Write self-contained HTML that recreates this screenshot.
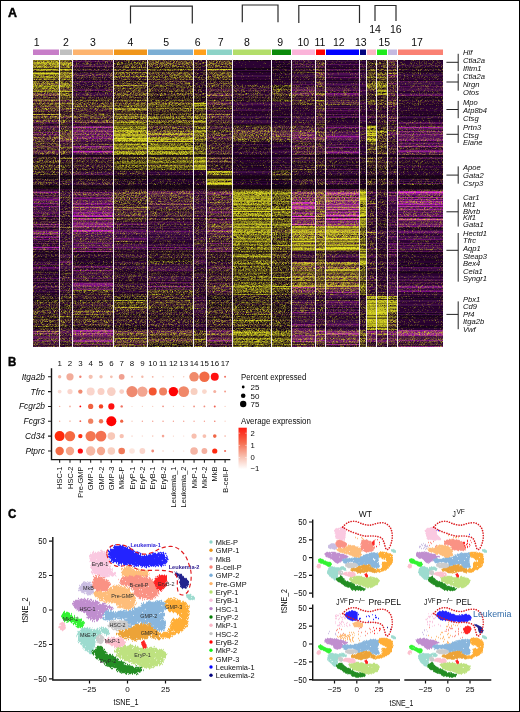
<!DOCTYPE html>
<html><head><meta charset="utf-8"><title>Figure</title>
<style>
html,body{margin:0;padding:0;background:#fff;}
body{width:520px;height:712px;overflow:hidden;position:relative;}
#frame{position:absolute;left:0;top:0;width:518px;height:710px;border:1px solid #000;background:#fff;}
svg{position:absolute;left:0;top:0;font-family:"Liberation Sans",sans-serif;}
</style></head><body>
<div id="frame"></div>
<svg width="520" height="712" viewBox="0 0 520 712" fill="#0a0a0a">
<g opacity="0.996">
<text x="8" y="16.9" font-size="12.8" font-weight="bold" fill="#000" stroke="#000" stroke-width=".45" textLength="9" lengthAdjust="spacingAndGlyphs">A</text>
<text x="8" y="366.1" font-size="12.8" font-weight="bold" fill="#000" stroke="#000" stroke-width=".45" textLength="8.3" lengthAdjust="spacingAndGlyphs">B</text>
<text x="8" y="518.3" font-size="12.8" font-weight="bold" fill="#000" stroke="#000" stroke-width=".45" textLength="8.3" lengthAdjust="spacingAndGlyphs">C</text>
<rect x="33" y="49.5" width="26" height="5.5" fill="#c77cc8"/>
<rect x="60" y="49.5" width="12" height="5.5" fill="#c0c0c0"/>
<rect x="73" y="49.5" width="40" height="5.5" fill="#fdb46e"/>
<rect x="114" y="49.5" width="33" height="5.5" fill="#f0961a"/>
<rect x="148" y="49.5" width="45" height="5.5" fill="#7bafd4"/>
<rect x="194" y="49.5" width="12" height="5.5" fill="#ffa01a"/>
<rect x="207" y="49.5" width="25" height="5.5" fill="#8dd3c7"/>
<rect x="233" y="49.5" width="38" height="5.5" fill="#b3de69"/>
<rect x="272" y="49.5" width="19" height="5.5" fill="#0a8a0a"/>
<rect x="292" y="49.5" width="23" height="5.5" fill="#fbb4d9"/>
<rect x="316" y="49.5" width="9" height="5.5" fill="#ff0000"/>
<rect x="326" y="49.5" width="33" height="5.5" fill="#0000ff"/>
<rect x="360" y="49.5" width="6" height="5.5" fill="#000080"/>
<rect x="367" y="49.5" width="9" height="5.5" fill="#fbb4c4"/>
<rect x="377" y="49.5" width="10" height="5.5" fill="#1eea1e"/>
<rect x="388" y="49.5" width="9" height="5.5" fill="#c5b9e0"/>
<rect x="398" y="49.5" width="45" height="5.5" fill="#fa8072"/>
<text x="36.75" y="45.5" font-size="10.5" text-anchor="middle">1</text>
<text x="66" y="45.5" font-size="10.5" text-anchor="middle">2</text>
<text x="93" y="45.5" font-size="10.5" text-anchor="middle">3</text>
<text x="130.3" y="45.5" font-size="10.5" text-anchor="middle">4</text>
<text x="166.25" y="45.5" font-size="10.5" text-anchor="middle">5</text>
<text x="197.75" y="45.5" font-size="10.5" text-anchor="middle">6</text>
<text x="220.75" y="45.5" font-size="10.5" text-anchor="middle">7</text>
<text x="247" y="45.5" font-size="10.5" text-anchor="middle">8</text>
<text x="280.25" y="45.5" font-size="10.5" text-anchor="middle">9</text>
<text x="303.25" y="45.5" font-size="10.5" text-anchor="middle">10</text>
<text x="320" y="45.5" font-size="10.5" text-anchor="middle">11</text>
<text x="338.75" y="45.5" font-size="10.5" text-anchor="middle">12</text>
<text x="360.75" y="45.5" font-size="10.5" text-anchor="middle">13</text>
<text x="375" y="33.2" font-size="10.5" text-anchor="middle">14</text>
<text x="384.25" y="45.5" font-size="10.5" text-anchor="middle">15</text>
<text x="395.75" y="33.2" font-size="10.5" text-anchor="middle">16</text>
<text x="417" y="45.5" font-size="10.5" text-anchor="middle">17</text>
<path d="M130.5 23.6V6.2H192.3V23.6" fill="none" stroke="#2a2a2a" stroke-width="1.2"/>
<path d="M242.3 22.3V5H278V22.3" fill="none" stroke="#2a2a2a" stroke-width="1.2"/>
<path d="M298.8 23V5.5H359.5V23" fill="none" stroke="#2a2a2a" stroke-width="1.2"/>
<path d="M375 21V5.5H396V21" fill="none" stroke="#2a2a2a" stroke-width="1.2"/>
<defs><pattern id="y1" width="43" height="31" patternUnits="userSpaceOnUse"><path stroke="#e6e620" stroke-opacity="0.1" d="M6 0.5h1M30 0.5h1M5 1.5h2M21 1.5h1M27 1.5h1M38 2.5h1M2 3.5h1M11 3.5h1M4 5.5h1M39 5.5h2M2 6.5h1M3 7.5h1M17 7.5h1M36 7.5h1M13 9.5h1M1 10.5h1M8 10.5h1M24 10.5h1M26 11.5h2M14 13.5h1M18 14.5h1M26 15.5h1M31 16.5h1M38 16.5h1M2 17.5h1M10 19.5h1M20 19.5h1M12 21.5h1M24 21.5h1M11 22.5h1M5 23.5h1M37 23.5h1M6 24.5h2M2 25.5h1M11 25.5h1M37 25.5h2M9 26.5h1M0 28.5h1M6 28.5h1M9 28.5h1M29 28.5h1M38 28.5h1M4 29.5h1M15 29.5h1M33 29.5h1"/><path stroke="#e6e620" stroke-opacity="0.2" d="M15 0.5h1M24 0.5h1M15 2.5h1M30 2.5h1M19 3.5h1M26 3.5h1M5 5.5h1M30 5.5h1M42 6.5h1M14 7.5h1M30 7.5h2M26 9.5h1M40 9.5h1M2 10.5h1M16 10.5h1M23 10.5h1M41 10.5h1M4 11.5h1M18 11.5h1M34 11.5h1M13 12.5h1M19 12.5h2M27 12.5h1M17 13.5h1M37 13.5h1M8 14.5h1M11 14.5h1M20 14.5h1M26 14.5h1M42 15.5h1M7 17.5h1M15 17.5h1M27 17.5h1M34 18.5h1M14 19.5h1M32 19.5h1M20 20.5h1M7 21.5h1M21 21.5h1M42 21.5h1M21 22.5h1M27 22.5h1M39 22.5h1M41 22.5h1M3 23.5h1M11 23.5h1M13 23.5h1M19 23.5h1M25 23.5h1M31 23.5h2M36 23.5h1M38 23.5h1M5 24.5h1M19 24.5h1M28 24.5h1M36 24.5h2M4 25.5h2M14 26.5h1M5 27.5h2M11 27.5h1M16 27.5h1M3 28.5h1M1 29.5h1M3 29.5h1M13 29.5h1M18 29.5h1M20 29.5h1M23 29.5h3M19 30.5h1M34 30.5h1M42 30.5h1"/><path stroke="#e6e620" stroke-opacity="0.3" d="M7 1.5h1M13 10.5h1M28 14.5h1M33 14.5h1M11 16.5h1"/><path stroke="#e6e620" stroke-opacity="0.4" d="M9 7.5h1M20 18.5h1M28 29.5h1"/><path stroke="#e6e620" stroke-opacity="0.5" d="M13 30.5h1"/></pattern><pattern id="y2" width="43" height="31" patternUnits="userSpaceOnUse"><path stroke="#e6e620" stroke-opacity="0.1" d="M11 0.5h1M21 0.5h1M32 0.5h1M41 0.5h1M16 1.5h1M40 1.5h1M2 2.5h1M10 2.5h1M25 2.5h1M37 2.5h1M9 3.5h1M18 3.5h1M39 3.5h1M39 4.5h1M11 5.5h1M18 5.5h1M20 5.5h2M11 6.5h1M17 6.5h1M39 6.5h1M24 7.5h1M28 7.5h1M34 7.5h2M6 8.5h2M30 8.5h1M39 8.5h1M1 9.5h1M4 9.5h1M18 9.5h1M33 9.5h1M40 9.5h1M1 10.5h1M3 10.5h1M26 10.5h1M29 10.5h1M39 10.5h2M7 11.5h1M13 11.5h1M26 11.5h1M36 11.5h1M10 12.5h1M17 12.5h1M29 12.5h2M8 14.5h1M16 14.5h2M31 14.5h1M7 15.5h1M10 15.5h1M24 15.5h1M28 15.5h1M35 15.5h1M4 16.5h1M6 16.5h1M11 16.5h1M21 16.5h1M4 17.5h1M11 17.5h1M14 17.5h1M17 17.5h1M34 17.5h1M5 18.5h2M42 18.5h1M10 19.5h1M35 19.5h2M13 20.5h1M15 20.5h1M27 20.5h1M31 20.5h1M36 20.5h1M11 21.5h1M3 22.5h1M7 22.5h1M11 22.5h1M18 22.5h1M41 22.5h1M2 23.5h2M17 23.5h1M40 23.5h1M12 24.5h2M35 24.5h1M8 25.5h1M19 25.5h1M26 25.5h1M30 25.5h1M34 25.5h1M37 25.5h1M1 27.5h1M13 27.5h1M26 27.5h1M2 28.5h1M39 28.5h1M8 29.5h2M19 29.5h1M27 29.5h1M35 30.5h1"/><path stroke="#e6e620" stroke-opacity="0.2" d="M1 0.5h1M12 0.5h1M18 0.5h1M25 0.5h1M35 0.5h1M40 0.5h1M6 1.5h1M26 1.5h1M30 1.5h2M33 1.5h1M5 2.5h1M20 2.5h1M22 2.5h1M29 2.5h1M21 3.5h1M38 3.5h1M10 4.5h1M20 4.5h1M24 4.5h1M27 4.5h1M41 4.5h1M2 5.5h1M5 5.5h1M9 5.5h1M14 5.5h2M22 5.5h1M32 5.5h1M34 5.5h1M7 6.5h1M12 6.5h1M19 6.5h1M0 7.5h1M5 7.5h2M10 7.5h2M15 7.5h3M19 7.5h2M26 7.5h2M38 7.5h1M2 8.5h1M4 8.5h1M19 8.5h1M21 8.5h1M28 8.5h1M31 8.5h1M38 8.5h1M41 8.5h1M5 9.5h1M7 9.5h1M22 9.5h1M24 9.5h1M14 10.5h1M25 10.5h1M36 10.5h2M8 11.5h1M15 11.5h1M27 11.5h1M31 11.5h2M37 11.5h1M8 12.5h1M12 12.5h2M21 12.5h1M28 12.5h1M31 12.5h1M37 12.5h1M17 13.5h1M19 13.5h1M22 13.5h1M21 14.5h1M24 14.5h1M28 14.5h1M30 14.5h1M0 15.5h1M2 15.5h1M6 15.5h1M13 15.5h1M25 15.5h1M27 15.5h1M30 15.5h1M33 15.5h2M36 15.5h1M5 16.5h1M12 16.5h1M33 16.5h1M39 16.5h1M16 17.5h1M18 17.5h1M21 17.5h2M31 17.5h1M39 17.5h2M4 18.5h1M14 18.5h2M26 18.5h1M12 19.5h1M15 19.5h1M19 19.5h1M22 19.5h1M1 20.5h1M11 20.5h1M24 20.5h1M40 20.5h1M7 21.5h1M12 21.5h1M26 21.5h2M29 21.5h1M32 21.5h1M35 21.5h1M12 22.5h1M16 22.5h1M22 22.5h1M5 23.5h1M9 23.5h1M15 23.5h1M19 23.5h1M41 23.5h1M1 24.5h2M28 24.5h1M37 24.5h1M0 25.5h1M11 25.5h1M27 25.5h1M29 25.5h1M35 25.5h1M40 25.5h1M42 25.5h1M35 26.5h1M9 27.5h1M21 27.5h1M25 27.5h1M28 27.5h1M30 27.5h1M41 27.5h2M9 28.5h1M14 28.5h2M23 28.5h1M28 28.5h1M33 28.5h1M42 28.5h1M3 29.5h1M12 29.5h1M18 29.5h1M26 29.5h1M36 29.5h1M21 30.5h1M31 30.5h1M38 30.5h1"/><path stroke="#e6e620" stroke-opacity="0.3" d="M19 4.5h1M18 7.5h1M15 8.5h1M27 8.5h1M36 8.5h1M25 9.5h1M2 10.5h1M22 10.5h1M42 10.5h1M17 11.5h1M21 15.5h1M23 15.5h1M10 18.5h1M24 19.5h1M32 22.5h1M8 24.5h1M11 24.5h1M41 25.5h1"/><path stroke="#e6e620" stroke-opacity="0.4" d="M25 6.5h1M11 11.5h1M23 11.5h1M6 12.5h1M27 12.5h1M11 14.5h1M19 17.5h1M9 21.5h1M36 27.5h1M27 28.5h1M17 29.5h1"/><path stroke="#e6e620" stroke-opacity="0.5" d="M5 10.5h1"/></pattern><pattern id="y3" width="43" height="31" patternUnits="userSpaceOnUse"><path stroke="#e6e620" stroke-opacity="0.1" d="M3 0.5h1M9 0.5h1M25 0.5h1M33 1.5h2M5 2.5h1M7 2.5h1M17 2.5h1M22 2.5h1M37 2.5h1M13 3.5h1M28 3.5h1M35 3.5h1M15 4.5h1M21 4.5h2M29 4.5h1M42 4.5h1M2 5.5h1M7 5.5h1M11 5.5h1M26 5.5h2M29 5.5h1M31 5.5h2M35 5.5h1M4 6.5h2M13 6.5h1M42 6.5h1M1 7.5h1M20 7.5h2M23 7.5h1M39 7.5h1M42 7.5h1M8 8.5h1M12 8.5h1M32 8.5h1M25 9.5h1M34 9.5h1M37 9.5h1M6 10.5h1M24 10.5h1M1 11.5h1M12 11.5h1M1 12.5h1M9 12.5h1M11 12.5h1M21 13.5h1M38 13.5h1M13 14.5h1M18 14.5h2M26 14.5h1M28 14.5h1M30 14.5h1M40 14.5h1M27 15.5h1M10 16.5h1M12 16.5h1M17 16.5h1M11 17.5h1M21 17.5h1M42 18.5h1M1 19.5h1M3 19.5h1M34 19.5h1M36 19.5h1M40 19.5h1M21 20.5h1M24 20.5h1M40 20.5h1M11 21.5h1M21 21.5h1M23 21.5h1M4 22.5h1M37 22.5h1M41 22.5h1M21 23.5h1M24 23.5h1M33 23.5h1M41 23.5h1M2 24.5h1M5 24.5h1M11 24.5h1M28 24.5h1M32 24.5h1M34 24.5h1M12 25.5h1M16 25.5h1M23 25.5h1M25 25.5h1M28 25.5h1M30 25.5h1M33 25.5h1M39 25.5h1M16 26.5h1M18 26.5h1M23 26.5h1M34 26.5h1M42 26.5h1M12 27.5h1M27 27.5h1M30 27.5h1M41 27.5h1M0 28.5h1M12 28.5h1M22 28.5h2M28 28.5h1M33 28.5h1M38 28.5h1M41 28.5h1M4 29.5h1M8 29.5h1M9 30.5h1M24 30.5h1M37 30.5h1"/><path stroke="#e6e620" stroke-opacity="0.2" d="M2 0.5h1M7 0.5h2M10 0.5h1M13 0.5h1M23 0.5h1M27 0.5h1M34 0.5h1M37 0.5h1M39 0.5h1M0 1.5h1M2 1.5h1M5 1.5h2M9 1.5h1M15 1.5h1M17 1.5h1M23 1.5h1M27 1.5h1M32 1.5h1M37 1.5h3M41 1.5h1M0 2.5h1M11 2.5h1M14 2.5h1M18 2.5h1M24 2.5h1M26 2.5h1M30 2.5h1M32 2.5h1M35 2.5h1M39 2.5h1M2 3.5h2M5 3.5h1M8 3.5h2M12 3.5h1M18 3.5h1M20 3.5h1M26 3.5h1M33 3.5h2M42 3.5h1M1 4.5h1M6 4.5h1M18 4.5h1M23 4.5h1M25 4.5h2M30 4.5h4M40 4.5h2M15 5.5h1M19 5.5h1M22 5.5h1M28 5.5h1M30 5.5h1M37 5.5h1M2 6.5h1M14 6.5h1M18 6.5h1M20 6.5h3M25 6.5h1M28 6.5h1M30 6.5h1M34 6.5h1M40 6.5h1M0 7.5h1M3 7.5h1M5 7.5h2M9 7.5h1M15 7.5h4M25 7.5h1M40 7.5h1M2 8.5h2M9 8.5h1M15 8.5h2M25 8.5h2M37 8.5h3M2 9.5h2M7 9.5h1M17 9.5h1M21 9.5h1M23 9.5h1M31 9.5h3M35 9.5h2M4 10.5h1M8 10.5h1M11 10.5h1M13 10.5h2M19 10.5h1M25 10.5h1M27 10.5h1M30 10.5h1M33 10.5h1M40 10.5h1M0 11.5h1M2 11.5h1M16 11.5h2M25 11.5h3M29 11.5h1M36 11.5h1M42 11.5h1M0 12.5h1M6 12.5h1M12 12.5h1M26 12.5h2M4 13.5h1M6 13.5h1M31 13.5h1M35 13.5h1M1 14.5h1M3 14.5h1M5 14.5h1M7 14.5h2M17 14.5h1M32 14.5h1M34 14.5h2M38 14.5h2M5 15.5h1M12 15.5h2M17 15.5h1M21 15.5h1M23 15.5h1M28 15.5h1M30 15.5h3M34 15.5h1M40 15.5h1M42 15.5h1M5 16.5h1M8 16.5h1M16 16.5h1M26 16.5h1M32 16.5h1M36 16.5h1M3 17.5h1M14 17.5h1M28 17.5h2M37 17.5h2M2 18.5h1M10 18.5h1M12 18.5h1M17 18.5h1M29 18.5h1M36 18.5h1M39 18.5h2M16 19.5h1M21 19.5h1M23 19.5h1M27 19.5h2M4 20.5h1M14 20.5h1M29 20.5h1M33 20.5h1M36 20.5h1M38 20.5h2M42 20.5h1M1 21.5h1M4 21.5h1M10 21.5h1M26 21.5h4M31 21.5h4M42 21.5h1M0 22.5h1M15 22.5h1M18 22.5h1M27 22.5h1M0 23.5h1M6 23.5h2M12 23.5h1M23 23.5h1M25 23.5h1M27 23.5h1M30 23.5h1M34 23.5h2M7 24.5h2M10 24.5h1M25 24.5h1M30 24.5h2M36 24.5h1M38 24.5h1M40 24.5h1M3 25.5h1M10 25.5h2M14 25.5h1M34 25.5h1M40 25.5h1M11 26.5h1M33 26.5h1M38 26.5h1M40 26.5h2M1 27.5h1M5 27.5h1M9 27.5h1M11 27.5h1M16 27.5h1M22 27.5h1M29 27.5h1M31 27.5h2M34 27.5h1M38 27.5h1M5 28.5h1M7 28.5h1M9 28.5h1M13 28.5h1M20 28.5h2M31 28.5h1M40 28.5h1M0 29.5h1M6 29.5h2M16 29.5h1M24 29.5h2M28 29.5h1M32 29.5h1M36 29.5h2M7 30.5h1M30 30.5h1M32 30.5h1M35 30.5h1M39 30.5h1"/><path stroke="#e6e620" stroke-opacity="0.3" d="M14 0.5h1M32 0.5h1M29 1.5h1M42 1.5h1M5 4.5h1M38 4.5h1M3 6.5h1M8 6.5h1M12 6.5h1M19 7.5h1M31 7.5h1M33 7.5h1M10 8.5h1M27 8.5h1M12 10.5h1M15 10.5h1M22 10.5h1M28 10.5h1M39 11.5h1M13 12.5h1M20 12.5h1M20 14.5h1M2 15.5h1M4 15.5h1M20 16.5h1M42 17.5h1M22 20.5h1M26 23.5h1M36 23.5h1M40 23.5h1M26 24.5h1M41 24.5h1"/><path stroke="#e6e620" stroke-opacity="0.4" d="M24 1.5h1M1 2.5h1M15 2.5h2M7 4.5h1M29 6.5h1M8 7.5h1M13 7.5h1M29 7.5h1M34 7.5h1M38 7.5h1M33 8.5h1M41 8.5h1M20 9.5h1M31 10.5h1M33 11.5h1M33 12.5h1M25 13.5h1M6 15.5h1M37 15.5h1M7 17.5h1M16 17.5h1M12 19.5h1M39 19.5h1M18 21.5h1M38 23.5h1M12 24.5h1M39 24.5h1M6 25.5h1M24 25.5h1M31 26.5h1M2 27.5h1M25 28.5h1M37 28.5h1M2 29.5h1M17 29.5h1M41 29.5h1M3 30.5h1"/><path stroke="#e6e620" stroke-opacity="0.5" d="M11 4.5h1M35 6.5h1M12 7.5h1M31 11.5h1M17 13.5h1M25 14.5h1M30 19.5h1"/><path stroke="#e6e620" stroke-opacity="0.6" d="M31 8.5h1M26 29.5h1"/></pattern><pattern id="y4" width="43" height="31" patternUnits="userSpaceOnUse"><path stroke="#e6e620" stroke-opacity="0.1" d="M16 0.5h1M40 0.5h1M9 1.5h1M22 1.5h1M28 1.5h2M34 1.5h1M7 2.5h1M22 2.5h2M28 2.5h1M31 2.5h1M36 2.5h2M9 3.5h1M23 3.5h1M36 3.5h1M38 3.5h1M5 4.5h1M7 4.5h1M10 4.5h1M14 4.5h1M20 4.5h1M23 5.5h1M11 6.5h1M18 6.5h1M26 6.5h1M30 6.5h1M37 6.5h1M39 6.5h1M11 7.5h1M13 7.5h1M19 7.5h1M30 7.5h1M41 7.5h1M0 8.5h1M9 8.5h1M11 8.5h1M17 8.5h1M19 8.5h1M0 9.5h1M5 9.5h1M30 9.5h1M36 9.5h1M42 9.5h1M6 10.5h2M12 10.5h2M40 10.5h1M0 11.5h1M2 11.5h1M6 11.5h1M13 11.5h2M17 11.5h1M20 11.5h2M24 11.5h1M27 11.5h1M2 12.5h1M33 12.5h1M41 12.5h1M10 13.5h1M21 13.5h1M23 13.5h1M9 14.5h1M14 14.5h1M17 14.5h1M20 14.5h1M22 14.5h1M25 14.5h1M38 14.5h2M30 15.5h1M33 15.5h1M4 16.5h1M12 16.5h1M26 16.5h1M29 16.5h1M35 16.5h1M6 17.5h1M10 17.5h1M36 17.5h2M13 18.5h1M20 18.5h2M28 18.5h1M40 18.5h1M27 19.5h1M42 19.5h1M18 20.5h1M32 20.5h1M39 20.5h1M22 21.5h1M29 21.5h1M36 21.5h1M5 22.5h1M13 22.5h1M20 22.5h1M26 22.5h2M10 23.5h1M13 23.5h1M17 23.5h1M24 23.5h1M28 23.5h1M30 23.5h1M32 23.5h1M9 24.5h1M15 24.5h1M6 25.5h1M8 25.5h1M20 25.5h2M27 25.5h1M42 25.5h1M4 26.5h1M12 26.5h2M25 26.5h1M16 27.5h1M27 27.5h1M33 27.5h1M3 28.5h1M38 28.5h1M20 29.5h1M29 29.5h1M40 29.5h2M0 30.5h1M11 30.5h1M35 30.5h2"/><path stroke="#e6e620" stroke-opacity="0.2" d="M0 0.5h1M4 0.5h2M11 0.5h1M13 0.5h1M24 0.5h1M26 0.5h3M36 0.5h1M42 0.5h1M4 1.5h1M10 1.5h1M13 1.5h2M16 1.5h2M19 1.5h1M21 1.5h1M24 1.5h1M27 1.5h1M30 1.5h1M39 1.5h1M41 1.5h1M3 2.5h1M11 2.5h1M14 2.5h2M18 2.5h1M26 2.5h1M41 2.5h2M3 3.5h1M8 3.5h1M18 3.5h1M25 3.5h1M28 3.5h2M32 3.5h3M39 3.5h1M0 4.5h5M6 4.5h1M8 4.5h1M11 4.5h2M15 4.5h1M17 4.5h3M22 4.5h3M34 4.5h1M36 4.5h1M41 4.5h2M6 5.5h1M11 5.5h1M13 5.5h1M20 5.5h1M22 5.5h1M29 5.5h1M31 5.5h1M33 5.5h1M36 5.5h1M40 5.5h1M3 6.5h2M14 6.5h1M20 6.5h1M24 6.5h2M28 6.5h1M34 6.5h2M38 6.5h1M40 6.5h3M0 7.5h3M5 7.5h1M9 7.5h1M16 7.5h2M20 7.5h1M25 7.5h1M29 7.5h1M31 7.5h1M35 7.5h1M37 7.5h1M39 7.5h1M5 8.5h1M7 8.5h1M12 8.5h1M15 8.5h1M20 8.5h1M27 8.5h1M33 8.5h1M40 8.5h1M2 9.5h1M4 9.5h1M6 9.5h3M12 9.5h1M14 9.5h1M20 9.5h1M24 9.5h1M37 9.5h2M40 9.5h1M0 10.5h2M4 10.5h2M9 10.5h1M14 10.5h1M16 10.5h2M19 10.5h1M21 10.5h3M25 10.5h1M30 10.5h1M32 10.5h2M37 10.5h1M39 10.5h1M42 10.5h1M1 11.5h1M5 11.5h1M15 11.5h2M30 11.5h1M34 11.5h1M37 11.5h1M0 12.5h1M10 12.5h2M13 12.5h2M18 12.5h1M20 12.5h1M22 12.5h1M24 12.5h1M27 12.5h1M30 12.5h2M3 13.5h1M20 13.5h1M24 13.5h1M26 13.5h1M36 13.5h3M1 14.5h1M3 14.5h1M6 14.5h2M16 14.5h1M19 14.5h1M26 14.5h1M30 14.5h1M32 14.5h2M36 14.5h1M40 14.5h2M1 15.5h1M5 15.5h5M14 15.5h1M18 15.5h1M22 15.5h1M27 15.5h2M34 15.5h1M36 15.5h1M41 15.5h2M5 16.5h1M8 16.5h3M14 16.5h1M16 16.5h1M30 16.5h1M36 16.5h2M40 16.5h1M3 17.5h1M8 17.5h2M11 17.5h1M13 17.5h2M18 17.5h1M25 17.5h1M30 17.5h1M32 17.5h1M40 17.5h1M1 18.5h1M4 18.5h1M15 18.5h1M18 18.5h2M23 18.5h1M32 18.5h1M38 18.5h2M3 19.5h1M6 19.5h1M13 19.5h3M18 19.5h1M22 19.5h2M26 19.5h1M32 19.5h1M34 19.5h1M36 19.5h1M39 19.5h1M9 20.5h1M11 20.5h2M14 20.5h1M19 20.5h1M22 20.5h2M33 20.5h1M36 20.5h1M42 20.5h1M0 21.5h1M8 21.5h3M12 21.5h2M16 21.5h1M25 21.5h1M28 21.5h1M33 21.5h1M35 21.5h1M42 21.5h1M10 22.5h1M14 22.5h1M19 22.5h1M22 22.5h1M24 22.5h1M32 22.5h1M36 22.5h1M7 23.5h1M14 23.5h1M16 23.5h1M18 23.5h1M36 23.5h2M2 24.5h3M8 24.5h1M24 24.5h2M28 24.5h1M30 24.5h3M38 24.5h3M1 25.5h1M9 25.5h3M13 25.5h1M19 25.5h1M22 25.5h1M24 25.5h1M28 25.5h3M32 25.5h1M34 25.5h1M36 25.5h1M41 25.5h1M0 26.5h1M5 26.5h1M10 26.5h2M18 26.5h3M22 26.5h2M27 26.5h1M29 26.5h1M31 26.5h1M33 26.5h1M37 26.5h1M39 26.5h1M41 26.5h1M1 27.5h1M3 27.5h1M9 27.5h1M11 27.5h1M19 27.5h1M22 27.5h1M24 27.5h3M28 27.5h1M30 27.5h2M35 27.5h1M41 27.5h1M1 28.5h2M5 28.5h1M9 28.5h2M12 28.5h1M14 28.5h2M21 28.5h2M29 28.5h1M36 28.5h2M42 28.5h1M0 29.5h1M2 29.5h1M4 29.5h1M16 29.5h1M18 29.5h1M21 29.5h2M26 29.5h1M30 29.5h1M32 29.5h1M34 29.5h1M38 29.5h1M1 30.5h3M21 30.5h1M25 30.5h1M30 30.5h1M37 30.5h1M42 30.5h1"/><path stroke="#e6e620" stroke-opacity="0.3" d="M33 0.5h1M11 1.5h1M40 1.5h1M0 2.5h2M4 2.5h2M4 3.5h1M20 3.5h1M13 4.5h1M8 6.5h1M31 6.5h1M34 7.5h1M42 7.5h1M10 8.5h1M21 8.5h1M35 8.5h2M42 8.5h1M3 9.5h1M29 9.5h1M33 9.5h1M10 10.5h2M32 11.5h1M12 12.5h1M17 12.5h1M26 12.5h1M29 12.5h1M0 14.5h1M29 14.5h1M10 15.5h1M19 15.5h1M35 15.5h1M38 15.5h1M0 16.5h1M24 16.5h2M7 17.5h1M20 17.5h1M10 18.5h1M14 18.5h1M2 20.5h1M41 20.5h1M21 21.5h1M40 22.5h1M1 23.5h1M19 23.5h1M29 23.5h1M42 23.5h1M10 24.5h1M14 24.5h1M26 24.5h1M25 25.5h1M0 27.5h1M6 28.5h1M12 29.5h1M17 29.5h1M9 30.5h1M12 30.5h1M20 30.5h1M29 30.5h1"/><path stroke="#e6e620" stroke-opacity="0.4" d="M1 0.5h1M21 0.5h1M0 1.5h1M2 1.5h1M33 1.5h1M35 1.5h1M8 2.5h1M33 2.5h1M30 3.5h1M26 4.5h1M32 4.5h1M27 5.5h1M1 6.5h1M15 6.5h1M33 6.5h1M3 7.5h2M8 7.5h1M18 7.5h1M22 7.5h1M26 7.5h1M32 7.5h1M11 9.5h1M18 9.5h1M26 10.5h1M41 10.5h1M4 11.5h1M23 11.5h1M25 13.5h1M8 14.5h1M24 14.5h1M3 15.5h1M12 15.5h2M23 15.5h1M26 15.5h1M39 15.5h1M26 17.5h1M8 19.5h1M29 20.5h2M26 21.5h1M31 21.5h1M23 22.5h1M12 23.5h1M22 23.5h1M34 23.5h1M13 24.5h1M16 24.5h1M20 24.5h1M29 24.5h1M23 25.5h1M26 25.5h1M38 25.5h1M2 26.5h1M4 27.5h1M23 27.5h1M0 28.5h1M4 28.5h1M23 29.5h1M33 29.5h1M42 29.5h1M19 30.5h1"/><path stroke="#e6e620" stroke-opacity="0.5" d="M19 0.5h1M1 1.5h1M19 5.5h1M36 6.5h1M12 7.5h1M40 7.5h1M26 9.5h1M16 15.5h1M7 16.5h1M18 16.5h1M34 16.5h1M37 19.5h1M34 21.5h1M6 23.5h1M5 24.5h1M31 28.5h1"/><path stroke="#e6e620" stroke-opacity="0.6" d="M25 11.5h1M38 16.5h1M6 21.5h1M20 28.5h1M25 29.5h1"/></pattern><pattern id="y5" width="43" height="31" patternUnits="userSpaceOnUse"><path stroke="#e6e620" stroke-opacity="0.1" d="M4 0.5h1M6 0.5h1M19 0.5h2M26 0.5h1M5 1.5h1M10 1.5h1M12 1.5h1M26 1.5h1M29 1.5h1M36 1.5h1M0 2.5h1M15 2.5h1M18 2.5h1M35 2.5h1M39 2.5h1M4 3.5h1M13 3.5h1M18 3.5h1M21 3.5h1M29 3.5h1M31 3.5h1M26 4.5h1M37 4.5h1M1 5.5h1M4 5.5h2M33 5.5h1M2 6.5h1M14 6.5h1M16 6.5h1M19 6.5h1M22 6.5h1M24 6.5h1M30 6.5h3M37 6.5h1M3 7.5h1M7 7.5h1M10 7.5h1M30 7.5h1M37 7.5h1M42 7.5h1M7 8.5h2M16 8.5h1M22 8.5h1M36 8.5h1M39 8.5h1M41 8.5h1M0 9.5h1M23 9.5h1M8 10.5h2M16 10.5h1M23 10.5h1M38 10.5h1M3 11.5h1M10 11.5h1M13 11.5h1M39 11.5h2M1 12.5h1M8 12.5h1M22 12.5h1M39 12.5h1M19 13.5h1M33 13.5h1M35 13.5h1M1 14.5h1M8 14.5h1M10 14.5h1M20 14.5h1M35 14.5h1M38 14.5h1M3 15.5h1M18 15.5h1M28 15.5h1M30 15.5h1M17 16.5h1M20 16.5h1M30 16.5h1M34 16.5h1M2 17.5h2M37 17.5h2M40 17.5h1M22 18.5h1M30 18.5h1M38 18.5h1M11 19.5h1M15 19.5h1M20 19.5h1M32 19.5h1M14 20.5h1M27 20.5h1M36 20.5h1M2 21.5h1M5 21.5h1M7 21.5h1M13 21.5h1M15 21.5h1M29 21.5h3M42 21.5h1M21 22.5h1M23 22.5h1M30 22.5h1M32 22.5h1M40 22.5h1M8 23.5h1M12 23.5h1M18 23.5h1M21 23.5h1M26 23.5h1M42 23.5h1M5 24.5h1M2 25.5h1M5 25.5h1M7 25.5h1M23 25.5h1M25 25.5h1M32 25.5h2M41 25.5h1M12 26.5h1M17 26.5h1M23 26.5h2M37 26.5h1M39 26.5h1M3 27.5h1M9 27.5h2M29 27.5h1M34 27.5h1M1 28.5h1M33 28.5h1M0 29.5h2M5 29.5h1M15 29.5h1M35 29.5h1M6 30.5h1M9 30.5h1M12 30.5h2M19 30.5h1M21 30.5h1M39 30.5h2"/><path stroke="#e6e620" stroke-opacity="0.2" d="M2 0.5h1M11 0.5h3M16 0.5h2M21 0.5h5M32 0.5h1M35 0.5h2M41 0.5h1M2 1.5h3M7 1.5h1M11 1.5h1M20 1.5h2M25 1.5h1M37 1.5h6M1 2.5h4M8 2.5h1M10 2.5h1M16 2.5h1M22 2.5h1M24 2.5h4M33 2.5h2M41 2.5h1M2 3.5h1M7 3.5h1M10 3.5h3M14 3.5h2M19 3.5h1M22 3.5h2M26 3.5h1M30 3.5h1M32 3.5h1M35 3.5h1M38 3.5h2M41 3.5h2M1 4.5h2M11 4.5h1M19 4.5h1M28 4.5h1M30 4.5h1M32 4.5h1M36 4.5h1M41 4.5h1M0 5.5h1M2 5.5h1M7 5.5h1M11 5.5h2M16 5.5h2M23 5.5h1M25 5.5h2M37 5.5h1M40 5.5h2M5 6.5h2M8 6.5h1M13 6.5h1M17 6.5h2M33 6.5h1M36 6.5h1M38 6.5h1M40 6.5h2M2 7.5h1M5 7.5h1M11 7.5h2M14 7.5h1M18 7.5h1M21 7.5h5M33 7.5h2M36 7.5h1M38 7.5h1M40 7.5h1M2 8.5h1M9 8.5h2M15 8.5h1M21 8.5h1M25 8.5h1M31 8.5h1M33 8.5h2M42 8.5h1M2 9.5h1M5 9.5h1M13 9.5h2M17 9.5h1M19 9.5h2M24 9.5h1M30 9.5h2M34 9.5h4M40 9.5h2M0 10.5h1M6 10.5h2M11 10.5h1M13 10.5h1M15 10.5h1M21 10.5h1M28 10.5h1M30 10.5h3M34 10.5h1M36 10.5h1M39 10.5h1M1 11.5h2M7 11.5h1M15 11.5h1M32 11.5h1M34 11.5h1M37 11.5h2M41 11.5h1M0 12.5h1M10 12.5h2M15 12.5h2M18 12.5h1M25 12.5h1M32 12.5h1M35 12.5h1M40 12.5h1M3 13.5h1M10 13.5h2M23 13.5h1M25 13.5h1M29 13.5h1M37 13.5h1M40 13.5h2M18 14.5h2M21 14.5h1M30 14.5h1M36 14.5h1M39 14.5h1M9 15.5h1M13 15.5h1M16 15.5h1M19 15.5h1M22 15.5h1M25 15.5h1M31 15.5h4M36 15.5h2M3 16.5h1M5 16.5h3M11 16.5h1M15 16.5h1M27 16.5h1M36 16.5h2M42 16.5h1M5 17.5h1M12 17.5h3M18 17.5h1M22 17.5h1M25 17.5h1M28 17.5h2M32 17.5h1M34 17.5h1M36 17.5h1M6 18.5h2M11 18.5h1M21 18.5h1M32 18.5h1M34 18.5h1M37 18.5h1M40 18.5h1M1 19.5h2M5 19.5h1M12 19.5h1M16 19.5h1M19 19.5h1M29 19.5h1M31 19.5h1M33 19.5h1M35 19.5h3M39 19.5h1M0 20.5h1M4 20.5h1M16 20.5h1M19 20.5h1M22 20.5h1M25 20.5h2M29 20.5h2M40 20.5h1M6 21.5h1M10 21.5h3M17 21.5h3M23 21.5h1M25 21.5h1M28 21.5h1M34 21.5h1M40 21.5h1M0 22.5h1M2 22.5h1M5 22.5h1M7 22.5h2M10 22.5h2M18 22.5h1M20 22.5h1M24 22.5h2M29 22.5h1M31 22.5h1M5 23.5h1M13 23.5h1M15 23.5h2M19 23.5h1M23 23.5h1M32 23.5h1M34 23.5h1M38 23.5h2M0 24.5h1M6 24.5h5M13 24.5h1M26 24.5h1M30 24.5h1M33 24.5h2M37 24.5h1M39 24.5h2M9 25.5h1M11 25.5h1M16 25.5h1M22 25.5h1M24 25.5h1M28 25.5h3M0 26.5h2M10 26.5h1M16 26.5h1M20 26.5h2M29 26.5h1M35 26.5h2M40 26.5h1M2 27.5h1M6 27.5h1M19 27.5h1M23 27.5h1M33 27.5h1M39 27.5h1M41 27.5h1M0 28.5h1M4 28.5h1M7 28.5h1M11 28.5h2M21 28.5h2M34 28.5h1M37 28.5h1M41 28.5h2M2 29.5h1M10 29.5h1M14 29.5h1M18 29.5h1M26 29.5h2M33 29.5h2M36 29.5h1M38 29.5h1M2 30.5h1M10 30.5h1M14 30.5h1M18 30.5h1M29 30.5h1M37 30.5h1M42 30.5h1"/><path stroke="#e6e620" stroke-opacity="0.3" d="M30 0.5h1M14 1.5h1M18 1.5h1M27 1.5h1M30 1.5h1M7 2.5h1M9 2.5h1M12 2.5h1M17 2.5h1M28 2.5h1M38 2.5h1M8 3.5h1M17 3.5h1M5 4.5h1M7 4.5h1M16 4.5h1M18 4.5h1M22 4.5h1M25 4.5h1M31 4.5h1M6 5.5h1M22 5.5h1M28 5.5h1M10 6.5h1M15 6.5h1M28 6.5h1M34 6.5h2M0 7.5h1M4 7.5h1M28 7.5h1M39 7.5h1M5 8.5h1M7 9.5h1M12 9.5h1M16 9.5h1M22 9.5h1M32 9.5h1M24 10.5h1M29 10.5h1M5 11.5h2M12 11.5h1M26 11.5h1M31 11.5h1M24 12.5h1M31 12.5h1M42 12.5h1M2 13.5h1M7 13.5h1M28 13.5h1M0 14.5h1M3 14.5h1M23 14.5h1M37 14.5h1M41 14.5h1M20 15.5h1M23 15.5h1M40 15.5h1M26 16.5h1M31 17.5h1M35 17.5h1M26 18.5h1M33 18.5h1M35 18.5h1M6 19.5h1M9 19.5h1M7 20.5h1M13 20.5h1M13 22.5h1M15 22.5h1M17 22.5h1M17 23.5h1M27 23.5h1M30 23.5h1M41 23.5h1M18 24.5h1M23 24.5h1M25 24.5h1M42 24.5h1M1 25.5h1M4 25.5h1M38 26.5h1M7 27.5h1M18 27.5h1M21 27.5h2M26 27.5h1M40 27.5h1M6 28.5h1M8 28.5h1M23 28.5h1M28 28.5h1M31 28.5h1M35 28.5h1M24 29.5h1M40 29.5h2M15 30.5h1"/><path stroke="#e6e620" stroke-opacity="0.4" d="M1 0.5h1M33 0.5h1M38 0.5h1M13 1.5h1M15 1.5h1M23 1.5h1M31 1.5h1M36 2.5h1M42 2.5h1M24 3.5h1M37 3.5h1M4 4.5h1M34 4.5h1M38 4.5h1M40 4.5h1M42 4.5h1M9 5.5h1M24 5.5h1M27 5.5h1M34 5.5h1M1 6.5h1M11 6.5h1M21 6.5h1M27 6.5h1M6 7.5h1M15 7.5h2M20 8.5h1M40 8.5h1M4 9.5h1M38 9.5h1M12 10.5h1M18 10.5h1M22 10.5h1M33 10.5h1M35 10.5h1M37 10.5h1M40 10.5h1M0 11.5h1M11 11.5h1M16 11.5h1M18 11.5h1M20 11.5h1M23 11.5h1M7 12.5h1M13 12.5h2M33 12.5h1M30 13.5h1M34 13.5h1M13 14.5h1M15 14.5h1M24 14.5h1M27 14.5h1M40 14.5h1M0 15.5h2M6 15.5h2M11 15.5h1M24 15.5h1M19 16.5h1M29 16.5h1M0 17.5h1M9 17.5h1M11 17.5h1M15 17.5h1M27 17.5h1M42 18.5h1M20 20.5h2M0 21.5h1M24 21.5h1M37 21.5h2M42 22.5h1M4 23.5h1M10 23.5h1M33 23.5h1M37 23.5h1M4 24.5h1M12 24.5h1M14 24.5h1M16 24.5h1M20 24.5h1M27 24.5h1M36 24.5h1M38 24.5h1M3 25.5h1M8 25.5h1M10 25.5h1M19 25.5h1M37 25.5h1M5 27.5h1M16 27.5h1M27 27.5h2M35 27.5h1M3 28.5h1M17 28.5h1M20 28.5h1M6 29.5h1M17 29.5h1M20 29.5h1M28 29.5h1M42 29.5h1M26 30.5h1"/><path stroke="#e6e620" stroke-opacity="0.5" d="M40 0.5h1M24 1.5h1M28 1.5h1M20 3.5h1M33 3.5h1M40 3.5h1M10 4.5h1M36 5.5h1M9 7.5h1M13 7.5h1M32 8.5h1M21 9.5h1M20 12.5h1M16 13.5h1M22 14.5h1M14 15.5h1M27 15.5h1M29 15.5h1M30 17.5h1M5 18.5h1M23 18.5h1M31 20.5h1M1 21.5h1M14 22.5h1M14 23.5h1M22 23.5h1M35 23.5h1M27 25.5h1M13 28.5h1M19 28.5h1M26 28.5h1M38 28.5h1M40 28.5h1M21 29.5h1"/><path stroke="#e6e620" stroke-opacity="0.6" d="M42 0.5h1M14 2.5h1M10 5.5h1M39 6.5h1M19 7.5h1M26 7.5h1M9 9.5h1M42 9.5h1M1 10.5h2M25 11.5h1M6 12.5h1M4 13.5h1M39 13.5h1M34 14.5h1M42 14.5h1M26 15.5h1M33 16.5h1M1 17.5h1M37 22.5h1M40 23.5h1M2 24.5h1M6 25.5h1M17 25.5h1M29 29.5h1M0 30.5h1"/><path stroke="#e6e620" stroke-opacity="0.72" d="M31 0.5h1"/></pattern><pattern id="y6" width="43" height="31" patternUnits="userSpaceOnUse"><path stroke="#e6e620" stroke-opacity="0.1" d="M11 0.5h1M19 0.5h1M34 0.5h1M38 0.5h1M40 0.5h1M8 1.5h1M24 1.5h1M29 1.5h1M40 1.5h1M9 2.5h1M16 2.5h1M22 2.5h2M25 2.5h1M38 2.5h1M41 2.5h1M7 3.5h1M20 3.5h1M25 3.5h2M31 3.5h1M3 4.5h1M9 4.5h1M15 4.5h1M22 4.5h2M25 4.5h1M32 4.5h1M40 4.5h1M0 5.5h1M16 5.5h1M34 5.5h1M1 6.5h2M16 6.5h1M28 6.5h1M1 7.5h1M21 7.5h1M7 8.5h1M12 8.5h1M14 8.5h3M19 8.5h1M34 8.5h1M39 8.5h1M10 9.5h1M17 9.5h1M19 9.5h1M37 9.5h1M39 9.5h1M8 10.5h1M35 10.5h1M41 10.5h1M19 11.5h1M21 11.5h1M32 11.5h1M37 11.5h1M0 12.5h1M3 12.5h1M9 12.5h2M13 12.5h1M0 13.5h1M2 13.5h2M7 13.5h1M21 13.5h1M25 13.5h1M29 13.5h2M8 14.5h1M18 14.5h1M21 14.5h1M23 14.5h2M26 14.5h1M31 14.5h1M38 14.5h1M41 14.5h1M1 15.5h1M16 15.5h1M25 15.5h2M37 15.5h1M39 15.5h1M42 15.5h1M2 16.5h1M10 16.5h1M27 16.5h2M32 16.5h1M36 16.5h1M2 17.5h2M11 17.5h1M20 17.5h1M22 17.5h1M29 17.5h1M39 17.5h1M6 18.5h1M20 18.5h1M38 18.5h1M17 19.5h1M33 19.5h1M36 19.5h2M42 19.5h1M3 20.5h1M10 20.5h1M21 20.5h1M29 20.5h1M4 21.5h1M22 21.5h1M36 21.5h1M40 21.5h1M42 21.5h1M3 22.5h1M10 22.5h1M21 22.5h1M0 23.5h2M17 23.5h1M19 23.5h1M21 23.5h1M38 23.5h1M7 24.5h1M17 24.5h2M7 25.5h1M10 25.5h1M15 25.5h1M18 25.5h2M26 25.5h1M37 25.5h1M42 25.5h1M12 26.5h1M15 26.5h1M28 26.5h1M32 26.5h1M34 26.5h2M4 27.5h2M15 27.5h1M22 27.5h1M28 27.5h1M32 27.5h1M2 28.5h1M32 28.5h1M36 28.5h1M17 29.5h1M28 29.5h1M39 29.5h1M1 30.5h1M33 30.5h2"/><path stroke="#e6e620" stroke-opacity="0.2" d="M1 0.5h1M3 0.5h1M7 0.5h1M16 0.5h1M18 0.5h1M20 0.5h2M24 0.5h1M31 0.5h1M36 0.5h2M39 0.5h1M1 1.5h1M4 1.5h1M6 1.5h1M10 1.5h1M13 1.5h3M20 1.5h1M25 1.5h1M32 1.5h1M34 1.5h1M4 2.5h1M13 2.5h1M17 2.5h1M19 2.5h1M32 2.5h2M42 2.5h1M0 3.5h5M8 3.5h3M13 3.5h2M17 3.5h3M27 3.5h1M29 3.5h1M33 3.5h1M39 3.5h1M0 4.5h1M5 4.5h1M8 4.5h1M12 4.5h1M14 4.5h1M18 4.5h2M26 4.5h1M29 4.5h1M33 4.5h1M36 4.5h1M38 4.5h2M41 4.5h2M2 5.5h1M4 5.5h1M6 5.5h2M15 5.5h1M18 5.5h1M20 5.5h2M23 5.5h1M30 5.5h1M32 5.5h1M36 5.5h1M39 5.5h2M0 6.5h1M8 6.5h1M10 6.5h1M25 6.5h3M30 6.5h1M33 6.5h1M36 6.5h2M3 7.5h1M10 7.5h1M18 7.5h1M22 7.5h2M25 7.5h1M28 7.5h4M33 7.5h1M35 7.5h1M1 8.5h2M8 8.5h1M10 8.5h2M22 8.5h3M27 8.5h3M31 8.5h1M33 8.5h1M35 8.5h1M37 8.5h1M40 8.5h1M0 9.5h1M2 9.5h1M5 9.5h2M18 9.5h1M21 9.5h1M24 9.5h1M27 9.5h1M29 9.5h3M34 9.5h3M38 9.5h1M40 9.5h1M1 10.5h2M5 10.5h1M12 10.5h2M16 10.5h1M19 10.5h2M23 10.5h2M26 10.5h1M30 10.5h1M33 10.5h2M37 10.5h1M12 11.5h1M15 11.5h1M17 11.5h1M22 11.5h1M24 11.5h1M26 11.5h2M33 11.5h1M36 11.5h1M6 12.5h1M8 12.5h1M11 12.5h2M15 12.5h2M18 12.5h1M23 12.5h1M28 12.5h2M33 12.5h3M38 12.5h1M40 12.5h1M1 13.5h1M6 13.5h1M12 13.5h3M17 13.5h4M34 13.5h1M36 13.5h1M38 13.5h1M40 13.5h1M1 14.5h1M3 14.5h1M10 14.5h2M13 14.5h3M17 14.5h1M22 14.5h1M36 14.5h1M39 14.5h1M0 15.5h1M4 15.5h2M7 15.5h1M9 15.5h1M12 15.5h1M21 15.5h1M33 15.5h1M35 15.5h2M0 16.5h2M8 16.5h1M11 16.5h1M13 16.5h3M17 16.5h1M19 16.5h1M21 16.5h1M23 16.5h1M31 16.5h1M40 16.5h2M1 17.5h1M4 17.5h1M6 17.5h1M8 17.5h1M12 17.5h1M16 17.5h1M18 17.5h1M24 17.5h2M33 17.5h2M36 17.5h2M40 17.5h1M0 18.5h1M3 18.5h3M12 18.5h1M14 18.5h1M16 18.5h1M21 18.5h2M25 18.5h1M27 18.5h2M30 18.5h1M32 18.5h3M39 18.5h4M3 19.5h3M7 19.5h1M9 19.5h2M12 19.5h2M15 19.5h1M19 19.5h1M23 19.5h4M28 19.5h1M30 19.5h2M40 19.5h1M9 20.5h1M12 20.5h1M14 20.5h2M17 20.5h1M20 20.5h1M24 20.5h1M26 20.5h3M30 20.5h1M32 20.5h1M38 20.5h3M0 21.5h2M3 21.5h1M10 21.5h2M16 21.5h1M18 21.5h1M23 21.5h1M26 21.5h2M30 21.5h3M35 21.5h1M39 21.5h1M41 21.5h1M4 22.5h2M13 22.5h1M20 22.5h1M22 22.5h1M24 22.5h2M30 22.5h1M33 22.5h1M35 22.5h1M39 22.5h2M5 23.5h1M7 23.5h1M9 23.5h2M12 23.5h1M23 23.5h2M26 23.5h1M35 23.5h3M0 24.5h1M2 24.5h2M11 24.5h1M16 24.5h1M23 24.5h2M28 24.5h2M33 24.5h1M39 24.5h1M41 24.5h2M3 25.5h2M8 25.5h2M11 25.5h1M14 25.5h1M21 25.5h1M32 25.5h5M38 25.5h3M2 26.5h1M8 26.5h1M10 26.5h2M13 26.5h2M16 26.5h2M21 26.5h2M24 26.5h1M27 26.5h1M31 26.5h1M33 26.5h1M37 26.5h1M40 26.5h1M1 27.5h1M6 27.5h2M10 27.5h2M13 27.5h2M16 27.5h4M21 27.5h1M27 27.5h1M29 27.5h1M33 27.5h1M38 27.5h1M40 27.5h3M1 28.5h1M3 28.5h4M12 28.5h1M14 28.5h1M16 28.5h1M18 28.5h6M26 28.5h1M28 28.5h1M30 28.5h2M33 28.5h1M38 28.5h1M40 28.5h1M42 28.5h1M0 29.5h2M3 29.5h1M5 29.5h1M11 29.5h1M13 29.5h4M19 29.5h1M21 29.5h2M24 29.5h1M26 29.5h1M30 29.5h1M32 29.5h1M35 29.5h1M40 29.5h1M3 30.5h5M10 30.5h2M13 30.5h1M16 30.5h1M19 30.5h1M21 30.5h1M24 30.5h1M26 30.5h1M31 30.5h1M35 30.5h2M38 30.5h1M42 30.5h1"/><path stroke="#e6e620" stroke-opacity="0.3" d="M5 0.5h2M26 0.5h2M33 0.5h1M7 1.5h1M16 1.5h1M2 2.5h1M6 2.5h1M24 2.5h1M34 2.5h1M40 2.5h1M21 3.5h1M24 3.5h1M1 4.5h1M13 4.5h1M17 4.5h1M28 4.5h1M34 4.5h1M5 5.5h1M26 5.5h1M28 5.5h1M4 6.5h1M11 6.5h1M34 6.5h1M40 6.5h1M2 7.5h1M24 7.5h1M26 7.5h1M36 7.5h2M39 7.5h1M41 7.5h1M4 8.5h1M17 8.5h1M26 8.5h1M42 8.5h1M14 9.5h1M25 9.5h1M28 9.5h1M3 10.5h1M10 10.5h1M15 10.5h1M17 10.5h1M27 10.5h1M31 10.5h1M39 10.5h2M7 11.5h1M23 11.5h1M31 11.5h1M34 11.5h2M14 12.5h1M25 12.5h1M31 12.5h1M15 13.5h1M22 13.5h1M37 13.5h1M6 14.5h1M16 14.5h1M29 14.5h2M37 14.5h1M6 15.5h1M10 15.5h1M17 15.5h1M20 15.5h1M24 15.5h1M32 15.5h1M34 15.5h1M5 16.5h1M35 16.5h1M7 17.5h1M32 17.5h1M7 18.5h1M15 18.5h1M1 20.5h1M19 20.5h1M8 21.5h1M17 21.5h1M20 21.5h1M24 21.5h2M0 22.5h1M17 22.5h2M31 22.5h1M2 23.5h1M13 23.5h1M27 23.5h2M30 23.5h1M34 23.5h1M39 23.5h1M1 24.5h1M19 24.5h1M21 24.5h1M31 24.5h1M0 25.5h1M13 25.5h1M23 25.5h1M0 27.5h1M8 27.5h1M36 27.5h1M39 27.5h1M8 28.5h1M10 29.5h1M27 29.5h1M29 29.5h1M15 30.5h1M37 30.5h1"/><path stroke="#e6e620" stroke-opacity="0.4" d="M0 0.5h1M2 0.5h1M10 0.5h1M14 0.5h1M22 0.5h1M42 0.5h1M0 1.5h1M21 1.5h1M23 1.5h1M33 1.5h1M37 1.5h1M39 1.5h1M41 1.5h2M0 2.5h2M5 2.5h1M20 2.5h1M26 2.5h1M28 2.5h1M30 2.5h1M35 2.5h2M16 3.5h1M22 3.5h1M32 3.5h1M36 3.5h2M10 4.5h2M24 4.5h1M31 4.5h1M8 5.5h1M11 5.5h1M14 5.5h1M17 5.5h1M24 5.5h1M38 5.5h1M7 6.5h1M14 6.5h1M23 6.5h1M6 7.5h2M13 7.5h3M17 7.5h1M19 7.5h2M38 7.5h1M40 7.5h1M3 8.5h1M6 8.5h1M18 8.5h1M20 8.5h1M25 8.5h1M41 8.5h1M4 9.5h1M22 9.5h1M41 9.5h2M9 10.5h1M11 10.5h1M14 10.5h1M29 10.5h1M32 10.5h1M36 10.5h1M42 10.5h1M1 11.5h1M3 11.5h1M6 11.5h1M10 11.5h1M38 11.5h1M40 11.5h1M19 12.5h1M26 12.5h1M30 12.5h1M42 12.5h1M5 13.5h1M16 13.5h1M31 13.5h1M0 14.5h1M20 14.5h1M27 14.5h1M35 14.5h1M2 15.5h2M19 15.5h1M23 15.5h1M26 16.5h1M38 16.5h2M0 17.5h1M19 17.5h1M23 17.5h1M31 17.5h1M2 18.5h1M18 18.5h1M29 18.5h1M1 19.5h1M8 19.5h1M41 19.5h1M16 20.5h1M18 20.5h1M2 21.5h1M12 21.5h3M21 21.5h1M38 21.5h1M9 22.5h1M11 22.5h1M19 22.5h1M32 22.5h1M8 23.5h1M11 23.5h1M15 23.5h1M32 23.5h1M6 24.5h1M8 24.5h1M12 24.5h1M27 24.5h1M30 24.5h1M5 25.5h2M16 25.5h1M22 25.5h1M24 25.5h1M27 25.5h1M25 26.5h1M38 26.5h1M23 27.5h1M30 27.5h1M10 28.5h1M13 28.5h1M25 28.5h1M27 28.5h1M41 28.5h1M2 29.5h1M6 29.5h1M9 29.5h1M18 29.5h1M23 29.5h1M38 29.5h1M9 30.5h1M17 30.5h1M27 30.5h1"/><path stroke="#e6e620" stroke-opacity="0.5" d="M4 0.5h1M30 0.5h1M38 1.5h1M11 2.5h1M6 3.5h1M5 6.5h1M12 6.5h1M17 6.5h1M35 6.5h1M42 6.5h1M0 7.5h1M11 7.5h1M27 7.5h1M32 7.5h1M3 9.5h1M0 10.5h1M6 10.5h1M18 10.5h1M22 10.5h1M25 10.5h1M8 11.5h2M42 11.5h1M36 12.5h1M9 14.5h1M12 14.5h1M19 14.5h1M13 15.5h1M15 15.5h1M22 16.5h1M21 17.5h1M42 17.5h1M0 19.5h1M18 19.5h1M4 20.5h1M6 20.5h1M5 21.5h1M12 22.5h1M37 22.5h1M3 23.5h1M6 23.5h1M16 23.5h1M29 23.5h1M41 23.5h2M35 24.5h1M3 27.5h1M39 28.5h1M12 29.5h1M37 29.5h1"/><path stroke="#e6e620" stroke-opacity="0.6" d="M22 1.5h1M26 1.5h1M35 1.5h1M7 2.5h1M21 2.5h1M37 2.5h1M34 3.5h1M35 4.5h1M10 5.5h1M9 6.5h1M32 6.5h1M8 7.5h1M12 7.5h1M16 7.5h1M34 7.5h1M1 9.5h1M15 9.5h1M7 10.5h1M2 11.5h1M20 11.5h1M7 12.5h1M20 12.5h1M41 12.5h1M41 13.5h1M7 14.5h1M42 14.5h1M18 15.5h1M22 15.5h1M29 15.5h3M27 17.5h1M9 18.5h1M19 21.5h1M20 23.5h1M40 23.5h1M14 24.5h1M6 26.5h1M26 26.5h1M24 27.5h1M8 29.5h1M25 29.5h1"/><path stroke="#e6e620" stroke-opacity="0.72" d="M12 0.5h1M11 1.5h1M18 1.5h1M33 9.5h1M4 11.5h1M18 11.5h1M21 12.5h1M4 14.5h1M37 21.5h1M37 24.5h1M40 24.5h1M26 27.5h1"/><path stroke="#e6e620" stroke-opacity="0.86" d="M42 7.5h1M32 24.5h1"/></pattern><pattern id="y7" width="43" height="31" patternUnits="userSpaceOnUse"><path stroke="#e6e620" stroke-opacity="0.1" d="M7 0.5h1M12 0.5h1M33 0.5h2M39 0.5h1M17 1.5h1M34 1.5h1M28 2.5h1M38 2.5h1M40 2.5h1M4 3.5h1M20 3.5h1M23 3.5h1M35 3.5h1M42 3.5h1M0 4.5h1M5 4.5h1M14 4.5h2M23 4.5h1M31 4.5h1M9 5.5h1M28 5.5h1M32 5.5h1M35 5.5h1M8 6.5h1M18 6.5h1M24 7.5h1M35 7.5h1M40 7.5h1M4 8.5h1M26 8.5h1M8 9.5h1M10 9.5h1M18 9.5h1M22 9.5h1M33 9.5h1M13 10.5h1M12 11.5h1M16 11.5h1M31 11.5h1M6 12.5h1M9 12.5h2M17 12.5h1M22 12.5h1M39 12.5h1M1 13.5h1M8 13.5h1M16 13.5h1M20 13.5h1M32 13.5h1M0 14.5h1M8 14.5h1M38 14.5h1M41 14.5h1M11 15.5h1M15 15.5h1M32 15.5h1M34 15.5h1M38 15.5h1M40 15.5h1M7 16.5h1M17 16.5h1M36 16.5h1M1 17.5h1M8 17.5h1M32 17.5h1M12 18.5h1M15 18.5h1M29 18.5h1M40 18.5h1M2 19.5h1M18 19.5h1M23 19.5h1M18 20.5h4M35 20.5h1M41 20.5h2M4 21.5h1M19 21.5h1M24 21.5h1M29 22.5h2M9 23.5h1M11 23.5h1M23 23.5h1M12 24.5h1M15 24.5h1M21 24.5h1M37 24.5h1M39 24.5h2M0 25.5h2M19 25.5h1M28 25.5h1M0 26.5h1M7 26.5h1M35 26.5h1M41 26.5h1M0 27.5h1M13 27.5h1M15 27.5h1M23 27.5h1M1 28.5h1M12 28.5h1M14 28.5h1M19 28.5h1M27 28.5h2M1 29.5h1M7 29.5h1M12 29.5h1M23 29.5h2M29 29.5h1M34 29.5h1M37 29.5h1M22 30.5h1M30 30.5h1M35 30.5h1M40 30.5h1"/><path stroke="#e6e620" stroke-opacity="0.2" d="M0 0.5h1M4 0.5h1M11 0.5h1M14 0.5h1M22 0.5h1M27 0.5h1M30 0.5h2M40 0.5h1M0 1.5h1M3 1.5h2M6 1.5h1M9 1.5h1M11 1.5h1M14 1.5h2M18 1.5h2M23 1.5h2M26 1.5h2M29 1.5h2M37 1.5h2M40 1.5h3M1 2.5h2M7 2.5h1M9 2.5h1M12 2.5h2M17 2.5h1M20 2.5h1M27 2.5h1M29 2.5h1M35 2.5h2M39 2.5h1M41 2.5h1M1 3.5h1M7 3.5h1M9 3.5h1M14 3.5h1M18 3.5h1M21 3.5h1M24 3.5h1M27 3.5h2M31 3.5h1M33 3.5h1M37 3.5h2M7 4.5h2M11 4.5h1M22 4.5h1M24 4.5h1M27 4.5h1M35 4.5h1M38 4.5h1M41 4.5h2M2 5.5h3M8 5.5h1M18 5.5h1M20 5.5h2M23 5.5h5M29 5.5h1M31 5.5h1M33 5.5h1M2 6.5h1M9 6.5h1M14 6.5h1M25 6.5h1M29 6.5h3M35 6.5h1M40 6.5h1M12 7.5h1M14 7.5h1M17 7.5h1M20 7.5h1M31 7.5h1M36 7.5h1M42 7.5h1M0 8.5h1M9 8.5h1M13 8.5h2M16 8.5h1M20 8.5h2M23 8.5h1M25 8.5h1M28 8.5h1M31 8.5h1M0 9.5h2M12 9.5h1M17 9.5h1M20 9.5h1M28 9.5h2M31 9.5h2M35 9.5h1M42 9.5h1M0 10.5h1M2 10.5h1M4 10.5h2M18 10.5h1M21 10.5h1M32 10.5h1M39 10.5h2M42 10.5h1M5 11.5h1M7 11.5h2M10 11.5h2M14 11.5h2M19 11.5h2M22 11.5h3M27 11.5h1M35 11.5h1M40 11.5h1M2 12.5h2M5 12.5h1M7 12.5h1M11 12.5h1M28 12.5h1M30 12.5h1M36 12.5h2M4 13.5h3M9 13.5h1M12 13.5h1M14 13.5h1M18 13.5h1M24 13.5h1M28 13.5h2M33 13.5h1M35 13.5h2M39 13.5h1M41 13.5h2M1 14.5h1M3 14.5h1M9 14.5h1M13 14.5h1M15 14.5h1M20 14.5h1M24 14.5h1M26 14.5h1M28 14.5h1M31 14.5h1M33 14.5h1M0 15.5h2M3 15.5h1M8 15.5h1M20 15.5h1M22 15.5h1M29 15.5h1M35 15.5h1M0 16.5h2M3 16.5h1M5 16.5h1M10 16.5h1M14 16.5h1M16 16.5h1M21 16.5h2M24 16.5h1M26 16.5h3M38 16.5h1M2 17.5h1M4 17.5h1M7 17.5h1M14 17.5h1M17 17.5h4M25 17.5h1M29 17.5h1M35 17.5h2M41 17.5h2M2 18.5h1M5 18.5h2M11 18.5h1M14 18.5h1M16 18.5h1M19 18.5h1M22 18.5h1M24 18.5h1M31 18.5h1M33 18.5h1M37 18.5h1M1 19.5h1M3 19.5h3M7 19.5h1M10 19.5h1M13 19.5h2M25 19.5h1M28 19.5h2M33 19.5h2M42 19.5h1M2 20.5h1M10 20.5h1M12 20.5h1M15 20.5h1M23 20.5h1M26 20.5h2M29 20.5h1M31 20.5h1M33 20.5h2M36 20.5h1M39 20.5h1M2 21.5h1M8 21.5h1M12 21.5h1M18 21.5h1M26 21.5h1M29 21.5h1M33 21.5h3M38 21.5h1M40 21.5h1M1 22.5h1M3 22.5h1M5 22.5h1M7 22.5h1M9 22.5h8M20 22.5h9M31 22.5h2M34 22.5h1M37 22.5h2M40 22.5h2M0 23.5h4M8 23.5h1M12 23.5h2M16 23.5h1M18 23.5h1M21 23.5h2M30 23.5h1M34 23.5h2M1 24.5h1M6 24.5h2M10 24.5h2M22 24.5h1M27 24.5h4M42 24.5h1M6 25.5h2M14 25.5h1M17 25.5h1M20 25.5h1M26 25.5h1M29 25.5h1M31 25.5h3M38 25.5h2M41 25.5h1M2 26.5h2M6 26.5h1M9 26.5h4M19 26.5h1M27 26.5h1M30 26.5h1M33 26.5h2M38 26.5h3M2 27.5h2M16 27.5h1M24 27.5h2M27 27.5h1M29 27.5h4M34 27.5h2M37 27.5h1M41 27.5h2M3 28.5h1M6 28.5h1M8 28.5h1M13 28.5h1M15 28.5h1M24 28.5h2M34 28.5h1M36 28.5h2M39 28.5h3M8 29.5h2M13 29.5h3M22 29.5h1M26 29.5h2M33 29.5h1M35 29.5h1M0 30.5h1M2 30.5h2M5 30.5h1M9 30.5h1M11 30.5h1M16 30.5h1M19 30.5h2M23 30.5h3M29 30.5h1M32 30.5h2M38 30.5h2"/><path stroke="#e6e620" stroke-opacity="0.3" d="M9 0.5h1M20 0.5h2M23 0.5h1M26 0.5h1M5 1.5h1M21 1.5h1M32 1.5h1M5 2.5h1M10 2.5h1M16 2.5h1M21 2.5h2M25 2.5h1M34 2.5h1M11 3.5h1M10 4.5h1M16 4.5h1M34 4.5h1M5 5.5h1M41 5.5h1M27 6.5h2M36 6.5h1M42 6.5h1M1 7.5h1M5 7.5h1M21 7.5h1M30 7.5h1M32 7.5h1M41 7.5h1M11 8.5h1M17 8.5h1M19 8.5h1M35 8.5h1M37 8.5h1M3 9.5h1M30 9.5h1M9 10.5h1M14 10.5h1M19 10.5h1M26 10.5h1M28 10.5h1M33 10.5h1M0 11.5h1M9 11.5h1M29 11.5h1M12 12.5h1M21 12.5h1M24 12.5h2M31 12.5h1M40 12.5h2M25 13.5h1M5 14.5h2M16 14.5h1M34 14.5h2M37 14.5h1M39 14.5h1M5 15.5h2M17 15.5h1M26 15.5h1M39 15.5h1M42 15.5h1M8 16.5h1M18 16.5h2M39 16.5h1M41 16.5h1M11 17.5h1M23 17.5h2M27 17.5h1M31 17.5h1M3 18.5h1M23 18.5h1M32 18.5h1M38 18.5h1M8 19.5h1M21 19.5h1M24 19.5h1M32 19.5h1M7 20.5h1M22 20.5h1M28 20.5h1M30 20.5h1M1 21.5h1M5 21.5h1M20 21.5h1M27 21.5h2M36 21.5h1M39 21.5h1M17 22.5h1M36 22.5h1M42 22.5h1M4 23.5h1M10 23.5h1M14 23.5h1M24 23.5h1M33 23.5h1M40 23.5h1M8 24.5h1M14 24.5h1M20 24.5h1M24 24.5h1M35 24.5h1M2 25.5h1M10 25.5h1M13 25.5h1M18 25.5h1M30 25.5h1M1 26.5h1M18 26.5h1M32 26.5h1M7 27.5h1M17 27.5h3M28 27.5h1M33 27.5h1M33 28.5h1M5 29.5h2M11 29.5h1M30 29.5h1M36 29.5h1"/><path stroke="#e6e620" stroke-opacity="0.4" d="M2 0.5h1M10 0.5h1M13 0.5h1M15 0.5h1M17 0.5h2M24 0.5h1M1 1.5h1M12 1.5h1M20 1.5h1M25 1.5h1M33 1.5h1M35 1.5h1M39 1.5h1M0 2.5h1M3 2.5h1M6 2.5h1M33 2.5h1M42 2.5h1M5 3.5h1M8 3.5h1M26 3.5h1M39 3.5h3M2 4.5h2M6 4.5h1M25 4.5h1M30 4.5h1M32 4.5h1M40 4.5h1M14 5.5h2M22 5.5h1M39 5.5h1M1 6.5h1M4 6.5h1M16 6.5h1M19 6.5h1M21 6.5h2M26 6.5h1M33 6.5h1M38 6.5h2M0 7.5h1M3 7.5h2M7 7.5h1M9 7.5h1M13 7.5h1M15 7.5h2M18 7.5h2M26 7.5h1M28 7.5h1M39 7.5h1M7 8.5h1M22 8.5h1M29 8.5h2M36 8.5h1M2 9.5h1M7 9.5h1M9 9.5h1M16 9.5h1M21 9.5h1M24 9.5h4M37 9.5h2M7 10.5h2M17 10.5h1M20 10.5h1M22 10.5h1M25 10.5h1M27 10.5h1M31 10.5h1M35 10.5h1M2 11.5h1M13 11.5h1M18 11.5h1M21 11.5h1M25 11.5h2M28 11.5h1M32 11.5h2M42 11.5h1M4 12.5h1M14 12.5h1M23 12.5h1M27 12.5h1M32 12.5h1M17 13.5h1M19 13.5h1M21 13.5h2M26 13.5h2M2 14.5h1M4 14.5h1M14 14.5h1M22 14.5h1M25 14.5h1M30 14.5h1M32 14.5h1M42 14.5h1M10 15.5h1M12 15.5h1M16 15.5h1M21 15.5h1M37 15.5h1M9 16.5h1M20 16.5h1M23 16.5h1M25 16.5h1M42 16.5h1M13 17.5h1M15 17.5h1M30 17.5h1M37 17.5h1M40 17.5h1M4 18.5h1M9 18.5h1M35 18.5h2M6 19.5h1M11 19.5h1M20 19.5h1M30 19.5h1M36 19.5h2M40 19.5h1M4 20.5h1M13 20.5h2M16 20.5h2M24 20.5h1M40 20.5h1M10 21.5h1M30 21.5h1M42 21.5h1M0 22.5h1M2 22.5h1M4 22.5h1M5 23.5h1M7 23.5h1M20 23.5h1M26 23.5h1M29 23.5h1M39 23.5h1M41 23.5h2M0 24.5h1M4 24.5h2M9 24.5h1M25 24.5h2M33 24.5h2M41 24.5h1M4 25.5h1M8 25.5h1M11 25.5h1M16 25.5h1M23 25.5h2M34 25.5h1M15 26.5h1M20 26.5h1M22 26.5h2M25 26.5h1M1 27.5h1M6 27.5h1M9 27.5h1M11 27.5h1M22 27.5h1M26 27.5h1M39 27.5h1M2 28.5h1M7 28.5h1M10 28.5h2M16 28.5h1M18 28.5h1M26 28.5h1M35 28.5h1M38 28.5h1M42 28.5h1M16 29.5h1M19 29.5h1M21 29.5h1M31 29.5h1M38 29.5h1M13 30.5h1M42 30.5h1"/><path stroke="#e6e620" stroke-opacity="0.5" d="M36 0.5h1M8 1.5h1M16 1.5h1M22 1.5h1M31 1.5h1M11 2.5h1M19 2.5h1M32 2.5h1M0 3.5h1M3 3.5h1M4 4.5h1M37 4.5h1M39 4.5h1M10 5.5h1M12 5.5h1M16 5.5h1M19 5.5h1M40 5.5h1M3 6.5h1M6 6.5h1M10 6.5h1M12 6.5h1M2 7.5h1M6 7.5h1M8 7.5h1M11 7.5h1M33 7.5h1M2 8.5h1M10 8.5h1M40 8.5h3M6 9.5h1M34 9.5h1M1 10.5h1M24 10.5h1M36 10.5h1M36 11.5h3M8 12.5h1M20 12.5h1M26 12.5h1M34 12.5h1M38 12.5h1M0 13.5h1M7 13.5h1M34 13.5h1M38 13.5h1M27 14.5h1M36 14.5h1M4 15.5h1M19 15.5h1M41 15.5h1M11 16.5h1M29 16.5h1M33 16.5h1M0 17.5h1M28 17.5h1M38 17.5h1M1 18.5h1M34 18.5h1M9 19.5h1M12 19.5h1M8 20.5h1M38 20.5h1M0 21.5h1M6 21.5h1M9 21.5h1M13 21.5h3M21 21.5h1M41 21.5h1M38 23.5h1M16 24.5h1M19 24.5h1M31 24.5h2M5 25.5h1M9 25.5h1M15 25.5h1M37 25.5h1M10 27.5h1M36 27.5h1M5 28.5h1M17 28.5h1M3 29.5h2M18 29.5h1M41 29.5h1"/><path stroke="#e6e620" stroke-opacity="0.6" d="M6 0.5h1M8 0.5h1M16 0.5h1M19 0.5h1M35 0.5h1M42 0.5h1M2 1.5h1M7 1.5h1M13 1.5h1M36 1.5h1M23 2.5h1M12 3.5h1M16 3.5h1M22 3.5h1M12 4.5h1M18 4.5h1M20 4.5h1M42 5.5h1M13 6.5h1M15 6.5h1M17 6.5h1M24 6.5h1M37 6.5h1M22 7.5h1M27 7.5h1M34 7.5h1M37 7.5h2M27 8.5h1M32 8.5h1M4 9.5h1M19 9.5h1M39 9.5h1M6 10.5h1M11 10.5h1M15 10.5h1M30 10.5h1M37 10.5h1M41 10.5h1M6 11.5h1M34 11.5h1M41 11.5h1M13 12.5h1M15 12.5h1M19 12.5h1M29 12.5h1M35 12.5h1M11 13.5h1M7 14.5h1M11 14.5h2M17 14.5h3M23 14.5h1M29 14.5h1M40 14.5h1M23 15.5h1M28 15.5h1M30 15.5h2M33 15.5h1M35 16.5h1M16 17.5h1M39 17.5h1M26 18.5h2M0 19.5h1M41 19.5h1M16 21.5h1M37 21.5h1M6 23.5h1M17 23.5h1M27 23.5h2M31 23.5h2M37 23.5h1M18 24.5h1M36 24.5h1M12 25.5h1M37 26.5h1M5 27.5h1M21 27.5h1M4 28.5h1M20 28.5h1M23 28.5h1M29 28.5h1M0 29.5h1M10 29.5h1M40 29.5h1M42 29.5h1M14 30.5h1M18 30.5h1"/><path stroke="#e6e620" stroke-opacity="0.72" d="M5 0.5h1M32 0.5h1M10 1.5h1M28 1.5h1M7 6.5h1M23 6.5h1M10 7.5h1M29 7.5h1M16 10.5h1M3 11.5h1M17 11.5h1M30 11.5h1M18 12.5h1M9 15.5h1M24 15.5h2M10 17.5h1M20 27.5h1M9 28.5h1M21 28.5h1M20 29.5h1"/><path stroke="#e6e620" stroke-opacity="0.86" d="M31 2.5h1M0 12.5h1M27 15.5h1M17 21.5h1M32 28.5h1"/></pattern><pattern id="y8" width="43" height="31" patternUnits="userSpaceOnUse"><path stroke="#e6e620" stroke-opacity="0.1" d="M25 0.5h1M36 0.5h1M28 1.5h1M19 2.5h1M34 2.5h1M12 3.5h1M22 3.5h1M14 4.5h1M42 4.5h1M2 5.5h1M6 5.5h1M19 5.5h1M21 5.5h1M7 6.5h1M10 6.5h1M29 6.5h1M3 8.5h1M37 8.5h1M7 9.5h1M35 9.5h1M6 10.5h1M36 10.5h1M3 11.5h1M30 11.5h2M36 11.5h2M22 12.5h1M24 12.5h1M28 12.5h1M38 12.5h1M11 13.5h1M30 13.5h1M34 13.5h1M5 14.5h1M20 14.5h1M23 15.5h1M38 15.5h1M15 16.5h1M24 16.5h1M12 17.5h1M23 17.5h1M33 17.5h1M40 17.5h1M13 18.5h1M16 18.5h1M2 19.5h1M20 19.5h1M11 20.5h1M25 20.5h1M31 20.5h1M33 20.5h1M21 21.5h1M25 21.5h1M42 21.5h1M12 22.5h1M32 22.5h1M38 22.5h2M19 23.5h1M0 24.5h1M32 24.5h1M9 25.5h2M27 25.5h1M31 25.5h1M41 25.5h1M9 26.5h1M13 26.5h1M31 26.5h1M35 26.5h2M41 26.5h1M4 27.5h1M14 27.5h1M18 27.5h1M24 27.5h1M1 28.5h1M18 28.5h1M20 28.5h1M27 28.5h1M30 28.5h1M2 29.5h1M6 29.5h1M9 29.5h1M14 29.5h1M32 29.5h1M38 29.5h1M40 29.5h1M30 30.5h1M33 30.5h1M36 30.5h1M38 30.5h1"/><path stroke="#e6e620" stroke-opacity="0.2" d="M13 0.5h1M18 0.5h1M20 0.5h3M40 0.5h2M2 1.5h1M5 1.5h1M7 1.5h1M12 1.5h1M17 1.5h2M23 1.5h1M27 1.5h1M30 1.5h1M35 1.5h1M37 1.5h1M0 2.5h1M3 2.5h3M8 2.5h2M11 2.5h1M14 2.5h2M17 2.5h2M21 2.5h1M31 2.5h1M38 2.5h1M10 3.5h1M15 3.5h1M17 3.5h2M20 3.5h1M25 3.5h1M27 3.5h2M30 3.5h1M32 3.5h1M34 3.5h1M38 3.5h1M3 4.5h1M7 4.5h1M12 4.5h1M16 4.5h1M20 4.5h1M27 4.5h1M36 4.5h1M38 4.5h4M1 5.5h1M4 5.5h1M8 5.5h1M10 5.5h2M13 5.5h1M16 5.5h1M24 5.5h2M39 5.5h1M41 5.5h1M0 6.5h1M8 6.5h2M18 6.5h2M23 6.5h1M31 6.5h1M37 6.5h1M39 6.5h1M41 6.5h1M12 7.5h1M27 7.5h1M29 7.5h1M32 7.5h1M42 7.5h1M1 8.5h1M4 8.5h2M14 8.5h1M16 8.5h1M22 8.5h1M26 8.5h1M29 8.5h1M31 8.5h2M34 8.5h2M42 8.5h1M2 9.5h1M6 9.5h1M8 9.5h1M10 9.5h2M14 9.5h1M24 9.5h1M29 9.5h1M31 9.5h1M36 9.5h2M2 10.5h1M10 10.5h2M16 10.5h3M25 10.5h1M32 10.5h1M38 10.5h1M42 10.5h1M0 11.5h1M2 11.5h1M4 11.5h2M10 11.5h1M14 11.5h1M17 11.5h2M21 11.5h1M25 11.5h1M28 11.5h1M0 12.5h1M4 12.5h1M8 12.5h1M10 12.5h1M14 12.5h1M18 12.5h2M25 12.5h1M33 12.5h2M39 12.5h2M42 12.5h1M1 13.5h1M8 13.5h1M10 13.5h1M16 13.5h2M21 13.5h1M23 13.5h3M28 13.5h1M32 13.5h1M41 13.5h1M3 14.5h1M9 14.5h1M12 14.5h1M17 14.5h1M23 14.5h1M29 14.5h1M32 14.5h1M35 14.5h1M6 15.5h1M8 15.5h1M12 15.5h1M16 15.5h1M19 15.5h1M21 15.5h2M25 15.5h2M39 15.5h1M41 15.5h1M2 16.5h1M5 16.5h3M11 16.5h1M13 16.5h1M18 16.5h2M21 16.5h1M27 16.5h1M30 16.5h1M33 16.5h1M39 16.5h1M42 16.5h1M0 17.5h2M4 17.5h2M7 17.5h1M9 17.5h1M13 17.5h1M16 17.5h1M25 17.5h1M27 17.5h1M31 17.5h2M38 17.5h1M42 17.5h1M1 18.5h1M7 18.5h1M10 18.5h2M15 18.5h1M17 18.5h1M19 18.5h1M22 18.5h1M24 18.5h2M28 18.5h2M40 18.5h1M7 19.5h1M9 19.5h2M22 19.5h1M24 19.5h1M29 19.5h2M36 19.5h1M41 19.5h2M0 20.5h1M7 20.5h1M10 20.5h1M14 20.5h1M18 20.5h1M22 20.5h2M26 20.5h2M29 20.5h2M32 20.5h1M34 20.5h1M36 20.5h1M38 20.5h1M41 20.5h1M0 21.5h1M5 21.5h1M7 21.5h1M17 21.5h1M20 21.5h1M23 21.5h2M29 21.5h1M36 21.5h1M0 22.5h1M2 22.5h1M4 22.5h1M15 22.5h1M21 22.5h1M25 22.5h1M27 22.5h1M30 22.5h1M34 22.5h1M37 22.5h1M41 22.5h1M0 23.5h1M5 23.5h1M14 23.5h5M24 23.5h1M28 23.5h1M30 23.5h1M40 23.5h2M1 24.5h1M3 24.5h2M6 24.5h1M8 24.5h1M13 24.5h1M37 24.5h2M1 25.5h1M3 25.5h1M6 25.5h1M11 25.5h1M13 25.5h1M16 25.5h1M20 25.5h2M24 25.5h1M28 25.5h2M34 25.5h1M38 25.5h1M40 25.5h1M42 25.5h1M0 26.5h1M2 26.5h1M4 26.5h1M6 26.5h2M10 26.5h1M12 26.5h1M14 26.5h1M17 26.5h2M20 26.5h1M22 26.5h3M29 26.5h2M34 26.5h1M37 26.5h1M3 27.5h1M10 27.5h2M17 27.5h1M25 27.5h1M27 27.5h1M30 27.5h2M35 27.5h2M39 27.5h2M42 27.5h1M2 28.5h1M4 28.5h1M11 28.5h1M16 28.5h1M19 28.5h1M22 28.5h1M24 28.5h2M31 28.5h1M34 28.5h1M8 29.5h1M10 29.5h3M17 29.5h1M19 29.5h1M21 29.5h1M28 29.5h1M33 29.5h1M35 29.5h1M41 29.5h1M1 30.5h1M6 30.5h3M10 30.5h2M17 30.5h2M20 30.5h1M22 30.5h2M28 30.5h1M31 30.5h1M34 30.5h1M39 30.5h2M42 30.5h1"/><path stroke="#e6e620" stroke-opacity="0.3" d="M2 0.5h1M11 0.5h2M26 0.5h1M34 0.5h1M1 1.5h1M4 1.5h1M8 1.5h2M36 1.5h1M13 2.5h1M26 2.5h1M30 2.5h1M42 2.5h1M11 3.5h1M19 3.5h1M31 3.5h1M36 3.5h2M5 4.5h1M10 4.5h1M23 4.5h1M37 4.5h1M9 5.5h1M14 5.5h1M20 5.5h1M31 5.5h1M37 5.5h1M13 6.5h1M24 6.5h1M1 7.5h1M4 7.5h1M14 7.5h1M18 7.5h1M22 7.5h1M28 7.5h1M30 7.5h1M34 7.5h1M37 7.5h1M2 8.5h1M12 8.5h1M17 8.5h2M23 8.5h2M38 8.5h1M20 9.5h1M32 9.5h1M34 9.5h1M3 10.5h1M20 10.5h1M35 10.5h1M40 10.5h1M15 11.5h1M26 11.5h2M34 11.5h1M11 12.5h1M23 12.5h1M29 12.5h1M36 12.5h2M7 13.5h1M22 13.5h1M2 14.5h1M13 15.5h2M32 15.5h2M37 15.5h1M9 16.5h1M14 16.5h1M40 16.5h2M3 17.5h1M21 17.5h1M36 17.5h1M6 18.5h1M26 18.5h1M38 18.5h1M0 19.5h1M8 19.5h1M11 19.5h1M13 19.5h1M28 19.5h1M34 19.5h1M1 20.5h1M15 20.5h2M24 20.5h1M12 21.5h1M14 21.5h1M3 22.5h1M9 22.5h2M14 22.5h1M16 22.5h1M19 22.5h1M22 22.5h1M28 22.5h2M31 23.5h1M34 23.5h2M39 23.5h1M10 24.5h2M19 24.5h1M25 24.5h1M30 24.5h1M0 25.5h1M2 25.5h1M4 25.5h1M19 25.5h1M26 25.5h1M30 25.5h1M33 25.5h1M35 25.5h1M37 25.5h1M39 25.5h1M27 26.5h1M6 27.5h1M38 27.5h1M8 28.5h1M13 28.5h1M26 28.5h1M33 28.5h1M41 28.5h2M0 29.5h1M7 29.5h1M22 29.5h1M27 29.5h1M31 29.5h1M24 30.5h1"/><path stroke="#e6e620" stroke-opacity="0.4" d="M6 0.5h3M10 0.5h1M15 0.5h2M23 0.5h1M29 0.5h1M31 0.5h2M35 0.5h1M38 0.5h2M3 1.5h1M6 1.5h1M11 1.5h1M13 1.5h1M16 1.5h1M19 1.5h3M29 1.5h1M33 1.5h1M42 1.5h1M1 2.5h1M6 2.5h1M10 2.5h1M23 2.5h1M33 2.5h1M36 2.5h1M40 2.5h1M2 3.5h1M26 3.5h1M41 3.5h1M4 4.5h1M9 4.5h1M15 4.5h1M21 4.5h2M32 4.5h1M35 4.5h1M0 5.5h1M12 5.5h1M23 5.5h1M27 5.5h1M32 5.5h1M1 6.5h1M4 6.5h1M15 6.5h1M17 6.5h1M20 6.5h1M22 6.5h1M26 6.5h1M32 6.5h1M36 6.5h1M38 6.5h1M40 6.5h1M0 7.5h1M5 7.5h1M7 7.5h1M10 7.5h1M15 7.5h1M23 7.5h2M26 7.5h1M40 7.5h1M6 8.5h1M10 8.5h1M19 8.5h1M21 8.5h1M30 8.5h1M39 8.5h1M4 9.5h2M9 9.5h1M12 9.5h2M15 9.5h1M21 9.5h1M25 9.5h1M39 9.5h1M41 9.5h1M1 10.5h1M4 10.5h1M21 10.5h1M23 10.5h1M27 10.5h1M30 10.5h2M41 10.5h1M1 11.5h1M11 11.5h1M19 11.5h1M22 11.5h2M35 11.5h1M38 11.5h2M1 12.5h1M7 12.5h1M12 12.5h1M15 12.5h2M20 12.5h2M32 12.5h1M35 12.5h1M3 13.5h1M5 13.5h2M9 13.5h1M12 13.5h1M14 13.5h1M18 13.5h1M31 13.5h1M36 13.5h1M40 13.5h1M42 13.5h1M0 14.5h1M4 14.5h1M10 14.5h1M13 14.5h1M15 14.5h1M22 14.5h1M24 14.5h1M26 14.5h1M28 14.5h1M33 14.5h1M37 14.5h1M40 14.5h1M42 14.5h1M0 15.5h2M10 15.5h1M15 15.5h1M20 15.5h1M30 15.5h2M34 15.5h1M0 16.5h2M8 16.5h1M20 16.5h1M34 16.5h1M15 17.5h1M18 17.5h1M22 17.5h1M26 17.5h1M35 17.5h1M37 17.5h1M39 17.5h1M5 18.5h1M21 18.5h1M23 18.5h1M27 18.5h1M32 18.5h1M34 18.5h1M39 18.5h1M41 18.5h1M4 19.5h1M12 19.5h1M15 19.5h1M25 19.5h3M32 19.5h2M38 19.5h1M5 20.5h1M8 20.5h1M13 20.5h1M17 20.5h1M19 20.5h1M21 20.5h1M28 20.5h1M2 21.5h1M4 21.5h1M8 21.5h1M10 21.5h1M15 21.5h1M18 21.5h2M35 21.5h1M37 21.5h2M41 21.5h1M8 22.5h1M17 22.5h2M36 22.5h1M42 22.5h1M4 23.5h1M8 23.5h1M10 23.5h1M23 23.5h1M25 23.5h1M37 23.5h2M9 24.5h1M12 24.5h1M14 24.5h4M26 24.5h2M33 24.5h1M35 24.5h1M39 24.5h1M5 25.5h1M8 25.5h1M12 25.5h1M15 25.5h1M18 25.5h1M22 25.5h1M32 25.5h1M36 25.5h1M11 26.5h1M16 26.5h1M26 26.5h1M28 26.5h1M39 26.5h1M2 27.5h1M7 27.5h1M13 27.5h1M20 27.5h2M23 27.5h1M26 27.5h1M10 28.5h1M12 28.5h1M15 28.5h1M17 28.5h1M23 28.5h1M29 28.5h1M39 28.5h1M3 29.5h1M13 29.5h1M15 29.5h2M25 29.5h2M30 29.5h1M36 29.5h1M39 29.5h1M42 29.5h1M5 30.5h1M12 30.5h3M19 30.5h1M21 30.5h1M26 30.5h1M35 30.5h1"/><path stroke="#e6e620" stroke-opacity="0.5" d="M4 0.5h1M24 0.5h1M33 0.5h1M37 0.5h1M0 1.5h1M22 1.5h1M24 1.5h3M32 1.5h1M40 1.5h1M24 2.5h1M27 2.5h1M32 2.5h1M35 2.5h1M4 3.5h1M21 3.5h1M23 3.5h1M33 3.5h1M35 3.5h1M0 4.5h2M17 4.5h1M28 4.5h1M5 5.5h1M17 5.5h1M28 5.5h1M36 5.5h1M38 5.5h1M3 6.5h1M11 6.5h1M14 6.5h1M34 6.5h1M3 7.5h1M21 7.5h1M25 7.5h1M33 7.5h1M35 7.5h1M41 7.5h1M0 8.5h1M9 8.5h1M25 8.5h1M28 8.5h1M40 8.5h2M30 9.5h1M7 10.5h1M13 10.5h1M19 10.5h1M26 10.5h1M28 10.5h2M33 10.5h2M6 11.5h1M8 11.5h2M12 11.5h2M16 11.5h1M24 11.5h1M40 11.5h1M3 12.5h1M6 12.5h1M30 12.5h1M13 13.5h1M29 13.5h1M33 13.5h1M7 14.5h1M11 14.5h1M18 14.5h1M21 14.5h1M41 14.5h1M9 15.5h1M11 15.5h1M18 15.5h1M35 15.5h1M17 16.5h1M23 16.5h1M10 17.5h1M17 17.5h1M20 17.5h1M28 17.5h3M41 17.5h1M0 18.5h1M33 18.5h1M6 19.5h1M18 19.5h1M21 19.5h1M9 21.5h1M13 21.5h1M28 21.5h1M40 21.5h1M1 22.5h1M11 23.5h1M20 23.5h1M29 23.5h1M33 23.5h1M36 23.5h1M42 23.5h1M7 24.5h1M18 24.5h1M24 24.5h1M28 24.5h1M17 25.5h1M25 25.5h1M1 26.5h1M3 26.5h1M32 26.5h1M0 27.5h1M5 27.5h1M16 27.5h1M32 27.5h1M37 27.5h1M0 28.5h1M3 28.5h1M5 28.5h2M38 28.5h1M40 28.5h1M5 29.5h1M20 29.5h1M24 29.5h1M27 30.5h1M37 30.5h1"/><path stroke="#e6e620" stroke-opacity="0.6" d="M14 0.5h1M17 0.5h1M19 0.5h1M27 0.5h1M10 1.5h1M14 1.5h1M31 1.5h1M34 1.5h1M38 1.5h2M41 1.5h1M12 2.5h1M16 2.5h1M22 2.5h1M41 2.5h1M0 3.5h2M3 3.5h1M14 3.5h1M39 3.5h1M2 4.5h1M8 4.5h1M11 4.5h1M30 4.5h1M33 4.5h1M15 5.5h1M18 5.5h1M26 5.5h1M40 5.5h1M2 6.5h1M16 6.5h1M25 6.5h1M27 6.5h1M35 6.5h1M42 6.5h1M2 7.5h1M6 7.5h1M13 7.5h1M17 7.5h1M36 7.5h1M38 7.5h1M8 8.5h1M36 8.5h1M1 9.5h1M16 9.5h1M19 9.5h1M23 9.5h1M40 9.5h1M5 10.5h1M8 10.5h2M12 10.5h1M14 10.5h2M24 10.5h1M37 10.5h1M20 11.5h1M29 11.5h1M33 11.5h1M5 12.5h1M13 12.5h1M27 12.5h1M0 13.5h1M2 13.5h1M4 13.5h1M15 13.5h1M16 14.5h1M19 14.5h1M25 14.5h1M27 14.5h1M30 14.5h1M36 14.5h1M38 14.5h1M3 15.5h1M7 15.5h1M27 15.5h2M36 15.5h1M42 15.5h1M4 16.5h1M12 16.5h1M38 16.5h1M8 17.5h1M11 17.5h1M14 17.5h1M19 17.5h1M24 17.5h1M31 18.5h1M16 19.5h1M19 19.5h1M42 20.5h1M6 21.5h1M11 21.5h1M32 21.5h3M39 21.5h1M23 22.5h1M2 23.5h2M9 23.5h1M27 23.5h1M32 23.5h1M21 24.5h3M34 24.5h1M36 24.5h1M41 24.5h2M7 25.5h1M14 25.5h1M23 25.5h1M5 26.5h1M1 27.5h1M9 27.5h1M22 27.5h1M28 27.5h1M33 27.5h1M9 28.5h1M32 28.5h1M18 29.5h1M23 29.5h1M29 29.5h1M2 30.5h1M4 30.5h1M9 30.5h1M29 30.5h1M41 30.5h1"/><path stroke="#e6e620" stroke-opacity="0.72" d="M1 0.5h1M28 0.5h1M15 1.5h1M7 2.5h1M20 2.5h1M28 2.5h1M6 4.5h1M6 6.5h1M8 7.5h1M11 7.5h1M16 7.5h1M19 7.5h2M31 7.5h1M39 7.5h1M26 9.5h2M0 10.5h1M39 10.5h1M7 11.5h1M42 11.5h1M2 12.5h1M41 12.5h1M8 14.5h1M5 15.5h1M25 16.5h1M36 16.5h1M30 21.5h1M1 23.5h1M7 23.5h1M13 23.5h1M2 24.5h1M15 27.5h1M19 27.5h1M36 28.5h2M1 29.5h1M34 29.5h1"/><path stroke="#e6e620" stroke-opacity="0.86" d="M37 2.5h1M29 5.5h1M9 7.5h1M17 12.5h1M14 14.5h1M2 15.5h1M17 15.5h1M24 15.5h1M3 16.5h1M22 21.5h1M12 23.5h1M31 24.5h1"/></pattern><pattern id="y9" width="43" height="31" patternUnits="userSpaceOnUse"><path stroke="#e6e620" stroke-opacity="0.1" d="M1 0.5h1M24 0.5h1M21 1.5h1M14 2.5h1M28 2.5h1M40 2.5h1M12 3.5h1M32 3.5h1M1 5.5h1M15 5.5h1M27 5.5h1M30 5.5h1M40 5.5h1M27 6.5h1M12 9.5h1M20 9.5h1M25 10.5h1M31 10.5h1M41 10.5h1M38 11.5h1M18 12.5h1M14 14.5h1M22 14.5h1M9 15.5h1M4 16.5h1M38 16.5h1M20 17.5h1M32 17.5h1M37 17.5h1M8 18.5h1M1 19.5h1M11 19.5h1M19 19.5h1M41 19.5h1M5 20.5h1M27 20.5h1M5 21.5h1M3 22.5h2M8 22.5h1M23 22.5h1M36 22.5h1M5 23.5h1M26 23.5h1M14 24.5h1M33 26.5h1M9 27.5h1M35 27.5h1M38 27.5h1M41 28.5h1M19 29.5h1M40 29.5h1M24 30.5h1M26 30.5h1M32 30.5h1M41 30.5h1"/><path stroke="#e6e620" stroke-opacity="0.2" d="M2 0.5h1M5 0.5h1M7 0.5h1M9 0.5h1M11 0.5h1M18 0.5h1M29 0.5h2M35 0.5h1M5 1.5h1M16 1.5h1M24 1.5h1M29 1.5h1M37 1.5h1M39 1.5h1M9 2.5h1M21 2.5h3M29 2.5h1M31 2.5h1M35 2.5h1M42 2.5h1M0 3.5h3M6 3.5h1M15 3.5h1M17 3.5h1M30 3.5h1M35 3.5h1M42 3.5h1M1 4.5h1M5 4.5h2M11 4.5h1M16 4.5h1M26 4.5h1M31 4.5h1M37 4.5h1M40 4.5h1M4 5.5h1M9 5.5h1M11 5.5h1M13 5.5h1M16 5.5h1M19 5.5h2M22 5.5h1M25 5.5h1M38 5.5h2M42 5.5h1M0 6.5h1M6 6.5h1M16 6.5h1M22 6.5h2M28 6.5h3M32 6.5h1M4 8.5h1M11 8.5h1M20 8.5h1M28 8.5h1M35 8.5h1M38 8.5h2M6 9.5h1M11 9.5h1M14 9.5h1M17 9.5h1M21 9.5h1M31 9.5h2M38 9.5h1M1 10.5h1M9 10.5h1M15 10.5h1M18 10.5h1M28 10.5h2M32 10.5h1M38 10.5h1M42 10.5h1M1 11.5h2M4 11.5h1M35 11.5h1M9 12.5h3M16 12.5h1M26 12.5h3M37 12.5h1M3 13.5h1M6 13.5h1M9 13.5h1M16 13.5h1M20 13.5h3M24 13.5h2M30 13.5h1M33 13.5h1M37 13.5h1M40 13.5h2M0 14.5h1M3 14.5h2M9 14.5h1M15 14.5h2M29 14.5h1M34 14.5h1M17 15.5h1M23 15.5h1M25 15.5h2M35 15.5h1M42 15.5h1M2 16.5h2M7 16.5h1M11 16.5h2M15 16.5h1M20 16.5h1M23 16.5h1M32 16.5h2M35 16.5h3M2 17.5h1M5 17.5h1M15 17.5h1M17 17.5h1M29 17.5h1M31 17.5h1M34 17.5h2M40 17.5h2M0 18.5h1M6 18.5h2M10 18.5h1M14 18.5h1M21 18.5h1M23 18.5h1M25 18.5h1M34 18.5h1M41 18.5h2M2 19.5h3M6 19.5h1M10 19.5h1M12 19.5h2M21 19.5h1M23 19.5h1M30 19.5h2M33 19.5h2M36 19.5h1M38 19.5h1M1 20.5h1M11 20.5h1M17 20.5h1M25 20.5h1M28 20.5h1M33 20.5h1M38 20.5h3M6 21.5h1M19 21.5h1M24 21.5h1M30 21.5h2M36 21.5h1M40 21.5h1M0 22.5h1M5 22.5h2M20 22.5h1M22 22.5h1M24 22.5h1M33 22.5h2M42 22.5h1M3 23.5h1M8 23.5h1M12 23.5h1M14 23.5h1M23 23.5h1M30 23.5h1M32 23.5h1M36 23.5h1M40 23.5h1M3 24.5h1M5 24.5h1M17 24.5h1M30 24.5h1M32 24.5h1M34 24.5h1M4 25.5h1M14 25.5h1M18 25.5h1M37 25.5h1M42 25.5h1M3 26.5h1M6 26.5h1M13 26.5h2M18 26.5h1M20 26.5h2M25 26.5h1M31 26.5h1M34 26.5h1M39 26.5h1M41 26.5h2M2 27.5h2M16 27.5h1M18 27.5h1M21 27.5h2M26 27.5h1M29 27.5h1M33 27.5h1M37 27.5h1M0 28.5h1M3 28.5h1M10 28.5h2M13 28.5h1M32 28.5h1M36 28.5h1M16 29.5h1M2 30.5h1M4 30.5h1M6 30.5h1M8 30.5h1M10 30.5h2M17 30.5h1M23 30.5h1M36 30.5h2"/><path stroke="#e6e620" stroke-opacity="0.3" d="M4 0.5h1M6 0.5h1M13 0.5h1M25 0.5h1M27 0.5h1M31 0.5h1M33 0.5h1M37 0.5h1M2 1.5h1M18 1.5h1M23 1.5h1M27 1.5h1M33 1.5h1M38 1.5h1M41 1.5h1M0 2.5h1M4 2.5h1M11 2.5h1M19 2.5h1M24 2.5h1M27 2.5h1M30 2.5h1M36 2.5h1M39 2.5h1M9 3.5h1M21 3.5h1M24 3.5h1M38 3.5h1M40 3.5h1M4 4.5h1M14 4.5h1M18 4.5h1M20 4.5h1M34 4.5h2M39 4.5h1M8 5.5h1M17 5.5h1M28 5.5h1M34 5.5h1M1 6.5h1M7 6.5h1M12 6.5h1M33 6.5h1M35 6.5h1M40 6.5h1M4 7.5h1M33 7.5h1M35 7.5h1M3 8.5h1M8 8.5h1M12 8.5h1M17 8.5h1M22 8.5h1M27 8.5h1M31 8.5h1M36 8.5h1M40 8.5h1M42 8.5h1M10 9.5h1M33 9.5h1M13 10.5h1M0 11.5h1M12 11.5h1M17 11.5h2M22 11.5h1M30 11.5h1M15 12.5h1M17 12.5h1M25 12.5h1M1 13.5h1M4 13.5h1M11 13.5h2M14 13.5h1M18 13.5h1M31 13.5h1M25 14.5h1M28 14.5h1M30 14.5h1M32 14.5h1M5 15.5h1M20 15.5h1M40 15.5h1M17 16.5h1M22 16.5h1M24 16.5h1M26 16.5h1M28 16.5h2M34 16.5h1M0 17.5h1M7 17.5h1M21 17.5h1M25 17.5h2M39 17.5h1M1 18.5h2M4 18.5h1M11 18.5h1M17 18.5h2M20 18.5h1M27 18.5h2M7 19.5h2M15 19.5h1M20 19.5h1M22 19.5h1M29 19.5h1M6 20.5h2M21 20.5h1M1 21.5h1M9 21.5h2M21 21.5h1M26 21.5h1M34 21.5h2M37 21.5h1M17 22.5h1M28 22.5h1M13 23.5h1M33 23.5h2M38 23.5h1M0 24.5h1M2 24.5h1M7 24.5h1M11 24.5h3M22 24.5h1M2 25.5h1M15 25.5h1M30 25.5h1M32 25.5h1M2 26.5h1M10 26.5h2M29 26.5h1M0 27.5h1M7 27.5h1M15 27.5h1M19 27.5h1M1 28.5h1M17 28.5h1M24 28.5h1M4 29.5h2M20 29.5h1M33 29.5h1M37 29.5h1M42 29.5h1M9 30.5h1M29 30.5h1M39 30.5h2M42 30.5h1"/><path stroke="#e6e620" stroke-opacity="0.4" d="M20 0.5h2M26 0.5h1M34 0.5h1M38 0.5h1M41 0.5h2M4 1.5h1M6 1.5h3M13 1.5h1M20 1.5h1M26 1.5h1M28 1.5h1M31 1.5h1M40 1.5h1M42 1.5h1M1 2.5h1M3 2.5h1M6 2.5h2M41 2.5h1M3 3.5h2M11 3.5h1M14 3.5h1M19 3.5h2M23 3.5h1M26 3.5h1M31 3.5h1M36 3.5h2M10 4.5h1M13 4.5h1M17 4.5h1M23 4.5h1M27 4.5h1M29 4.5h1M36 4.5h1M38 4.5h1M42 4.5h1M2 5.5h1M6 5.5h1M12 5.5h1M14 5.5h1M18 5.5h1M21 5.5h1M24 5.5h1M36 5.5h2M3 6.5h1M9 6.5h1M11 6.5h1M21 6.5h1M25 6.5h2M37 6.5h1M9 7.5h1M17 7.5h2M26 7.5h2M30 7.5h1M34 7.5h1M40 7.5h1M1 8.5h2M6 8.5h1M13 8.5h1M21 8.5h1M26 8.5h1M30 8.5h1M33 8.5h1M2 9.5h2M8 9.5h1M13 9.5h1M15 9.5h2M18 9.5h1M24 9.5h1M39 9.5h1M42 9.5h1M2 10.5h1M6 10.5h1M12 10.5h1M20 10.5h1M24 10.5h1M26 10.5h1M30 10.5h1M35 10.5h1M39 10.5h1M9 11.5h1M11 11.5h1M14 11.5h2M19 11.5h1M26 11.5h1M28 11.5h1M33 11.5h1M39 11.5h1M3 12.5h1M13 12.5h1M21 12.5h4M29 12.5h2M36 12.5h1M38 12.5h1M10 13.5h1M15 13.5h1M19 13.5h1M28 13.5h2M35 13.5h1M38 13.5h2M5 14.5h1M10 14.5h1M13 14.5h1M20 14.5h2M31 14.5h1M35 14.5h3M39 14.5h3M0 15.5h1M2 15.5h2M6 15.5h2M10 15.5h2M22 15.5h1M24 15.5h1M29 15.5h2M37 15.5h1M0 16.5h2M5 16.5h1M8 16.5h1M14 16.5h1M21 16.5h1M25 16.5h1M27 16.5h1M40 16.5h2M4 17.5h1M9 17.5h1M30 17.5h1M36 17.5h1M5 18.5h1M15 18.5h2M22 18.5h1M29 18.5h2M33 18.5h1M36 18.5h1M38 18.5h2M0 19.5h1M9 19.5h1M17 19.5h2M24 19.5h1M26 19.5h1M28 19.5h1M32 19.5h1M35 19.5h1M39 19.5h2M42 19.5h1M3 20.5h1M12 20.5h2M19 20.5h1M24 20.5h1M29 20.5h1M34 20.5h3M0 21.5h1M3 21.5h2M7 21.5h1M11 21.5h1M16 21.5h2M22 21.5h1M25 21.5h1M28 21.5h2M32 21.5h1M38 21.5h2M7 22.5h1M9 22.5h3M13 22.5h2M18 22.5h1M25 22.5h1M35 22.5h1M37 22.5h2M6 23.5h2M18 23.5h1M21 23.5h2M28 23.5h2M31 23.5h1M42 23.5h1M9 24.5h2M15 24.5h2M19 24.5h1M28 24.5h2M36 24.5h1M42 24.5h1M3 25.5h1M16 25.5h1M20 25.5h1M25 25.5h1M29 25.5h1M31 25.5h1M34 25.5h2M4 26.5h1M8 26.5h1M23 26.5h2M26 26.5h1M32 26.5h1M37 26.5h2M5 27.5h1M8 27.5h1M10 27.5h1M12 27.5h1M14 27.5h1M17 27.5h1M24 27.5h1M27 27.5h1M34 27.5h1M36 27.5h1M39 27.5h2M4 28.5h1M6 28.5h1M12 28.5h1M23 28.5h1M27 28.5h3M31 28.5h1M34 28.5h1M0 29.5h1M2 29.5h2M9 29.5h1M11 29.5h1M14 29.5h1M21 29.5h1M25 29.5h1M34 29.5h2M41 29.5h1M3 30.5h1M12 30.5h2M15 30.5h1M19 30.5h1M22 30.5h1M25 30.5h1M27 30.5h1M31 30.5h1"/><path stroke="#e6e620" stroke-opacity="0.5" d="M0 0.5h1M3 0.5h1M12 0.5h1M14 0.5h1M32 0.5h1M10 1.5h1M19 1.5h1M30 1.5h1M32 1.5h1M2 2.5h1M8 2.5h1M12 2.5h1M16 2.5h3M26 2.5h1M33 2.5h1M37 2.5h2M5 3.5h1M18 3.5h1M22 3.5h1M39 3.5h1M0 4.5h1M2 4.5h1M7 4.5h1M9 4.5h1M12 4.5h1M19 4.5h1M21 4.5h1M24 4.5h1M32 4.5h2M41 5.5h1M5 6.5h1M15 6.5h1M38 6.5h1M12 7.5h1M19 7.5h1M7 8.5h1M18 8.5h1M23 8.5h1M29 8.5h1M32 8.5h1M1 9.5h1M4 9.5h1M22 9.5h1M25 9.5h1M27 9.5h2M36 9.5h1M5 10.5h1M10 10.5h1M21 10.5h1M23 10.5h1M33 10.5h1M3 11.5h1M8 11.5h1M10 11.5h1M16 11.5h1M31 11.5h2M41 11.5h1M2 12.5h1M4 12.5h1M7 12.5h1M14 12.5h1M19 12.5h1M33 12.5h2M0 13.5h1M23 13.5h1M34 13.5h1M36 13.5h1M1 14.5h1M7 14.5h2M12 14.5h1M18 14.5h1M23 14.5h1M26 14.5h2M33 14.5h1M38 14.5h1M12 15.5h1M19 15.5h1M21 15.5h1M41 15.5h1M9 16.5h2M30 16.5h2M42 16.5h1M1 17.5h1M8 17.5h1M10 17.5h1M12 17.5h1M19 17.5h1M22 17.5h1M27 17.5h2M38 17.5h1M14 19.5h1M25 19.5h1M37 19.5h1M2 20.5h1M8 20.5h1M15 20.5h1M18 20.5h1M2 21.5h1M18 21.5h1M1 22.5h1M16 22.5h1M27 22.5h1M31 22.5h2M0 23.5h1M16 23.5h1M19 23.5h1M24 23.5h1M37 23.5h1M6 24.5h1M8 24.5h1M24 24.5h1M39 24.5h3M0 25.5h1M5 25.5h1M17 25.5h1M33 25.5h1M36 25.5h1M39 25.5h1M0 26.5h1M7 26.5h1M19 26.5h1M22 26.5h1M36 26.5h1M25 27.5h1M28 27.5h1M32 27.5h1M42 27.5h1M5 28.5h1M18 28.5h1M21 28.5h2M37 28.5h1M39 28.5h1M42 28.5h1M13 29.5h1M22 29.5h1M28 29.5h1M36 29.5h1M1 30.5h1M16 30.5h1"/><path stroke="#e6e620" stroke-opacity="0.6" d="M10 0.5h1M15 0.5h2M19 0.5h1M23 0.5h1M28 0.5h1M39 0.5h1M1 1.5h1M3 1.5h1M11 1.5h2M14 1.5h1M17 1.5h1M25 1.5h1M34 1.5h3M15 2.5h1M16 3.5h1M25 3.5h1M27 3.5h1M41 3.5h1M15 4.5h1M22 4.5h1M25 4.5h1M28 4.5h1M5 5.5h1M10 5.5h1M23 5.5h1M26 5.5h1M2 6.5h1M4 6.5h1M8 6.5h1M10 6.5h1M13 6.5h1M17 6.5h4M34 6.5h1M36 6.5h1M39 6.5h1M42 6.5h1M1 7.5h1M3 7.5h1M6 7.5h1M8 7.5h1M10 7.5h1M15 7.5h2M21 7.5h1M24 7.5h1M28 7.5h1M38 7.5h1M41 7.5h2M0 8.5h1M5 8.5h1M15 8.5h1M24 8.5h1M34 8.5h1M0 9.5h1M5 9.5h1M9 9.5h1M23 9.5h1M29 9.5h1M34 9.5h1M40 9.5h1M3 10.5h1M7 10.5h2M17 10.5h1M22 10.5h1M34 10.5h1M7 11.5h1M20 11.5h2M23 11.5h2M27 11.5h1M29 11.5h1M34 11.5h1M36 11.5h2M40 11.5h1M0 12.5h2M8 12.5h1M12 12.5h1M31 12.5h2M35 12.5h1M39 12.5h2M42 12.5h1M13 13.5h1M17 13.5h1M2 14.5h1M6 14.5h1M17 14.5h1M19 14.5h1M1 15.5h1M14 15.5h1M27 15.5h2M31 15.5h3M38 15.5h2M16 16.5h1M18 16.5h1M6 17.5h1M11 17.5h1M13 17.5h2M24 17.5h1M33 17.5h1M12 18.5h2M35 18.5h1M5 19.5h1M27 19.5h1M10 20.5h1M14 20.5h1M16 20.5h1M22 20.5h1M8 21.5h1M12 21.5h1M14 21.5h1M27 21.5h1M33 21.5h1M41 21.5h1M1 23.5h1M4 23.5h1M9 23.5h1M15 23.5h1M20 23.5h1M25 23.5h1M27 23.5h1M35 23.5h1M39 23.5h1M41 23.5h1M1 24.5h1M18 24.5h1M20 24.5h2M23 24.5h1M26 24.5h2M31 24.5h1M33 24.5h1M35 24.5h1M6 25.5h2M9 25.5h3M13 25.5h1M23 25.5h2M27 25.5h1M38 25.5h1M40 25.5h2M28 26.5h1M4 27.5h1M6 27.5h1M13 27.5h1M20 27.5h1M30 27.5h1M41 27.5h1M8 28.5h1M14 28.5h1M19 28.5h1M25 28.5h1M30 28.5h1M35 28.5h1M40 28.5h1M6 29.5h1M8 29.5h1M10 29.5h1M12 29.5h1M15 29.5h1M24 29.5h1M27 29.5h1M29 29.5h1M31 29.5h2M38 29.5h2M14 30.5h1M18 30.5h1M28 30.5h1M30 30.5h1"/><path stroke="#e6e620" stroke-opacity="0.72" d="M8 0.5h1M17 0.5h1M22 0.5h1M40 0.5h1M0 1.5h1M15 1.5h1M5 2.5h1M13 2.5h1M25 2.5h1M34 2.5h1M8 3.5h1M13 3.5h1M28 3.5h1M41 4.5h1M3 5.5h1M31 6.5h1M41 6.5h1M0 7.5h1M2 7.5h1M5 7.5h1M7 7.5h1M13 7.5h1M22 7.5h1M25 7.5h1M29 7.5h1M31 7.5h1M39 7.5h1M25 8.5h1M37 8.5h1M26 9.5h1M30 9.5h1M41 9.5h1M0 10.5h1M4 10.5h1M11 10.5h1M14 10.5h1M16 10.5h1M19 10.5h1M36 10.5h2M25 11.5h1M42 11.5h1M5 12.5h1M20 12.5h1M32 13.5h1M11 14.5h1M42 14.5h1M4 15.5h1M8 15.5h1M13 15.5h1M16 15.5h1M18 15.5h1M34 15.5h1M3 17.5h1M42 17.5h1M0 20.5h1M20 20.5h1M41 20.5h1M10 23.5h2M17 23.5h1M37 24.5h2M12 25.5h1M22 25.5h1M26 25.5h1M28 25.5h1M1 26.5h1M2 28.5h1M7 28.5h1M9 28.5h1M16 28.5h1M20 28.5h1M33 28.5h1M1 29.5h1M7 29.5h1M23 29.5h1M26 29.5h1M30 29.5h1"/><path stroke="#e6e620" stroke-opacity="0.86" d="M36 0.5h1M22 1.5h1M10 2.5h1M33 3.5h1M24 6.5h1M11 7.5h1M14 7.5h1M20 7.5h1M32 7.5h1M36 7.5h2M10 8.5h1M27 10.5h1M40 10.5h1M27 13.5h1M15 15.5h1M36 15.5h1M16 17.5h1M18 17.5h1M41 22.5h1M4 24.5h1M25 24.5h1M1 25.5h1M19 25.5h1M21 25.5h1M11 27.5h1M17 29.5h1M5 30.5h1M20 30.5h1M35 30.5h1"/><path stroke="#e6e620" d="M6 11.5h1"/></pattern><pattern id="y10" width="43" height="31" patternUnits="userSpaceOnUse"><path stroke="#e6e620" stroke-opacity="0.1" d="M27 0.5h1M31 0.5h1M0 5.5h1M36 6.5h1M37 8.5h1M33 9.5h1M39 9.5h1M29 10.5h1M4 13.5h1M13 13.5h1M27 13.5h1M30 13.5h1M21 14.5h1M1 16.5h1M11 16.5h1M20 16.5h1M41 16.5h1M1 18.5h1M37 18.5h1M23 19.5h1M27 19.5h1M8 20.5h1M13 20.5h1M15 20.5h1M29 21.5h1M10 22.5h1M39 22.5h1M9 25.5h1M2 26.5h1M13 27.5h1M37 27.5h1M40 27.5h1M15 28.5h1M41 29.5h1M42 30.5h1"/><path stroke="#e6e620" stroke-opacity="0.2" d="M26 0.5h1M5 1.5h1M34 1.5h1M5 2.5h1M10 2.5h1M16 2.5h1M27 2.5h1M30 2.5h1M38 2.5h1M0 3.5h1M4 3.5h1M7 3.5h1M21 3.5h1M35 3.5h1M37 3.5h1M41 3.5h2M2 4.5h1M4 4.5h1M7 4.5h1M11 4.5h1M13 4.5h1M16 4.5h1M18 4.5h1M20 4.5h1M22 4.5h1M35 4.5h1M39 4.5h1M42 4.5h1M1 5.5h3M18 5.5h1M25 5.5h1M29 5.5h1M32 5.5h2M38 5.5h1M41 5.5h1M3 6.5h1M14 6.5h1M34 6.5h1M40 6.5h1M42 6.5h1M2 8.5h1M15 8.5h1M19 8.5h1M31 8.5h1M34 8.5h1M39 8.5h1M0 9.5h1M9 9.5h1M14 9.5h1M20 9.5h1M24 9.5h1M32 9.5h1M13 10.5h1M17 10.5h1M26 10.5h1M6 11.5h1M11 11.5h1M21 11.5h1M27 11.5h1M34 11.5h2M21 12.5h1M0 13.5h1M3 13.5h1M8 13.5h1M15 13.5h2M31 13.5h1M33 13.5h1M35 13.5h2M6 14.5h1M27 14.5h1M29 14.5h1M31 14.5h1M34 14.5h1M36 14.5h1M39 14.5h1M2 16.5h1M8 16.5h1M12 16.5h1M15 16.5h1M25 16.5h1M28 16.5h1M31 16.5h1M35 16.5h1M38 16.5h1M40 16.5h1M42 16.5h1M6 17.5h2M24 17.5h1M34 17.5h1M40 17.5h1M2 18.5h2M6 18.5h1M8 18.5h1M10 18.5h1M14 18.5h1M20 18.5h1M27 18.5h1M32 18.5h1M38 18.5h1M40 18.5h1M2 19.5h1M24 19.5h1M26 19.5h1M31 19.5h4M37 19.5h2M0 20.5h1M2 20.5h1M4 20.5h1M11 20.5h1M16 20.5h1M21 20.5h1M29 20.5h1M35 20.5h3M40 20.5h1M42 20.5h1M16 21.5h1M26 21.5h1M38 21.5h1M7 22.5h1M9 22.5h1M13 22.5h1M21 22.5h1M29 22.5h1M31 22.5h2M35 22.5h2M13 23.5h1M27 23.5h1M7 24.5h1M10 24.5h1M28 24.5h1M37 24.5h1M10 25.5h1M28 25.5h1M1 26.5h1M4 26.5h2M7 26.5h1M12 26.5h1M15 26.5h1M17 26.5h1M19 26.5h1M21 26.5h1M23 26.5h1M34 26.5h1M36 26.5h1M38 26.5h1M18 27.5h2M24 27.5h1M31 27.5h2M39 27.5h1M16 28.5h1M25 28.5h1M38 28.5h1M41 28.5h1M9 29.5h1M18 29.5h1M5 30.5h5M15 30.5h2M19 30.5h3M23 30.5h2M26 30.5h1M30 30.5h1M32 30.5h1M35 30.5h1"/><path stroke="#e6e620" stroke-opacity="0.3" d="M11 0.5h1M21 0.5h1M41 0.5h1M23 1.5h1M17 2.5h1M41 2.5h1M10 3.5h1M16 3.5h1M8 4.5h1M25 4.5h1M28 4.5h1M16 5.5h1M22 5.5h1M24 5.5h1M26 5.5h1M42 5.5h1M4 6.5h1M20 6.5h1M35 6.5h1M4 8.5h1M16 8.5h1M30 8.5h1M16 9.5h1M19 9.5h1M15 10.5h1M20 10.5h1M32 10.5h1M10 11.5h1M33 11.5h1M7 12.5h1M11 12.5h1M19 12.5h1M37 12.5h1M1 13.5h1M6 13.5h1M10 13.5h1M19 13.5h1M25 13.5h1M29 13.5h1M37 13.5h1M14 14.5h2M25 14.5h1M32 14.5h1M37 14.5h2M40 15.5h1M7 16.5h1M18 16.5h1M21 16.5h1M9 17.5h1M26 17.5h1M31 17.5h2M9 18.5h1M13 18.5h1M22 18.5h1M30 18.5h2M7 19.5h1M7 20.5h1M9 20.5h1M14 20.5h1M20 20.5h1M23 20.5h1M25 20.5h1M39 20.5h1M41 20.5h1M6 21.5h1M9 21.5h1M22 21.5h1M39 21.5h1M41 21.5h2M4 22.5h1M0 23.5h1M10 23.5h1M15 23.5h2M33 23.5h1M8 25.5h1M14 25.5h1M14 26.5h1M35 26.5h1M39 26.5h1M6 27.5h1M11 27.5h1M15 27.5h1M23 27.5h1M25 27.5h1M42 27.5h1M5 28.5h1M31 28.5h1M34 28.5h1M20 29.5h2M34 29.5h1M39 30.5h1"/><path stroke="#e6e620" stroke-opacity="0.4" d="M8 0.5h1M13 0.5h1M15 0.5h1M19 0.5h2M22 0.5h1M25 0.5h1M29 0.5h2M34 0.5h1M37 0.5h1M0 1.5h2M9 1.5h1M19 1.5h1M28 1.5h1M30 1.5h2M36 1.5h1M38 1.5h1M40 1.5h2M0 2.5h1M3 2.5h2M6 2.5h1M12 2.5h1M19 2.5h2M28 2.5h2M35 2.5h1M37 2.5h1M40 2.5h1M5 3.5h2M9 3.5h1M13 3.5h1M18 3.5h3M22 3.5h2M30 3.5h1M33 3.5h1M6 4.5h1M9 4.5h1M12 4.5h1M17 4.5h1M21 4.5h1M23 4.5h1M33 4.5h2M5 5.5h1M7 5.5h4M13 5.5h3M28 5.5h1M30 5.5h2M35 5.5h1M6 6.5h2M17 6.5h1M21 6.5h2M39 6.5h1M40 7.5h1M0 8.5h1M3 8.5h1M11 8.5h1M14 8.5h1M25 8.5h1M32 8.5h1M2 9.5h1M4 9.5h2M8 9.5h1M10 9.5h1M21 9.5h3M25 9.5h4M34 9.5h2M37 9.5h1M41 9.5h1M6 10.5h1M14 10.5h1M23 10.5h1M28 10.5h1M39 10.5h2M0 11.5h3M4 11.5h1M19 11.5h1M32 11.5h1M42 11.5h1M0 12.5h1M13 12.5h1M18 12.5h1M20 12.5h1M22 12.5h1M24 12.5h1M27 12.5h1M34 12.5h1M36 12.5h1M38 12.5h4M9 13.5h1M11 13.5h1M14 13.5h1M17 13.5h2M20 13.5h1M22 13.5h1M28 13.5h1M40 13.5h1M5 14.5h1M9 14.5h2M12 14.5h1M18 14.5h1M28 14.5h1M30 14.5h1M40 14.5h1M10 15.5h2M17 15.5h1M22 15.5h1M35 15.5h1M38 15.5h1M0 16.5h1M14 16.5h1M16 16.5h1M23 16.5h1M27 16.5h1M29 16.5h1M32 16.5h3M36 16.5h2M39 16.5h1M3 17.5h1M8 17.5h1M14 17.5h2M20 17.5h1M22 17.5h1M25 17.5h1M27 17.5h1M29 17.5h1M38 17.5h2M41 17.5h1M0 18.5h1M11 18.5h1M18 18.5h1M24 18.5h1M26 18.5h1M29 18.5h1M33 18.5h1M41 18.5h2M0 19.5h1M4 19.5h1M6 19.5h1M9 19.5h2M13 19.5h2M16 19.5h1M19 19.5h1M28 19.5h1M35 19.5h1M39 19.5h4M1 20.5h1M18 20.5h1M31 20.5h4M2 21.5h3M7 21.5h1M10 21.5h2M13 21.5h2M19 21.5h1M21 21.5h1M23 21.5h1M25 21.5h1M30 21.5h1M35 21.5h2M1 22.5h3M11 22.5h1M14 22.5h1M18 22.5h2M24 22.5h1M27 22.5h1M33 22.5h1M37 22.5h1M1 23.5h1M5 23.5h1M9 23.5h1M21 23.5h2M24 23.5h1M26 23.5h1M28 23.5h1M34 23.5h1M36 23.5h1M41 23.5h1M1 24.5h1M5 24.5h1M8 24.5h1M13 24.5h1M17 24.5h1M19 24.5h1M21 24.5h2M30 24.5h4M36 24.5h1M41 24.5h2M3 25.5h1M5 25.5h1M16 25.5h4M21 25.5h3M30 25.5h1M32 25.5h1M34 25.5h1M37 25.5h1M9 26.5h1M11 26.5h1M16 26.5h1M20 26.5h1M24 26.5h2M27 26.5h2M30 26.5h1M33 26.5h1M37 26.5h1M1 27.5h1M3 27.5h1M9 27.5h1M12 27.5h1M17 27.5h1M21 27.5h2M34 27.5h3M41 27.5h1M0 28.5h1M10 28.5h2M13 28.5h2M18 28.5h1M23 28.5h1M26 28.5h5M32 28.5h1M42 28.5h1M10 29.5h1M26 29.5h1M36 29.5h2M42 29.5h1M1 30.5h1M10 30.5h2M13 30.5h1M17 30.5h1M22 30.5h1M25 30.5h1M29 30.5h1M31 30.5h1M33 30.5h2M40 30.5h1"/><path stroke="#e6e620" stroke-opacity="0.5" d="M1 0.5h1M5 0.5h1M10 0.5h1M18 0.5h1M28 0.5h1M33 0.5h1M40 0.5h1M2 1.5h1M11 1.5h2M17 1.5h2M22 1.5h1M26 1.5h2M29 1.5h1M32 1.5h1M35 1.5h1M8 2.5h2M13 2.5h1M32 2.5h1M39 2.5h1M42 2.5h1M2 3.5h1M12 3.5h1M15 3.5h1M17 3.5h1M28 3.5h1M38 3.5h2M10 4.5h1M24 4.5h1M31 4.5h1M41 4.5h1M4 5.5h1M6 5.5h1M12 5.5h1M17 5.5h1M20 5.5h1M34 5.5h1M2 6.5h1M9 6.5h1M16 6.5h1M18 6.5h1M26 6.5h4M38 6.5h1M0 7.5h1M5 7.5h1M10 7.5h1M17 7.5h1M20 7.5h1M5 8.5h2M10 8.5h1M21 8.5h2M29 8.5h1M33 8.5h1M41 8.5h1M1 9.5h1M6 9.5h1M11 9.5h1M13 9.5h1M18 9.5h1M36 9.5h1M40 9.5h1M0 10.5h2M4 10.5h2M8 10.5h1M11 10.5h1M21 10.5h1M30 10.5h1M9 11.5h1M18 11.5h1M23 11.5h3M38 11.5h2M41 11.5h1M4 12.5h1M6 12.5h1M10 12.5h1M14 12.5h1M17 12.5h1M23 12.5h1M26 12.5h1M28 12.5h1M31 12.5h2M21 13.5h1M24 13.5h1M26 13.5h1M39 13.5h1M0 14.5h1M2 14.5h1M7 14.5h1M11 14.5h1M17 14.5h1M23 14.5h1M41 14.5h2M5 15.5h1M14 15.5h1M18 15.5h1M26 15.5h1M31 15.5h1M39 15.5h1M6 16.5h1M24 16.5h1M30 16.5h1M2 17.5h1M10 17.5h1M12 17.5h1M17 17.5h1M19 17.5h1M28 17.5h1M36 17.5h1M21 18.5h1M35 18.5h1M39 18.5h1M17 19.5h1M29 19.5h2M12 20.5h1M19 20.5h1M30 20.5h1M24 21.5h1M15 22.5h1M25 22.5h1M38 22.5h1M40 22.5h1M8 23.5h1M19 23.5h1M31 23.5h2M37 23.5h1M42 23.5h1M0 24.5h1M3 24.5h1M6 24.5h1M12 24.5h1M25 24.5h2M29 24.5h1M35 24.5h1M40 24.5h1M26 25.5h2M35 25.5h1M38 25.5h1M40 25.5h3M0 26.5h1M18 26.5h1M2 27.5h1M4 27.5h1M10 27.5h1M16 27.5h1M26 27.5h2M30 27.5h1M33 27.5h1M38 27.5h1M6 28.5h1M12 28.5h1M19 28.5h1M24 28.5h1M33 28.5h1M40 28.5h1M0 29.5h1M2 29.5h1M7 29.5h2M15 29.5h1M23 29.5h1M25 29.5h1M33 29.5h1M38 29.5h1M40 29.5h1M3 30.5h1"/><path stroke="#e6e620" stroke-opacity="0.6" d="M0 0.5h1M2 0.5h3M9 0.5h1M12 0.5h1M16 0.5h2M24 0.5h1M35 0.5h1M39 0.5h1M42 0.5h1M4 1.5h1M7 1.5h2M13 1.5h2M16 1.5h1M25 1.5h1M37 1.5h1M39 1.5h1M42 1.5h1M1 2.5h2M7 2.5h1M21 2.5h2M25 2.5h2M31 2.5h1M33 2.5h2M36 2.5h1M11 3.5h1M29 3.5h1M36 3.5h1M40 3.5h1M3 4.5h1M15 4.5h1M26 4.5h1M36 4.5h2M21 5.5h1M23 5.5h1M36 5.5h2M39 5.5h2M0 6.5h1M10 6.5h2M19 6.5h1M23 6.5h2M33 6.5h1M37 6.5h1M41 6.5h1M6 7.5h3M12 7.5h3M16 7.5h1M21 7.5h1M24 7.5h1M30 7.5h2M36 7.5h1M1 8.5h1M7 8.5h1M9 8.5h1M12 8.5h2M18 8.5h1M20 8.5h1M23 8.5h2M26 8.5h3M36 8.5h1M38 8.5h1M40 8.5h1M3 9.5h1M7 9.5h1M17 9.5h1M29 9.5h2M42 9.5h1M3 10.5h1M7 10.5h1M9 10.5h2M12 10.5h1M18 10.5h1M24 10.5h2M27 10.5h1M33 10.5h1M35 10.5h1M7 11.5h2M13 11.5h1M15 11.5h3M22 11.5h1M29 11.5h2M36 11.5h2M1 12.5h3M12 12.5h1M25 12.5h1M33 12.5h1M35 12.5h1M42 12.5h1M5 13.5h1M12 13.5h1M32 13.5h1M38 13.5h1M3 14.5h1M8 14.5h1M13 14.5h1M19 14.5h1M26 14.5h1M1 15.5h2M8 15.5h1M12 15.5h1M16 15.5h1M19 15.5h3M24 15.5h1M27 15.5h1M32 15.5h1M34 15.5h1M37 15.5h1M41 15.5h2M4 16.5h2M17 16.5h1M26 16.5h1M0 17.5h2M4 17.5h1M13 17.5h1M16 17.5h1M18 17.5h1M23 17.5h1M30 17.5h1M37 17.5h1M19 18.5h1M25 18.5h1M36 18.5h1M1 19.5h1M3 19.5h1M5 19.5h1M25 19.5h1M6 20.5h1M28 20.5h1M38 20.5h1M5 21.5h1M15 21.5h1M17 21.5h1M27 21.5h1M32 21.5h3M37 21.5h1M0 22.5h1M5 22.5h2M8 22.5h1M20 22.5h1M23 22.5h1M26 22.5h1M28 22.5h1M30 22.5h1M34 22.5h1M41 22.5h1M2 23.5h3M11 23.5h1M14 23.5h1M18 23.5h1M29 23.5h2M38 23.5h1M2 24.5h1M9 24.5h1M11 24.5h1M15 24.5h2M18 24.5h1M20 24.5h1M27 24.5h1M38 24.5h2M0 25.5h2M4 25.5h1M11 25.5h1M15 25.5h1M20 25.5h1M29 25.5h1M36 25.5h1M13 26.5h1M40 26.5h2M0 27.5h1M5 27.5h1M8 27.5h1M14 27.5h1M20 27.5h1M28 27.5h1M1 28.5h1M9 28.5h1M21 28.5h1M36 28.5h2M1 29.5h1M4 29.5h2M11 29.5h2M16 29.5h2M19 29.5h1M22 29.5h1M24 29.5h1M27 29.5h3M31 29.5h2M39 29.5h1M4 30.5h1M14 30.5h1M37 30.5h1"/><path stroke="#e6e620" stroke-opacity="0.72" d="M7 0.5h1M32 0.5h1M36 0.5h1M38 0.5h1M3 1.5h1M6 1.5h1M10 1.5h1M15 1.5h1M20 1.5h1M33 1.5h1M15 2.5h1M18 2.5h1M23 2.5h2M1 3.5h1M3 3.5h1M8 3.5h1M14 3.5h1M24 3.5h1M26 3.5h2M31 3.5h2M34 3.5h1M0 4.5h2M14 4.5h1M19 4.5h1M27 4.5h1M29 4.5h1M32 4.5h1M38 4.5h1M40 4.5h1M11 5.5h1M19 5.5h1M5 6.5h1M8 6.5h1M12 6.5h2M15 6.5h1M30 6.5h2M1 7.5h1M4 7.5h1M9 7.5h1M11 7.5h1M15 7.5h1M22 7.5h2M25 7.5h1M27 7.5h1M29 7.5h1M32 7.5h1M34 7.5h2M41 7.5h1M8 8.5h1M35 8.5h1M12 9.5h1M16 10.5h1M19 10.5h1M22 10.5h1M34 10.5h1M36 10.5h1M38 10.5h1M41 10.5h1M5 11.5h1M12 11.5h1M14 11.5h1M26 11.5h1M31 11.5h1M40 11.5h1M5 12.5h1M8 12.5h2M15 12.5h1M29 12.5h2M7 13.5h1M23 13.5h1M1 14.5h1M16 14.5h1M20 14.5h1M22 14.5h1M35 14.5h1M0 15.5h1M3 15.5h1M7 15.5h1M9 15.5h1M13 15.5h1M15 15.5h1M23 15.5h1M28 15.5h1M30 15.5h1M33 15.5h1M36 15.5h1M3 16.5h1M9 16.5h2M19 16.5h1M5 17.5h1M11 17.5h1M21 17.5h1M42 17.5h1M5 18.5h1M11 19.5h1M22 19.5h1M36 19.5h1M3 20.5h1M0 21.5h2M12 21.5h1M18 21.5h1M20 21.5h1M31 21.5h1M40 21.5h1M12 22.5h1M16 22.5h2M7 23.5h1M12 23.5h1M17 23.5h1M20 23.5h1M25 23.5h1M39 23.5h2M4 24.5h1M23 24.5h2M7 25.5h1M24 25.5h1M31 25.5h1M31 26.5h1M2 28.5h1M4 28.5h1M7 28.5h2M17 28.5h1M20 28.5h1M22 28.5h1M35 28.5h1M39 28.5h1M3 29.5h1M6 29.5h1M13 29.5h1M30 29.5h1M18 30.5h1M36 30.5h1"/><path stroke="#e6e620" stroke-opacity="0.86" d="M6 0.5h1M23 0.5h1M21 1.5h1M11 2.5h1M14 2.5h1M5 4.5h1M30 4.5h1M1 6.5h1M25 6.5h1M32 6.5h1M2 7.5h2M18 7.5h2M26 7.5h1M28 7.5h1M33 7.5h1M37 7.5h3M42 7.5h1M17 8.5h1M31 9.5h1M38 9.5h1M2 10.5h1M31 10.5h1M37 10.5h1M42 10.5h1M3 11.5h1M20 11.5h1M28 11.5h1M2 13.5h1M41 13.5h2M33 14.5h1M4 15.5h1M6 15.5h1M25 15.5h1M29 15.5h1M12 19.5h1M20 19.5h1M8 21.5h1M28 21.5h1M6 23.5h1M23 23.5h1M35 23.5h1M14 24.5h1M34 24.5h1M2 25.5h1M6 25.5h1M12 25.5h2M25 25.5h1M33 25.5h1M39 25.5h1M29 27.5h1M3 28.5h1M14 29.5h1"/></pattern><pattern id="y11" width="43" height="31" patternUnits="userSpaceOnUse"><path stroke="#e6e620" stroke-opacity="0.1" d="M4 1.5h1M22 4.5h1M12 5.5h1M27 8.5h1M9 13.5h1M12 14.5h1M39 14.5h1M9 16.5h1M25 16.5h1M38 16.5h1M14 17.5h1M42 17.5h1M25 20.5h1M41 20.5h1M26 21.5h1M36 22.5h1M9 27.5h1M19 27.5h1M6 30.5h1M20 30.5h1M35 30.5h1M38 30.5h1"/><path stroke="#e6e620" stroke-opacity="0.2" d="M38 0.5h1M6 3.5h1M11 3.5h1M14 3.5h2M17 3.5h1M33 3.5h2M39 3.5h1M7 4.5h1M10 4.5h1M19 4.5h2M3 5.5h1M5 5.5h1M7 5.5h1M9 5.5h1M27 5.5h1M36 5.5h1M38 5.5h1M32 6.5h1M8 8.5h1M20 8.5h1M34 8.5h1M12 9.5h1M14 9.5h2M22 9.5h1M24 9.5h1M27 9.5h1M32 9.5h2M27 12.5h1M1 13.5h1M3 13.5h2M7 13.5h2M11 13.5h1M15 13.5h1M31 13.5h1M36 13.5h1M27 14.5h1M8 16.5h1M16 16.5h1M18 16.5h1M24 16.5h1M35 16.5h1M42 16.5h1M13 17.5h1M17 17.5h1M23 17.5h1M35 17.5h1M1 18.5h1M4 18.5h1M8 18.5h1M11 18.5h2M15 18.5h2M21 18.5h1M23 18.5h2M26 18.5h1M32 18.5h2M37 18.5h2M40 18.5h2M6 19.5h1M11 19.5h1M24 19.5h2M39 19.5h1M42 19.5h1M7 20.5h1M10 20.5h1M16 20.5h2M20 20.5h2M23 20.5h1M26 20.5h1M29 20.5h1M31 20.5h1M37 20.5h1M39 20.5h1M1 22.5h1M3 22.5h1M5 22.5h1M12 22.5h1M14 22.5h1M32 22.5h1M38 22.5h1M40 22.5h1M22 24.5h1M11 25.5h1M22 25.5h1M4 26.5h1M12 26.5h1M24 26.5h1M27 26.5h1M30 26.5h2M34 26.5h1M36 26.5h1M40 26.5h2M3 27.5h1M10 27.5h1M20 27.5h1M30 27.5h2M33 27.5h1M0 28.5h1M17 28.5h1M27 29.5h1M4 30.5h1M9 30.5h3M14 30.5h1M16 30.5h1M23 30.5h1M25 30.5h3M41 30.5h1"/><path stroke="#e6e620" stroke-opacity="0.3" d="M10 0.5h1M11 1.5h1M34 2.5h1M9 3.5h2M13 3.5h1M21 3.5h1M36 3.5h1M38 3.5h1M29 4.5h1M33 4.5h1M38 4.5h1M17 5.5h1M28 5.5h1M34 5.5h1M2 6.5h1M36 6.5h1M2 8.5h1M19 8.5h1M21 8.5h1M42 9.5h1M2 11.5h1M20 12.5h1M25 12.5h1M31 12.5h1M13 13.5h1M29 13.5h1M37 13.5h1M42 13.5h1M21 14.5h1M12 16.5h1M27 16.5h1M32 16.5h1M36 16.5h1M0 17.5h1M16 17.5h1M27 17.5h1M33 17.5h1M37 17.5h1M6 18.5h2M13 18.5h2M36 18.5h1M13 19.5h1M20 19.5h1M22 19.5h1M3 20.5h1M5 20.5h2M9 20.5h1M27 20.5h1M2 21.5h1M7 21.5h1M11 21.5h1M40 21.5h1M8 22.5h1M10 22.5h1M13 22.5h1M17 22.5h1M30 22.5h1M34 22.5h1M1 23.5h1M6 23.5h1M38 23.5h1M5 25.5h1M13 25.5h1M19 25.5h1M32 25.5h1M1 26.5h3M8 26.5h1M23 26.5h1M25 26.5h1M29 26.5h1M1 27.5h1M4 27.5h1M23 27.5h1M29 28.5h1M17 30.5h1"/><path stroke="#e6e620" stroke-opacity="0.4" d="M3 0.5h1M7 0.5h1M11 0.5h2M15 0.5h2M19 0.5h1M25 0.5h2M33 0.5h1M14 1.5h1M16 1.5h1M28 1.5h1M15 2.5h1M17 2.5h1M24 2.5h1M26 2.5h1M18 3.5h2M22 3.5h1M26 3.5h1M31 3.5h1M0 4.5h1M2 4.5h1M6 4.5h1M8 4.5h1M12 4.5h4M17 4.5h1M21 4.5h1M27 4.5h1M39 4.5h1M0 5.5h3M6 5.5h1M8 5.5h1M10 5.5h1M15 5.5h2M19 5.5h1M33 5.5h1M35 5.5h1M40 5.5h1M6 6.5h1M15 6.5h1M40 6.5h1M9 8.5h1M26 8.5h1M5 9.5h1M7 9.5h1M16 9.5h1M25 9.5h1M29 9.5h1M36 9.5h2M12 10.5h2M15 10.5h1M26 10.5h1M19 11.5h1M40 11.5h1M5 12.5h1M11 12.5h1M14 12.5h1M36 12.5h1M5 13.5h1M17 13.5h3M23 13.5h1M26 13.5h1M32 13.5h1M38 13.5h1M40 13.5h1M14 14.5h1M34 14.5h1M2 15.5h1M19 15.5h1M7 16.5h1M13 16.5h2M20 16.5h1M23 16.5h1M28 16.5h1M33 16.5h2M39 16.5h2M4 17.5h1M12 17.5h1M18 17.5h1M38 17.5h1M0 18.5h1M17 18.5h1M20 18.5h1M25 18.5h1M29 18.5h1M35 18.5h1M10 19.5h1M12 19.5h1M15 19.5h1M18 19.5h2M26 19.5h1M29 19.5h1M32 19.5h1M36 19.5h2M40 19.5h2M8 20.5h1M15 20.5h1M24 20.5h1M12 21.5h2M15 21.5h1M17 21.5h1M28 21.5h1M36 21.5h1M38 21.5h1M42 21.5h1M0 22.5h1M2 22.5h1M7 22.5h1M15 22.5h2M18 22.5h1M23 22.5h1M27 22.5h3M31 22.5h1M39 22.5h1M0 23.5h1M5 23.5h1M7 23.5h1M25 23.5h1M29 23.5h1M0 24.5h1M9 24.5h1M14 24.5h1M26 24.5h1M37 24.5h1M42 24.5h1M6 25.5h1M18 25.5h1M20 25.5h1M31 25.5h1M34 25.5h2M40 25.5h1M14 26.5h1M20 26.5h1M22 26.5h1M32 26.5h2M35 26.5h1M42 26.5h1M8 27.5h1M13 27.5h1M15 27.5h2M28 27.5h2M37 27.5h4M42 27.5h1M1 28.5h1M8 28.5h1M16 28.5h1M19 28.5h1M34 28.5h1M37 28.5h1M40 28.5h1M3 29.5h1M7 29.5h1M10 29.5h1M14 29.5h1M2 30.5h1M18 30.5h2M24 30.5h1M33 30.5h2M36 30.5h1"/><path stroke="#e6e620" stroke-opacity="0.5" d="M2 0.5h1M8 0.5h1M22 0.5h1M29 0.5h1M36 0.5h1M10 1.5h1M13 1.5h1M29 1.5h1M3 2.5h1M6 2.5h1M9 2.5h1M14 2.5h1M27 2.5h1M1 3.5h1M5 3.5h1M7 3.5h1M16 3.5h1M23 3.5h1M35 3.5h1M41 3.5h1M18 4.5h1M26 4.5h1M41 4.5h1M4 5.5h1M20 5.5h5M31 5.5h1M39 5.5h1M3 6.5h1M8 6.5h1M20 6.5h1M25 6.5h1M30 6.5h1M34 6.5h1M10 8.5h1M12 8.5h1M17 8.5h1M29 8.5h2M36 8.5h1M0 9.5h1M6 9.5h1M9 9.5h1M13 9.5h1M18 9.5h1M23 9.5h1M26 9.5h1M2 10.5h1M14 10.5h1M17 10.5h1M20 10.5h1M23 10.5h1M27 10.5h1M41 10.5h1M18 11.5h1M25 11.5h1M29 11.5h1M34 11.5h1M39 11.5h1M2 12.5h1M23 12.5h2M26 12.5h1M29 12.5h1M34 12.5h2M37 12.5h1M21 13.5h1M24 13.5h1M30 13.5h1M33 13.5h1M35 13.5h1M7 14.5h1M10 14.5h1M30 14.5h1M33 14.5h1M40 14.5h1M42 14.5h1M11 15.5h1M13 15.5h1M15 15.5h1M20 15.5h1M29 15.5h1M36 15.5h1M0 16.5h1M19 16.5h1M21 16.5h2M37 16.5h1M41 16.5h1M6 17.5h3M20 17.5h1M29 17.5h3M41 17.5h1M2 18.5h2M27 18.5h1M30 18.5h1M39 18.5h1M0 19.5h1M14 19.5h1M23 19.5h1M31 19.5h1M34 19.5h1M30 20.5h1M32 20.5h2M35 20.5h1M38 20.5h1M0 21.5h1M3 21.5h1M27 21.5h1M30 21.5h1M33 21.5h1M9 22.5h1M11 22.5h1M20 22.5h1M24 22.5h2M42 22.5h1M2 23.5h3M12 23.5h1M14 23.5h1M27 23.5h1M34 23.5h1M37 23.5h1M10 24.5h1M24 24.5h1M27 24.5h1M34 24.5h2M38 24.5h1M16 25.5h1M26 25.5h1M37 25.5h1M39 25.5h1M41 25.5h1M10 26.5h1M13 26.5h1M15 26.5h1M37 26.5h1M7 27.5h1M17 27.5h1M26 27.5h1M35 27.5h2M41 27.5h1M3 28.5h1M14 28.5h2M18 28.5h1M22 28.5h1M25 28.5h1M33 28.5h1M39 28.5h1M42 28.5h1M5 29.5h1M16 29.5h1M18 29.5h1M20 29.5h2M24 29.5h1M26 29.5h1M30 29.5h1M3 30.5h1M8 30.5h1M21 30.5h1M29 30.5h1M31 30.5h1"/><path stroke="#e6e620" stroke-opacity="0.6" d="M14 0.5h1M17 0.5h1M20 0.5h2M24 0.5h1M28 0.5h1M32 0.5h1M37 0.5h1M39 0.5h1M1 1.5h1M5 1.5h1M17 1.5h2M20 1.5h1M22 1.5h1M24 1.5h1M30 1.5h1M32 1.5h2M38 1.5h1M2 2.5h1M4 2.5h1M8 2.5h1M13 2.5h1M18 2.5h1M23 2.5h1M32 2.5h2M41 2.5h1M0 3.5h1M2 3.5h1M8 3.5h1M28 3.5h3M40 3.5h1M3 4.5h1M9 4.5h1M16 4.5h1M23 4.5h1M30 4.5h1M35 4.5h2M40 4.5h1M11 5.5h1M13 5.5h2M18 5.5h1M26 5.5h1M1 6.5h1M5 6.5h1M7 6.5h1M9 6.5h2M13 6.5h1M16 6.5h1M18 6.5h2M28 6.5h1M31 6.5h1M33 6.5h1M38 6.5h1M5 7.5h1M0 8.5h2M4 8.5h4M11 8.5h1M13 8.5h4M23 8.5h3M31 8.5h3M37 8.5h3M1 9.5h1M11 9.5h1M19 9.5h1M21 9.5h1M28 9.5h1M31 9.5h1M34 9.5h1M38 9.5h4M1 10.5h1M4 10.5h1M6 10.5h2M11 10.5h1M19 10.5h1M32 10.5h2M36 10.5h2M39 10.5h1M6 11.5h1M13 11.5h1M15 11.5h2M21 11.5h4M33 11.5h1M36 11.5h2M1 12.5h1M4 12.5h1M6 12.5h1M8 12.5h1M13 12.5h1M18 12.5h1M22 12.5h1M28 12.5h1M30 12.5h1M33 12.5h1M42 12.5h1M0 13.5h1M6 13.5h1M10 13.5h1M14 13.5h1M16 13.5h1M20 13.5h1M39 13.5h1M41 13.5h1M1 14.5h2M6 14.5h1M9 14.5h1M13 14.5h1M16 14.5h5M22 14.5h1M25 14.5h1M31 14.5h1M35 14.5h3M0 15.5h1M9 15.5h1M14 15.5h1M17 15.5h1M21 15.5h1M23 15.5h1M28 15.5h1M33 15.5h1M35 15.5h1M39 15.5h1M41 15.5h1M2 16.5h1M4 16.5h3M10 16.5h1M26 16.5h1M3 17.5h1M9 17.5h2M19 17.5h1M24 17.5h3M32 17.5h1M18 18.5h2M28 18.5h1M31 18.5h1M42 18.5h1M1 19.5h1M3 19.5h3M7 19.5h2M17 19.5h1M28 19.5h1M30 19.5h1M33 19.5h1M38 19.5h1M14 20.5h1M19 20.5h1M22 20.5h1M28 20.5h1M36 20.5h1M42 20.5h1M4 21.5h1M6 21.5h1M10 21.5h1M14 21.5h1M18 21.5h4M23 21.5h1M25 21.5h1M32 21.5h1M35 21.5h1M39 21.5h1M41 21.5h1M19 22.5h1M26 22.5h1M37 22.5h1M41 22.5h1M11 23.5h1M18 23.5h1M20 23.5h1M22 23.5h2M28 23.5h1M31 23.5h1M33 23.5h1M41 23.5h1M3 24.5h1M11 24.5h1M13 24.5h1M28 24.5h4M0 25.5h1M2 25.5h2M9 25.5h1M12 25.5h1M14 25.5h1M21 25.5h1M23 25.5h2M28 25.5h1M42 25.5h1M6 26.5h2M9 26.5h1M11 26.5h1M17 26.5h3M21 26.5h1M28 26.5h1M0 27.5h1M2 27.5h1M5 27.5h2M22 27.5h1M24 27.5h2M27 27.5h1M4 28.5h2M12 28.5h2M20 28.5h1M23 28.5h1M28 28.5h1M30 28.5h1M35 28.5h1M0 29.5h1M4 29.5h1M6 29.5h1M8 29.5h1M11 29.5h2M23 29.5h1M32 29.5h2M35 29.5h2M39 29.5h1M1 30.5h1M7 30.5h1M12 30.5h2M22 30.5h1M32 30.5h1M42 30.5h1"/><path stroke="#e6e620" stroke-opacity="0.72" d="M1 0.5h1M4 0.5h3M9 0.5h1M13 0.5h1M18 0.5h1M23 0.5h1M30 0.5h2M34 0.5h2M40 0.5h1M6 1.5h1M9 1.5h1M19 1.5h1M23 1.5h1M34 1.5h3M39 1.5h4M5 2.5h1M7 2.5h1M10 2.5h1M12 2.5h1M16 2.5h1M19 2.5h1M21 2.5h2M28 2.5h2M31 2.5h1M36 2.5h2M39 2.5h2M42 2.5h1M4 3.5h1M24 3.5h2M27 3.5h1M37 3.5h1M1 4.5h1M4 4.5h1M11 4.5h1M24 4.5h2M31 4.5h1M29 5.5h2M32 5.5h1M41 5.5h2M0 6.5h1M4 6.5h1M11 6.5h2M14 6.5h1M23 6.5h2M27 6.5h1M29 6.5h1M39 6.5h1M41 6.5h2M0 7.5h3M4 7.5h1M7 7.5h4M12 7.5h2M15 7.5h2M19 7.5h2M25 7.5h2M28 7.5h2M32 7.5h6M39 7.5h1M41 7.5h2M18 8.5h1M22 8.5h1M28 8.5h1M40 8.5h3M3 9.5h1M10 9.5h1M17 9.5h1M20 9.5h1M30 9.5h1M35 9.5h1M3 10.5h1M5 10.5h1M10 10.5h1M16 10.5h1M25 10.5h1M29 10.5h3M34 10.5h2M38 10.5h1M42 10.5h1M0 11.5h1M5 11.5h1M7 11.5h4M12 11.5h1M14 11.5h1M17 11.5h1M20 11.5h1M30 11.5h2M35 11.5h1M38 11.5h1M41 11.5h2M0 12.5h1M3 12.5h1M7 12.5h1M9 12.5h2M15 12.5h3M19 12.5h1M32 12.5h1M38 12.5h4M12 13.5h1M22 13.5h1M25 13.5h1M27 13.5h2M0 14.5h1M5 14.5h1M8 14.5h1M11 14.5h1M15 14.5h1M23 14.5h1M26 14.5h1M28 14.5h1M32 14.5h1M38 14.5h1M41 14.5h1M1 15.5h1M3 15.5h1M5 15.5h1M18 15.5h1M22 15.5h1M25 15.5h3M30 15.5h1M32 15.5h1M34 15.5h1M38 15.5h1M40 15.5h1M42 15.5h1M1 16.5h1M3 16.5h1M11 16.5h1M15 16.5h1M17 16.5h1M30 16.5h2M2 17.5h1M5 17.5h1M11 17.5h1M22 17.5h1M28 17.5h1M39 17.5h2M10 18.5h1M9 19.5h1M16 19.5h1M35 19.5h1M2 20.5h1M4 20.5h1M12 20.5h1M34 20.5h1M1 21.5h1M5 21.5h1M8 21.5h2M22 21.5h1M24 21.5h1M31 21.5h1M34 21.5h1M37 21.5h1M4 22.5h1M21 22.5h1M33 22.5h1M9 23.5h2M13 23.5h1M15 23.5h2M19 23.5h1M21 23.5h1M24 23.5h1M30 23.5h1M35 23.5h2M39 23.5h1M42 23.5h1M2 24.5h1M4 24.5h5M12 24.5h1M15 24.5h3M19 24.5h3M23 24.5h1M25 24.5h1M36 24.5h1M39 24.5h3M1 25.5h1M4 25.5h1M7 25.5h1M10 25.5h1M25 25.5h1M27 25.5h1M29 25.5h1M33 25.5h1M38 25.5h1M0 26.5h1M12 27.5h1M14 27.5h1M18 27.5h1M21 27.5h1M32 27.5h1M34 27.5h1M6 28.5h1M10 28.5h2M21 28.5h1M26 28.5h2M31 28.5h2M41 28.5h1M1 29.5h2M9 29.5h1M13 29.5h1M17 29.5h1M19 29.5h1M22 29.5h1M25 29.5h1M29 29.5h1M34 29.5h1M37 29.5h2M41 29.5h2M37 30.5h1"/><path stroke="#e6e620" stroke-opacity="0.86" d="M0 0.5h1M27 0.5h1M41 0.5h2M0 1.5h1M2 1.5h2M7 1.5h2M12 1.5h1M15 1.5h1M21 1.5h1M25 1.5h3M31 1.5h1M37 1.5h1M0 2.5h1M11 2.5h1M20 2.5h1M30 2.5h1M35 2.5h1M38 2.5h1M3 3.5h1M20 3.5h1M32 3.5h1M42 3.5h1M5 4.5h1M32 4.5h1M34 4.5h1M42 4.5h1M25 5.5h1M17 6.5h1M21 6.5h2M26 6.5h1M37 6.5h1M3 7.5h1M6 7.5h1M11 7.5h1M14 7.5h1M17 7.5h2M21 7.5h1M23 7.5h2M27 7.5h1M30 7.5h2M38 7.5h1M40 7.5h1M3 8.5h1M4 9.5h1M8 9.5h1M0 10.5h1M8 10.5h2M18 10.5h1M21 10.5h2M24 10.5h1M28 10.5h1M40 10.5h1M1 11.5h1M3 11.5h2M11 11.5h1M26 11.5h3M32 11.5h1M12 12.5h1M21 12.5h1M34 13.5h1M3 14.5h2M24 14.5h1M29 14.5h1M4 15.5h1M6 15.5h3M10 15.5h1M12 15.5h1M16 15.5h1M24 15.5h1M31 15.5h1M37 15.5h1M1 17.5h1M15 17.5h1M21 17.5h1M34 17.5h1M36 17.5h1M27 19.5h1M0 20.5h1M18 20.5h1M16 21.5h1M29 21.5h1M6 22.5h1M22 22.5h1M35 22.5h1M8 23.5h1M17 23.5h1M26 23.5h1M32 23.5h1M40 23.5h1M1 24.5h1M18 24.5h1M32 24.5h2M8 25.5h1M15 25.5h1M17 25.5h1M30 25.5h1M36 25.5h1M11 27.5h1M2 28.5h1M7 28.5h1M9 28.5h1M24 28.5h1M36 28.5h1M38 28.5h1M15 29.5h1M28 29.5h1M31 29.5h1M40 29.5h1M0 30.5h1M15 30.5h1"/><path stroke="#e6e620" d="M25 2.5h1M35 6.5h1M22 7.5h1M13 20.5h1"/></pattern><pattern id="y12" width="43" height="31" patternUnits="userSpaceOnUse"><path stroke="#e6e620" stroke-opacity="0.1" d="M38 8.5h1M17 16.5h1M40 16.5h1M9 20.5h1M17 20.5h1M19 20.5h1M37 20.5h1M24 28.5h1"/><path stroke="#e6e620" stroke-opacity="0.2" d="M23 2.5h1M2 3.5h1M4 3.5h1M6 3.5h1M10 5.5h1M16 5.5h1M21 5.5h1M24 5.5h1M36 5.5h1M10 8.5h1M35 8.5h1M2 9.5h1M10 9.5h1M16 9.5h1M1 13.5h1M21 13.5h1M41 13.5h2M4 16.5h1M8 16.5h1M12 16.5h1M27 16.5h1M39 16.5h1M42 16.5h1M4 18.5h1M7 18.5h1M15 18.5h1M26 18.5h1M32 18.5h2M5 19.5h1M7 19.5h1M11 19.5h2M19 19.5h1M27 19.5h1M30 19.5h1M38 19.5h1M4 20.5h1M11 20.5h1M41 20.5h1M1 22.5h1M5 22.5h1M7 22.5h1M31 22.5h1M42 22.5h1M0 26.5h1M2 26.5h1M5 26.5h2M8 26.5h1M11 26.5h1M14 26.5h3M22 26.5h1M25 26.5h2M36 26.5h6M5 27.5h1M2 30.5h1M7 30.5h1M15 30.5h3M35 30.5h2M42 30.5h1"/><path stroke="#e6e620" stroke-opacity="0.3" d="M5 3.5h1M11 3.5h1M34 3.5h1M38 3.5h1M28 5.5h1M15 7.5h1M31 8.5h1M5 9.5h1M7 13.5h1M28 13.5h1M31 14.5h1M2 17.5h1M9 18.5h1M14 18.5h1M22 18.5h1M1 19.5h1M3 19.5h2M18 19.5h1M26 19.5h1M29 19.5h1M32 19.5h2M37 19.5h1M6 20.5h1M21 20.5h1M31 20.5h2M15 21.5h1M18 22.5h1M24 22.5h1M3 25.5h1M14 25.5h1M4 26.5h1M21 26.5h1M22 28.5h1M32 28.5h1M3 30.5h1M38 30.5h1"/><path stroke="#e6e620" stroke-opacity="0.4" d="M21 0.5h1M40 0.5h1M4 1.5h1M5 2.5h1M8 2.5h1M17 2.5h1M33 2.5h1M39 2.5h1M18 3.5h1M21 3.5h1M27 3.5h1M29 3.5h1M31 3.5h1M35 3.5h1M37 3.5h1M42 3.5h1M5 4.5h1M7 4.5h1M17 4.5h1M24 4.5h2M0 5.5h1M6 5.5h1M9 5.5h1M15 5.5h1M22 5.5h1M25 5.5h1M30 5.5h1M42 5.5h1M30 6.5h1M5 8.5h1M9 8.5h1M14 8.5h2M20 8.5h1M26 8.5h1M30 8.5h1M34 8.5h1M4 9.5h1M9 9.5h1M18 9.5h1M25 9.5h1M40 9.5h1M17 10.5h1M2 12.5h1M14 12.5h1M18 12.5h1M28 12.5h1M0 13.5h1M2 13.5h1M13 13.5h2M33 13.5h1M40 13.5h1M5 14.5h1M8 14.5h1M42 15.5h1M1 16.5h2M11 16.5h1M16 16.5h1M18 16.5h1M20 16.5h1M22 16.5h1M30 16.5h1M35 16.5h2M41 16.5h1M1 17.5h1M31 17.5h1M34 17.5h2M37 17.5h1M39 17.5h1M42 17.5h1M0 18.5h2M3 18.5h1M6 18.5h1M8 18.5h1M16 18.5h1M23 18.5h1M25 18.5h1M27 18.5h1M30 18.5h1M36 18.5h1M39 18.5h3M16 19.5h1M20 19.5h1M23 19.5h1M25 19.5h1M31 19.5h1M35 19.5h2M42 19.5h1M1 20.5h1M3 20.5h1M10 20.5h1M12 20.5h1M15 20.5h1M24 20.5h1M29 20.5h2M34 20.5h1M36 20.5h1M4 21.5h1M12 21.5h1M2 22.5h1M6 22.5h1M12 22.5h1M16 22.5h2M20 22.5h2M26 22.5h1M32 22.5h1M34 22.5h1M38 22.5h1M41 22.5h1M27 23.5h1M19 24.5h1M18 25.5h1M26 25.5h1M31 25.5h1M9 26.5h1M17 26.5h2M30 26.5h1M32 26.5h1M35 26.5h1M3 27.5h2M15 27.5h1M21 27.5h1M26 27.5h1M35 27.5h1M41 27.5h1M4 28.5h1M20 28.5h1M27 28.5h1M17 29.5h1M1 30.5h1M11 30.5h1M19 30.5h3M27 30.5h1M33 30.5h2M39 30.5h1"/><path stroke="#e6e620" stroke-opacity="0.5" d="M9 0.5h1M11 0.5h1M5 1.5h1M13 1.5h1M0 2.5h1M3 2.5h1M24 2.5h1M26 2.5h1M40 2.5h2M9 3.5h1M26 3.5h1M32 3.5h1M40 3.5h2M0 4.5h1M3 4.5h2M8 4.5h1M16 4.5h1M21 4.5h1M4 5.5h1M19 5.5h1M23 5.5h1M38 5.5h1M6 6.5h1M13 6.5h1M31 6.5h1M33 7.5h1M40 7.5h1M12 8.5h1M22 8.5h1M32 8.5h1M36 8.5h1M7 9.5h1M13 9.5h1M27 9.5h1M32 9.5h1M35 9.5h2M39 9.5h1M34 10.5h1M24 11.5h1M27 11.5h1M6 13.5h1M18 13.5h1M34 13.5h1M36 13.5h1M4 15.5h1M0 16.5h1M7 16.5h1M14 16.5h1M21 16.5h1M23 16.5h1M37 16.5h1M25 17.5h1M27 17.5h1M11 18.5h1M29 18.5h1M34 18.5h1M37 18.5h2M42 18.5h1M0 19.5h1M6 19.5h1M9 19.5h1M14 19.5h1M39 19.5h1M5 20.5h1M7 20.5h1M16 20.5h1M18 20.5h1M33 20.5h1M35 20.5h1M38 20.5h1M2 21.5h1M6 21.5h1M8 21.5h3M22 21.5h1M25 21.5h1M32 21.5h1M35 21.5h1M39 21.5h1M41 21.5h1M8 22.5h1M19 22.5h1M23 22.5h1M39 22.5h1M37 23.5h1M9 24.5h1M33 24.5h1M4 25.5h1M16 25.5h1M33 25.5h1M36 25.5h1M13 26.5h1M29 26.5h1M31 26.5h1M33 26.5h1M8 27.5h1M12 27.5h1M17 27.5h1M27 27.5h1M30 27.5h1M1 28.5h1M3 28.5h1M5 28.5h2M8 28.5h1M13 28.5h1M16 28.5h1M19 28.5h1M6 29.5h1M13 29.5h1M19 29.5h1M29 29.5h2M34 29.5h1M9 30.5h1M12 30.5h1M30 30.5h1M40 30.5h1"/><path stroke="#e6e620" stroke-opacity="0.6" d="M6 0.5h1M20 0.5h1M29 0.5h2M33 0.5h1M8 1.5h1M12 1.5h1M19 1.5h1M33 1.5h1M36 1.5h1M42 1.5h1M4 2.5h1M10 2.5h1M13 2.5h1M15 2.5h2M21 2.5h1M31 2.5h2M34 2.5h5M42 2.5h1M8 3.5h1M10 3.5h1M12 3.5h3M17 3.5h1M19 3.5h2M22 3.5h2M39 3.5h1M6 4.5h1M10 4.5h1M13 4.5h1M19 4.5h2M28 4.5h1M32 4.5h2M35 4.5h1M37 4.5h1M41 4.5h1M2 5.5h1M7 5.5h1M11 5.5h1M13 5.5h2M17 5.5h1M20 5.5h1M26 5.5h2M32 5.5h3M40 5.5h2M5 6.5h1M11 6.5h1M17 6.5h1M20 6.5h1M23 6.5h1M35 6.5h1M38 6.5h1M17 7.5h1M39 7.5h1M0 8.5h1M3 8.5h2M7 8.5h1M13 8.5h1M16 8.5h1M25 8.5h1M28 8.5h2M37 8.5h1M39 8.5h1M42 8.5h1M1 9.5h1M6 9.5h1M11 9.5h2M14 9.5h2M19 9.5h1M22 9.5h1M24 9.5h1M30 9.5h2M33 9.5h2M37 9.5h2M41 9.5h1M6 10.5h1M20 10.5h1M34 11.5h1M17 12.5h1M20 12.5h1M26 12.5h1M38 12.5h1M40 12.5h2M5 13.5h1M8 13.5h2M11 13.5h1M15 13.5h3M19 13.5h1M22 13.5h2M25 13.5h1M29 13.5h1M31 13.5h2M39 13.5h1M2 14.5h1M6 14.5h1M12 14.5h5M21 14.5h1M27 14.5h2M33 14.5h1M38 14.5h3M42 14.5h1M14 15.5h1M30 15.5h1M5 16.5h1M13 16.5h1M15 16.5h1M25 16.5h1M31 16.5h1M38 16.5h1M3 17.5h1M6 17.5h2M11 17.5h1M16 17.5h1M22 17.5h2M28 17.5h2M32 17.5h1M2 18.5h1M5 18.5h1M10 18.5h1M12 18.5h2M18 18.5h1M20 18.5h1M24 18.5h1M31 18.5h1M35 18.5h1M2 19.5h1M8 19.5h1M10 19.5h1M15 19.5h1M17 19.5h1M21 19.5h1M24 19.5h1M28 19.5h1M34 19.5h1M40 19.5h2M0 20.5h1M8 20.5h1M13 20.5h1M26 20.5h1M40 20.5h1M0 21.5h1M3 21.5h1M30 21.5h1M36 21.5h1M0 22.5h1M3 22.5h1M14 22.5h2M22 22.5h1M27 22.5h4M33 22.5h1M36 22.5h2M2 23.5h2M5 23.5h1M18 23.5h1M22 23.5h2M33 23.5h1M38 23.5h1M42 23.5h1M4 24.5h1M6 24.5h1M10 24.5h2M14 24.5h1M20 24.5h1M27 24.5h1M29 24.5h1M36 24.5h1M39 24.5h1M1 25.5h1M6 25.5h1M10 25.5h1M12 25.5h1M15 25.5h1M19 25.5h1M25 25.5h1M27 25.5h1M30 25.5h1M32 25.5h1M34 25.5h1M37 25.5h3M1 26.5h1M7 26.5h1M10 26.5h1M19 26.5h2M24 26.5h1M27 26.5h1M42 26.5h1M0 27.5h3M7 27.5h1M10 27.5h1M16 27.5h1M25 27.5h1M28 27.5h1M32 27.5h1M34 27.5h1M38 27.5h2M10 28.5h2M15 28.5h1M18 28.5h1M25 28.5h1M31 28.5h1M39 28.5h1M42 28.5h1M9 29.5h2M14 29.5h1M16 29.5h1M24 29.5h1M26 29.5h1M28 29.5h1M36 29.5h1M39 29.5h1M5 30.5h2M23 30.5h1M25 30.5h2M29 30.5h1M31 30.5h2M41 30.5h1"/><path stroke="#e6e620" stroke-opacity="0.72" d="M1 0.5h3M7 0.5h2M10 0.5h1M12 0.5h2M15 0.5h2M18 0.5h1M22 0.5h1M25 0.5h1M28 0.5h1M32 0.5h1M34 0.5h3M0 1.5h1M2 1.5h1M9 1.5h1M11 1.5h1M18 1.5h1M20 1.5h2M26 1.5h1M28 1.5h1M31 1.5h1M34 1.5h2M39 1.5h1M41 1.5h1M1 2.5h1M6 2.5h2M11 2.5h2M22 2.5h1M25 2.5h1M28 2.5h2M0 3.5h2M3 3.5h1M15 3.5h2M24 3.5h1M28 3.5h1M30 3.5h1M33 3.5h1M36 3.5h1M1 4.5h1M9 4.5h1M11 4.5h1M15 4.5h1M18 4.5h1M22 4.5h2M26 4.5h2M30 4.5h2M34 4.5h1M36 4.5h1M42 4.5h1M5 5.5h1M8 5.5h1M12 5.5h1M29 5.5h1M35 5.5h1M39 5.5h1M0 6.5h2M7 6.5h3M14 6.5h1M16 6.5h1M18 6.5h2M21 6.5h1M24 6.5h2M27 6.5h2M33 6.5h1M3 7.5h1M9 7.5h1M13 7.5h2M16 7.5h1M18 7.5h5M25 7.5h4M34 7.5h4M42 7.5h1M6 8.5h1M21 8.5h1M24 8.5h1M33 8.5h1M8 9.5h1M21 9.5h1M23 9.5h1M26 9.5h1M28 9.5h2M1 10.5h3M7 10.5h1M9 10.5h1M11 10.5h1M13 10.5h3M18 10.5h1M21 10.5h1M26 10.5h5M35 10.5h1M39 10.5h2M42 10.5h1M1 11.5h3M6 11.5h1M9 11.5h4M15 11.5h3M21 11.5h1M23 11.5h1M31 11.5h2M35 11.5h1M39 11.5h2M42 11.5h1M0 12.5h2M3 12.5h3M7 12.5h3M13 12.5h1M15 12.5h1M19 12.5h1M23 12.5h1M27 12.5h1M29 12.5h2M32 12.5h4M4 13.5h1M12 13.5h1M26 13.5h2M35 13.5h1M38 13.5h1M0 14.5h1M3 14.5h1M7 14.5h1M10 14.5h2M22 14.5h3M26 14.5h1M30 14.5h1M35 14.5h1M37 14.5h1M3 15.5h1M5 15.5h1M7 15.5h4M12 15.5h1M17 15.5h1M19 15.5h2M22 15.5h1M24 15.5h6M31 15.5h1M34 15.5h4M40 15.5h2M3 16.5h1M6 16.5h1M9 16.5h2M19 16.5h1M26 16.5h1M29 16.5h1M33 16.5h2M0 17.5h1M8 17.5h3M13 17.5h1M15 17.5h1M18 17.5h4M24 17.5h1M26 17.5h1M30 17.5h1M41 17.5h1M21 18.5h1M28 18.5h1M13 19.5h1M2 20.5h1M14 20.5h1M23 20.5h1M27 20.5h2M42 20.5h1M7 21.5h1M11 21.5h1M13 21.5h2M18 21.5h4M23 21.5h2M27 21.5h2M31 21.5h1M33 21.5h1M37 21.5h2M42 21.5h1M4 22.5h1M10 22.5h2M25 22.5h1M35 22.5h1M40 22.5h1M0 23.5h2M6 23.5h2M9 23.5h1M13 23.5h5M25 23.5h2M31 23.5h2M34 23.5h3M40 23.5h2M1 24.5h3M5 24.5h1M12 24.5h2M15 24.5h1M18 24.5h1M22 24.5h1M24 24.5h1M26 24.5h1M28 24.5h1M32 24.5h1M34 24.5h2M37 24.5h1M40 24.5h2M0 25.5h1M5 25.5h1M7 25.5h3M17 25.5h1M20 25.5h1M22 25.5h1M28 25.5h2M40 25.5h2M3 26.5h1M6 27.5h1M9 27.5h1M14 27.5h1M24 27.5h1M29 27.5h1M33 27.5h1M36 27.5h1M40 27.5h1M0 28.5h1M2 28.5h1M17 28.5h1M23 28.5h1M26 28.5h1M28 28.5h2M34 28.5h1M36 28.5h3M0 29.5h1M5 29.5h1M7 29.5h1M12 29.5h1M18 29.5h1M20 29.5h1M22 29.5h2M25 29.5h1M27 29.5h1M32 29.5h2M38 29.5h1M41 29.5h2M4 30.5h1M10 30.5h1M14 30.5h1M18 30.5h1M22 30.5h1M24 30.5h1M28 30.5h1M37 30.5h1"/><path stroke="#e6e620" stroke-opacity="0.86" d="M0 0.5h1M4 0.5h2M14 0.5h1M17 0.5h1M19 0.5h1M23 0.5h2M26 0.5h2M31 0.5h1M37 0.5h3M41 0.5h2M1 1.5h1M3 1.5h1M6 1.5h2M10 1.5h1M14 1.5h2M17 1.5h1M22 1.5h3M27 1.5h1M29 1.5h2M32 1.5h1M37 1.5h2M40 1.5h1M2 2.5h1M9 2.5h1M14 2.5h1M18 2.5h1M20 2.5h1M27 2.5h1M30 2.5h1M7 3.5h1M25 3.5h1M2 4.5h1M12 4.5h1M14 4.5h1M29 4.5h1M38 4.5h3M1 5.5h1M3 5.5h1M18 5.5h1M31 5.5h1M37 5.5h1M2 6.5h3M10 6.5h1M12 6.5h1M15 6.5h1M22 6.5h1M26 6.5h1M29 6.5h1M32 6.5h1M34 6.5h1M36 6.5h2M39 6.5h2M42 6.5h1M0 7.5h3M4 7.5h5M10 7.5h3M23 7.5h2M29 7.5h4M38 7.5h1M41 7.5h1M1 8.5h1M8 8.5h1M11 8.5h1M17 8.5h3M23 8.5h1M27 8.5h1M40 8.5h2M0 9.5h1M3 9.5h1M17 9.5h1M20 9.5h1M42 9.5h1M0 10.5h1M4 10.5h2M8 10.5h1M10 10.5h1M12 10.5h1M16 10.5h1M19 10.5h1M22 10.5h4M31 10.5h3M36 10.5h3M41 10.5h1M0 11.5h1M4 11.5h2M7 11.5h2M13 11.5h2M18 11.5h3M22 11.5h1M25 11.5h2M28 11.5h3M33 11.5h1M36 11.5h3M41 11.5h1M6 12.5h1M10 12.5h3M16 12.5h1M21 12.5h2M24 12.5h2M31 12.5h1M36 12.5h2M39 12.5h1M42 12.5h1M3 13.5h1M10 13.5h1M20 13.5h1M24 13.5h1M30 13.5h1M37 13.5h1M1 14.5h1M4 14.5h1M9 14.5h1M17 14.5h2M20 14.5h1M25 14.5h1M29 14.5h1M32 14.5h1M34 14.5h1M36 14.5h1M41 14.5h1M0 15.5h3M6 15.5h1M11 15.5h1M13 15.5h1M15 15.5h2M18 15.5h1M21 15.5h1M23 15.5h1M32 15.5h2M38 15.5h2M32 16.5h1M4 17.5h2M12 17.5h1M14 17.5h1M17 17.5h1M33 17.5h1M36 17.5h1M38 17.5h1M40 17.5h1M19 18.5h1M22 19.5h1M22 20.5h1M25 20.5h1M1 21.5h1M5 21.5h1M16 21.5h2M26 21.5h1M29 21.5h1M34 21.5h1M40 21.5h1M9 22.5h1M4 23.5h1M8 23.5h1M10 23.5h3M19 23.5h3M24 23.5h1M28 23.5h3M39 23.5h1M0 24.5h1M7 24.5h2M16 24.5h2M21 24.5h1M23 24.5h1M25 24.5h1M30 24.5h2M38 24.5h1M42 24.5h1M2 25.5h1M11 25.5h1M13 25.5h1M21 25.5h1M23 25.5h2M35 25.5h1M42 25.5h1M23 26.5h1M11 27.5h1M13 27.5h1M18 27.5h3M22 27.5h2M31 27.5h1M37 27.5h1M42 27.5h1M7 28.5h1M9 28.5h1M12 28.5h1M14 28.5h1M21 28.5h1M30 28.5h1M33 28.5h1M35 28.5h1M40 28.5h2M1 29.5h4M8 29.5h1M11 29.5h1M15 29.5h1M21 29.5h1M31 29.5h1M35 29.5h1M37 29.5h1M40 29.5h1M0 30.5h1M8 30.5h1M13 30.5h1"/><path stroke="#e6e620" d="M16 1.5h1M25 1.5h1M19 2.5h1M41 6.5h1M2 8.5h1M19 14.5h1"/></pattern><pattern id="y13" width="43" height="31" patternUnits="userSpaceOnUse"><path stroke="#e6e620" stroke-opacity="0.1" d="M41 18.5h1M14 26.5h1M22 30.5h1"/><path stroke="#e6e620" stroke-opacity="0.2" d="M19 3.5h1M22 5.5h1M26 5.5h1M27 8.5h1M15 16.5h1M40 16.5h1M4 18.5h1M18 18.5h1M37 18.5h1M39 19.5h1M3 20.5h1M7 20.5h1M14 20.5h1M18 20.5h1M33 20.5h1M36 20.5h1M38 20.5h1M36 22.5h1M7 26.5h2M10 26.5h1M15 26.5h1M23 26.5h1M27 26.5h1M34 26.5h1M36 26.5h1M6 30.5h1M8 30.5h1M21 30.5h1M24 30.5h1M29 30.5h1"/><path stroke="#e6e620" stroke-opacity="0.3" d="M9 13.5h1M5 17.5h1M7 18.5h1M9 18.5h1M23 18.5h1M40 18.5h1M5 19.5h1M36 19.5h2M4 22.5h1M29 26.5h1M37 26.5h1M11 30.5h1"/><path stroke="#e6e620" stroke-opacity="0.4" d="M1 3.5h1M32 3.5h1M34 5.5h1M3 8.5h1M12 9.5h1M22 9.5h1M8 13.5h1M15 13.5h1M19 13.5h1M36 13.5h1M2 16.5h1M7 16.5h1M9 16.5h1M17 16.5h2M23 16.5h1M29 16.5h1M35 16.5h2M38 16.5h2M1 17.5h1M15 17.5h1M0 18.5h1M2 18.5h1M6 18.5h1M10 18.5h7M25 18.5h1M27 18.5h1M31 18.5h1M4 19.5h1M14 19.5h1M22 19.5h1M24 19.5h1M27 19.5h4M40 19.5h1M5 20.5h1M11 20.5h2M21 20.5h3M30 20.5h2M34 20.5h1M39 20.5h2M7 21.5h1M11 22.5h2M28 22.5h1M33 22.5h2M41 22.5h1M0 26.5h1M4 26.5h3M12 26.5h1M18 26.5h2M22 26.5h1M30 26.5h1M2 30.5h1M12 30.5h1M15 30.5h1M31 30.5h1M33 30.5h1M36 30.5h1"/><path stroke="#e6e620" stroke-opacity="0.5" d="M2 0.5h1M2 1.5h1M5 1.5h1M13 2.5h1M9 3.5h1M26 3.5h1M31 3.5h1M19 5.5h1M24 5.5h1M14 6.5h1M18 6.5h1M0 7.5h1M26 7.5h1M21 8.5h1M7 9.5h1M31 9.5h1M25 10.5h1M36 10.5h1M7 11.5h1M38 11.5h1M12 13.5h1M14 13.5h1M37 13.5h1M42 13.5h1M40 14.5h1M12 16.5h1M24 16.5h1M30 16.5h1M42 16.5h1M6 17.5h1M13 17.5h1M19 17.5h1M22 17.5h1M24 17.5h1M34 17.5h1M3 18.5h1M20 18.5h1M34 18.5h1M38 18.5h1M12 19.5h1M16 19.5h1M23 19.5h1M35 19.5h1M1 20.5h1M9 20.5h1M16 20.5h1M24 20.5h1M26 20.5h1M28 20.5h1M37 20.5h1M8 21.5h1M5 22.5h1M20 22.5h1M22 22.5h1M29 22.5h1M42 22.5h1M37 23.5h1M11 25.5h1M17 26.5h1M25 26.5h1M31 26.5h1M35 26.5h1M39 26.5h1M42 26.5h1M1 27.5h1M16 27.5h1M27 27.5h1M39 27.5h1M42 27.5h1M38 29.5h1M5 30.5h1M7 30.5h1M10 30.5h1M14 30.5h1M27 30.5h1M32 30.5h1M34 30.5h1"/><path stroke="#e6e620" stroke-opacity="0.6" d="M11 0.5h1M14 0.5h1M17 0.5h2M20 0.5h1M3 1.5h1M8 1.5h1M11 1.5h1M35 1.5h1M23 2.5h1M40 2.5h1M0 3.5h1M5 3.5h1M13 3.5h1M18 3.5h1M21 3.5h1M24 3.5h1M27 3.5h1M33 3.5h3M40 3.5h1M42 3.5h1M4 4.5h1M9 4.5h1M21 4.5h1M26 4.5h2M30 4.5h1M33 4.5h1M35 4.5h1M37 4.5h1M0 5.5h1M3 5.5h1M5 5.5h1M11 5.5h1M17 5.5h1M21 5.5h1M25 5.5h1M27 5.5h3M33 5.5h1M35 5.5h1M38 5.5h1M42 5.5h1M24 6.5h1M33 6.5h2M21 7.5h1M2 8.5h1M6 8.5h1M12 8.5h2M16 8.5h1M20 8.5h1M22 8.5h1M36 8.5h1M38 8.5h1M41 8.5h1M5 9.5h2M8 9.5h1M16 9.5h2M26 9.5h1M36 9.5h1M4 10.5h1M7 10.5h1M14 10.5h1M33 10.5h1M8 11.5h1M15 11.5h1M40 11.5h1M15 12.5h1M24 12.5h1M10 13.5h2M20 13.5h1M23 13.5h2M28 13.5h1M32 13.5h1M35 13.5h1M39 13.5h1M4 14.5h1M6 14.5h2M11 14.5h1M1 15.5h1M22 15.5h1M28 15.5h1M0 16.5h1M3 16.5h4M8 16.5h1M11 16.5h1M14 16.5h1M20 16.5h3M32 16.5h1M34 16.5h1M3 17.5h1M21 17.5h1M25 17.5h1M27 17.5h1M31 17.5h2M35 17.5h1M40 17.5h1M42 17.5h1M5 18.5h1M24 18.5h1M28 18.5h1M30 18.5h1M35 18.5h1M39 18.5h1M1 19.5h1M7 19.5h4M15 19.5h1M18 19.5h1M20 19.5h1M32 19.5h2M38 19.5h1M42 19.5h1M0 20.5h1M2 20.5h1M4 20.5h1M8 20.5h1M10 20.5h1M19 20.5h1M27 20.5h1M29 20.5h1M41 20.5h2M0 22.5h1M3 22.5h1M7 22.5h1M9 22.5h2M13 22.5h2M16 22.5h1M21 22.5h1M23 22.5h1M27 22.5h1M32 22.5h1M37 22.5h3M17 23.5h1M2 24.5h1M10 24.5h1M20 24.5h1M24 24.5h1M29 24.5h1M31 24.5h1M41 24.5h1M1 25.5h1M2 26.5h1M16 26.5h1M24 26.5h1M26 26.5h1M28 26.5h1M32 26.5h2M38 26.5h1M5 27.5h1M10 27.5h2M21 27.5h1M26 27.5h1M32 27.5h1M35 27.5h1M40 27.5h1M35 28.5h1M42 28.5h1M3 29.5h1M8 29.5h1M40 29.5h1M1 30.5h1M3 30.5h2M9 30.5h1M17 30.5h1M19 30.5h2M26 30.5h1M35 30.5h1M37 30.5h5"/><path stroke="#e6e620" stroke-opacity="0.72" d="M1 0.5h1M3 0.5h1M6 0.5h1M8 0.5h1M10 0.5h1M12 0.5h2M22 0.5h1M25 0.5h1M27 0.5h1M29 0.5h1M31 0.5h2M34 0.5h2M40 0.5h1M42 0.5h1M9 1.5h2M13 1.5h2M16 1.5h2M19 1.5h1M22 1.5h3M26 1.5h1M28 1.5h1M34 1.5h1M37 1.5h1M39 1.5h1M42 1.5h1M1 2.5h1M5 2.5h3M14 2.5h1M16 2.5h2M19 2.5h1M21 2.5h2M25 2.5h1M28 2.5h1M30 2.5h1M32 2.5h1M34 2.5h1M36 2.5h3M41 2.5h1M2 3.5h3M6 3.5h1M8 3.5h1M17 3.5h1M22 3.5h2M25 3.5h1M28 3.5h1M30 3.5h1M38 3.5h2M41 3.5h1M0 4.5h2M3 4.5h1M5 4.5h2M11 4.5h3M20 4.5h1M23 4.5h1M25 4.5h1M32 4.5h1M34 4.5h1M36 4.5h1M40 4.5h1M2 5.5h1M6 5.5h1M8 5.5h1M10 5.5h1M12 5.5h3M18 5.5h1M31 5.5h2M36 5.5h1M39 5.5h1M0 6.5h3M4 6.5h3M8 6.5h1M12 6.5h1M19 6.5h2M26 6.5h1M38 6.5h2M41 6.5h1M3 7.5h3M8 7.5h1M13 7.5h1M16 7.5h1M19 7.5h1M30 7.5h1M32 7.5h3M36 7.5h2M40 7.5h1M10 8.5h2M15 8.5h1M17 8.5h1M19 8.5h1M23 8.5h1M25 8.5h2M29 8.5h1M32 8.5h4M37 8.5h1M39 8.5h1M0 9.5h3M14 9.5h2M18 9.5h4M24 9.5h1M29 9.5h1M33 9.5h2M37 9.5h1M40 9.5h1M0 10.5h1M2 10.5h1M6 10.5h1M8 10.5h1M10 10.5h2M21 10.5h1M26 10.5h1M29 10.5h1M34 10.5h1M39 10.5h1M0 11.5h3M4 11.5h1M6 11.5h1M9 11.5h2M13 11.5h2M16 11.5h2M19 11.5h2M22 11.5h2M25 11.5h1M34 11.5h2M37 11.5h1M39 11.5h1M41 11.5h2M0 12.5h1M2 12.5h2M5 12.5h2M12 12.5h1M16 12.5h1M20 12.5h4M25 12.5h2M30 12.5h3M37 12.5h6M0 13.5h1M2 13.5h3M6 13.5h2M13 13.5h1M17 13.5h1M25 13.5h1M30 13.5h1M40 13.5h2M0 14.5h1M2 14.5h1M8 14.5h2M12 14.5h3M23 14.5h2M26 14.5h3M31 14.5h1M38 14.5h2M2 15.5h1M4 15.5h1M6 15.5h1M8 15.5h1M11 15.5h1M17 15.5h2M20 15.5h1M24 15.5h2M29 15.5h1M37 15.5h3M42 15.5h1M1 16.5h1M16 16.5h1M19 16.5h1M25 16.5h3M31 16.5h1M33 16.5h1M41 16.5h1M0 17.5h1M4 17.5h1M8 17.5h1M10 17.5h1M12 17.5h1M16 17.5h3M26 17.5h1M29 17.5h1M33 17.5h1M36 17.5h1M38 17.5h2M1 18.5h1M21 18.5h2M26 18.5h1M29 18.5h1M32 18.5h1M36 18.5h1M0 19.5h1M3 19.5h1M19 19.5h1M25 19.5h1M6 20.5h1M15 20.5h1M20 20.5h1M32 20.5h1M35 20.5h1M1 21.5h3M6 21.5h1M12 21.5h1M14 21.5h1M17 21.5h1M19 21.5h1M22 21.5h3M27 21.5h6M34 21.5h3M38 21.5h2M41 21.5h1M1 22.5h1M8 22.5h1M15 22.5h1M18 22.5h1M26 22.5h1M2 23.5h1M4 23.5h2M11 23.5h2M18 23.5h1M20 23.5h1M22 23.5h3M30 23.5h2M34 23.5h2M38 23.5h1M40 23.5h3M0 24.5h2M3 24.5h1M9 24.5h1M12 24.5h1M17 24.5h1M22 24.5h1M26 24.5h1M33 24.5h7M5 25.5h2M14 25.5h4M22 25.5h1M24 25.5h1M26 25.5h1M29 25.5h3M37 25.5h1M39 25.5h3M1 26.5h1M9 26.5h1M20 26.5h1M40 26.5h2M0 27.5h1M2 27.5h3M6 27.5h4M12 27.5h2M17 27.5h1M20 27.5h1M22 27.5h1M24 27.5h1M28 27.5h4M33 27.5h1M36 27.5h1M2 28.5h1M10 28.5h1M12 28.5h2M16 28.5h1M20 28.5h2M23 28.5h1M25 28.5h2M28 28.5h1M30 28.5h1M32 28.5h3M37 28.5h1M40 28.5h1M4 29.5h3M15 29.5h2M18 29.5h2M25 29.5h4M30 29.5h1M33 29.5h1M36 29.5h1M41 29.5h2M0 30.5h1M18 30.5h1M23 30.5h1M28 30.5h1M30 30.5h1"/><path stroke="#e6e620" stroke-opacity="0.86" d="M4 0.5h2M7 0.5h1M9 0.5h1M15 0.5h2M19 0.5h1M21 0.5h1M23 0.5h2M26 0.5h1M28 0.5h1M30 0.5h1M33 0.5h1M36 0.5h4M41 0.5h1M0 1.5h2M4 1.5h1M6 1.5h2M12 1.5h1M15 1.5h1M18 1.5h1M20 1.5h2M25 1.5h1M27 1.5h1M29 1.5h5M36 1.5h1M38 1.5h1M40 1.5h2M0 2.5h1M2 2.5h3M8 2.5h5M15 2.5h1M18 2.5h1M20 2.5h1M24 2.5h1M26 2.5h2M29 2.5h1M31 2.5h1M33 2.5h1M35 2.5h1M39 2.5h1M42 2.5h1M7 3.5h1M10 3.5h3M14 3.5h3M20 3.5h1M29 3.5h1M36 3.5h2M2 4.5h1M7 4.5h2M10 4.5h1M14 4.5h6M22 4.5h1M24 4.5h1M28 4.5h2M31 4.5h1M38 4.5h2M41 4.5h2M1 5.5h1M4 5.5h1M7 5.5h1M9 5.5h1M15 5.5h2M20 5.5h1M23 5.5h1M30 5.5h1M37 5.5h1M41 5.5h1M3 6.5h1M7 6.5h1M9 6.5h3M13 6.5h1M15 6.5h3M21 6.5h3M25 6.5h1M27 6.5h6M35 6.5h3M40 6.5h1M42 6.5h1M1 7.5h2M6 7.5h2M9 7.5h4M14 7.5h2M17 7.5h2M20 7.5h1M22 7.5h4M27 7.5h3M31 7.5h1M35 7.5h1M38 7.5h2M41 7.5h2M0 8.5h2M4 8.5h2M7 8.5h3M14 8.5h1M18 8.5h1M24 8.5h1M28 8.5h1M30 8.5h2M40 8.5h1M42 8.5h1M3 9.5h2M9 9.5h3M13 9.5h1M23 9.5h1M25 9.5h1M28 9.5h1M30 9.5h1M32 9.5h1M35 9.5h1M38 9.5h2M41 9.5h2M1 10.5h1M3 10.5h1M5 10.5h1M9 10.5h1M12 10.5h2M15 10.5h6M22 10.5h3M27 10.5h2M30 10.5h3M35 10.5h1M37 10.5h2M40 10.5h3M3 11.5h1M5 11.5h1M11 11.5h2M18 11.5h1M21 11.5h1M24 11.5h1M26 11.5h8M36 11.5h1M1 12.5h1M4 12.5h1M7 12.5h5M13 12.5h2M17 12.5h3M27 12.5h3M33 12.5h4M1 13.5h1M5 13.5h1M16 13.5h1M18 13.5h1M21 13.5h2M26 13.5h2M29 13.5h1M31 13.5h1M33 13.5h2M38 13.5h1M1 14.5h1M3 14.5h1M5 14.5h1M10 14.5h1M15 14.5h8M25 14.5h1M29 14.5h2M32 14.5h6M41 14.5h2M0 15.5h1M3 15.5h1M5 15.5h1M7 15.5h1M9 15.5h2M12 15.5h5M19 15.5h1M21 15.5h1M23 15.5h1M26 15.5h2M30 15.5h7M41 15.5h1M10 16.5h1M28 16.5h1M37 16.5h1M2 17.5h1M7 17.5h1M9 17.5h1M11 17.5h1M14 17.5h1M20 17.5h1M23 17.5h1M28 17.5h1M30 17.5h1M37 17.5h1M41 17.5h1M19 18.5h1M33 18.5h1M6 19.5h1M11 19.5h1M13 19.5h1M17 19.5h1M21 19.5h1M26 19.5h1M31 19.5h1M34 19.5h1M41 19.5h1M13 20.5h1M25 20.5h1M0 21.5h1M4 21.5h2M9 21.5h1M11 21.5h1M13 21.5h1M15 21.5h2M18 21.5h1M20 21.5h2M25 21.5h2M33 21.5h1M37 21.5h1M40 21.5h1M42 21.5h1M2 22.5h1M6 22.5h1M17 22.5h1M19 22.5h1M24 22.5h2M30 22.5h2M35 22.5h1M40 22.5h1M0 23.5h2M6 23.5h5M13 23.5h4M19 23.5h1M21 23.5h1M25 23.5h5M32 23.5h2M36 23.5h1M39 23.5h1M4 24.5h5M11 24.5h1M13 24.5h4M18 24.5h2M21 24.5h1M23 24.5h1M25 24.5h1M27 24.5h2M30 24.5h1M32 24.5h1M40 24.5h1M42 24.5h1M0 25.5h1M2 25.5h3M7 25.5h4M12 25.5h2M18 25.5h4M23 25.5h1M25 25.5h1M27 25.5h2M32 25.5h5M38 25.5h1M42 25.5h1M21 26.5h1M14 27.5h2M18 27.5h2M23 27.5h1M25 27.5h1M34 27.5h1M37 27.5h2M41 27.5h1M0 28.5h2M3 28.5h7M11 28.5h1M14 28.5h2M17 28.5h3M22 28.5h1M24 28.5h1M27 28.5h1M29 28.5h1M31 28.5h1M36 28.5h1M38 28.5h2M41 28.5h1M0 29.5h3M7 29.5h1M9 29.5h6M17 29.5h1M20 29.5h5M29 29.5h1M31 29.5h2M34 29.5h2M37 29.5h1M39 29.5h1M13 30.5h1M16 30.5h1M25 30.5h1M42 30.5h1"/><path stroke="#e6e620" d="M0 0.5h1M40 5.5h1M27 9.5h1M40 15.5h1M42 18.5h1M2 19.5h1M10 21.5h1M3 23.5h1"/></pattern><pattern id="y14" width="43" height="31" patternUnits="userSpaceOnUse"><path stroke="#e6e620" stroke-opacity="0.2" d="M1 18.5h1M16 18.5h2M26 18.5h1M29 18.5h1M12 19.5h1M37 20.5h1M7 26.5h1M12 26.5h1M15 26.5h1M19 26.5h1M22 26.5h1M25 26.5h1M31 26.5h1M38 26.5h1M40 26.5h1"/><path stroke="#e6e620" stroke-opacity="0.3" d="M29 16.5h1M33 19.5h1M11 20.5h1M32 20.5h1"/><path stroke="#e6e620" stroke-opacity="0.4" d="M29 1.5h1M9 5.5h1M31 5.5h1M7 7.5h1M30 9.5h1M8 16.5h1M4 18.5h2M8 18.5h2M11 18.5h1M18 18.5h1M22 18.5h2M27 18.5h1M30 18.5h2M37 18.5h1M39 18.5h2M1 19.5h1M7 19.5h1M18 19.5h1M21 19.5h1M2 20.5h1M10 20.5h1M23 20.5h1M29 20.5h1M31 20.5h1M36 20.5h1M42 20.5h1M5 22.5h1M19 22.5h1M9 26.5h1M13 26.5h2M16 26.5h1M28 26.5h2M32 26.5h1M40 28.5h1M26 30.5h1M29 30.5h1M41 30.5h1"/><path stroke="#e6e620" stroke-opacity="0.5" d="M39 3.5h1M32 5.5h1M4 10.5h1M4 11.5h1M18 15.5h1M0 16.5h1M7 16.5h1M23 16.5h1M28 16.5h1M35 16.5h1M16 17.5h1M2 18.5h1M36 19.5h1M22 20.5h1M6 21.5h1M26 21.5h1M23 22.5h1M10 26.5h1M27 26.5h1M33 26.5h1M36 26.5h1M42 26.5h1M9 27.5h1M2 28.5h1M6 29.5h1M20 30.5h1"/><path stroke="#e6e620" stroke-opacity="0.6" d="M12 0.5h1M23 0.5h1M14 1.5h1M41 1.5h1M30 2.5h1M18 3.5h1M15 4.5h1M26 4.5h1M31 4.5h1M35 4.5h1M40 4.5h1M0 5.5h1M11 5.5h2M15 5.5h1M25 5.5h1M42 5.5h1M31 6.5h1M16 7.5h1M30 7.5h1M23 8.5h1M39 8.5h1M12 9.5h1M19 10.5h1M0 11.5h1M22 11.5h1M24 12.5h1M28 12.5h1M33 12.5h1M1 13.5h1M8 13.5h1M10 13.5h1M12 13.5h1M31 13.5h1M11 14.5h1M23 14.5h1M39 14.5h1M10 15.5h1M32 15.5h1M38 15.5h1M10 16.5h2M15 16.5h1M19 16.5h1M21 16.5h1M25 16.5h1M30 16.5h2M33 16.5h1M36 16.5h1M41 16.5h1M0 17.5h1M3 17.5h1M22 17.5h1M3 18.5h1M7 18.5h1M14 18.5h2M20 18.5h2M24 18.5h2M34 18.5h3M38 18.5h1M42 18.5h1M8 19.5h1M13 19.5h1M19 19.5h2M22 19.5h3M35 19.5h1M0 20.5h1M4 20.5h1M6 20.5h1M12 20.5h2M16 20.5h2M21 20.5h1M24 20.5h1M30 20.5h1M33 20.5h3M38 20.5h4M4 21.5h1M19 21.5h1M22 21.5h1M0 22.5h2M12 22.5h1M20 22.5h2M26 22.5h1M28 22.5h1M30 22.5h1M35 22.5h1M40 22.5h1M24 23.5h1M33 23.5h1M41 23.5h1M33 24.5h1M19 25.5h1M29 25.5h1M31 25.5h1M4 26.5h1M20 26.5h2M24 26.5h1M30 26.5h1M34 26.5h1M41 26.5h1M33 27.5h1M10 28.5h1M14 28.5h1M14 29.5h1M25 29.5h1M1 30.5h2M6 30.5h1M11 30.5h1M17 30.5h1M23 30.5h1M25 30.5h1M28 30.5h1M30 30.5h3M36 30.5h1M40 30.5h1"/><path stroke="#e6e620" stroke-opacity="0.72" d="M5 0.5h5M15 0.5h1M18 0.5h2M25 0.5h1M28 0.5h2M31 0.5h1M37 0.5h2M42 0.5h1M5 1.5h1M11 1.5h1M13 1.5h1M17 1.5h1M20 1.5h1M22 1.5h1M26 1.5h1M33 1.5h2M1 2.5h2M4 2.5h3M21 2.5h3M25 2.5h1M29 2.5h1M31 2.5h1M37 2.5h6M0 3.5h2M4 3.5h6M12 3.5h1M16 3.5h1M19 3.5h1M21 3.5h1M32 3.5h1M2 4.5h1M4 4.5h2M11 4.5h2M19 4.5h1M22 4.5h1M30 4.5h1M32 4.5h1M36 4.5h1M38 4.5h1M2 5.5h1M7 5.5h1M10 5.5h1M19 5.5h1M27 5.5h1M29 5.5h1M33 5.5h1M35 5.5h4M40 5.5h1M2 6.5h1M6 6.5h2M10 6.5h2M15 6.5h1M20 6.5h1M25 6.5h3M29 6.5h2M33 6.5h1M35 6.5h1M37 6.5h1M41 6.5h1M4 7.5h1M6 7.5h1M9 7.5h2M12 7.5h1M17 7.5h1M21 7.5h1M23 7.5h1M26 7.5h2M29 7.5h1M32 7.5h1M41 7.5h1M0 8.5h1M5 8.5h4M12 8.5h1M16 8.5h3M20 8.5h3M25 8.5h1M29 8.5h2M34 8.5h4M40 8.5h3M4 9.5h2M8 9.5h2M11 9.5h1M14 9.5h2M19 9.5h1M22 9.5h1M25 9.5h1M28 9.5h1M32 9.5h3M38 9.5h2M0 10.5h1M5 10.5h2M8 10.5h1M10 10.5h1M16 10.5h1M24 10.5h2M31 10.5h1M33 10.5h2M37 10.5h1M41 10.5h1M1 11.5h2M6 11.5h1M8 11.5h1M10 11.5h2M14 11.5h2M19 11.5h1M28 11.5h3M32 11.5h1M34 11.5h2M39 11.5h1M2 12.5h2M6 12.5h1M16 12.5h1M19 12.5h3M23 12.5h1M27 12.5h1M29 12.5h1M31 12.5h2M35 12.5h1M39 12.5h1M4 13.5h2M13 13.5h1M18 13.5h1M20 13.5h1M22 13.5h2M34 13.5h1M1 14.5h1M3 14.5h1M5 14.5h6M12 14.5h2M16 14.5h1M19 14.5h2M29 14.5h1M31 14.5h1M34 14.5h2M0 15.5h1M2 15.5h1M7 15.5h1M9 15.5h1M12 15.5h1M15 15.5h1M17 15.5h1M24 15.5h1M27 15.5h1M29 15.5h3M33 15.5h1M40 15.5h2M3 16.5h2M6 16.5h1M14 16.5h1M20 16.5h1M22 16.5h1M38 16.5h2M42 16.5h1M2 17.5h1M4 17.5h1M6 17.5h1M9 17.5h1M11 17.5h1M14 17.5h2M18 17.5h1M20 17.5h2M25 17.5h1M27 17.5h1M30 17.5h1M32 17.5h2M37 17.5h1M42 17.5h1M0 18.5h1M10 18.5h1M13 18.5h1M28 18.5h1M32 18.5h1M41 18.5h1M0 19.5h1M4 19.5h2M9 19.5h3M15 19.5h1M25 19.5h2M28 19.5h1M32 19.5h1M39 19.5h1M1 20.5h1M3 20.5h1M5 20.5h1M7 20.5h1M9 20.5h1M15 20.5h1M18 20.5h1M20 20.5h1M0 21.5h2M10 21.5h3M15 21.5h1M18 21.5h1M21 21.5h1M23 21.5h1M25 21.5h1M28 21.5h1M33 21.5h2M38 21.5h2M4 22.5h1M6 22.5h1M9 22.5h1M11 22.5h1M15 22.5h1M22 22.5h1M32 22.5h1M36 22.5h1M42 22.5h1M2 23.5h1M5 23.5h1M9 23.5h2M13 23.5h1M16 23.5h1M19 23.5h1M21 23.5h2M26 23.5h2M31 23.5h2M34 23.5h1M37 23.5h2M40 23.5h1M2 24.5h1M4 24.5h1M9 24.5h1M11 24.5h1M15 24.5h1M19 24.5h1M22 24.5h1M25 24.5h1M27 24.5h3M36 24.5h1M38 24.5h2M3 25.5h4M10 25.5h1M12 25.5h3M17 25.5h2M25 25.5h1M30 25.5h1M32 25.5h1M34 25.5h4M40 25.5h1M42 25.5h1M0 26.5h1M3 26.5h1M6 26.5h1M8 26.5h1M23 26.5h1M26 26.5h1M39 26.5h1M2 27.5h1M5 27.5h1M10 27.5h1M12 27.5h1M17 27.5h1M22 27.5h3M26 27.5h1M37 27.5h1M41 27.5h1M4 28.5h1M6 28.5h1M8 28.5h1M12 28.5h1M15 28.5h1M20 28.5h1M25 28.5h1M30 28.5h3M34 28.5h1M42 28.5h1M0 29.5h2M3 29.5h1M8 29.5h5M15 29.5h1M17 29.5h1M20 29.5h2M31 29.5h1M38 29.5h1M4 30.5h1M8 30.5h1M14 30.5h1M16 30.5h1M19 30.5h1M21 30.5h2M24 30.5h1M27 30.5h1M38 30.5h1"/><path stroke="#e6e620" stroke-opacity="0.86" d="M0 0.5h5M10 0.5h2M13 0.5h2M16 0.5h2M20 0.5h3M24 0.5h1M26 0.5h2M30 0.5h1M32 0.5h5M39 0.5h3M0 1.5h5M6 1.5h5M12 1.5h1M15 1.5h2M18 1.5h2M21 1.5h1M23 1.5h3M27 1.5h2M30 1.5h3M35 1.5h6M42 1.5h1M0 2.5h1M3 2.5h1M7 2.5h14M24 2.5h1M26 2.5h3M32 2.5h5M2 3.5h2M10 3.5h2M13 3.5h3M17 3.5h1M20 3.5h1M22 3.5h10M33 3.5h6M40 3.5h3M0 4.5h2M3 4.5h1M6 4.5h5M13 4.5h2M16 4.5h3M20 4.5h2M23 4.5h3M27 4.5h3M33 4.5h2M37 4.5h1M39 4.5h1M41 4.5h2M1 5.5h1M4 5.5h3M8 5.5h1M13 5.5h2M16 5.5h3M20 5.5h5M26 5.5h1M28 5.5h1M30 5.5h1M34 5.5h1M39 5.5h1M41 5.5h1M0 6.5h2M3 6.5h2M8 6.5h2M12 6.5h3M16 6.5h4M21 6.5h4M28 6.5h1M32 6.5h1M34 6.5h1M38 6.5h3M42 6.5h1M0 7.5h4M5 7.5h1M8 7.5h1M11 7.5h1M13 7.5h1M15 7.5h1M18 7.5h3M22 7.5h1M24 7.5h2M28 7.5h1M31 7.5h1M33 7.5h8M42 7.5h1M1 8.5h4M9 8.5h3M13 8.5h3M19 8.5h1M24 8.5h1M26 8.5h3M31 8.5h3M38 8.5h1M0 9.5h4M6 9.5h2M10 9.5h1M13 9.5h1M16 9.5h3M20 9.5h2M23 9.5h2M26 9.5h2M29 9.5h1M31 9.5h1M35 9.5h3M40 9.5h3M1 10.5h3M7 10.5h1M9 10.5h1M11 10.5h5M17 10.5h1M20 10.5h4M26 10.5h5M32 10.5h1M35 10.5h2M38 10.5h3M42 10.5h1M3 11.5h1M5 11.5h1M7 11.5h1M9 11.5h1M12 11.5h2M16 11.5h3M20 11.5h2M23 11.5h5M33 11.5h1M36 11.5h3M41 11.5h2M0 12.5h2M4 12.5h2M7 12.5h9M17 12.5h2M22 12.5h1M25 12.5h2M30 12.5h1M34 12.5h1M36 12.5h3M40 12.5h3M0 13.5h1M2 13.5h2M6 13.5h2M9 13.5h1M11 13.5h1M14 13.5h4M19 13.5h1M21 13.5h1M24 13.5h7M32 13.5h2M35 13.5h8M0 14.5h1M2 14.5h1M4 14.5h1M14 14.5h2M17 14.5h1M21 14.5h2M24 14.5h5M30 14.5h1M32 14.5h2M36 14.5h3M40 14.5h3M1 15.5h1M3 15.5h4M8 15.5h1M11 15.5h1M13 15.5h2M16 15.5h1M19 15.5h1M21 15.5h3M25 15.5h2M28 15.5h1M34 15.5h4M39 15.5h1M42 15.5h1M1 16.5h2M5 16.5h1M9 16.5h1M12 16.5h2M16 16.5h3M24 16.5h1M26 16.5h2M32 16.5h1M34 16.5h1M37 16.5h1M40 16.5h1M1 17.5h1M5 17.5h1M7 17.5h2M10 17.5h1M12 17.5h2M17 17.5h1M19 17.5h1M23 17.5h2M26 17.5h1M28 17.5h2M31 17.5h1M34 17.5h3M38 17.5h4M6 18.5h1M19 18.5h1M33 18.5h1M2 19.5h2M14 19.5h1M16 19.5h2M27 19.5h1M29 19.5h3M34 19.5h1M37 19.5h2M40 19.5h3M8 20.5h1M19 20.5h1M25 20.5h4M2 21.5h2M5 21.5h1M7 21.5h1M9 21.5h1M13 21.5h2M16 21.5h2M20 21.5h1M24 21.5h1M29 21.5h4M35 21.5h3M40 21.5h3M2 22.5h1M7 22.5h2M10 22.5h1M13 22.5h2M16 22.5h3M24 22.5h2M27 22.5h1M29 22.5h1M31 22.5h1M33 22.5h2M37 22.5h3M41 22.5h1M0 23.5h2M3 23.5h2M6 23.5h3M11 23.5h2M14 23.5h2M17 23.5h2M20 23.5h1M23 23.5h1M25 23.5h1M28 23.5h3M35 23.5h2M39 23.5h1M42 23.5h1M0 24.5h2M3 24.5h1M5 24.5h4M10 24.5h1M12 24.5h3M16 24.5h3M20 24.5h2M23 24.5h2M26 24.5h1M30 24.5h3M34 24.5h2M37 24.5h1M40 24.5h3M0 25.5h3M7 25.5h3M11 25.5h1M15 25.5h2M20 25.5h5M26 25.5h3M33 25.5h1M38 25.5h2M41 25.5h1M1 26.5h2M5 26.5h1M11 26.5h1M17 26.5h2M35 26.5h1M37 26.5h1M0 27.5h2M3 27.5h2M6 27.5h3M11 27.5h1M13 27.5h4M18 27.5h4M25 27.5h1M27 27.5h6M34 27.5h3M39 27.5h2M42 27.5h1M0 28.5h2M3 28.5h1M5 28.5h1M7 28.5h1M9 28.5h1M11 28.5h1M13 28.5h1M16 28.5h4M21 28.5h4M26 28.5h4M33 28.5h1M35 28.5h5M41 28.5h1M2 29.5h1M4 29.5h2M7 29.5h1M13 29.5h1M16 29.5h1M18 29.5h2M22 29.5h3M26 29.5h5M32 29.5h6M39 29.5h4M0 30.5h1M3 30.5h1M5 30.5h1M7 30.5h1M9 30.5h2M13 30.5h1M15 30.5h1M18 30.5h1M33 30.5h3M37 30.5h1M39 30.5h1M42 30.5h1"/><path stroke="#e6e620" d="M3 5.5h1M5 6.5h1M36 6.5h1M14 7.5h1M18 10.5h1M31 11.5h1M40 11.5h1M18 14.5h1M20 15.5h1M12 18.5h1M6 19.5h1M14 20.5h1M8 21.5h1M27 21.5h1M3 22.5h1M38 27.5h1"/></pattern><pattern id="y15" width="43" height="31" patternUnits="userSpaceOnUse"><path stroke="#e6e620" stroke-opacity="0.2" d="M42 18.5h1M0 26.5h1M9 26.5h1"/><path stroke="#e6e620" stroke-opacity="0.3" d="M16 18.5h1M26 18.5h1M12 20.5h1M14 20.5h1M23 26.5h1"/><path stroke="#e6e620" stroke-opacity="0.4" d="M28 16.5h1M1 18.5h1M3 18.5h1M8 18.5h1M15 18.5h1M18 18.5h1M21 20.5h1M39 20.5h1M12 26.5h1M14 26.5h1M16 26.5h1M25 26.5h2M28 26.5h1M30 26.5h1M34 26.5h1M37 26.5h1M39 26.5h1M41 26.5h1"/><path stroke="#e6e620" stroke-opacity="0.5" d="M11 10.5h1M20 10.5h1M38 16.5h1M33 17.5h1M30 18.5h1M37 18.5h1M39 19.5h1M2 20.5h1M11 20.5h1M5 26.5h1M27 26.5h1M29 26.5h1M31 26.5h1M33 26.5h1M36 26.5h1M40 26.5h1M19 29.5h1"/><path stroke="#e6e620" stroke-opacity="0.6" d="M5 0.5h1M19 0.5h1M40 0.5h1M7 2.5h1M18 2.5h1M1 4.5h1M37 4.5h2M12 5.5h1M15 5.5h1M30 5.5h1M36 5.5h1M8 7.5h1M22 7.5h2M9 8.5h1M17 8.5h1M36 8.5h1M6 9.5h1M16 9.5h1M18 9.5h1M37 9.5h1M41 9.5h1M0 10.5h1M29 10.5h1M15 11.5h1M27 11.5h1M28 12.5h1M8 13.5h1M15 13.5h1M32 13.5h1M35 13.5h1M18 14.5h1M19 15.5h1M24 15.5h1M10 16.5h1M35 16.5h1M7 17.5h1M35 17.5h1M39 17.5h1M41 17.5h1M4 18.5h1M6 18.5h2M14 18.5h1M17 18.5h1M24 18.5h1M32 18.5h2M35 18.5h1M38 18.5h1M13 19.5h1M25 19.5h1M8 20.5h1M20 20.5h1M22 20.5h2M27 20.5h1M29 20.5h1M32 20.5h3M40 20.5h1M6 21.5h1M30 21.5h1M2 22.5h1M28 23.5h1M38 23.5h2M0 24.5h1M18 24.5h1M30 24.5h1M42 24.5h1M11 25.5h1M39 25.5h1M1 26.5h1M3 26.5h2M6 26.5h3M17 26.5h2M21 26.5h2M24 26.5h1M35 26.5h1M38 26.5h1M42 26.5h1M4 27.5h2M34 27.5h1M42 27.5h1M25 28.5h1M30 29.5h1M0 30.5h1M7 30.5h1M17 30.5h1M20 30.5h3M24 30.5h1M26 30.5h1M28 30.5h2M37 30.5h1"/><path stroke="#e6e620" stroke-opacity="0.72" d="M0 0.5h1M2 0.5h1M6 0.5h1M8 0.5h2M11 0.5h4M16 0.5h1M20 0.5h1M22 0.5h1M27 0.5h1M30 0.5h1M37 0.5h1M39 0.5h1M41 0.5h1M2 1.5h1M7 1.5h1M9 1.5h1M12 1.5h2M15 1.5h1M17 1.5h3M21 1.5h1M24 1.5h1M28 1.5h1M30 1.5h1M38 1.5h1M40 1.5h1M42 1.5h1M1 2.5h1M5 2.5h1M8 2.5h2M12 2.5h1M14 2.5h1M20 2.5h1M27 2.5h1M32 2.5h1M34 2.5h1M41 2.5h2M0 3.5h1M3 3.5h1M17 3.5h1M40 3.5h1M11 4.5h1M13 4.5h1M24 4.5h1M28 4.5h1M33 4.5h1M35 4.5h1M0 5.5h1M6 5.5h1M14 5.5h1M19 5.5h1M22 5.5h2M31 5.5h1M33 5.5h3M39 5.5h1M41 5.5h1M2 6.5h1M4 6.5h1M6 6.5h2M11 6.5h2M15 6.5h1M20 6.5h1M22 6.5h1M33 6.5h2M37 6.5h1M40 6.5h1M0 7.5h1M3 7.5h1M5 7.5h1M17 7.5h1M25 7.5h1M27 7.5h1M34 7.5h3M40 7.5h1M0 8.5h2M12 8.5h2M16 8.5h1M25 8.5h2M28 8.5h1M30 8.5h1M33 8.5h1M35 8.5h1M37 8.5h2M40 8.5h1M42 8.5h1M3 9.5h2M7 9.5h1M11 9.5h3M19 9.5h1M28 9.5h1M34 9.5h1M1 10.5h1M3 10.5h1M6 10.5h1M12 10.5h1M14 10.5h1M21 10.5h1M37 10.5h3M42 10.5h1M3 11.5h2M8 11.5h1M11 11.5h1M18 11.5h2M22 11.5h1M25 11.5h1M29 11.5h2M37 11.5h1M1 12.5h5M10 12.5h1M15 12.5h1M19 12.5h1M23 12.5h1M25 12.5h1M37 12.5h1M40 12.5h1M42 12.5h1M0 13.5h2M5 13.5h2M9 13.5h1M13 13.5h2M19 13.5h2M22 13.5h1M30 13.5h1M33 13.5h2M36 13.5h1M0 14.5h1M2 14.5h1M10 14.5h1M13 14.5h2M22 14.5h2M25 14.5h3M33 14.5h1M35 14.5h2M6 15.5h1M9 15.5h1M23 15.5h1M32 15.5h1M34 15.5h1M36 15.5h1M2 16.5h1M4 16.5h1M13 16.5h2M17 16.5h2M20 16.5h2M26 16.5h1M32 16.5h2M0 17.5h1M3 17.5h2M9 17.5h2M13 17.5h1M16 17.5h1M21 17.5h1M24 17.5h1M26 17.5h2M30 17.5h1M32 17.5h1M34 17.5h1M37 17.5h1M40 17.5h1M42 17.5h1M0 18.5h1M12 18.5h1M20 18.5h1M23 18.5h1M25 18.5h1M28 18.5h1M39 18.5h1M41 18.5h1M3 19.5h1M8 19.5h1M10 19.5h3M18 19.5h1M20 19.5h1M22 19.5h2M28 19.5h1M30 19.5h1M32 19.5h1M3 20.5h1M13 20.5h1M16 20.5h2M35 20.5h3M42 20.5h1M1 21.5h1M16 21.5h1M18 21.5h3M23 21.5h1M26 21.5h2M33 21.5h2M39 21.5h2M0 22.5h2M3 22.5h1M8 22.5h1M12 22.5h3M18 22.5h2M24 22.5h2M40 22.5h1M0 23.5h1M7 23.5h1M10 23.5h1M13 23.5h1M24 23.5h1M29 23.5h1M42 23.5h1M6 24.5h4M14 24.5h1M17 24.5h1M22 24.5h1M27 24.5h2M35 24.5h1M14 25.5h2M17 25.5h2M21 25.5h1M24 25.5h1M29 25.5h1M36 25.5h1M38 25.5h1M11 26.5h1M13 26.5h1M32 26.5h1M7 27.5h1M9 27.5h1M13 27.5h1M21 27.5h2M29 27.5h1M0 28.5h1M5 28.5h1M16 28.5h1M18 28.5h1M21 28.5h1M24 28.5h1M30 28.5h1M35 28.5h1M5 29.5h1M7 29.5h1M13 29.5h1M16 29.5h3M21 29.5h2M25 29.5h1M32 29.5h1M34 29.5h1M37 29.5h2M41 29.5h2M2 30.5h2M8 30.5h2M13 30.5h1M16 30.5h1M25 30.5h1M30 30.5h1M32 30.5h1M35 30.5h1M38 30.5h1"/><path stroke="#e6e620" stroke-opacity="0.86" d="M1 0.5h1M3 0.5h2M7 0.5h1M10 0.5h1M15 0.5h1M17 0.5h2M21 0.5h1M23 0.5h4M28 0.5h2M31 0.5h6M38 0.5h1M42 0.5h1M0 1.5h2M3 1.5h4M8 1.5h1M10 1.5h2M14 1.5h1M16 1.5h1M20 1.5h1M22 1.5h2M25 1.5h3M29 1.5h1M31 1.5h7M39 1.5h1M41 1.5h1M0 2.5h1M2 2.5h3M6 2.5h1M10 2.5h2M13 2.5h1M15 2.5h3M19 2.5h1M21 2.5h5M28 2.5h4M33 2.5h1M35 2.5h6M1 3.5h2M4 3.5h10M15 3.5h2M18 3.5h15M34 3.5h6M41 3.5h2M0 4.5h1M2 4.5h3M6 4.5h5M12 4.5h1M14 4.5h10M25 4.5h3M29 4.5h4M34 4.5h1M36 4.5h1M39 4.5h4M1 5.5h5M7 5.5h5M13 5.5h1M16 5.5h3M20 5.5h2M24 5.5h6M32 5.5h1M37 5.5h2M40 5.5h1M42 5.5h1M0 6.5h2M3 6.5h1M5 6.5h1M8 6.5h3M13 6.5h2M16 6.5h4M21 6.5h1M23 6.5h10M35 6.5h2M38 6.5h2M41 6.5h2M1 7.5h1M4 7.5h1M6 7.5h1M9 7.5h2M12 7.5h2M15 7.5h2M18 7.5h4M24 7.5h1M26 7.5h1M28 7.5h6M37 7.5h3M41 7.5h2M2 8.5h7M10 8.5h1M14 8.5h2M18 8.5h7M27 8.5h1M29 8.5h1M31 8.5h2M34 8.5h1M39 8.5h1M41 8.5h1M0 9.5h3M5 9.5h1M8 9.5h3M14 9.5h2M17 9.5h1M20 9.5h8M29 9.5h5M35 9.5h2M38 9.5h3M42 9.5h1M2 10.5h1M4 10.5h2M7 10.5h4M13 10.5h1M15 10.5h5M22 10.5h4M27 10.5h2M30 10.5h7M40 10.5h2M0 11.5h3M5 11.5h3M9 11.5h2M12 11.5h3M16 11.5h2M20 11.5h2M23 11.5h2M26 11.5h1M28 11.5h1M31 11.5h6M38 11.5h5M6 12.5h4M11 12.5h4M16 12.5h3M20 12.5h3M24 12.5h1M26 12.5h2M29 12.5h8M38 12.5h2M41 12.5h1M2 13.5h3M7 13.5h1M10 13.5h3M16 13.5h3M21 13.5h1M23 13.5h7M31 13.5h1M37 13.5h3M41 13.5h2M1 14.5h1M3 14.5h7M11 14.5h2M15 14.5h3M19 14.5h3M24 14.5h1M28 14.5h5M34 14.5h1M37 14.5h6M0 15.5h6M7 15.5h2M10 15.5h9M20 15.5h3M25 15.5h7M33 15.5h1M35 15.5h1M37 15.5h6M0 16.5h2M3 16.5h1M5 16.5h5M11 16.5h2M15 16.5h2M19 16.5h1M22 16.5h4M27 16.5h1M29 16.5h3M34 16.5h1M36 16.5h2M39 16.5h1M41 16.5h2M1 17.5h2M5 17.5h2M8 17.5h1M11 17.5h2M14 17.5h2M17 17.5h4M22 17.5h1M25 17.5h1M28 17.5h2M31 17.5h1M36 17.5h1M5 18.5h1M9 18.5h3M13 18.5h1M21 18.5h2M27 18.5h1M29 18.5h1M31 18.5h1M34 18.5h1M36 18.5h1M40 18.5h1M0 19.5h3M4 19.5h4M9 19.5h1M14 19.5h4M19 19.5h1M21 19.5h1M24 19.5h1M26 19.5h2M29 19.5h1M31 19.5h1M33 19.5h6M40 19.5h3M0 20.5h2M4 20.5h3M9 20.5h2M15 20.5h1M18 20.5h2M24 20.5h3M28 20.5h1M30 20.5h2M38 20.5h1M41 20.5h1M0 21.5h1M2 21.5h4M7 21.5h9M17 21.5h1M21 21.5h2M24 21.5h2M28 21.5h2M31 21.5h2M35 21.5h4M41 21.5h2M4 22.5h4M9 22.5h3M15 22.5h3M20 22.5h4M26 22.5h14M41 22.5h2M1 23.5h6M8 23.5h2M11 23.5h1M14 23.5h10M25 23.5h3M30 23.5h8M40 23.5h2M1 24.5h5M10 24.5h4M15 24.5h2M20 24.5h2M23 24.5h4M29 24.5h1M31 24.5h4M36 24.5h6M0 25.5h11M12 25.5h2M16 25.5h1M19 25.5h2M22 25.5h2M25 25.5h1M27 25.5h2M30 25.5h6M37 25.5h1M40 25.5h3M2 26.5h1M10 26.5h1M15 26.5h1M19 26.5h2M0 27.5h4M6 27.5h1M8 27.5h1M10 27.5h3M14 27.5h7M23 27.5h6M30 27.5h4M35 27.5h7M1 28.5h4M6 28.5h10M17 28.5h1M19 28.5h2M23 28.5h1M26 28.5h4M31 28.5h2M34 28.5h1M36 28.5h7M0 29.5h5M6 29.5h1M8 29.5h5M14 29.5h2M20 29.5h1M23 29.5h2M26 29.5h4M31 29.5h1M33 29.5h1M36 29.5h1M39 29.5h2M1 30.5h1M4 30.5h3M10 30.5h3M14 30.5h2M18 30.5h2M23 30.5h1M27 30.5h1M31 30.5h1M33 30.5h2M36 30.5h1M39 30.5h4"/><path stroke="#e6e620" d="M26 2.5h1M14 3.5h1M33 3.5h1M5 4.5h1M2 7.5h1M7 7.5h1M11 7.5h1M14 7.5h1M11 8.5h1M26 10.5h1M0 12.5h1M40 13.5h1M40 16.5h1M23 17.5h1M38 17.5h1M2 18.5h1M19 18.5h1M7 20.5h1M12 23.5h1M19 24.5h1M26 25.5h1M22 28.5h1M33 28.5h1M35 29.5h1"/></pattern><filter id="hb" x="-1%" y="-1%" width="102%" height="102%"><feGaussianBlur stdDeviation="0.35"/></filter></defs>
<g filter="url(#hb)"><g shape-rendering="crispEdges">
<rect x="33" y="60" width="410" height="287" fill="#15021b"/>
<path stroke="#2a0530" d="M33 60.5h27M33 61.5h27M33 63.5h27M33 64.5h27M33 65.5h27M33 66.5h27M33 67.5h27M33 68.5h27M33 70.5h27M33 71.5h27M33 73.5h27M33 74.5h27M33 75.5h27M33 77.5h27M33 78.5h27M33 79.5h27M33 81.5h27M33 82.5h27M33 83.5h27M33 90.5h27M33 92.5h27M33 96.5h27M33 102.5h27M33 104.5h27M33 105.5h27M33 108.5h27M33 109.5h27M33 111.5h27M33 113.5h27M33 115.5h27M33 121.5h27M33 124.5h27M33 130.5h27M33 131.5h27M33 133.5h27M33 140.5h27M33 142.5h27M33 144.5h27M33 145.5h27M33 148.5h27M33 149.5h27M33 154.5h27M33 155.5h27M33 156.5h27M33 157.5h27M33 158.5h27M33 160.5h27M33 161.5h27M33 162.5h27M33 163.5h27M33 164.5h27M33 165.5h27M33 166.5h27M33 167.5h27M33 168.5h27M33 170.5h27M33 171.5h27M33 172.5h27M33 174.5h27M33 175.5h27M33 176.5h27M33 177.5h27M33 179.5h27M33 180.5h27M33 181.5h27M33 182.5h27M33 183.5h27M33 184.5h27M33 185.5h27M33 188.5h27M33 194.5h27M33 196.5h27M33 214.5h27M33 218.5h27M33 220.5h27M33 228.5h27M33 235.5h27M33 238.5h27M33 242.5h27M33 244.5h27M33 245.5h27M33 250.5h27M33 251.5h27M33 252.5h27M33 253.5h27M33 254.5h27M33 255.5h27M33 256.5h27M33 260.5h27M33 261.5h27M33 263.5h27M33 265.5h27M33 266.5h27M33 270.5h27M33 271.5h27M33 273.5h27M33 275.5h27M33 276.5h27M33 277.5h27M33 279.5h27M33 281.5h27M33 283.5h27M33 284.5h27M33 285.5h27M33 288.5h27M33 290.5h27M33 292.5h27M33 293.5h27M33 294.5h27M33 295.5h27M33 296.5h27M33 298.5h27M33 299.5h27M33 302.5h27M33 303.5h27M33 304.5h27M33 305.5h27M33 306.5h27M33 307.5h27M33 310.5h27M33 311.5h27M33 312.5h27M33 313.5h27M33 316.5h27M33 319.5h27M33 320.5h27M33 321.5h27M33 323.5h27M33 324.5h27M33 325.5h27M33 327.5h27M33 329.5h27M33 335.5h27M33 339.5h27M60 60.5h13M60 61.5h13M60 62.5h13M60 63.5h13M60 64.5h13M60 65.5h13M60 66.5h13M60 67.5h13M60 68.5h13M60 69.5h13M60 70.5h13M60 71.5h13M60 72.5h13M60 73.5h13M60 74.5h13M60 75.5h13M60 76.5h13M60 77.5h13M60 80.5h13M60 81.5h13M60 83.5h13M60 87.5h13M60 88.5h13M60 91.5h13M60 93.5h13M60 94.5h13M60 95.5h13M60 96.5h13M60 97.5h13M60 98.5h13M60 99.5h13M60 103.5h13M60 104.5h13M60 105.5h13M60 106.5h13M60 108.5h13M60 111.5h13M60 113.5h13M60 114.5h13M60 115.5h13M60 118.5h13M60 119.5h13M60 120.5h13M60 121.5h13M60 124.5h13M60 128.5h13M60 131.5h13M60 135.5h13M60 144.5h13M60 147.5h13M60 148.5h13M60 150.5h13M60 153.5h13M60 154.5h13M60 155.5h13M60 156.5h13M60 157.5h13M60 158.5h13M60 160.5h13M60 161.5h13M60 162.5h13M60 163.5h13M60 164.5h13M60 166.5h13M60 169.5h13M60 171.5h13M60 172.5h13M60 173.5h13M60 174.5h13M60 175.5h13M60 177.5h13M60 179.5h13M60 184.5h13M60 185.5h13M60 186.5h13M60 187.5h13M60 188.5h13M60 190.5h13M60 191.5h13M60 193.5h13M60 196.5h13M60 198.5h13M60 199.5h13M60 203.5h13M60 204.5h13M60 205.5h13M60 207.5h13M60 208.5h13M60 209.5h13M60 210.5h13M60 213.5h13M60 214.5h13M60 215.5h13M60 218.5h13M60 219.5h13M60 220.5h13M60 221.5h13M60 222.5h13M60 223.5h13M60 225.5h13M60 226.5h13M60 228.5h13M60 229.5h13M60 232.5h13M60 234.5h13M60 235.5h13M60 236.5h13M60 238.5h13M60 239.5h13M60 243.5h13M60 244.5h13M60 248.5h13M60 251.5h13M60 253.5h13M60 263.5h13M60 269.5h13M60 271.5h13M60 272.5h13M60 273.5h13M60 274.5h13M60 275.5h13M60 276.5h13M60 279.5h13M60 283.5h13M60 284.5h13M60 285.5h13M60 287.5h13M60 288.5h13M60 289.5h13M60 291.5h13M60 292.5h13M60 293.5h13M60 295.5h13M60 296.5h13M60 298.5h13M60 299.5h13M60 300.5h13M60 302.5h13M60 305.5h13M60 309.5h13M60 310.5h13M60 312.5h13M60 313.5h13M60 314.5h13M60 317.5h13M60 319.5h13M60 320.5h13M60 321.5h13M60 322.5h13M60 323.5h13M60 324.5h13M60 325.5h13M60 327.5h13M60 328.5h13M60 329.5h13M60 334.5h13M60 339.5h13M60 341.5h13M60 342.5h13M60 344.5h13M60 345.5h13M60 346.5h13M73 62.5h41M73 63.5h41M73 67.5h41M73 69.5h41M73 71.5h41M73 72.5h41M73 76.5h41M73 78.5h41M73 79.5h41M73 80.5h41M73 83.5h41M73 85.5h41M73 86.5h41M73 87.5h41M73 88.5h41M73 97.5h41M73 99.5h41M73 100.5h41M73 101.5h41M73 102.5h41M73 103.5h41M73 104.5h41M73 106.5h41M73 108.5h41M73 114.5h41M73 115.5h41M73 118.5h41M73 121.5h41M73 159.5h41M73 160.5h41M73 161.5h41M73 162.5h41M73 165.5h41M73 167.5h41M73 168.5h41M73 169.5h41M73 170.5h41M73 171.5h41M73 175.5h41M73 176.5h41M73 178.5h41M73 179.5h41M73 180.5h41M73 181.5h41M73 182.5h41M73 188.5h41M73 191.5h41M73 196.5h41M73 248.5h41M73 252.5h41M73 253.5h41M73 254.5h41M73 256.5h41M73 257.5h41M73 258.5h41M73 259.5h41M73 260.5h41M73 261.5h41M73 262.5h41M73 264.5h41M73 268.5h41M73 269.5h41M73 276.5h41M73 279.5h41M73 291.5h41M73 292.5h41M73 293.5h41M73 294.5h41M73 296.5h41M73 297.5h41M73 298.5h41M73 300.5h41M73 302.5h41M73 304.5h41M73 306.5h41M73 307.5h41M73 309.5h41M73 310.5h41M73 311.5h41M73 313.5h41M73 314.5h41M73 317.5h41M73 319.5h41M73 320.5h41M73 321.5h41M73 322.5h41M73 323.5h41M73 325.5h41M73 327.5h41M73 328.5h41M73 329.5h41M114 60.5h34M114 61.5h34M114 64.5h34M114 66.5h34M114 67.5h34M114 68.5h34M114 71.5h34M114 72.5h34M114 73.5h34M114 74.5h34M114 75.5h34M114 78.5h34M114 79.5h34M114 81.5h34M114 83.5h34M114 84.5h34M114 85.5h34M114 86.5h34M114 87.5h34M114 89.5h34M114 90.5h34M114 91.5h34M114 92.5h34M114 93.5h34M114 94.5h34M114 95.5h34M114 96.5h34M114 97.5h34M114 98.5h34M114 99.5h34M114 100.5h34M114 101.5h34M114 102.5h34M114 103.5h34M114 104.5h34M114 105.5h34M114 107.5h34M114 108.5h34M114 109.5h34M114 110.5h34M114 111.5h34M114 112.5h34M114 113.5h34M114 114.5h34M114 117.5h34M114 119.5h34M114 120.5h34M114 121.5h34M114 125.5h34M114 132.5h34M114 134.5h34M114 135.5h34M114 145.5h34M114 147.5h34M114 150.5h34M114 151.5h34M114 155.5h34M114 157.5h34M114 158.5h34M114 171.5h34M114 172.5h34M114 173.5h34M114 174.5h34M114 175.5h34M114 177.5h34M114 179.5h34M114 181.5h34M114 183.5h34M114 184.5h34M114 185.5h34M114 186.5h34M114 187.5h34M114 188.5h34M114 191.5h34M114 194.5h34M114 202.5h34M114 203.5h34M114 204.5h34M114 205.5h34M114 208.5h34M114 211.5h34M114 213.5h34M114 214.5h34M114 218.5h34M114 220.5h34M114 221.5h34M114 225.5h34M114 228.5h34M114 235.5h34M114 242.5h34M114 243.5h34M114 250.5h34M114 251.5h34M114 254.5h34M114 257.5h34M114 258.5h34M114 259.5h34M114 260.5h34M114 261.5h34M114 263.5h34M114 264.5h34M114 265.5h34M114 269.5h34M114 270.5h34M114 271.5h34M114 272.5h34M114 273.5h34M114 274.5h34M114 275.5h34M114 277.5h34M114 278.5h34M114 279.5h34M114 280.5h34M114 282.5h34M114 283.5h34M114 285.5h34M114 287.5h34M114 288.5h34M114 289.5h34M114 290.5h34M114 292.5h34M114 293.5h34M114 294.5h34M114 295.5h34M114 296.5h34M114 302.5h34M114 303.5h34M114 306.5h34M114 307.5h34M114 308.5h34M114 309.5h34M114 310.5h34M114 311.5h34M114 312.5h34M114 313.5h34M114 315.5h34M114 316.5h34M114 317.5h34M114 318.5h34M114 319.5h34M114 320.5h34M114 321.5h34M114 322.5h34M114 323.5h34M114 324.5h34M114 325.5h34M114 327.5h34M114 329.5h34M114 330.5h34M114 334.5h34M114 335.5h34M114 338.5h34M114 339.5h34M114 343.5h34M114 345.5h34M114 346.5h34M148 60.5h46M148 61.5h46M148 62.5h46M148 63.5h46M148 64.5h46M148 65.5h46M148 66.5h46M148 68.5h46M148 70.5h46M148 71.5h46M148 72.5h46M148 73.5h46M148 74.5h46M148 75.5h46M148 77.5h46M148 78.5h46M148 79.5h46M148 80.5h46M148 82.5h46M148 83.5h46M148 84.5h46M148 86.5h46M148 88.5h46M148 89.5h46M148 90.5h46M148 91.5h46M148 93.5h46M148 94.5h46M148 95.5h46M148 98.5h46M148 99.5h46M148 101.5h46M148 102.5h46M148 103.5h46M148 104.5h46M148 107.5h46M148 108.5h46M148 110.5h46M148 111.5h46M148 112.5h46M148 114.5h46M148 116.5h46M148 117.5h46M148 120.5h46M148 121.5h46M148 124.5h46M148 128.5h46M148 129.5h46M148 130.5h46M148 131.5h46M148 133.5h46M148 139.5h46M148 140.5h46M148 142.5h46M148 155.5h46M148 157.5h46M148 158.5h46M148 159.5h46M148 164.5h46M148 165.5h46M148 170.5h46M148 171.5h46M148 173.5h46M148 175.5h46M148 176.5h46M148 177.5h46M148 179.5h46M148 180.5h46M148 181.5h46M148 183.5h46M148 185.5h46M148 187.5h46M148 189.5h46M148 190.5h46M148 198.5h46M148 202.5h46M148 209.5h46M148 210.5h46M148 211.5h46M148 213.5h46M148 214.5h46M148 220.5h46M148 225.5h46M148 227.5h46M148 229.5h46M148 235.5h46M148 238.5h46M148 241.5h46M148 242.5h46M148 243.5h46M148 248.5h46M148 250.5h46M148 251.5h46M148 252.5h46M148 253.5h46M148 254.5h46M148 255.5h46M148 256.5h46M148 257.5h46M148 258.5h46M148 259.5h46M148 262.5h46M148 272.5h46M148 273.5h46M148 274.5h46M148 275.5h46M148 284.5h46M148 285.5h46M148 288.5h46M148 291.5h46M148 292.5h46M148 293.5h46M148 296.5h46M148 297.5h46M148 298.5h46M148 300.5h46M148 301.5h46M148 302.5h46M148 303.5h46M148 304.5h46M148 305.5h46M148 306.5h46M148 308.5h46M148 310.5h46M148 312.5h46M148 313.5h46M148 314.5h46M148 315.5h46M148 317.5h46M148 318.5h46M148 319.5h46M148 320.5h46M148 321.5h46M148 322.5h46M148 323.5h46M148 325.5h46M148 326.5h46M148 327.5h46M148 328.5h46M148 329.5h46M148 333.5h46M148 335.5h46M148 336.5h46M148 337.5h46M148 338.5h46M148 341.5h46M148 342.5h46M148 343.5h46M194 60.5h13M194 61.5h13M194 62.5h13M194 63.5h13M194 64.5h13M194 66.5h13M194 67.5h13M194 68.5h13M194 69.5h13M194 71.5h13M194 72.5h13M194 73.5h13M194 74.5h13M194 75.5h13M194 77.5h13M194 78.5h13M194 79.5h13M194 80.5h13M194 81.5h13M194 83.5h13M194 84.5h13M194 85.5h13M194 87.5h13M194 89.5h13M194 92.5h13M194 93.5h13M194 94.5h13M194 95.5h13M194 99.5h13M194 101.5h13M194 110.5h13M194 111.5h13M194 112.5h13M194 114.5h13M194 116.5h13M194 117.5h13M194 122.5h13M194 123.5h13M194 125.5h13M194 126.5h13M194 133.5h13M194 135.5h13M194 136.5h13M194 138.5h13M194 143.5h13M194 150.5h13M194 170.5h13M194 171.5h13M194 172.5h13M194 173.5h13M194 174.5h13M194 175.5h13M194 177.5h13M194 178.5h13M194 179.5h13M194 181.5h13M194 182.5h13M194 183.5h13M194 184.5h13M194 185.5h13M194 186.5h13M194 188.5h13M194 194.5h13M194 196.5h13M194 198.5h13M194 201.5h13M194 202.5h13M194 209.5h13M194 213.5h13M194 214.5h13M194 218.5h13M194 220.5h13M194 221.5h13M194 223.5h13M194 224.5h13M194 226.5h13M194 227.5h13M194 228.5h13M194 232.5h13M194 234.5h13M194 235.5h13M194 236.5h13M194 238.5h13M194 241.5h13M194 242.5h13M194 243.5h13M194 257.5h13M194 264.5h13M194 265.5h13M194 266.5h13M194 268.5h13M194 269.5h13M194 270.5h13M194 271.5h13M194 273.5h13M194 277.5h13M194 278.5h13M194 279.5h13M194 283.5h13M194 284.5h13M194 285.5h13M194 287.5h13M194 288.5h13M194 289.5h13M194 290.5h13M194 291.5h13M194 292.5h13M194 296.5h13M194 301.5h13M194 302.5h13M194 308.5h13M194 309.5h13M194 313.5h13M194 314.5h13M194 316.5h13M194 317.5h13M194 319.5h13M194 320.5h13M194 321.5h13M194 323.5h13M194 327.5h13M194 328.5h13M194 329.5h13M194 331.5h13M194 332.5h13M194 333.5h13M194 334.5h13M194 336.5h13M194 337.5h13M194 338.5h13M194 340.5h13M194 341.5h13M194 342.5h13M194 344.5h13M194 345.5h13M194 346.5h13M207 60.5h26M207 61.5h26M207 62.5h26M207 63.5h26M207 64.5h26M207 65.5h26M207 66.5h26M207 67.5h26M207 68.5h26M207 69.5h26M207 71.5h26M207 72.5h26M207 73.5h26M207 74.5h26M207 75.5h26M207 76.5h26M207 77.5h26M207 78.5h26M207 79.5h26M207 81.5h26M207 82.5h26M207 83.5h26M207 84.5h26M207 85.5h26M207 86.5h26M207 87.5h26M207 88.5h26M207 91.5h26M207 92.5h26M207 99.5h26M207 100.5h26M207 105.5h26M207 106.5h26M207 108.5h26M207 118.5h26M207 121.5h26M207 122.5h26M207 124.5h26M207 129.5h26M207 130.5h26M207 132.5h26M207 133.5h26M207 135.5h26M207 139.5h26M207 140.5h26M207 141.5h26M207 142.5h26M207 143.5h26M207 144.5h26M207 146.5h26M207 147.5h26M207 148.5h26M207 149.5h26M207 152.5h26M207 154.5h26M207 159.5h26M207 160.5h26M207 163.5h26M207 164.5h26M207 165.5h26M207 167.5h26M207 169.5h26M207 170.5h26M207 172.5h26M207 174.5h26M207 176.5h26M207 179.5h26M207 182.5h26M207 183.5h26M207 190.5h26M207 195.5h26M207 196.5h26M207 198.5h26M207 201.5h26M207 214.5h26M207 218.5h26M207 224.5h26M207 235.5h26M207 238.5h26M207 239.5h26M207 242.5h26M207 244.5h26M207 252.5h26M207 253.5h26M207 254.5h26M207 255.5h26M207 256.5h26M207 257.5h26M207 258.5h26M207 260.5h26M207 263.5h26M207 264.5h26M207 266.5h26M207 269.5h26M207 271.5h26M207 272.5h26M207 273.5h26M207 274.5h26M207 275.5h26M207 277.5h26M207 279.5h26M207 282.5h26M207 284.5h26M207 285.5h26M207 289.5h26M207 290.5h26M207 292.5h26M207 294.5h26M207 295.5h26M207 300.5h26M207 302.5h26M207 303.5h26M207 307.5h26M207 308.5h26M207 310.5h26M207 311.5h26M207 312.5h26M207 313.5h26M207 315.5h26M207 316.5h26M207 317.5h26M207 321.5h26M207 322.5h26M207 323.5h26M207 324.5h26M207 325.5h26M207 326.5h26M207 327.5h26M207 328.5h26M207 329.5h26M207 343.5h26M207 346.5h26M233 61.5h39M233 62.5h39M233 63.5h39M233 64.5h39M233 65.5h39M233 66.5h39M233 67.5h39M233 68.5h39M233 71.5h39M233 72.5h39M233 73.5h39M233 74.5h39M233 77.5h39M233 79.5h39M233 81.5h39M233 82.5h39M233 83.5h39M233 84.5h39M233 85.5h39M233 86.5h39M233 87.5h39M233 89.5h39M233 91.5h39M233 92.5h39M233 93.5h39M233 95.5h39M233 96.5h39M233 98.5h39M233 99.5h39M233 100.5h39M233 101.5h39M233 106.5h39M233 108.5h39M233 111.5h39M233 113.5h39M233 114.5h39M233 115.5h39M233 118.5h39M233 119.5h39M233 124.5h39M233 125.5h39M233 126.5h39M233 127.5h39M233 128.5h39M233 134.5h39M233 135.5h39M233 138.5h39M233 139.5h39M233 141.5h39M233 145.5h39M233 146.5h39M233 148.5h39M233 149.5h39M233 150.5h39M233 151.5h39M233 153.5h39M233 154.5h39M233 155.5h39M233 156.5h39M233 157.5h39M233 158.5h39M233 160.5h39M233 161.5h39M233 162.5h39M233 163.5h39M233 164.5h39M233 165.5h39M233 167.5h39M233 168.5h39M233 169.5h39M233 170.5h39M233 173.5h39M233 174.5h39M233 175.5h39M233 176.5h39M233 177.5h39M233 178.5h39M233 179.5h39M233 181.5h39M233 183.5h39M233 184.5h39M233 185.5h39M233 186.5h39M233 187.5h39M233 188.5h39M233 295.5h39M233 296.5h39M233 300.5h39M233 303.5h39M233 304.5h39M233 309.5h39M233 312.5h39M233 313.5h39M233 318.5h39M233 324.5h39M233 325.5h39M233 327.5h39M272 61.5h20M272 62.5h20M272 64.5h20M272 66.5h20M272 68.5h20M272 69.5h20M272 70.5h20M272 71.5h20M272 73.5h20M272 74.5h20M272 75.5h20M272 77.5h20M272 78.5h20M272 79.5h20M272 80.5h20M272 81.5h20M272 82.5h20M272 83.5h20M272 84.5h20M272 89.5h20M272 90.5h20M272 91.5h20M272 92.5h20M272 93.5h20M272 94.5h20M272 95.5h20M272 97.5h20M272 98.5h20M272 101.5h20M272 106.5h20M272 107.5h20M272 108.5h20M272 109.5h20M272 110.5h20M272 111.5h20M272 113.5h20M272 114.5h20M272 119.5h20M272 120.5h20M272 121.5h20M272 122.5h20M272 123.5h20M272 128.5h20M272 129.5h20M272 140.5h20M272 142.5h20M272 143.5h20M272 144.5h20M272 147.5h20M272 149.5h20M272 153.5h20M272 154.5h20M272 159.5h20M272 160.5h20M272 161.5h20M272 163.5h20M272 164.5h20M272 168.5h20M272 173.5h20M272 174.5h20M272 176.5h20M272 179.5h20M272 181.5h20M272 183.5h20M272 186.5h20M272 188.5h20M272 230.5h20M272 231.5h20M272 232.5h20M272 239.5h20M272 246.5h20M272 247.5h20M272 250.5h20M272 251.5h20M272 252.5h20M272 254.5h20M272 255.5h20M272 256.5h20M272 258.5h20M272 259.5h20M272 262.5h20M272 271.5h20M272 272.5h20M272 275.5h20M272 280.5h20M272 283.5h20M272 286.5h20M272 289.5h20M272 294.5h20M272 295.5h20M272 302.5h20M272 303.5h20M272 312.5h20M272 314.5h20M272 315.5h20M272 320.5h20M272 325.5h20M292 62.5h24M292 63.5h24M292 65.5h24M292 69.5h24M292 72.5h24M292 73.5h24M292 77.5h24M292 79.5h24M292 80.5h24M292 83.5h24M292 85.5h24M292 86.5h24M292 91.5h24M292 96.5h24M292 100.5h24M292 102.5h24M292 103.5h24M292 104.5h24M292 105.5h24M292 106.5h24M292 108.5h24M292 109.5h24M292 111.5h24M292 114.5h24M292 115.5h24M292 121.5h24M292 122.5h24M292 128.5h24M292 131.5h24M292 140.5h24M292 143.5h24M292 144.5h24M292 148.5h24M292 153.5h24M292 156.5h24M292 159.5h24M292 161.5h24M292 162.5h24M292 163.5h24M292 164.5h24M292 165.5h24M292 166.5h24M292 167.5h24M292 168.5h24M292 170.5h24M292 171.5h24M292 172.5h24M292 173.5h24M292 174.5h24M292 175.5h24M292 176.5h24M292 177.5h24M292 178.5h24M292 179.5h24M292 180.5h24M292 182.5h24M292 183.5h24M292 184.5h24M292 185.5h24M292 186.5h24M292 187.5h24M292 188.5h24M292 190.5h24M292 226.5h24M292 228.5h24M292 230.5h24M292 232.5h24M292 234.5h24M292 235.5h24M292 237.5h24M292 239.5h24M292 242.5h24M292 244.5h24M292 245.5h24M292 247.5h24M292 248.5h24M292 249.5h24M292 250.5h24M292 254.5h24M292 258.5h24M292 260.5h24M292 261.5h24M292 263.5h24M292 269.5h24M292 271.5h24M292 273.5h24M292 277.5h24M292 278.5h24M292 279.5h24M292 283.5h24M292 284.5h24M292 285.5h24M292 297.5h24M292 298.5h24M292 304.5h24M292 309.5h24M292 311.5h24M292 317.5h24M292 319.5h24M292 342.5h24M316 61.5h10M316 62.5h10M316 65.5h10M316 69.5h10M316 78.5h10M316 86.5h10M316 87.5h10M316 91.5h10M316 92.5h10M316 96.5h10M316 100.5h10M316 103.5h10M316 104.5h10M316 106.5h10M316 108.5h10M316 113.5h10M316 115.5h10M316 121.5h10M316 123.5h10M316 124.5h10M316 126.5h10M316 130.5h10M316 141.5h10M316 142.5h10M316 144.5h10M316 145.5h10M316 153.5h10M316 154.5h10M316 155.5h10M316 157.5h10M316 158.5h10M316 159.5h10M316 160.5h10M316 161.5h10M316 164.5h10M316 165.5h10M316 166.5h10M316 167.5h10M316 168.5h10M316 169.5h10M316 170.5h10M316 171.5h10M316 172.5h10M316 173.5h10M316 174.5h10M316 175.5h10M316 176.5h10M316 177.5h10M316 181.5h10M316 182.5h10M316 183.5h10M316 184.5h10M316 185.5h10M316 186.5h10M316 187.5h10M316 188.5h10M316 211.5h10M316 223.5h10M316 227.5h10M316 229.5h10M316 232.5h10M316 235.5h10M316 236.5h10M316 237.5h10M316 238.5h10M316 241.5h10M316 242.5h10M316 243.5h10M316 244.5h10M316 245.5h10M316 247.5h10M316 248.5h10M316 249.5h10M316 250.5h10M316 252.5h10M316 253.5h10M316 254.5h10M316 256.5h10M316 257.5h10M316 258.5h10M316 260.5h10M316 264.5h10M316 270.5h10M316 272.5h10M316 274.5h10M316 276.5h10M316 277.5h10M316 278.5h10M316 279.5h10M316 282.5h10M316 283.5h10M316 287.5h10M316 290.5h10M316 292.5h10M316 294.5h10M316 296.5h10M316 298.5h10M316 299.5h10M316 300.5h10M316 301.5h10M316 302.5h10M316 306.5h10M316 307.5h10M316 309.5h10M316 310.5h10M316 311.5h10M316 314.5h10M316 316.5h10M316 317.5h10M316 320.5h10M316 322.5h10M316 326.5h10M316 327.5h10M316 328.5h10M316 346.5h10M326 60.5h34M326 62.5h34M326 63.5h34M326 65.5h34M326 66.5h34M326 67.5h34M326 76.5h34M326 79.5h34M326 80.5h34M326 82.5h34M326 86.5h34M326 91.5h34M326 92.5h34M326 97.5h34M326 105.5h34M326 109.5h34M326 113.5h34M326 115.5h34M326 119.5h34M326 120.5h34M326 121.5h34M326 122.5h34M326 130.5h34M326 141.5h34M326 143.5h34M326 148.5h34M326 154.5h34M326 159.5h34M326 160.5h34M326 161.5h34M326 162.5h34M326 163.5h34M326 167.5h34M326 168.5h34M326 170.5h34M326 172.5h34M326 174.5h34M326 176.5h34M326 177.5h34M326 180.5h34M326 182.5h34M326 184.5h34M326 185.5h34M326 186.5h34M326 187.5h34M326 188.5h34M326 196.5h34M326 228.5h34M326 229.5h34M326 232.5h34M326 233.5h34M326 236.5h34M326 244.5h34M326 245.5h34M326 246.5h34M326 247.5h34M326 248.5h34M326 249.5h34M326 250.5h34M326 253.5h34M326 261.5h34M326 263.5h34M326 266.5h34M326 272.5h34M326 277.5h34M326 279.5h34M326 281.5h34M326 284.5h34M326 298.5h34M326 299.5h34M326 311.5h34M326 316.5h34M326 317.5h34M326 319.5h34M326 328.5h34M326 346.5h34M360 60.5h7M360 62.5h7M360 63.5h7M360 65.5h7M360 67.5h7M360 69.5h7M360 76.5h7M360 78.5h7M360 79.5h7M360 80.5h7M360 83.5h7M360 87.5h7M360 88.5h7M360 95.5h7M360 96.5h7M360 97.5h7M360 98.5h7M360 99.5h7M360 100.5h7M360 105.5h7M360 108.5h7M360 113.5h7M360 114.5h7M360 122.5h7M360 124.5h7M360 126.5h7M360 130.5h7M360 131.5h7M360 134.5h7M360 135.5h7M360 139.5h7M360 140.5h7M360 141.5h7M360 142.5h7M360 143.5h7M360 144.5h7M360 145.5h7M360 148.5h7M360 149.5h7M360 150.5h7M360 152.5h7M360 153.5h7M360 155.5h7M360 156.5h7M360 157.5h7M360 158.5h7M360 159.5h7M360 160.5h7M360 161.5h7M360 162.5h7M360 163.5h7M360 165.5h7M360 167.5h7M360 168.5h7M360 169.5h7M360 171.5h7M360 172.5h7M360 173.5h7M360 175.5h7M360 178.5h7M360 179.5h7M360 181.5h7M360 183.5h7M360 185.5h7M360 186.5h7M360 187.5h7M360 188.5h7M360 233.5h7M360 234.5h7M360 243.5h7M360 246.5h7M360 275.5h7M360 277.5h7M360 278.5h7M360 280.5h7M360 295.5h7M360 297.5h7M360 298.5h7M360 300.5h7M360 301.5h7M360 302.5h7M360 304.5h7M360 305.5h7M360 307.5h7M360 309.5h7M360 310.5h7M360 311.5h7M360 312.5h7M360 313.5h7M360 314.5h7M360 315.5h7M360 317.5h7M360 318.5h7M360 319.5h7M360 320.5h7M360 321.5h7M360 322.5h7M360 323.5h7M360 327.5h7M360 328.5h7M360 329.5h7M360 330.5h7M360 331.5h7M360 333.5h7M360 334.5h7M360 335.5h7M360 336.5h7M360 337.5h7M360 338.5h7M360 339.5h7M360 340.5h7M360 341.5h7M360 342.5h7M360 343.5h7M360 344.5h7M360 345.5h7M367 60.5h10M367 61.5h10M367 63.5h10M367 65.5h10M367 66.5h10M367 67.5h10M367 68.5h10M367 69.5h10M367 70.5h10M367 71.5h10M367 72.5h10M367 73.5h10M367 74.5h10M367 75.5h10M367 77.5h10M367 79.5h10M367 80.5h10M367 81.5h10M367 83.5h10M367 84.5h10M367 86.5h10M367 88.5h10M367 91.5h10M367 92.5h10M367 93.5h10M367 94.5h10M367 95.5h10M367 97.5h10M367 98.5h10M367 99.5h10M367 100.5h10M367 101.5h10M367 102.5h10M367 103.5h10M367 104.5h10M367 106.5h10M367 108.5h10M367 109.5h10M367 111.5h10M367 113.5h10M367 114.5h10M367 115.5h10M367 118.5h10M367 119.5h10M367 120.5h10M367 121.5h10M367 123.5h10M367 124.5h10M367 125.5h10M367 127.5h10M367 132.5h10M367 135.5h10M367 136.5h10M367 144.5h10M367 145.5h10M367 146.5h10M367 148.5h10M367 149.5h10M367 150.5h10M367 151.5h10M367 152.5h10M367 153.5h10M367 156.5h10M367 157.5h10M367 158.5h10M367 159.5h10M367 160.5h10M367 161.5h10M367 162.5h10M367 163.5h10M367 164.5h10M367 165.5h10M367 166.5h10M367 167.5h10M367 171.5h10M367 172.5h10M367 173.5h10M367 174.5h10M367 175.5h10M367 176.5h10M367 178.5h10M367 179.5h10M367 181.5h10M367 184.5h10M367 185.5h10M367 186.5h10M367 187.5h10M367 188.5h10M367 190.5h10M367 191.5h10M367 194.5h10M367 200.5h10M367 202.5h10M367 205.5h10M367 207.5h10M367 208.5h10M367 209.5h10M367 210.5h10M367 211.5h10M367 213.5h10M367 214.5h10M367 217.5h10M367 218.5h10M367 222.5h10M367 223.5h10M367 225.5h10M367 226.5h10M367 227.5h10M367 228.5h10M367 229.5h10M367 230.5h10M367 234.5h10M367 235.5h10M367 238.5h10M367 239.5h10M367 241.5h10M367 242.5h10M367 243.5h10M367 245.5h10M367 249.5h10M367 251.5h10M367 253.5h10M367 258.5h10M367 261.5h10M367 263.5h10M367 264.5h10M367 265.5h10M367 266.5h10M367 270.5h10M367 271.5h10M367 272.5h10M367 273.5h10M367 274.5h10M367 275.5h10M367 277.5h10M367 283.5h10M367 284.5h10M367 285.5h10M367 288.5h10M367 290.5h10M367 291.5h10M367 292.5h10M367 294.5h10M367 330.5h10M367 342.5h10M367 343.5h10M367 344.5h10M367 346.5h10M377 60.5h11M377 61.5h11M377 63.5h11M377 64.5h11M377 65.5h11M377 66.5h11M377 67.5h11M377 68.5h11M377 69.5h11M377 70.5h11M377 71.5h11M377 73.5h11M377 74.5h11M377 77.5h11M377 78.5h11M377 79.5h11M377 81.5h11M377 84.5h11M377 89.5h11M377 94.5h11M377 95.5h11M377 96.5h11M377 97.5h11M377 99.5h11M377 100.5h11M377 101.5h11M377 102.5h11M377 103.5h11M377 104.5h11M377 105.5h11M377 106.5h11M377 108.5h11M377 113.5h11M377 115.5h11M377 118.5h11M377 119.5h11M377 120.5h11M377 121.5h11M377 122.5h11M377 125.5h11M377 126.5h11M377 127.5h11M377 128.5h11M377 132.5h11M377 134.5h11M377 135.5h11M377 136.5h11M377 137.5h11M377 138.5h11M377 140.5h11M377 141.5h11M377 142.5h11M377 143.5h11M377 144.5h11M377 145.5h11M377 146.5h11M377 147.5h11M377 150.5h11M377 151.5h11M377 152.5h11M377 153.5h11M377 154.5h11M377 155.5h11M377 156.5h11M377 157.5h11M377 158.5h11M377 159.5h11M377 160.5h11M377 161.5h11M377 162.5h11M377 164.5h11M377 165.5h11M377 166.5h11M377 167.5h11M377 170.5h11M377 171.5h11M377 172.5h11M377 173.5h11M377 174.5h11M377 177.5h11M377 179.5h11M377 180.5h11M377 181.5h11M377 183.5h11M377 184.5h11M377 186.5h11M377 187.5h11M377 188.5h11M377 189.5h11M377 191.5h11M377 193.5h11M377 194.5h11M377 195.5h11M377 196.5h11M377 199.5h11M377 200.5h11M377 201.5h11M377 202.5h11M377 203.5h11M377 204.5h11M377 205.5h11M377 206.5h11M377 207.5h11M377 208.5h11M377 209.5h11M377 211.5h11M377 213.5h11M377 214.5h11M377 215.5h11M377 216.5h11M377 217.5h11M377 218.5h11M377 219.5h11M377 221.5h11M377 222.5h11M377 224.5h11M377 226.5h11M377 227.5h11M377 228.5h11M377 229.5h11M377 230.5h11M377 234.5h11M377 235.5h11M377 236.5h11M377 237.5h11M377 238.5h11M377 239.5h11M377 241.5h11M377 242.5h11M377 244.5h11M377 245.5h11M377 248.5h11M377 249.5h11M377 250.5h11M377 251.5h11M377 253.5h11M377 254.5h11M377 256.5h11M377 257.5h11M377 260.5h11M377 261.5h11M377 263.5h11M377 264.5h11M377 265.5h11M377 266.5h11M377 268.5h11M377 269.5h11M377 270.5h11M377 271.5h11M377 272.5h11M377 273.5h11M377 274.5h11M377 275.5h11M377 277.5h11M377 278.5h11M377 281.5h11M377 282.5h11M377 283.5h11M377 284.5h11M377 286.5h11M377 287.5h11M377 288.5h11M377 289.5h11M377 290.5h11M377 292.5h11M377 293.5h11M377 294.5h11M377 344.5h11M377 346.5h11M388 62.5h10M388 64.5h10M388 76.5h10M388 79.5h10M388 80.5h10M388 82.5h10M388 85.5h10M388 86.5h10M388 88.5h10M388 92.5h10M388 96.5h10M388 101.5h10M388 108.5h10M388 109.5h10M388 113.5h10M388 115.5h10M388 121.5h10M388 122.5h10M388 124.5h10M388 129.5h10M388 130.5h10M388 131.5h10M388 139.5h10M388 140.5h10M388 141.5h10M388 143.5h10M388 144.5h10M388 147.5h10M388 150.5h10M388 152.5h10M388 154.5h10M388 156.5h10M388 157.5h10M388 159.5h10M388 160.5h10M388 162.5h10M388 164.5h10M388 165.5h10M388 166.5h10M388 167.5h10M388 169.5h10M388 170.5h10M388 172.5h10M388 174.5h10M388 175.5h10M388 177.5h10M388 178.5h10M388 179.5h10M388 180.5h10M388 182.5h10M388 183.5h10M388 185.5h10M388 187.5h10M388 188.5h10M388 189.5h10M388 190.5h10M388 194.5h10M388 201.5h10M388 211.5h10M388 213.5h10M388 214.5h10M388 218.5h10M388 223.5h10M388 226.5h10M388 228.5h10M388 232.5h10M388 235.5h10M388 242.5h10M388 248.5h10M388 257.5h10M388 261.5h10M388 263.5h10M388 266.5h10M388 269.5h10M388 272.5h10M388 273.5h10M388 279.5h10M388 285.5h10M388 303.5h10M388 310.5h10M388 312.5h10M388 314.5h10M388 315.5h10M388 318.5h10M388 319.5h10M388 321.5h10M388 322.5h10M388 323.5h10M388 326.5h10M388 327.5h10M388 329.5h10M388 330.5h10M388 346.5h10M398 60.5h45M398 61.5h45M398 62.5h45M398 63.5h45M398 64.5h45M398 66.5h45M398 67.5h45M398 68.5h45M398 69.5h45M398 70.5h45M398 71.5h45M398 72.5h45M398 73.5h45M398 76.5h45M398 77.5h45M398 79.5h45M398 80.5h45M398 85.5h45M398 91.5h45M398 92.5h45M398 96.5h45M398 97.5h45M398 98.5h45M398 99.5h45M398 100.5h45M398 102.5h45M398 103.5h45M398 104.5h45M398 105.5h45M398 106.5h45M398 108.5h45M398 109.5h45M398 111.5h45M398 113.5h45M398 114.5h45M398 118.5h45M398 119.5h45M398 120.5h45M398 121.5h45M398 130.5h45M398 141.5h45M398 148.5h45M398 159.5h45M398 160.5h45M398 161.5h45M398 162.5h45M398 164.5h45M398 165.5h45M398 168.5h45M398 169.5h45M398 170.5h45M398 171.5h45M398 172.5h45M398 173.5h45M398 174.5h45M398 175.5h45M398 176.5h45M398 178.5h45M398 180.5h45M398 185.5h45M398 188.5h45M398 227.5h45M398 228.5h45M398 229.5h45M398 234.5h45M398 235.5h45M398 241.5h45M398 244.5h45M398 252.5h45M398 254.5h45M398 255.5h45M398 256.5h45M398 257.5h45M398 258.5h45M398 259.5h45M398 260.5h45M398 261.5h45M398 262.5h45M398 264.5h45M398 265.5h45M398 271.5h45M398 273.5h45M398 274.5h45M398 278.5h45M398 284.5h45M398 292.5h45M398 296.5h45M398 298.5h45M398 302.5h45M398 306.5h45M398 307.5h45M398 308.5h45M398 309.5h45M398 310.5h45M398 311.5h45M398 315.5h45M398 317.5h45M398 318.5h45M398 319.5h45M398 320.5h45M398 321.5h45M398 322.5h45M398 323.5h45M398 324.5h45M398 325.5h45M398 327.5h45M398 328.5h45M398 329.5h45"/>
<path stroke="#3e0845" d="M33 84.5h27M33 89.5h27M33 93.5h27M33 97.5h27M33 98.5h27M33 101.5h27M33 103.5h27M33 106.5h27M33 112.5h27M33 116.5h27M33 117.5h27M33 119.5h27M33 128.5h27M33 135.5h27M33 136.5h27M33 137.5h27M33 138.5h27M33 139.5h27M33 141.5h27M33 143.5h27M33 147.5h27M33 152.5h27M33 153.5h27M33 190.5h27M33 193.5h27M33 201.5h27M33 202.5h27M33 204.5h27M33 207.5h27M33 208.5h27M33 209.5h27M33 211.5h27M33 215.5h27M33 219.5h27M33 221.5h27M33 222.5h27M33 223.5h27M33 225.5h27M33 227.5h27M33 229.5h27M33 232.5h27M33 240.5h27M33 241.5h27M33 248.5h27M33 258.5h27M33 259.5h27M33 262.5h27M33 269.5h27M33 272.5h27M33 274.5h27M33 280.5h27M33 287.5h27M33 289.5h27M33 291.5h27M33 315.5h27M33 330.5h27M33 332.5h27M33 334.5h27M33 341.5h27M33 342.5h27M33 344.5h27M33 345.5h27M33 346.5h27M60 78.5h13M60 84.5h13M60 89.5h13M60 90.5h13M60 101.5h13M60 102.5h13M60 107.5h13M60 109.5h13M60 110.5h13M60 112.5h13M60 116.5h13M60 122.5h13M60 123.5h13M60 125.5h13M60 127.5h13M60 129.5h13M60 132.5h13M60 133.5h13M60 134.5h13M60 136.5h13M60 137.5h13M60 139.5h13M60 143.5h13M60 145.5h13M60 146.5h13M60 149.5h13M60 151.5h13M60 152.5h13M60 181.5h13M60 183.5h13M60 192.5h13M60 194.5h13M60 195.5h13M60 197.5h13M60 200.5h13M60 202.5h13M60 206.5h13M60 212.5h13M60 216.5h13M60 217.5h13M60 224.5h13M60 227.5h13M60 230.5h13M60 231.5h13M60 237.5h13M60 240.5h13M60 242.5h13M60 245.5h13M60 247.5h13M60 249.5h13M60 250.5h13M60 252.5h13M60 254.5h13M60 256.5h13M60 257.5h13M60 258.5h13M60 259.5h13M60 260.5h13M60 264.5h13M60 266.5h13M60 267.5h13M60 268.5h13M60 270.5h13M60 277.5h13M60 278.5h13M60 280.5h13M60 281.5h13M60 282.5h13M60 286.5h13M60 294.5h13M60 303.5h13M60 315.5h13M60 330.5h13M60 333.5h13M60 335.5h13M60 336.5h13M60 338.5h13M60 343.5h13M73 60.5h41M73 64.5h41M73 65.5h41M73 70.5h41M73 73.5h41M73 74.5h41M73 77.5h41M73 82.5h41M73 84.5h41M73 92.5h41M73 93.5h41M73 94.5h41M73 95.5h41M73 96.5h41M73 98.5h41M73 105.5h41M73 107.5h41M73 109.5h41M73 110.5h41M73 111.5h41M73 112.5h41M73 113.5h41M73 116.5h41M73 117.5h41M73 119.5h41M73 120.5h41M73 123.5h41M73 124.5h41M73 128.5h41M73 135.5h41M73 139.5h41M73 141.5h41M73 143.5h41M73 144.5h41M73 145.5h41M73 149.5h41M73 153.5h41M73 154.5h41M73 155.5h41M73 156.5h41M73 157.5h41M73 163.5h41M73 164.5h41M73 166.5h41M73 172.5h41M73 173.5h41M73 183.5h41M73 184.5h41M73 185.5h41M73 186.5h41M73 187.5h41M73 189.5h41M73 190.5h41M73 193.5h41M73 199.5h41M73 232.5h41M73 234.5h41M73 235.5h41M73 237.5h41M73 238.5h41M73 241.5h41M73 244.5h41M73 255.5h41M73 265.5h41M73 274.5h41M73 277.5h41M73 281.5h41M73 287.5h41M73 295.5h41M73 299.5h41M73 303.5h41M73 305.5h41M73 312.5h41M73 315.5h41M73 318.5h41M73 324.5h41M73 338.5h41M73 343.5h41M73 345.5h41M73 346.5h41M114 70.5h34M114 77.5h34M114 116.5h34M114 189.5h34M114 190.5h34M114 192.5h34M114 193.5h34M114 195.5h34M114 199.5h34M114 200.5h34M114 206.5h34M114 207.5h34M114 212.5h34M114 216.5h34M114 217.5h34M114 219.5h34M114 222.5h34M114 226.5h34M114 227.5h34M114 232.5h34M114 234.5h34M114 236.5h34M114 237.5h34M114 241.5h34M114 245.5h34M114 248.5h34M114 249.5h34M114 253.5h34M114 255.5h34M114 256.5h34M114 262.5h34M114 266.5h34M114 267.5h34M114 268.5h34M114 276.5h34M114 281.5h34M114 284.5h34M114 286.5h34M114 291.5h34M114 331.5h34M114 333.5h34M114 336.5h34M114 337.5h34M114 340.5h34M114 341.5h34M148 81.5h46M148 125.5h46M148 126.5h46M148 127.5h46M148 132.5h46M148 134.5h46M148 135.5h46M148 136.5h46M148 172.5h46M148 174.5h46M148 186.5h46M148 188.5h46M148 194.5h46M148 195.5h46M148 196.5h46M148 197.5h46M148 199.5h46M148 200.5h46M148 201.5h46M148 205.5h46M148 207.5h46M148 208.5h46M148 212.5h46M148 215.5h46M148 216.5h46M148 217.5h46M148 218.5h46M148 219.5h46M148 221.5h46M148 223.5h46M148 224.5h46M148 226.5h46M148 230.5h46M148 232.5h46M148 233.5h46M148 234.5h46M148 236.5h46M148 237.5h46M148 239.5h46M148 240.5h46M148 244.5h46M148 245.5h46M148 246.5h46M148 264.5h46M148 265.5h46M148 266.5h46M148 267.5h46M148 268.5h46M148 271.5h46M148 276.5h46M148 277.5h46M148 278.5h46M148 279.5h46M148 280.5h46M148 283.5h46M148 287.5h46M148 295.5h46M148 324.5h46M148 330.5h46M148 331.5h46M148 334.5h46M148 339.5h46M194 70.5h13M194 90.5h13M194 189.5h13M194 190.5h13M194 191.5h13M194 192.5h13M194 195.5h13M194 197.5h13M194 200.5h13M194 203.5h13M194 204.5h13M194 205.5h13M194 207.5h13M194 208.5h13M194 210.5h13M194 211.5h13M194 212.5h13M194 215.5h13M194 217.5h13M194 219.5h13M194 222.5h13M194 225.5h13M194 229.5h13M194 230.5h13M194 231.5h13M194 233.5h13M194 237.5h13M194 240.5h13M194 244.5h13M194 245.5h13M194 246.5h13M194 247.5h13M194 248.5h13M194 250.5h13M194 251.5h13M194 253.5h13M194 254.5h13M194 256.5h13M194 258.5h13M194 262.5h13M194 263.5h13M194 267.5h13M194 274.5h13M194 275.5h13M194 276.5h13M194 280.5h13M194 281.5h13M194 282.5h13M194 286.5h13M194 293.5h13M194 295.5h13M194 297.5h13M194 298.5h13M194 303.5h13M194 304.5h13M194 305.5h13M194 306.5h13M194 307.5h13M194 310.5h13M194 311.5h13M194 312.5h13M194 318.5h13M194 324.5h13M194 325.5h13M194 326.5h13M207 70.5h26M207 93.5h26M207 96.5h26M207 97.5h26M207 98.5h26M207 101.5h26M207 107.5h26M207 111.5h26M207 112.5h26M207 113.5h26M207 114.5h26M207 115.5h26M207 117.5h26M207 119.5h26M207 120.5h26M207 123.5h26M207 125.5h26M207 126.5h26M207 127.5h26M207 128.5h26M207 134.5h26M207 136.5h26M207 138.5h26M207 145.5h26M207 150.5h26M207 151.5h26M207 153.5h26M207 155.5h26M207 156.5h26M207 157.5h26M207 161.5h26M207 162.5h26M207 168.5h26M207 189.5h26M207 191.5h26M207 200.5h26M207 202.5h26M207 203.5h26M207 204.5h26M207 205.5h26M207 206.5h26M207 207.5h26M207 209.5h26M207 210.5h26M207 213.5h26M207 215.5h26M207 217.5h26M207 223.5h26M207 226.5h26M207 227.5h26M207 229.5h26M207 232.5h26M207 234.5h26M207 236.5h26M207 237.5h26M207 240.5h26M207 241.5h26M207 245.5h26M207 246.5h26M207 248.5h26M207 259.5h26M207 262.5h26M207 268.5h26M207 270.5h26M207 276.5h26M207 278.5h26M207 280.5h26M207 281.5h26M207 286.5h26M207 287.5h26M207 288.5h26M207 320.5h26M207 332.5h26M207 334.5h26M207 335.5h26M207 336.5h26M207 339.5h26M207 342.5h26M207 345.5h26M233 70.5h39M233 75.5h39M233 76.5h39M233 78.5h39M233 88.5h39M233 94.5h39M233 97.5h39M233 102.5h39M233 103.5h39M233 105.5h39M233 107.5h39M233 109.5h39M233 112.5h39M233 116.5h39M233 117.5h39M233 120.5h39M233 121.5h39M233 122.5h39M233 123.5h39M233 129.5h39M233 130.5h39M233 131.5h39M233 132.5h39M233 133.5h39M233 136.5h39M233 137.5h39M233 142.5h39M233 144.5h39M233 152.5h39M233 171.5h39M233 172.5h39M272 102.5h20M272 103.5h20M272 104.5h20M272 105.5h20M272 112.5h20M272 116.5h20M272 117.5h20M272 124.5h20M272 126.5h20M272 127.5h20M272 130.5h20M272 131.5h20M272 132.5h20M272 133.5h20M272 136.5h20M272 137.5h20M272 138.5h20M272 139.5h20M272 145.5h20M272 146.5h20M272 150.5h20M272 151.5h20M272 152.5h20M272 155.5h20M272 156.5h20M272 157.5h20M272 158.5h20M272 162.5h20M272 165.5h20M272 167.5h20M272 169.5h20M292 60.5h24M292 61.5h24M292 66.5h24M292 67.5h24M292 68.5h24M292 70.5h24M292 71.5h24M292 74.5h24M292 75.5h24M292 76.5h24M292 78.5h24M292 81.5h24M292 82.5h24M292 88.5h24M292 95.5h24M292 97.5h24M292 98.5h24M292 101.5h24M292 107.5h24M292 110.5h24M292 113.5h24M292 116.5h24M292 117.5h24M292 118.5h24M292 119.5h24M292 120.5h24M292 123.5h24M292 126.5h24M292 127.5h24M292 142.5h24M292 145.5h24M292 147.5h24M292 149.5h24M292 150.5h24M292 152.5h24M292 155.5h24M292 157.5h24M292 158.5h24M292 160.5h24M292 169.5h24M292 181.5h24M292 191.5h24M292 196.5h24M292 198.5h24M292 201.5h24M292 211.5h24M292 214.5h24M292 231.5h24M292 233.5h24M292 236.5h24M292 240.5h24M292 241.5h24M292 243.5h24M292 246.5h24M292 251.5h24M292 252.5h24M292 256.5h24M292 257.5h24M292 264.5h24M292 267.5h24M292 268.5h24M292 274.5h24M292 275.5h24M292 281.5h24M292 282.5h24M292 289.5h24M292 294.5h24M292 296.5h24M292 299.5h24M292 300.5h24M292 301.5h24M292 305.5h24M292 306.5h24M292 307.5h24M292 310.5h24M292 313.5h24M292 314.5h24M292 316.5h24M292 320.5h24M292 321.5h24M292 322.5h24M292 323.5h24M292 326.5h24M292 327.5h24M292 334.5h24M292 343.5h24M292 344.5h24M316 60.5h10M316 63.5h10M316 64.5h10M316 67.5h10M316 68.5h10M316 71.5h10M316 72.5h10M316 76.5h10M316 77.5h10M316 79.5h10M316 80.5h10M316 81.5h10M316 82.5h10M316 83.5h10M316 85.5h10M316 88.5h10M316 89.5h10M316 93.5h10M316 94.5h10M316 97.5h10M316 98.5h10M316 99.5h10M316 102.5h10M316 107.5h10M316 109.5h10M316 114.5h10M316 116.5h10M316 118.5h10M316 120.5h10M316 122.5h10M316 127.5h10M316 129.5h10M316 131.5h10M316 132.5h10M316 133.5h10M316 134.5h10M316 135.5h10M316 136.5h10M316 140.5h10M316 143.5h10M316 147.5h10M316 148.5h10M316 149.5h10M316 150.5h10M316 152.5h10M316 156.5h10M316 162.5h10M316 163.5h10M316 178.5h10M316 179.5h10M316 180.5h10M316 191.5h10M316 193.5h10M316 196.5h10M316 198.5h10M316 202.5h10M316 207.5h10M316 209.5h10M316 214.5h10M316 215.5h10M316 218.5h10M316 226.5h10M316 230.5h10M316 231.5h10M316 233.5h10M316 234.5h10M316 239.5h10M316 240.5h10M316 246.5h10M316 251.5h10M316 255.5h10M316 263.5h10M316 265.5h10M316 266.5h10M316 268.5h10M316 273.5h10M316 275.5h10M316 280.5h10M316 281.5h10M316 284.5h10M316 285.5h10M316 286.5h10M316 293.5h10M316 295.5h10M316 297.5h10M316 303.5h10M316 304.5h10M316 305.5h10M316 313.5h10M316 315.5h10M316 318.5h10M316 321.5h10M316 323.5h10M316 324.5h10M316 325.5h10M316 329.5h10M316 330.5h10M316 334.5h10M316 339.5h10M316 341.5h10M316 343.5h10M316 344.5h10M316 345.5h10M326 61.5h34M326 68.5h34M326 70.5h34M326 71.5h34M326 72.5h34M326 75.5h34M326 78.5h34M326 81.5h34M326 83.5h34M326 85.5h34M326 87.5h34M326 88.5h34M326 99.5h34M326 100.5h34M326 103.5h34M326 104.5h34M326 106.5h34M326 107.5h34M326 111.5h34M326 123.5h34M326 124.5h34M326 126.5h34M326 128.5h34M326 129.5h34M326 131.5h34M326 133.5h34M326 140.5h34M326 145.5h34M326 146.5h34M326 149.5h34M326 156.5h34M326 157.5h34M326 164.5h34M326 165.5h34M326 171.5h34M326 173.5h34M326 175.5h34M326 179.5h34M326 226.5h34M326 227.5h34M326 230.5h34M326 234.5h34M326 237.5h34M326 238.5h34M326 239.5h34M326 240.5h34M326 241.5h34M326 243.5h34M326 251.5h34M326 252.5h34M326 254.5h34M326 257.5h34M326 258.5h34M326 260.5h34M326 264.5h34M326 268.5h34M326 269.5h34M326 271.5h34M326 273.5h34M326 274.5h34M326 275.5h34M326 283.5h34M326 296.5h34M326 297.5h34M326 300.5h34M326 305.5h34M326 306.5h34M326 309.5h34M326 310.5h34M326 313.5h34M326 314.5h34M326 318.5h34M326 320.5h34M326 321.5h34M326 322.5h34M326 326.5h34M326 329.5h34M326 330.5h34M326 335.5h34M326 338.5h34M326 343.5h34M360 61.5h7M360 64.5h7M360 68.5h7M360 70.5h7M360 71.5h7M360 72.5h7M360 73.5h7M360 74.5h7M360 75.5h7M360 81.5h7M360 82.5h7M360 85.5h7M360 86.5h7M360 89.5h7M360 91.5h7M360 92.5h7M360 93.5h7M360 94.5h7M360 101.5h7M360 102.5h7M360 104.5h7M360 106.5h7M360 107.5h7M360 109.5h7M360 110.5h7M360 111.5h7M360 112.5h7M360 115.5h7M360 117.5h7M360 118.5h7M360 119.5h7M360 121.5h7M360 123.5h7M360 129.5h7M360 132.5h7M360 133.5h7M360 137.5h7M360 138.5h7M360 146.5h7M360 147.5h7M360 151.5h7M360 154.5h7M360 303.5h7M360 324.5h7M360 325.5h7M360 332.5h7M367 89.5h10M367 90.5h10M367 105.5h10M367 107.5h10M367 112.5h10M367 122.5h10M367 155.5h10M367 183.5h10M367 189.5h10M367 193.5h10M367 195.5h10M367 197.5h10M367 198.5h10M367 199.5h10M367 203.5h10M367 212.5h10M367 215.5h10M367 216.5h10M367 219.5h10M367 220.5h10M367 224.5h10M367 232.5h10M367 233.5h10M367 236.5h10M367 237.5h10M367 240.5h10M367 244.5h10M367 246.5h10M367 247.5h10M367 252.5h10M367 254.5h10M367 257.5h10M367 259.5h10M367 260.5h10M367 267.5h10M367 269.5h10M367 279.5h10M367 280.5h10M367 281.5h10M367 286.5h10M367 293.5h10M377 75.5h11M377 110.5h11M377 111.5h11M377 114.5h11M377 116.5h11M377 117.5h11M377 123.5h11M377 124.5h11M377 163.5h11M377 190.5h11M377 192.5h11M377 197.5h11M377 210.5h11M377 212.5h11M377 220.5h11M377 231.5h11M377 232.5h11M377 233.5h11M377 240.5h11M377 243.5h11M377 246.5h11M377 247.5h11M377 252.5h11M377 255.5h11M377 258.5h11M377 259.5h11M377 262.5h11M377 267.5h11M377 276.5h11M377 279.5h11M377 280.5h11M377 285.5h11M377 291.5h11M377 295.5h11M377 330.5h11M377 334.5h11M377 335.5h11M377 336.5h11M377 337.5h11M377 339.5h11M377 343.5h11M388 63.5h10M388 65.5h10M388 66.5h10M388 67.5h10M388 68.5h10M388 69.5h10M388 70.5h10M388 71.5h10M388 72.5h10M388 73.5h10M388 74.5h10M388 78.5h10M388 81.5h10M388 84.5h10M388 87.5h10M388 89.5h10M388 91.5h10M388 93.5h10M388 95.5h10M388 97.5h10M388 104.5h10M388 105.5h10M388 111.5h10M388 114.5h10M388 117.5h10M388 119.5h10M388 123.5h10M388 125.5h10M388 126.5h10M388 127.5h10M388 128.5h10M388 135.5h10M388 136.5h10M388 137.5h10M388 138.5h10M388 142.5h10M388 146.5h10M388 148.5h10M388 149.5h10M388 151.5h10M388 153.5h10M388 155.5h10M388 158.5h10M388 161.5h10M388 163.5h10M388 171.5h10M388 173.5h10M388 176.5h10M388 181.5h10M388 184.5h10M388 186.5h10M388 191.5h10M388 193.5h10M388 202.5h10M388 204.5h10M388 205.5h10M388 206.5h10M388 207.5h10M388 208.5h10M388 209.5h10M388 212.5h10M388 215.5h10M388 219.5h10M388 221.5h10M388 227.5h10M388 229.5h10M388 230.5h10M388 233.5h10M388 234.5h10M388 238.5h10M388 239.5h10M388 240.5h10M388 241.5h10M388 245.5h10M388 252.5h10M388 253.5h10M388 256.5h10M388 258.5h10M388 260.5h10M388 265.5h10M388 268.5h10M388 271.5h10M388 274.5h10M388 276.5h10M388 277.5h10M388 278.5h10M388 284.5h10M388 288.5h10M388 290.5h10M388 292.5h10M388 294.5h10M388 320.5h10M388 324.5h10M388 325.5h10M388 335.5h10M388 339.5h10M388 341.5h10M388 344.5h10M388 345.5h10M398 65.5h45M398 74.5h45M398 75.5h45M398 78.5h45M398 82.5h45M398 83.5h45M398 84.5h45M398 87.5h45M398 88.5h45M398 93.5h45M398 101.5h45M398 107.5h45M398 110.5h45M398 112.5h45M398 116.5h45M398 117.5h45M398 124.5h45M398 126.5h45M398 133.5h45M398 144.5h45M398 147.5h45M398 149.5h45M398 153.5h45M398 155.5h45M398 156.5h45M398 157.5h45M398 163.5h45M398 166.5h45M398 167.5h45M398 177.5h45M398 179.5h45M398 181.5h45M398 186.5h45M398 187.5h45M398 190.5h45M398 196.5h45M398 198.5h45M398 211.5h45M398 213.5h45M398 230.5h45M398 233.5h45M398 237.5h45M398 238.5h45M398 240.5h45M398 242.5h45M398 248.5h45M398 249.5h45M398 268.5h45M398 269.5h45M398 270.5h45M398 275.5h45M398 276.5h45M398 277.5h45M398 283.5h45M398 285.5h45M398 288.5h45M398 289.5h45M398 293.5h45M398 294.5h45M398 295.5h45M398 299.5h45M398 300.5h45M398 301.5h45M398 303.5h45M398 304.5h45M398 305.5h45M398 312.5h45M398 314.5h45M398 338.5h45M398 339.5h45M398 341.5h45M398 342.5h45M398 343.5h45M398 344.5h45M398 345.5h45"/>
<path stroke="#530a59" d="M33 94.5h27M33 95.5h27M33 99.5h27M33 100.5h27M33 110.5h27M33 114.5h27M33 120.5h27M33 122.5h27M33 123.5h27M33 127.5h27M33 129.5h27M33 146.5h27M33 150.5h27M33 151.5h27M33 189.5h27M33 191.5h27M33 195.5h27M33 198.5h27M33 205.5h27M33 212.5h27M33 213.5h27M33 217.5h27M33 230.5h27M33 234.5h27M33 243.5h27M33 264.5h27M33 268.5h27M33 278.5h27M33 282.5h27M33 286.5h27M33 338.5h27M60 100.5h13M60 117.5h13M60 126.5h13M60 138.5h13M60 140.5h13M60 141.5h13M60 142.5h13M60 189.5h13M60 211.5h13M60 233.5h13M60 241.5h13M60 246.5h13M60 255.5h13M60 261.5h13M60 265.5h13M60 290.5h13M60 331.5h13M60 332.5h13M60 337.5h13M60 340.5h13M73 61.5h41M73 66.5h41M73 68.5h41M73 75.5h41M73 81.5h41M73 89.5h41M73 132.5h41M73 133.5h41M73 140.5h41M73 142.5h41M73 148.5h41M73 150.5h41M73 158.5h41M73 174.5h41M73 177.5h41M73 194.5h41M73 195.5h41M73 201.5h41M73 202.5h41M73 205.5h41M73 208.5h41M73 211.5h41M73 214.5h41M73 221.5h41M73 227.5h41M73 229.5h41M73 236.5h41M73 239.5h41M73 240.5h41M73 245.5h41M73 249.5h41M73 250.5h41M73 267.5h41M73 271.5h41M73 272.5h41M73 273.5h41M73 275.5h41M73 278.5h41M73 280.5h41M73 282.5h41M73 288.5h41M73 332.5h41M73 339.5h41M73 342.5h41M114 209.5h34M114 210.5h34M114 215.5h34M114 223.5h34M114 229.5h34M114 230.5h34M114 233.5h34M114 239.5h34M114 240.5h34M114 244.5h34M114 252.5h34M114 332.5h34M114 342.5h34M114 344.5h34M148 191.5h46M148 192.5h46M148 193.5h46M148 203.5h46M148 204.5h46M148 206.5h46M148 222.5h46M148 249.5h46M148 269.5h46M148 270.5h46M148 281.5h46M148 289.5h46M148 332.5h46M148 340.5h46M194 193.5h13M194 199.5h13M194 206.5h13M194 216.5h13M194 239.5h13M194 249.5h13M194 252.5h13M194 255.5h13M194 259.5h13M194 260.5h13M194 261.5h13M194 299.5h13M194 300.5h13M194 315.5h13M207 89.5h26M207 90.5h26M207 94.5h26M207 95.5h26M207 102.5h26M207 103.5h26M207 104.5h26M207 110.5h26M207 116.5h26M207 137.5h26M207 158.5h26M207 193.5h26M207 197.5h26M207 199.5h26M207 208.5h26M207 211.5h26M207 216.5h26M207 220.5h26M207 221.5h26M207 225.5h26M207 231.5h26M207 233.5h26M207 247.5h26M207 249.5h26M207 265.5h26M207 267.5h26M207 283.5h26M207 291.5h26M207 293.5h26M207 330.5h26M207 333.5h26M207 338.5h26M207 341.5h26M207 344.5h26M233 90.5h39M233 104.5h39M233 110.5h39M272 125.5h20M272 134.5h20M272 135.5h20M292 64.5h24M292 84.5h24M292 87.5h24M292 92.5h24M292 94.5h24M292 99.5h24M292 112.5h24M292 124.5h24M292 125.5h24M292 129.5h24M292 130.5h24M292 133.5h24M292 134.5h24M292 136.5h24M292 138.5h24M292 139.5h24M292 141.5h24M292 151.5h24M292 154.5h24M292 194.5h24M292 195.5h24M292 209.5h24M292 215.5h24M292 225.5h24M292 253.5h24M292 255.5h24M292 259.5h24M292 265.5h24M292 266.5h24M292 270.5h24M292 276.5h24M292 280.5h24M292 288.5h24M292 292.5h24M292 293.5h24M292 295.5h24M292 302.5h24M292 303.5h24M292 308.5h24M292 315.5h24M292 328.5h24M292 329.5h24M292 330.5h24M292 332.5h24M292 333.5h24M292 340.5h24M292 345.5h24M292 346.5h24M316 66.5h10M316 70.5h10M316 74.5h10M316 75.5h10M316 84.5h10M316 101.5h10M316 105.5h10M316 110.5h10M316 111.5h10M316 112.5h10M316 117.5h10M316 119.5h10M316 125.5h10M316 128.5h10M316 139.5h10M316 146.5h10M316 151.5h10M316 190.5h10M316 195.5h10M316 199.5h10M316 200.5h10M316 203.5h10M316 212.5h10M316 219.5h10M316 220.5h10M316 259.5h10M316 262.5h10M316 271.5h10M316 312.5h10M316 319.5h10M316 332.5h10M316 335.5h10M316 338.5h10M326 64.5h34M326 69.5h34M326 73.5h34M326 74.5h34M326 84.5h34M326 89.5h34M326 95.5h34M326 96.5h34M326 101.5h34M326 102.5h34M326 108.5h34M326 114.5h34M326 116.5h34M326 117.5h34M326 132.5h34M326 134.5h34M326 135.5h34M326 138.5h34M326 139.5h34M326 144.5h34M326 150.5h34M326 153.5h34M326 158.5h34M326 169.5h34M326 178.5h34M326 181.5h34M326 183.5h34M326 190.5h34M326 191.5h34M326 198.5h34M326 213.5h34M326 231.5h34M326 255.5h34M326 256.5h34M326 259.5h34M326 262.5h34M326 265.5h34M326 276.5h34M326 278.5h34M326 285.5h34M326 286.5h34M326 287.5h34M326 288.5h34M326 289.5h34M326 290.5h34M326 291.5h34M326 293.5h34M326 294.5h34M326 301.5h34M326 303.5h34M326 304.5h34M326 307.5h34M326 315.5h34M326 323.5h34M326 325.5h34M326 327.5h34M326 339.5h34M326 345.5h34M360 66.5h7M360 77.5h7M360 84.5h7M360 103.5h7M360 116.5h7M360 120.5h7M360 125.5h7M360 127.5h7M360 128.5h7M360 136.5h7M367 110.5h10M367 116.5h10M367 117.5h10M367 204.5h10M367 206.5h10M367 221.5h10M367 231.5h10M367 248.5h10M367 250.5h10M367 255.5h10M367 256.5h10M367 262.5h10M367 268.5h10M367 276.5h10M367 278.5h10M367 282.5h10M367 287.5h10M367 289.5h10M367 335.5h10M367 339.5h10M377 107.5h11M377 112.5h11M377 332.5h11M377 338.5h11M377 342.5h11M388 60.5h10M388 61.5h10M388 77.5h10M388 90.5h10M388 94.5h10M388 98.5h10M388 99.5h10M388 100.5h10M388 102.5h10M388 103.5h10M388 106.5h10M388 107.5h10M388 110.5h10M388 112.5h10M388 116.5h10M388 118.5h10M388 132.5h10M388 133.5h10M388 145.5h10M388 196.5h10M388 198.5h10M388 199.5h10M388 203.5h10M388 216.5h10M388 224.5h10M388 237.5h10M388 247.5h10M388 250.5h10M388 255.5h10M388 259.5h10M388 262.5h10M388 264.5h10M388 267.5h10M388 270.5h10M388 275.5h10M388 280.5h10M388 283.5h10M388 286.5h10M388 287.5h10M388 291.5h10M388 293.5h10M388 333.5h10M388 343.5h10M398 81.5h45M398 86.5h45M398 89.5h45M398 90.5h45M398 94.5h45M398 122.5h45M398 128.5h45M398 132.5h45M398 135.5h45M398 137.5h45M398 138.5h45M398 152.5h45M398 154.5h45M398 158.5h45M398 183.5h45M398 189.5h45M398 195.5h45M398 207.5h45M398 208.5h45M398 214.5h45M398 221.5h45M398 222.5h45M398 236.5h45M398 243.5h45M398 245.5h45M398 247.5h45M398 250.5h45M398 251.5h45M398 267.5h45M398 279.5h45M398 280.5h45M398 282.5h45M398 336.5h45"/>
<path stroke="#680d6e" d="M33 107.5h27M33 125.5h27M33 126.5h27M33 132.5h27M33 134.5h27M33 197.5h27M33 210.5h27M33 216.5h27M33 226.5h27M33 236.5h27M33 239.5h27M33 246.5h27M33 249.5h27M33 267.5h27M33 340.5h27M33 343.5h27M60 262.5h13M73 90.5h41M73 122.5h41M73 125.5h41M73 129.5h41M73 130.5h41M73 137.5h41M73 192.5h41M73 200.5h41M73 209.5h41M73 228.5h41M73 233.5h41M73 242.5h41M73 243.5h41M73 266.5h41M73 286.5h41M73 334.5h41M73 335.5h41M73 344.5h41M114 197.5h34M114 224.5h34M114 231.5h34M114 238.5h34M114 247.5h34M148 228.5h46M148 231.5h46M148 247.5h46M148 282.5h46M207 192.5h26M207 194.5h26M207 212.5h26M207 219.5h26M207 222.5h26M207 228.5h26M207 243.5h26M207 251.5h26M207 331.5h26M292 89.5h24M292 93.5h24M292 132.5h24M292 146.5h24M292 189.5h24M292 204.5h24M292 219.5h24M292 221.5h24M292 286.5h24M292 291.5h24M292 318.5h24M292 325.5h24M292 331.5h24M292 338.5h24M316 73.5h10M316 90.5h10M316 95.5h10M316 137.5h10M316 138.5h10M316 192.5h10M316 194.5h10M316 201.5h10M316 208.5h10M316 210.5h10M316 213.5h10M316 217.5h10M316 224.5h10M316 267.5h10M316 288.5h10M316 289.5h10M316 291.5h10M316 333.5h10M316 342.5h10M326 77.5h34M326 90.5h34M326 94.5h34M326 98.5h34M326 110.5h34M326 112.5h34M326 137.5h34M326 151.5h34M326 155.5h34M326 195.5h34M326 199.5h34M326 202.5h34M326 208.5h34M326 211.5h34M326 220.5h34M326 223.5h34M326 267.5h34M326 270.5h34M326 280.5h34M326 282.5h34M326 302.5h34M326 312.5h34M326 324.5h34M326 332.5h34M326 340.5h34M326 341.5h34M326 342.5h34M360 90.5h7M367 192.5h10M367 295.5h10M367 333.5h10M367 334.5h10M367 336.5h10M367 338.5h10M367 340.5h10M367 341.5h10M367 345.5h10M377 333.5h11M377 340.5h11M377 341.5h11M377 345.5h11M388 83.5h10M388 120.5h10M388 134.5h10M388 195.5h10M388 197.5h10M388 220.5h10M388 222.5h10M388 225.5h10M388 231.5h10M388 236.5h10M388 243.5h10M388 244.5h10M388 251.5h10M388 254.5h10M388 281.5h10M388 282.5h10M388 289.5h10M388 331.5h10M388 336.5h10M388 337.5h10M388 338.5h10M388 340.5h10M388 342.5h10M398 95.5h45M398 129.5h45M398 136.5h45M398 139.5h45M398 143.5h45M398 145.5h45M398 200.5h45M398 202.5h45M398 212.5h45M398 215.5h45M398 217.5h45M398 218.5h45M398 223.5h45M398 224.5h45M398 231.5h45M398 232.5h45M398 239.5h45M398 246.5h45M398 281.5h45M398 290.5h45M398 332.5h45M398 337.5h45"/>
<path stroke="#7c1083" d="M33 199.5h27M33 200.5h27M33 203.5h27M33 224.5h27M33 231.5h27M33 237.5h27M33 331.5h27M33 333.5h27M33 336.5h27M73 126.5h41M73 131.5h41M73 134.5h41M73 136.5h41M73 138.5h41M73 147.5h41M73 152.5h41M73 197.5h41M73 198.5h41M73 203.5h41M73 204.5h41M73 207.5h41M73 213.5h41M73 217.5h41M73 218.5h41M73 220.5h41M73 222.5h41M73 224.5h41M73 247.5h41M73 270.5h41M73 284.5h41M73 285.5h41M73 289.5h41M73 336.5h41M73 337.5h41M114 246.5h34M148 286.5h46M207 230.5h26M207 250.5h26M207 337.5h26M292 90.5h24M292 135.5h24M292 137.5h24M292 192.5h24M292 193.5h24M292 199.5h24M292 200.5h24M292 210.5h24M292 212.5h24M292 222.5h24M292 223.5h24M292 262.5h24M292 290.5h24M292 312.5h24M292 324.5h24M292 335.5h24M292 339.5h24M316 189.5h10M316 204.5h10M316 205.5h10M316 222.5h10M316 337.5h10M326 93.5h34M326 127.5h34M326 142.5h34M326 201.5h34M326 203.5h34M326 210.5h34M326 214.5h34M326 224.5h34M326 295.5h34M326 331.5h34M326 336.5h34M326 337.5h34M367 332.5h10M367 337.5h10M377 331.5h11M388 75.5h10M388 200.5h10M388 210.5h10M388 217.5h10M388 246.5h10M388 249.5h10M388 295.5h10M388 332.5h10M398 123.5h45M398 131.5h45M398 134.5h45M398 140.5h45M398 142.5h45M398 193.5h45M398 194.5h45M398 205.5h45M398 216.5h45M398 225.5h45M398 226.5h45M398 286.5h45M398 287.5h45M398 291.5h45M398 331.5h45M398 340.5h45M398 346.5h45"/>
<path stroke="#911398" d="M33 192.5h27M33 206.5h27M33 233.5h27M33 337.5h27M73 146.5h41M73 206.5h41M73 212.5h41M73 225.5h41M73 246.5h41M73 251.5h41M73 283.5h41M73 331.5h41M73 340.5h41M73 341.5h41M207 340.5h26M292 213.5h24M292 287.5h24M292 336.5h24M292 341.5h24M316 216.5h10M316 336.5h10M316 340.5h10M326 147.5h34M326 152.5h34M326 192.5h34M326 194.5h34M326 207.5h34M326 216.5h34M326 217.5h34M326 222.5h34M326 292.5h34M326 334.5h34M326 344.5h34M367 331.5h10M388 192.5h10M388 334.5h10M398 125.5h45M398 146.5h45M398 150.5h45M398 151.5h45M398 199.5h45M398 203.5h45M398 209.5h45M398 210.5h45M398 330.5h45M398 333.5h45M398 334.5h45M398 335.5h45"/>
<path stroke="#a616ad" d="M33 247.5h27M73 127.5h41M73 215.5h41M73 219.5h41M73 223.5h41M73 226.5h41M73 231.5h41M73 330.5h41M73 333.5h41M292 197.5h24M292 220.5h24M292 337.5h24M316 197.5h10M316 206.5h10M326 125.5h34M326 204.5h34M326 212.5h34M326 221.5h34M326 333.5h34M398 127.5h45M398 191.5h45M398 201.5h45M398 204.5h45M398 220.5h45"/>
<path stroke="#bb18c1" d="M73 151.5h41M73 210.5h41M73 216.5h41M73 230.5h41M292 203.5h24M292 207.5h24M292 208.5h24M292 218.5h24M316 221.5h10M316 225.5h10M316 331.5h10M326 136.5h34M326 189.5h34M326 193.5h34M326 205.5h34M326 206.5h34M326 218.5h34M326 225.5h34M398 197.5h45M398 219.5h45"/>
<path stroke="#cf1bd6" d="M292 202.5h24M292 205.5h24M326 197.5h34M326 209.5h34M398 206.5h45"/>
<path stroke="#e41eeb" d="M292 206.5h24M292 216.5h24M292 217.5h24M292 224.5h24M326 200.5h34M326 215.5h34M326 219.5h34M398 192.5h45"/>
<rect x="33" y="60" width="27" height="10" fill="url(#y12)"/>
<rect x="33" y="70" width="27" height="22" fill="url(#y11)"/>
<rect x="33" y="92" width="27" height="13" fill="url(#y8)"/>
<rect x="33" y="105" width="27" height="17" fill="url(#y8)"/>
<rect x="33" y="122" width="27" height="15" fill="url(#y5)"/>
<rect x="33" y="137" width="27" height="18" fill="url(#y7)"/>
<rect x="33" y="155" width="27" height="20" fill="url(#y7)"/>
<rect x="33" y="175" width="27" height="14" fill="url(#y5)"/>
<rect x="33" y="189" width="27" height="61" fill="url(#y4)"/>
<rect x="33" y="250" width="27" height="12" fill="url(#y3)"/>
<rect x="33" y="262" width="27" height="33" fill="url(#y3)"/>
<rect x="33" y="295" width="27" height="35" fill="url(#y6)"/>
<rect x="33" y="330" width="27" height="17" fill="url(#y6)"/>
<rect x="60" y="60" width="13" height="27" fill="url(#y11)"/>
<rect x="60" y="87" width="13" height="13" fill="url(#y10)"/>
<rect x="60" y="100" width="13" height="55" fill="url(#y7)"/>
<rect x="60" y="155" width="13" height="20" fill="url(#y6)"/>
<rect x="60" y="175" width="13" height="14" fill="url(#y4)"/>
<rect x="60" y="189" width="13" height="106" fill="url(#y4)"/>
<rect x="60" y="295" width="13" height="35" fill="url(#y6)"/>
<rect x="60" y="330" width="13" height="17" fill="url(#y5)"/>
<rect x="73" y="60" width="41" height="25" fill="url(#y4)"/>
<rect x="73" y="85" width="41" height="12" fill="url(#y4)"/>
<rect x="73" y="97" width="41" height="8" fill="url(#y7)"/>
<rect x="73" y="105" width="41" height="17" fill="url(#y7)"/>
<rect x="73" y="122" width="41" height="33" fill="url(#y5)"/>
<rect x="73" y="155" width="41" height="34" fill="url(#y5)"/>
<rect x="73" y="189" width="41" height="11" fill="url(#y4)"/>
<rect x="73" y="200" width="41" height="32" fill="url(#y5)"/>
<rect x="73" y="232" width="41" height="20" fill="url(#y5)"/>
<rect x="73" y="252" width="41" height="13" fill="url(#y3)"/>
<rect x="73" y="265" width="41" height="15" fill="url(#y5)"/>
<rect x="73" y="280" width="41" height="10" fill="url(#y4)"/>
<rect x="73" y="290" width="41" height="40" fill="url(#y6)"/>
<rect x="73" y="330" width="41" height="17" fill="url(#y6)"/>
<rect x="114" y="60" width="34" height="32" fill="url(#y7)"/>
<rect x="114" y="92" width="34" height="13" fill="url(#y8)"/>
<rect x="114" y="105" width="34" height="17" fill="url(#y10)"/>
<rect x="114" y="122" width="34" height="33" fill="url(#y12)"/>
<rect x="114" y="155" width="34" height="15" fill="url(#y9)"/>
<rect x="114" y="170" width="34" height="19" fill="url(#y4)"/>
<rect x="114" y="189" width="34" height="33" fill="url(#y7)"/>
<rect x="114" y="222" width="34" height="28" fill="url(#y3)"/>
<rect x="114" y="250" width="34" height="45" fill="url(#y4)"/>
<rect x="114" y="295" width="34" height="15" fill="url(#y8)"/>
<rect x="114" y="310" width="34" height="20" fill="url(#y5)"/>
<rect x="114" y="330" width="34" height="17" fill="url(#y8)"/>
<rect x="148" y="60" width="46" height="20" fill="url(#y8)"/>
<rect x="148" y="80" width="46" height="22" fill="url(#y7)"/>
<rect x="148" y="102" width="46" height="23" fill="url(#y9)"/>
<rect x="148" y="125" width="46" height="12" fill="url(#y8)"/>
<rect x="148" y="137" width="46" height="18" fill="url(#y12)"/>
<rect x="148" y="155" width="46" height="15" fill="url(#y10)"/>
<rect x="148" y="170" width="46" height="19" fill="url(#y3)"/>
<rect x="148" y="189" width="46" height="31" fill="url(#y6)"/>
<rect x="148" y="220" width="46" height="30" fill="url(#y3)"/>
<rect x="148" y="250" width="46" height="15" fill="url(#y5)"/>
<rect x="148" y="265" width="46" height="25" fill="url(#y4)"/>
<rect x="148" y="290" width="46" height="20" fill="url(#y7)"/>
<rect x="148" y="310" width="46" height="20" fill="url(#y5)"/>
<rect x="148" y="330" width="46" height="17" fill="url(#y8)"/>
<rect x="194" y="60" width="13" height="42" fill="url(#y5)"/>
<rect x="194" y="102" width="13" height="53" fill="url(#y10)"/>
<rect x="194" y="155" width="13" height="15" fill="url(#y13)"/>
<rect x="194" y="170" width="13" height="19" fill="url(#y3)"/>
<rect x="194" y="189" width="13" height="141" fill="url(#y4)"/>
<rect x="194" y="330" width="13" height="17" fill="url(#y8)"/>
<rect x="207" y="60" width="26" height="25" fill="url(#y8)"/>
<rect x="207" y="85" width="26" height="70" fill="url(#y6)"/>
<rect x="207" y="155" width="26" height="16" fill="url(#y5)"/>
<rect x="207" y="171" width="26" height="18" fill="url(#y13)"/>
<rect x="207" y="189" width="26" height="63" fill="url(#y6)"/>
<rect x="207" y="252" width="26" height="13" fill="url(#y5)"/>
<rect x="207" y="265" width="26" height="30" fill="url(#y6)"/>
<rect x="207" y="295" width="26" height="35" fill="url(#y6)"/>
<rect x="207" y="330" width="26" height="17" fill="url(#y6)"/>
<rect x="233" y="60" width="39" height="25" fill="url(#y1)"/>
<rect x="233" y="85" width="39" height="17" fill="url(#y5)"/>
<rect x="233" y="102" width="39" height="23" fill="url(#y2)"/>
<rect x="233" y="125" width="39" height="17" fill="url(#y7)"/>
<rect x="233" y="142" width="39" height="13" fill="url(#y3)"/>
<rect x="233" y="155" width="39" height="34" fill="url(#y2)"/>
<rect x="233" y="189" width="39" height="56" fill="url(#y12)"/>
<rect x="233" y="245" width="39" height="50" fill="url(#y10)"/>
<rect x="233" y="295" width="39" height="35" fill="url(#y7)"/>
<rect x="233" y="330" width="39" height="17" fill="url(#y11)"/>
<rect x="272" y="60" width="20" height="25" fill="url(#y2)"/>
<rect x="272" y="85" width="20" height="17" fill="url(#y7)"/>
<rect x="272" y="102" width="20" height="23" fill="url(#y2)"/>
<rect x="272" y="125" width="20" height="17" fill="url(#y6)"/>
<rect x="272" y="142" width="20" height="28" fill="url(#y2)"/>
<rect x="272" y="170" width="20" height="10" fill="url(#y7)"/>
<rect x="272" y="180" width="20" height="9" fill="url(#y2)"/>
<rect x="272" y="189" width="20" height="38" fill="url(#y10)"/>
<rect x="272" y="227" width="20" height="25" fill="url(#y9)"/>
<rect x="272" y="252" width="20" height="43" fill="url(#y8)"/>
<rect x="272" y="295" width="20" height="35" fill="url(#y6)"/>
<rect x="272" y="330" width="20" height="17" fill="url(#y10)"/>
<rect x="292" y="60" width="24" height="27" fill="url(#y3)"/>
<rect x="292" y="87" width="24" height="18" fill="url(#y6)"/>
<rect x="292" y="105" width="24" height="20" fill="url(#y3)"/>
<rect x="292" y="125" width="24" height="30" fill="url(#y6)"/>
<rect x="292" y="155" width="24" height="34" fill="url(#y4)"/>
<rect x="292" y="189" width="24" height="31" fill="url(#y7)"/>
<rect x="292" y="220" width="24" height="6" fill="url(#y7)"/>
<rect x="292" y="226" width="24" height="25" fill="url(#y13)"/>
<rect x="292" y="251" width="24" height="11" fill="url(#y4)"/>
<rect x="292" y="262" width="24" height="25" fill="url(#y11)"/>
<rect x="292" y="287" width="24" height="8" fill="url(#y7)"/>
<rect x="292" y="295" width="24" height="35" fill="url(#y4)"/>
<rect x="292" y="330" width="24" height="17" fill="url(#y7)"/>
<rect x="316" y="60" width="10" height="95" fill="url(#y6)"/>
<rect x="316" y="155" width="10" height="34" fill="url(#y5)"/>
<rect x="316" y="189" width="10" height="31" fill="url(#y9)"/>
<rect x="316" y="220" width="10" height="6" fill="url(#y7)"/>
<rect x="316" y="226" width="10" height="25" fill="url(#y12)"/>
<rect x="316" y="251" width="10" height="11" fill="url(#y7)"/>
<rect x="316" y="262" width="10" height="25" fill="url(#y10)"/>
<rect x="316" y="287" width="10" height="8" fill="url(#y7)"/>
<rect x="316" y="295" width="10" height="35" fill="url(#y4)"/>
<rect x="316" y="330" width="10" height="17" fill="url(#y7)"/>
<rect x="326" y="60" width="34" height="27" fill="url(#y2)"/>
<rect x="326" y="87" width="34" height="18" fill="url(#y4)"/>
<rect x="326" y="105" width="34" height="20" fill="url(#y2)"/>
<rect x="326" y="125" width="34" height="30" fill="url(#y3)"/>
<rect x="326" y="155" width="34" height="34" fill="url(#y3)"/>
<rect x="326" y="189" width="34" height="31" fill="url(#y7)"/>
<rect x="326" y="220" width="34" height="6" fill="url(#y7)"/>
<rect x="326" y="226" width="34" height="25" fill="url(#y13)"/>
<rect x="326" y="251" width="34" height="11" fill="url(#y3)"/>
<rect x="326" y="262" width="34" height="25" fill="url(#y11)"/>
<rect x="326" y="287" width="34" height="8" fill="url(#y6)"/>
<rect x="326" y="295" width="34" height="35" fill="url(#y3)"/>
<rect x="326" y="330" width="34" height="17" fill="url(#y7)"/>
<rect x="360" y="60" width="7" height="95" fill="url(#y3)"/>
<rect x="360" y="155" width="7" height="34" fill="url(#y3)"/>
<rect x="360" y="189" width="7" height="38" fill="url(#y13)"/>
<rect x="360" y="227" width="7" height="22" fill="url(#y10)"/>
<rect x="360" y="249" width="7" height="17" fill="url(#y14)"/>
<rect x="360" y="266" width="7" height="29" fill="url(#y10)"/>
<rect x="360" y="295" width="7" height="35" fill="url(#y5)"/>
<rect x="360" y="330" width="7" height="17" fill="url(#y9)"/>
<rect x="367" y="60" width="10" height="20" fill="url(#y7)"/>
<rect x="367" y="80" width="10" height="10" fill="url(#y10)"/>
<rect x="367" y="90" width="10" height="15" fill="url(#y7)"/>
<rect x="367" y="105" width="10" height="20" fill="url(#y3)"/>
<rect x="367" y="125" width="10" height="20" fill="url(#y11)"/>
<rect x="367" y="145" width="10" height="10" fill="url(#y7)"/>
<rect x="367" y="155" width="10" height="34" fill="url(#y6)"/>
<rect x="367" y="189" width="10" height="107" fill="url(#y5)"/>
<rect x="367" y="296" width="10" height="34" fill="url(#y15)"/>
<rect x="367" y="330" width="10" height="17" fill="url(#y6)"/>
<rect x="377" y="60" width="11" height="20" fill="url(#y7)"/>
<rect x="377" y="80" width="11" height="15" fill="url(#y11)"/>
<rect x="377" y="95" width="11" height="10" fill="url(#y7)"/>
<rect x="377" y="105" width="11" height="20" fill="url(#y5)"/>
<rect x="377" y="125" width="11" height="30" fill="url(#y7)"/>
<rect x="377" y="155" width="11" height="34" fill="url(#y6)"/>
<rect x="377" y="189" width="11" height="107" fill="url(#y4)"/>
<rect x="377" y="296" width="11" height="34" fill="url(#y14)"/>
<rect x="377" y="330" width="11" height="17" fill="url(#y6)"/>
<rect x="388" y="60" width="10" height="45" fill="url(#y6)"/>
<rect x="388" y="105" width="10" height="50" fill="url(#y5)"/>
<rect x="388" y="155" width="10" height="34" fill="url(#y4)"/>
<rect x="388" y="189" width="10" height="107" fill="url(#y3)"/>
<rect x="388" y="296" width="10" height="16" fill="url(#y13)"/>
<rect x="388" y="312" width="10" height="18" fill="url(#y9)"/>
<rect x="388" y="330" width="10" height="17" fill="url(#y6)"/>
<rect x="398" y="60" width="45" height="20" fill="url(#y3)"/>
<rect x="398" y="80" width="45" height="25" fill="url(#y3)"/>
<rect x="398" y="105" width="45" height="17" fill="url(#y2)"/>
<rect x="398" y="122" width="45" height="33" fill="url(#y4)"/>
<rect x="398" y="155" width="45" height="34" fill="url(#y3)"/>
<rect x="398" y="189" width="45" height="38" fill="url(#y5)"/>
<rect x="398" y="227" width="45" height="25" fill="url(#y3)"/>
<rect x="398" y="252" width="45" height="15" fill="url(#y2)"/>
<rect x="398" y="267" width="45" height="13" fill="url(#y2)"/>
<rect x="398" y="280" width="45" height="15" fill="url(#y3)"/>
<rect x="398" y="295" width="45" height="35" fill="url(#y2)"/>
<rect x="398" y="330" width="45" height="17" fill="url(#y6)"/>
<rect x="33" y="73" width="27" height="1" fill="url(#y12)"/>
<rect x="33" y="88" width="27" height="1" fill="url(#y12)"/>
<rect x="33" y="99" width="27" height="1" fill="url(#y9)"/>
<rect x="33" y="111" width="27" height="1" fill="url(#y10)"/>
<rect x="33" y="114" width="27" height="1" fill="url(#y11)"/>
<rect x="33" y="137" width="27" height="1" fill="url(#y9)"/>
<rect x="33" y="142" width="27" height="1" fill="url(#y10)"/>
<rect x="33" y="176" width="27" height="1" fill="url(#y8)"/>
<rect x="33" y="182" width="27" height="1" fill="url(#y6)"/>
<rect x="33" y="187" width="27" height="1" fill="url(#y7)"/>
<rect x="33" y="217" width="27" height="1" fill="url(#y5)"/>
<rect x="33" y="222" width="27" height="1" fill="url(#y5)"/>
<rect x="33" y="232" width="27" height="1" fill="url(#y5)"/>
<rect x="33" y="234" width="27" height="1" fill="url(#y6)"/>
<rect x="33" y="251" width="27" height="1" fill="url(#y4)"/>
<rect x="33" y="265" width="27" height="1" fill="url(#y5)"/>
<rect x="33" y="272" width="27" height="1" fill="url(#y5)"/>
<rect x="33" y="326" width="27" height="1" fill="url(#y8)"/>
<rect x="33" y="331" width="27" height="1" fill="url(#y7)"/>
<rect x="60" y="71" width="13" height="1" fill="url(#y12)"/>
<rect x="60" y="91" width="13" height="1" fill="url(#y11)"/>
<rect x="60" y="103" width="13" height="1" fill="url(#y8)"/>
<rect x="60" y="111" width="13" height="1" fill="url(#y8)"/>
<rect x="60" y="115" width="13" height="1" fill="url(#y8)"/>
<rect x="60" y="116" width="13" height="1" fill="url(#y8)"/>
<rect x="60" y="147" width="13" height="1" fill="url(#y9)"/>
<rect x="60" y="158" width="13" height="1" fill="url(#y9)"/>
<rect x="60" y="177" width="13" height="1" fill="url(#y6)"/>
<rect x="60" y="197" width="13" height="1" fill="url(#y6)"/>
<rect x="60" y="216" width="13" height="1" fill="url(#y5)"/>
<rect x="60" y="227" width="13" height="1" fill="url(#y7)"/>
<rect x="60" y="264" width="13" height="1" fill="url(#y5)"/>
<rect x="60" y="273" width="13" height="1" fill="url(#y6)"/>
<rect x="60" y="281" width="13" height="1" fill="url(#y6)"/>
<rect x="60" y="297" width="13" height="1" fill="url(#y7)"/>
<rect x="60" y="316" width="13" height="1" fill="url(#y9)"/>
<rect x="60" y="341" width="13" height="1" fill="url(#y6)"/>
<rect x="73" y="74" width="41" height="1" fill="url(#y5)"/>
<rect x="73" y="75" width="41" height="1" fill="url(#y5)"/>
<rect x="73" y="106" width="41" height="1" fill="url(#y9)"/>
<rect x="73" y="115" width="41" height="1" fill="url(#y8)"/>
<rect x="73" y="122" width="41" height="1" fill="url(#y6)"/>
<rect x="73" y="144" width="41" height="1" fill="url(#y8)"/>
<rect x="73" y="187" width="41" height="1" fill="url(#y7)"/>
<rect x="73" y="194" width="41" height="1" fill="url(#y7)"/>
<rect x="73" y="207" width="41" height="1" fill="url(#y8)"/>
<rect x="73" y="218" width="41" height="1" fill="url(#y7)"/>
<rect x="73" y="290" width="41" height="1" fill="url(#y7)"/>
<rect x="73" y="311" width="41" height="1" fill="url(#y7)"/>
<rect x="73" y="314" width="41" height="1" fill="url(#y8)"/>
<rect x="73" y="343" width="41" height="1" fill="url(#y8)"/>
<rect x="114" y="67" width="34" height="1" fill="url(#y9)"/>
<rect x="114" y="72" width="34" height="1" fill="url(#y9)"/>
<rect x="114" y="76" width="34" height="1" fill="url(#y8)"/>
<rect x="114" y="85" width="34" height="1" fill="url(#y10)"/>
<rect x="114" y="88" width="34" height="1" fill="url(#y9)"/>
<rect x="114" y="109" width="34" height="1" fill="url(#y12)"/>
<rect x="114" y="138" width="34" height="1" fill="url(#y13)"/>
<rect x="114" y="140" width="34" height="1" fill="url(#y14)"/>
<rect x="114" y="144" width="34" height="1" fill="url(#y14)"/>
<rect x="114" y="163" width="34" height="1" fill="url(#y11)"/>
<rect x="114" y="173" width="34" height="1" fill="url(#y7)"/>
<rect x="114" y="176" width="34" height="1" fill="url(#y7)"/>
<rect x="114" y="207" width="34" height="1" fill="url(#y9)"/>
<rect x="114" y="217" width="34" height="1" fill="url(#y8)"/>
<rect x="114" y="233" width="34" height="1" fill="url(#y4)"/>
<rect x="114" y="241" width="34" height="1" fill="url(#y6)"/>
<rect x="114" y="243" width="34" height="1" fill="url(#y4)"/>
<rect x="114" y="275" width="34" height="1" fill="url(#y7)"/>
<rect x="114" y="300" width="34" height="1" fill="url(#y10)"/>
<rect x="114" y="307" width="34" height="1" fill="url(#y10)"/>
<rect x="114" y="327" width="34" height="1" fill="url(#y6)"/>
<rect x="114" y="338" width="34" height="1" fill="url(#y9)"/>
<rect x="114" y="345" width="34" height="1" fill="url(#y10)"/>
<rect x="148" y="133" width="46" height="1" fill="url(#y11)"/>
<rect x="148" y="134" width="46" height="1" fill="url(#y10)"/>
<rect x="148" y="141" width="46" height="1" fill="url(#y13)"/>
<rect x="148" y="147" width="46" height="1" fill="url(#y14)"/>
<rect x="148" y="149" width="46" height="1" fill="url(#y14)"/>
<rect x="148" y="177" width="46" height="1" fill="url(#y4)"/>
<rect x="148" y="204" width="46" height="1" fill="url(#y9)"/>
<rect x="148" y="261" width="46" height="1" fill="url(#y7)"/>
<rect x="148" y="318" width="46" height="1" fill="url(#y6)"/>
<rect x="194" y="96" width="13" height="1" fill="url(#y7)"/>
<rect x="194" y="97" width="13" height="1" fill="url(#y7)"/>
<rect x="194" y="103" width="13" height="1" fill="url(#y12)"/>
<rect x="194" y="105" width="13" height="1" fill="url(#y13)"/>
<rect x="194" y="121" width="13" height="1" fill="url(#y11)"/>
<rect x="194" y="187" width="13" height="1" fill="url(#y6)"/>
<rect x="194" y="218" width="13" height="1" fill="url(#y6)"/>
<rect x="194" y="228" width="13" height="1" fill="url(#y5)"/>
<rect x="194" y="240" width="13" height="1" fill="url(#y6)"/>
<rect x="194" y="243" width="13" height="1" fill="url(#y6)"/>
<rect x="194" y="250" width="13" height="1" fill="url(#y6)"/>
<rect x="194" y="308" width="13" height="1" fill="url(#y6)"/>
<rect x="194" y="339" width="13" height="1" fill="url(#y9)"/>
<rect x="194" y="346" width="13" height="1" fill="url(#y9)"/>
<rect x="207" y="69" width="26" height="1" fill="url(#y9)"/>
<rect x="207" y="71" width="26" height="1" fill="url(#y10)"/>
<rect x="207" y="95" width="26" height="1" fill="url(#y8)"/>
<rect x="207" y="108" width="26" height="1" fill="url(#y7)"/>
<rect x="207" y="114" width="26" height="1" fill="url(#y9)"/>
<rect x="207" y="158" width="26" height="1" fill="url(#y7)"/>
<rect x="207" y="161" width="26" height="1" fill="url(#y6)"/>
<rect x="207" y="171" width="26" height="1" fill="url(#y14)"/>
<rect x="207" y="183" width="26" height="1" fill="url(#y14)"/>
<rect x="207" y="202" width="26" height="1" fill="url(#y8)"/>
<rect x="207" y="225" width="26" height="1" fill="url(#y7)"/>
<rect x="207" y="226" width="26" height="1" fill="url(#y8)"/>
<rect x="207" y="231" width="26" height="1" fill="url(#y7)"/>
<rect x="207" y="236" width="26" height="1" fill="url(#y8)"/>
<rect x="207" y="334" width="26" height="1" fill="url(#y8)"/>
<rect x="233" y="200" width="39" height="1" fill="url(#y13)"/>
<rect x="233" y="204" width="39" height="1" fill="url(#y13)"/>
<rect x="233" y="205" width="39" height="1" fill="url(#y13)"/>
<rect x="233" y="211" width="39" height="1" fill="url(#y13)"/>
<rect x="233" y="217" width="39" height="1" fill="url(#y14)"/>
<rect x="233" y="247" width="39" height="1" fill="url(#y11)"/>
<rect x="233" y="256" width="39" height="1" fill="url(#y11)"/>
<rect x="233" y="266" width="39" height="1" fill="url(#y11)"/>
<rect x="233" y="299" width="39" height="1" fill="url(#y9)"/>
<rect x="233" y="309" width="39" height="1" fill="url(#y8)"/>
<rect x="233" y="314" width="39" height="1" fill="url(#y8)"/>
<rect x="233" y="318" width="39" height="1" fill="url(#y9)"/>
<rect x="233" y="320" width="39" height="1" fill="url(#y10)"/>
<rect x="233" y="328" width="39" height="1" fill="url(#y8)"/>
<rect x="233" y="332" width="39" height="1" fill="url(#y13)"/>
<rect x="272" y="89" width="20" height="1" fill="url(#y8)"/>
<rect x="272" y="136" width="20" height="1" fill="url(#y7)"/>
<rect x="272" y="174" width="20" height="1" fill="url(#y8)"/>
<rect x="272" y="175" width="20" height="1" fill="url(#y8)"/>
<rect x="272" y="206" width="20" height="1" fill="url(#y11)"/>
<rect x="272" y="209" width="20" height="1" fill="url(#y12)"/>
<rect x="272" y="212" width="20" height="1" fill="url(#y13)"/>
<rect x="272" y="225" width="20" height="1" fill="url(#y11)"/>
<rect x="272" y="245" width="20" height="1" fill="url(#y11)"/>
<rect x="272" y="272" width="20" height="1" fill="url(#y9)"/>
<rect x="272" y="277" width="20" height="1" fill="url(#y11)"/>
<rect x="272" y="286" width="20" height="1" fill="url(#y10)"/>
<rect x="272" y="288" width="20" height="1" fill="url(#y9)"/>
<rect x="272" y="323" width="20" height="1" fill="url(#y7)"/>
<rect x="272" y="340" width="20" height="1" fill="url(#y11)"/>
<rect x="292" y="71" width="24" height="1" fill="url(#y6)"/>
<rect x="292" y="72" width="24" height="1" fill="url(#y6)"/>
<rect x="292" y="122" width="24" height="1" fill="url(#y4)"/>
<rect x="292" y="142" width="24" height="1" fill="url(#y7)"/>
<rect x="292" y="158" width="24" height="1" fill="url(#y5)"/>
<rect x="292" y="167" width="24" height="1" fill="url(#y5)"/>
<rect x="292" y="169" width="24" height="1" fill="url(#y6)"/>
<rect x="292" y="177" width="24" height="1" fill="url(#y5)"/>
<rect x="292" y="180" width="24" height="1" fill="url(#y5)"/>
<rect x="292" y="204" width="24" height="1" fill="url(#y8)"/>
<rect x="292" y="241" width="24" height="1" fill="url(#y14)"/>
<rect x="292" y="250" width="24" height="1" fill="url(#y14)"/>
<rect x="292" y="259" width="24" height="1" fill="url(#y5)"/>
<rect x="292" y="265" width="24" height="1" fill="url(#y12)"/>
<rect x="292" y="293" width="24" height="1" fill="url(#y10)"/>
<rect x="292" y="302" width="24" height="1" fill="url(#y5)"/>
<rect x="292" y="304" width="24" height="1" fill="url(#y6)"/>
<rect x="292" y="308" width="24" height="1" fill="url(#y6)"/>
<rect x="292" y="310" width="24" height="1" fill="url(#y6)"/>
<rect x="292" y="344" width="24" height="1" fill="url(#y8)"/>
<rect x="316" y="72" width="10" height="1" fill="url(#y7)"/>
<rect x="316" y="82" width="10" height="1" fill="url(#y7)"/>
<rect x="316" y="86" width="10" height="1" fill="url(#y7)"/>
<rect x="316" y="93" width="10" height="1" fill="url(#y8)"/>
<rect x="316" y="94" width="10" height="1" fill="url(#y8)"/>
<rect x="316" y="100" width="10" height="1" fill="url(#y9)"/>
<rect x="316" y="101" width="10" height="1" fill="url(#y8)"/>
<rect x="316" y="124" width="10" height="1" fill="url(#y9)"/>
<rect x="316" y="132" width="10" height="1" fill="url(#y9)"/>
<rect x="316" y="164" width="10" height="1" fill="url(#y7)"/>
<rect x="316" y="165" width="10" height="1" fill="url(#y8)"/>
<rect x="316" y="177" width="10" height="1" fill="url(#y7)"/>
<rect x="316" y="216" width="10" height="1" fill="url(#y10)"/>
<rect x="316" y="221" width="10" height="1" fill="url(#y9)"/>
<rect x="316" y="249" width="10" height="1" fill="url(#y13)"/>
<rect x="316" y="250" width="10" height="1" fill="url(#y13)"/>
<rect x="316" y="253" width="10" height="1" fill="url(#y9)"/>
<rect x="316" y="259" width="10" height="1" fill="url(#y8)"/>
<rect x="316" y="260" width="10" height="1" fill="url(#y9)"/>
<rect x="316" y="281" width="10" height="1" fill="url(#y12)"/>
<rect x="316" y="288" width="10" height="1" fill="url(#y9)"/>
<rect x="316" y="299" width="10" height="1" fill="url(#y7)"/>
<rect x="316" y="300" width="10" height="1" fill="url(#y7)"/>
<rect x="316" y="308" width="10" height="1" fill="url(#y5)"/>
<rect x="316" y="315" width="10" height="1" fill="url(#y5)"/>
<rect x="316" y="324" width="10" height="1" fill="url(#y5)"/>
<rect x="316" y="330" width="10" height="1" fill="url(#y10)"/>
<rect x="316" y="334" width="10" height="1" fill="url(#y8)"/>
<rect x="316" y="343" width="10" height="1" fill="url(#y9)"/>
<rect x="326" y="92" width="34" height="1" fill="url(#y5)"/>
<rect x="326" y="102" width="34" height="1" fill="url(#y5)"/>
<rect x="326" y="104" width="34" height="1" fill="url(#y7)"/>
<rect x="326" y="151" width="34" height="1" fill="url(#y4)"/>
<rect x="326" y="200" width="34" height="1" fill="url(#y8)"/>
<rect x="326" y="207" width="34" height="1" fill="url(#y9)"/>
<rect x="326" y="238" width="34" height="1" fill="url(#y14)"/>
<rect x="326" y="247" width="34" height="1" fill="url(#y14)"/>
<rect x="326" y="248" width="34" height="1" fill="url(#y14)"/>
<rect x="326" y="251" width="34" height="1" fill="url(#y4)"/>
<rect x="326" y="253" width="34" height="1" fill="url(#y5)"/>
<rect x="326" y="269" width="34" height="1" fill="url(#y14)"/>
<rect x="326" y="270" width="34" height="1" fill="url(#y13)"/>
<rect x="326" y="288" width="34" height="1" fill="url(#y8)"/>
<rect x="326" y="300" width="34" height="1" fill="url(#y6)"/>
<rect x="326" y="318" width="34" height="1" fill="url(#y4)"/>
<rect x="360" y="126" width="7" height="1" fill="url(#y5)"/>
<rect x="360" y="134" width="7" height="1" fill="url(#y6)"/>
<rect x="360" y="140" width="7" height="1" fill="url(#y4)"/>
<rect x="360" y="142" width="7" height="1" fill="url(#y5)"/>
<rect x="360" y="158" width="7" height="1" fill="url(#y5)"/>
<rect x="360" y="179" width="7" height="1" fill="url(#y6)"/>
<rect x="360" y="188" width="7" height="1" fill="url(#y6)"/>
<rect x="360" y="192" width="7" height="1" fill="url(#y14)"/>
<rect x="360" y="197" width="7" height="1" fill="url(#y14)"/>
<rect x="360" y="198" width="7" height="1" fill="url(#y14)"/>
<rect x="360" y="199" width="7" height="1" fill="url(#y14)"/>
<rect x="360" y="210" width="7" height="1" fill="url(#y14)"/>
<rect x="360" y="215" width="7" height="1" fill="url(#y14)"/>
<rect x="360" y="220" width="7" height="1" fill="url(#y14)"/>
<rect x="360" y="244" width="7" height="1" fill="url(#y12)"/>
<rect x="360" y="314" width="7" height="1" fill="url(#y6)"/>
<rect x="367" y="70" width="10" height="1" fill="url(#y8)"/>
<rect x="367" y="71" width="10" height="1" fill="url(#y9)"/>
<rect x="367" y="101" width="10" height="1" fill="url(#y9)"/>
<rect x="367" y="109" width="10" height="1" fill="url(#y6)"/>
<rect x="367" y="115" width="10" height="1" fill="url(#y5)"/>
<rect x="367" y="126" width="10" height="1" fill="url(#y12)"/>
<rect x="367" y="127" width="10" height="1" fill="url(#y12)"/>
<rect x="367" y="133" width="10" height="1" fill="url(#y14)"/>
<rect x="367" y="135" width="10" height="1" fill="url(#y12)"/>
<rect x="367" y="139" width="10" height="1" fill="url(#y13)"/>
<rect x="367" y="140" width="10" height="1" fill="url(#y12)"/>
<rect x="367" y="149" width="10" height="1" fill="url(#y10)"/>
<rect x="367" y="158" width="10" height="1" fill="url(#y9)"/>
<rect x="367" y="161" width="10" height="1" fill="url(#y7)"/>
<rect x="367" y="181" width="10" height="1" fill="url(#y7)"/>
<rect x="367" y="203" width="10" height="1" fill="url(#y8)"/>
<rect x="367" y="232" width="10" height="1" fill="url(#y7)"/>
<rect x="367" y="243" width="10" height="1" fill="url(#y8)"/>
<rect x="367" y="268" width="10" height="1" fill="url(#y8)"/>
<rect x="367" y="305" width="10" height="1" fill="url(#y14)"/>
<rect x="367" y="317" width="10" height="1" fill="url(#y14)"/>
<rect x="367" y="333" width="10" height="1" fill="url(#y8)"/>
<rect x="367" y="339" width="10" height="1" fill="url(#y7)"/>
<rect x="367" y="346" width="10" height="1" fill="url(#y7)"/>
<rect x="377" y="74" width="11" height="1" fill="url(#y9)"/>
<rect x="377" y="77" width="11" height="1" fill="url(#y9)"/>
<rect x="377" y="78" width="11" height="1" fill="url(#y9)"/>
<rect x="377" y="90" width="11" height="1" fill="url(#y12)"/>
<rect x="377" y="115" width="11" height="1" fill="url(#y6)"/>
<rect x="377" y="131" width="11" height="1" fill="url(#y9)"/>
<rect x="377" y="132" width="11" height="1" fill="url(#y9)"/>
<rect x="377" y="146" width="11" height="1" fill="url(#y10)"/>
<rect x="377" y="153" width="11" height="1" fill="url(#y8)"/>
<rect x="377" y="189" width="11" height="1" fill="url(#y5)"/>
<rect x="377" y="194" width="11" height="1" fill="url(#y5)"/>
<rect x="377" y="204" width="11" height="1" fill="url(#y6)"/>
<rect x="377" y="220" width="11" height="1" fill="url(#y7)"/>
<rect x="377" y="268" width="11" height="1" fill="url(#y5)"/>
<rect x="377" y="292" width="11" height="1" fill="url(#y5)"/>
<rect x="377" y="308" width="11" height="1" fill="url(#y14)"/>
<rect x="377" y="312" width="11" height="1" fill="url(#y14)"/>
<rect x="377" y="328" width="11" height="1" fill="url(#y14)"/>
<rect x="377" y="334" width="11" height="1" fill="url(#y8)"/>
<rect x="377" y="343" width="11" height="1" fill="url(#y7)"/>
<rect x="388" y="70" width="10" height="1" fill="url(#y8)"/>
<rect x="388" y="73" width="10" height="1" fill="url(#y7)"/>
<rect x="388" y="102" width="10" height="1" fill="url(#y7)"/>
<rect x="388" y="124" width="10" height="1" fill="url(#y7)"/>
<rect x="388" y="130" width="10" height="1" fill="url(#y7)"/>
<rect x="388" y="141" width="10" height="1" fill="url(#y6)"/>
<rect x="388" y="150" width="10" height="1" fill="url(#y7)"/>
<rect x="388" y="163" width="10" height="1" fill="url(#y7)"/>
<rect x="388" y="172" width="10" height="1" fill="url(#y6)"/>
<rect x="388" y="189" width="10" height="1" fill="url(#y5)"/>
<rect x="388" y="195" width="10" height="1" fill="url(#y4)"/>
<rect x="388" y="236" width="10" height="1" fill="url(#y5)"/>
<rect x="388" y="329" width="10" height="1" fill="url(#y12)"/>
<rect x="398" y="126" width="45" height="1" fill="url(#y5)"/>
<rect x="398" y="146" width="45" height="1" fill="url(#y6)"/>
<rect x="398" y="154" width="45" height="1" fill="url(#y6)"/>
<rect x="398" y="184" width="45" height="1" fill="url(#y4)"/>
<rect x="398" y="190" width="45" height="1" fill="url(#y7)"/>
<rect x="398" y="202" width="45" height="1" fill="url(#y7)"/>
<rect x="398" y="219" width="45" height="1" fill="url(#y8)"/>
<rect x="398" y="249" width="45" height="1" fill="url(#y4)"/>
<rect x="398" y="332" width="45" height="1" fill="url(#y9)"/>
<rect x="33" y="60" width="410" height="1" fill="#10000f" opacity="0.26"/>
<rect x="33" y="68" width="410" height="1" fill="#10000f" opacity="0.73"/>
<rect x="33" y="71" width="410" height="1" fill="#10000f" opacity="0.78"/>
<rect x="33" y="72" width="410" height="1" fill="#10000f" opacity="0.18"/>
<rect x="33" y="74" width="410" height="1" fill="#10000f" opacity="0.11"/>
<rect x="33" y="77" width="410" height="1" fill="#10000f" opacity="0.11"/>
<rect x="33" y="78" width="410" height="1" fill="#10000f" opacity="0.27"/>
<rect x="33" y="80" width="410" height="1" fill="#10000f" opacity="0.52"/>
<rect x="33" y="82" width="410" height="1" fill="#10000f" opacity="0.10"/>
<rect x="33" y="87" width="410" height="1" fill="#10000f" opacity="0.16"/>
<rect x="33" y="89" width="410" height="1" fill="#10000f" opacity="0.19"/>
<rect x="33" y="90" width="410" height="1" fill="#10000f" opacity="0.15"/>
<rect x="33" y="92" width="410" height="1" fill="#10000f" opacity="0.20"/>
<rect x="33" y="96" width="410" height="1" fill="#10000f" opacity="0.37"/>
<rect x="33" y="97" width="410" height="1" fill="#10000f" opacity="0.17"/>
<rect x="33" y="98" width="410" height="1" fill="#10000f" opacity="0.43"/>
<rect x="33" y="99" width="410" height="1" fill="#10000f" opacity="0.46"/>
<rect x="33" y="101" width="410" height="1" fill="#10000f" opacity="0.23"/>
<rect x="33" y="102" width="410" height="1" fill="#10000f" opacity="0.19"/>
<rect x="33" y="104" width="410" height="1" fill="#10000f" opacity="0.12"/>
<rect x="33" y="105" width="410" height="1" fill="#10000f" opacity="0.23"/>
<rect x="33" y="107" width="410" height="1" fill="#10000f" opacity="0.45"/>
<rect x="33" y="110" width="410" height="1" fill="#10000f" opacity="0.18"/>
<rect x="33" y="111" width="410" height="1" fill="#10000f" opacity="0.22"/>
<rect x="33" y="112" width="410" height="1" fill="#10000f" opacity="0.55"/>
<rect x="33" y="113" width="410" height="1" fill="#10000f" opacity="0.26"/>
<rect x="33" y="115" width="410" height="1" fill="#10000f" opacity="0.27"/>
<rect x="33" y="119" width="410" height="1" fill="#10000f" opacity="0.41"/>
<rect x="33" y="123" width="410" height="1" fill="#10000f" opacity="0.29"/>
<rect x="33" y="124" width="410" height="1" fill="#10000f" opacity="0.42"/>
<rect x="33" y="125" width="410" height="1" fill="#10000f" opacity="0.64"/>
<rect x="33" y="126" width="410" height="1" fill="#10000f" opacity="0.13"/>
<rect x="33" y="129" width="410" height="1" fill="#10000f" opacity="0.27"/>
<rect x="33" y="136" width="410" height="1" fill="#10000f" opacity="0.16"/>
<rect x="33" y="142" width="410" height="1" fill="#10000f" opacity="0.53"/>
<rect x="33" y="145" width="410" height="1" fill="#10000f" opacity="0.27"/>
<rect x="33" y="147" width="410" height="1" fill="#10000f" opacity="0.18"/>
<rect x="33" y="149" width="410" height="1" fill="#10000f" opacity="0.20"/>
<rect x="33" y="150" width="410" height="1" fill="#10000f" opacity="0.24"/>
<rect x="33" y="155" width="410" height="1" fill="#10000f" opacity="0.90"/>
<rect x="33" y="156" width="410" height="1" fill="#10000f" opacity="0.80"/>
<rect x="33" y="159" width="410" height="1" fill="#10000f" opacity="0.42"/>
<rect x="33" y="162" width="410" height="1" fill="#10000f" opacity="0.26"/>
<rect x="33" y="163" width="410" height="1" fill="#10000f" opacity="0.43"/>
<rect x="33" y="164" width="410" height="1" fill="#10000f" opacity="0.50"/>
<rect x="33" y="166" width="410" height="1" fill="#10000f" opacity="0.15"/>
<rect x="33" y="167" width="410" height="1" fill="#10000f" opacity="0.20"/>
<rect x="33" y="168" width="410" height="1" fill="#10000f" opacity="0.21"/>
<rect x="33" y="170" width="410" height="1" fill="#10000f" opacity="0.60"/>
<rect x="33" y="175" width="410" height="1" fill="#10000f" opacity="0.60"/>
<rect x="33" y="176" width="410" height="1" fill="#10000f" opacity="0.80"/>
<rect x="33" y="177" width="410" height="1" fill="#10000f" opacity="0.85"/>
<rect x="33" y="178" width="410" height="1" fill="#10000f" opacity="0.70"/>
<rect x="33" y="180" width="410" height="1" fill="#10000f" opacity="0.20"/>
<rect x="33" y="185" width="410" height="1" fill="#10000f" opacity="0.70"/>
<rect x="33" y="186" width="410" height="1" fill="#10000f" opacity="0.85"/>
<rect x="33" y="187" width="410" height="1" fill="#10000f" opacity="0.85"/>
<rect x="33" y="188" width="410" height="1" fill="#10000f" opacity="0.80"/>
<rect x="33" y="189" width="410" height="1" fill="#10000f" opacity="0.50"/>
<rect x="33" y="190" width="410" height="1" fill="#10000f" opacity="0.41"/>
<rect x="33" y="196" width="410" height="1" fill="#10000f" opacity="0.13"/>
<rect x="33" y="197" width="410" height="1" fill="#10000f" opacity="0.15"/>
<rect x="33" y="200" width="410" height="1" fill="#10000f" opacity="0.20"/>
<rect x="33" y="205" width="410" height="1" fill="#10000f" opacity="0.39"/>
<rect x="33" y="206" width="410" height="1" fill="#10000f" opacity="0.15"/>
<rect x="33" y="210" width="410" height="1" fill="#10000f" opacity="0.42"/>
<rect x="33" y="217" width="410" height="1" fill="#10000f" opacity="0.78"/>
<rect x="33" y="220" width="410" height="1" fill="#10000f" opacity="0.37"/>
<rect x="33" y="221" width="410" height="1" fill="#10000f" opacity="0.18"/>
<rect x="33" y="222" width="410" height="1" fill="#10000f" opacity="0.16"/>
<rect x="33" y="223" width="410" height="1" fill="#10000f" opacity="0.20"/>
<rect x="33" y="225" width="410" height="1" fill="#10000f" opacity="0.26"/>
<rect x="33" y="228" width="410" height="1" fill="#10000f" opacity="0.42"/>
<rect x="33" y="229" width="410" height="1" fill="#10000f" opacity="0.18"/>
<rect x="33" y="240" width="410" height="1" fill="#10000f" opacity="0.38"/>
<rect x="33" y="242" width="410" height="1" fill="#10000f" opacity="0.37"/>
<rect x="33" y="244" width="410" height="1" fill="#10000f" opacity="0.10"/>
<rect x="33" y="246" width="410" height="1" fill="#10000f" opacity="0.49"/>
<rect x="33" y="250" width="410" height="1" fill="#10000f" opacity="0.54"/>
<rect x="33" y="252" width="410" height="1" fill="#10000f" opacity="0.60"/>
<rect x="33" y="253" width="410" height="1" fill="#10000f" opacity="0.50"/>
<rect x="33" y="255" width="410" height="1" fill="#10000f" opacity="0.24"/>
<rect x="33" y="258" width="410" height="1" fill="#10000f" opacity="0.60"/>
<rect x="33" y="259" width="410" height="1" fill="#10000f" opacity="0.50"/>
<rect x="33" y="260" width="410" height="1" fill="#10000f" opacity="0.26"/>
<rect x="33" y="265" width="410" height="1" fill="#10000f" opacity="0.45"/>
<rect x="33" y="269" width="410" height="1" fill="#10000f" opacity="0.15"/>
<rect x="33" y="271" width="410" height="1" fill="#10000f" opacity="0.45"/>
<rect x="33" y="272" width="410" height="1" fill="#10000f" opacity="0.38"/>
<rect x="33" y="273" width="410" height="1" fill="#10000f" opacity="0.19"/>
<rect x="33" y="275" width="410" height="1" fill="#10000f" opacity="0.38"/>
<rect x="33" y="279" width="410" height="1" fill="#10000f" opacity="0.18"/>
<rect x="33" y="280" width="410" height="1" fill="#10000f" opacity="0.10"/>
<rect x="33" y="281" width="410" height="1" fill="#10000f" opacity="0.79"/>
<rect x="33" y="282" width="410" height="1" fill="#10000f" opacity="0.14"/>
<rect x="33" y="283" width="410" height="1" fill="#10000f" opacity="0.14"/>
<rect x="33" y="289" width="410" height="1" fill="#10000f" opacity="0.15"/>
<rect x="33" y="290" width="410" height="1" fill="#10000f" opacity="0.10"/>
<rect x="33" y="293" width="410" height="1" fill="#10000f" opacity="0.51"/>
<rect x="33" y="295" width="410" height="1" fill="#10000f" opacity="0.40"/>
<rect x="33" y="299" width="410" height="1" fill="#10000f" opacity="0.67"/>
<rect x="33" y="303" width="410" height="1" fill="#10000f" opacity="0.30"/>
<rect x="33" y="306" width="410" height="1" fill="#10000f" opacity="0.23"/>
<rect x="33" y="308" width="410" height="1" fill="#10000f" opacity="0.15"/>
<rect x="33" y="315" width="410" height="1" fill="#10000f" opacity="0.47"/>
<rect x="33" y="317" width="410" height="1" fill="#10000f" opacity="0.30"/>
<rect x="33" y="318" width="410" height="1" fill="#10000f" opacity="0.51"/>
<rect x="33" y="323" width="410" height="1" fill="#10000f" opacity="0.20"/>
<rect x="33" y="325" width="410" height="1" fill="#10000f" opacity="0.12"/>
<rect x="33" y="327" width="410" height="1" fill="#10000f" opacity="0.66"/>
<rect x="33" y="336" width="410" height="1" fill="#10000f" opacity="0.29"/>
<rect x="33" y="337" width="410" height="1" fill="#10000f" opacity="0.44"/>
<rect x="33" y="342" width="410" height="1" fill="#10000f" opacity="0.25"/>
<rect x="33" y="343" width="410" height="1" fill="#10000f" opacity="0.44"/>
<rect x="33" y="345" width="410" height="1" fill="#10000f" opacity="0.53"/>
<rect x="59" y="59" width="1" height="288" fill="#f3eef3"/>
<rect x="72" y="59" width="1" height="288" fill="#f3eef3"/>
<rect x="113" y="59" width="1" height="288" fill="#f3eef3"/>
<rect x="147" y="59" width="1" height="288" fill="#f3eef3"/>
<rect x="193" y="59" width="1" height="288" fill="#f3eef3"/>
<rect x="206" y="59" width="1" height="288" fill="#f3eef3"/>
<rect x="232" y="59" width="1" height="288" fill="#f3eef3"/>
<rect x="271" y="59" width="1" height="288" fill="#f3eef3"/>
<rect x="291" y="59" width="1" height="288" fill="#f3eef3"/>
<rect x="315" y="59" width="1" height="288" fill="#f3eef3"/>
<rect x="325" y="59" width="1" height="288" fill="#f3eef3"/>
<rect x="359" y="59" width="1" height="288" fill="#f3eef3"/>
<rect x="366" y="59" width="1" height="288" fill="#f3eef3"/>
<rect x="376" y="59" width="1" height="288" fill="#f3eef3"/>
<rect x="387" y="59" width="1" height="288" fill="#f3eef3"/>
<rect x="397" y="59" width="1" height="288" fill="#f3eef3"/>
</g></g>
<path d="M458.2 53.8V71.1M446.4 62.3H458.2" fill="none" stroke="#222" stroke-width="1"/>
<text x="463" y="54.8" font-size="7.6" font-style="italic">Hlf</text>
<text x="463" y="63.3" font-size="7.6" font-style="italic">Ctla2a</text>
<text x="463" y="70.7" font-size="7.6" font-style="italic">Ifitm1</text>
<path d="M458.2 73.7V90.7M446.4 82.0H458.2" fill="none" stroke="#222" stroke-width="1"/>
<text x="463" y="79" font-size="7.6" font-style="italic">Ctla2a</text>
<text x="463" y="86.8" font-size="7.6" font-style="italic">Nrgn</text>
<text x="463" y="94.6" font-size="7.6" font-style="italic">Otos</text>
<path d="M458.2 100.9V118.2M446.4 109.5H458.2" fill="none" stroke="#222" stroke-width="1"/>
<text x="463" y="104.6" font-size="7.6" font-style="italic">Mpo</text>
<text x="463" y="112.7" font-size="7.6" font-style="italic">Atp8b4</text>
<text x="463" y="120.6" font-size="7.6" font-style="italic">Ctsg</text>
<path d="M458.2 125.3V142.9M446.4 134.3H458.2" fill="none" stroke="#222" stroke-width="1"/>
<text x="463" y="129.9" font-size="7.6" font-style="italic">Prtn3</text>
<text x="463" y="137.5" font-size="7.6" font-style="italic">Ctsg</text>
<text x="463" y="145.1" font-size="7.6" font-style="italic">Elane</text>
<path d="M458.2 166.4V183.7M446.4 175.1H458.2" fill="none" stroke="#222" stroke-width="1"/>
<text x="463" y="169.7" font-size="7.6" font-style="italic">Apoe</text>
<text x="463" y="177.8" font-size="7.6" font-style="italic">Gata2</text>
<text x="463" y="185.6" font-size="7.6" font-style="italic">Csrp3</text>
<path d="M458.2 199.3V226.6M446.4 211.8H458.2" fill="none" stroke="#222" stroke-width="1"/>
<text x="463" y="199.8" font-size="7.6" font-style="italic">Car1</text>
<text x="463" y="206.9" font-size="7.6" font-style="italic">Mt1</text>
<text x="463" y="213.6" font-size="7.6" font-style="italic">Blvrb</text>
<text x="463" y="220.2" font-size="7.6" font-style="italic">Klf1</text>
<text x="463" y="227.1" font-size="7.6" font-style="italic">Gata1</text>
<path d="M458.2 233.0V281.7M446.4 250.3H458.2" fill="none" stroke="#222" stroke-width="1"/>
<text x="463" y="235.7" font-size="7.6" font-style="italic">Hectd1</text>
<text x="463" y="243" font-size="7.6" font-style="italic">Tfrc</text>
<text x="463" y="251" font-size="7.6" font-style="italic">Aqp1</text>
<text x="463" y="258.7" font-size="7.6" font-style="italic">Steap3</text>
<text x="463" y="266" font-size="7.6" font-style="italic">Bex4</text>
<text x="463" y="273.8" font-size="7.6" font-style="italic">Cela1</text>
<text x="463" y="281.2" font-size="7.6" font-style="italic">Syngr1</text>
<path d="M458.2 301.4V329.2M446.4 314.4H458.2" fill="none" stroke="#222" stroke-width="1"/>
<text x="463" y="301.7" font-size="7.6" font-style="italic">Pbx1</text>
<text x="463" y="309.3" font-size="7.6" font-style="italic">Cd9</text>
<text x="463" y="316.7" font-size="7.6" font-style="italic">Pf4</text>
<text x="463" y="324.2" font-size="7.6" font-style="italic">Itga2b</text>
<text x="463" y="331.8" font-size="7.6" font-style="italic">Vwf</text>
<path d="M51.5 368.3V459.6H230.3" fill="none" stroke="#111" stroke-width="1.4"/>
<path d="M48 376.8H51M48 391.6H51M48 406.4H51M48 421.2H51M48 436.1H51M48 451.0H51M59.65 460V462.7M69.99 460V462.7M80.33 460V462.7M90.67 460V462.7M101.01 460V462.7M111.35 460V462.7M121.69 460V462.7M132.03 460V462.7M142.37 460V462.7M152.71 460V462.7M163.05 460V462.7M173.39 460V462.7M183.73 460V462.7M194.07 460V462.7M204.41 460V462.7M214.75 460V462.7M225.09 460V462.7" stroke="#1a1a1a" stroke-width="1.05"/>
<text x="45" y="379.7" font-size="8.4" text-anchor="end" font-style="italic">Itga2b</text>
<text x="45" y="394.5" font-size="8.4" text-anchor="end" font-style="italic">Tfrc</text>
<text x="45" y="409.3" font-size="8.4" text-anchor="end" font-style="italic">Fcgr2b</text>
<text x="45" y="424.1" font-size="8.4" text-anchor="end" font-style="italic">Fcgr3</text>
<text x="45" y="439" font-size="8.4" text-anchor="end" font-style="italic">Cd34</text>
<text x="45" y="453.9" font-size="8.4" text-anchor="end" font-style="italic">Ptprc</text>
<text x="59.65" y="366.4" font-size="7.9" text-anchor="middle">1</text>
<text x="62.35" y="466.5" font-size="7.5" text-anchor="end" transform="rotate(-90 62.35 466.5)">HSC-1</text>
<text x="69.99" y="366.4" font-size="7.9" text-anchor="middle">2</text>
<text x="72.69" y="466.5" font-size="7.5" text-anchor="end" transform="rotate(-90 72.69 466.5)">HSC-2</text>
<text x="80.33" y="366.4" font-size="7.9" text-anchor="middle">3</text>
<text x="83.03" y="466.5" font-size="7.5" text-anchor="end" transform="rotate(-90 83.03 466.5)">Pre-GMP</text>
<text x="90.67" y="366.4" font-size="7.9" text-anchor="middle">4</text>
<text x="93.37" y="466.5" font-size="7.5" text-anchor="end" transform="rotate(-90 93.37 466.5)">GMP-1</text>
<text x="101.01" y="366.4" font-size="7.9" text-anchor="middle">5</text>
<text x="103.71" y="466.5" font-size="7.5" text-anchor="end" transform="rotate(-90 103.71 466.5)">GMP-2</text>
<text x="111.35" y="366.4" font-size="7.9" text-anchor="middle">6</text>
<text x="114.05" y="466.5" font-size="7.5" text-anchor="end" transform="rotate(-90 114.05 466.5)">GMP-3</text>
<text x="121.69" y="366.4" font-size="7.9" text-anchor="middle">7</text>
<text x="124.39" y="466.5" font-size="7.5" text-anchor="end" transform="rotate(-90 124.39 466.5)">MkE-P</text>
<text x="132.03" y="366.4" font-size="7.9" text-anchor="middle">8</text>
<text x="134.73" y="466.5" font-size="7.5" text-anchor="end" transform="rotate(-90 134.73 466.5)">EryP-1</text>
<text x="142.37" y="366.4" font-size="7.9" text-anchor="middle">9</text>
<text x="145.07" y="466.5" font-size="7.5" text-anchor="end" transform="rotate(-90 145.07 466.5)">EryP-2</text>
<text x="152.71" y="366.4" font-size="7.9" text-anchor="middle">10</text>
<text x="155.41" y="466.5" font-size="7.5" text-anchor="end" transform="rotate(-90 155.41 466.5)">EryB-1</text>
<text x="163.05" y="366.4" font-size="7.9" text-anchor="middle">11</text>
<text x="165.75" y="466.5" font-size="7.5" text-anchor="end" transform="rotate(-90 165.75 466.5)">EryB-2</text>
<text x="173.39" y="366.4" font-size="7.9" text-anchor="middle">12</text>
<text x="176.09" y="466.5" font-size="7.5" text-anchor="end" transform="rotate(-90 176.09 466.5)">Leukemia_1</text>
<text x="183.73" y="366.4" font-size="7.9" text-anchor="middle">13</text>
<text x="186.43" y="466.5" font-size="7.5" text-anchor="end" transform="rotate(-90 186.43 466.5)">Leukemia_2</text>
<text x="194.07" y="366.4" font-size="7.9" text-anchor="middle">14</text>
<text x="196.77" y="466.5" font-size="7.5" text-anchor="end" transform="rotate(-90 196.77 466.5)">MkP-1</text>
<text x="204.41" y="366.4" font-size="7.9" text-anchor="middle">15</text>
<text x="207.11" y="466.5" font-size="7.5" text-anchor="end" transform="rotate(-90 207.11 466.5)">MkP-2</text>
<text x="214.75" y="366.4" font-size="7.9" text-anchor="middle">16</text>
<text x="217.45" y="466.5" font-size="7.5" text-anchor="end" transform="rotate(-90 217.45 466.5)">MkB</text>
<text x="225.09" y="366.4" font-size="7.9" text-anchor="middle">17</text>
<text x="227.79" y="466.5" font-size="7.5" text-anchor="end" transform="rotate(-90 227.79 466.5)">B-cell-P</text>
<circle cx="59.65" cy="376.8" r="1.7" fill="#f5b5a5"/>
<circle cx="69.99" cy="376.8" r="3.6" fill="#f2ac9a"/>
<circle cx="80.33" cy="376.8" r="1.2" fill="#f08070"/>
<circle cx="90.67" cy="376.8" r="2.1" fill="#f5c0b0"/>
<circle cx="101.01" cy="376.8" r="1.7" fill="#f5c0b0"/>
<circle cx="111.35" cy="376.8" r="1.4" fill="#f5c0b0"/>
<circle cx="121.69" cy="376.8" r="2.9" fill="#f0a090"/>
<circle cx="132.03" cy="376.8" r="1.0" fill="#f5c0b0"/>
<circle cx="142.37" cy="376.8" r="1.2" fill="#f5b8a8"/>
<circle cx="152.71" cy="376.8" r="0.9" fill="#f5b0a0"/>
<circle cx="163.05" cy="376.8" r="0.7" fill="#f8c9bb"/>
<circle cx="173.39" cy="376.8" r="0.7" fill="#f8c9bb"/>
<circle cx="183.73" cy="376.8" r="0.7" fill="#f8c9bb"/>
<circle cx="194.07" cy="376.8" r="4.8" fill="#f08a6a"/>
<circle cx="204.41" cy="376.8" r="5.2" fill="#f26a45"/>
<circle cx="214.75" cy="376.8" r="4.0" fill="#ff1010"/>
<circle cx="225.09" cy="376.8" r="1.0" fill="#f07060"/>
<circle cx="59.65" cy="391.6" r="1.9" fill="#fadcd5"/>
<circle cx="69.99" cy="391.6" r="2.6" fill="#fad5cc"/>
<circle cx="80.33" cy="391.6" r="2.2" fill="#f08a70"/>
<circle cx="90.67" cy="391.6" r="4.0" fill="#fad5cc"/>
<circle cx="101.01" cy="391.6" r="3.5" fill="#fad0c5"/>
<circle cx="111.35" cy="391.6" r="4.3" fill="#f8d0c5"/>
<circle cx="121.69" cy="391.6" r="2.4" fill="#fad0c5"/>
<circle cx="132.03" cy="391.6" r="5.6" fill="#ef8a6f"/>
<circle cx="142.37" cy="391.6" r="5.2" fill="#f3a590"/>
<circle cx="152.71" cy="391.6" r="4.0" fill="#f45530"/>
<circle cx="163.05" cy="391.6" r="4.0" fill="#f08060"/>
<circle cx="173.39" cy="391.6" r="4.7" fill="#ff0000"/>
<circle cx="183.73" cy="391.6" r="5.4" fill="#f08868"/>
<circle cx="194.07" cy="391.6" r="3.5" fill="#f8cfc0"/>
<circle cx="204.41" cy="391.6" r="2.4" fill="#fad8cc"/>
<circle cx="214.75" cy="391.6" r="1.5" fill="#f5b0a0"/>
<circle cx="225.09" cy="391.6" r="1.0" fill="#f5a090"/>
<circle cx="59.65" cy="406.4" r="0.7" fill="#f5b0a0"/>
<circle cx="69.99" cy="406.4" r="0.9" fill="#f5b0a0"/>
<circle cx="80.33" cy="406.4" r="0.9" fill="#ff0000"/>
<circle cx="90.67" cy="406.4" r="2.6" fill="#f06040"/>
<circle cx="101.01" cy="406.4" r="2.2" fill="#f54020"/>
<circle cx="111.35" cy="406.4" r="3.1" fill="#ff1010"/>
<circle cx="121.69" cy="406.4" r="1.2" fill="#f07060"/>
<circle cx="132.03" cy="406.4" r="0.5" fill="#f8c9bb"/>
<circle cx="142.37" cy="406.4" r="0.6" fill="#f8c9bb"/>
<circle cx="152.71" cy="406.4" r="0.6" fill="#f8c9bb"/>
<circle cx="163.05" cy="406.4" r="0.8" fill="#f08070"/>
<circle cx="173.39" cy="406.4" r="0.6" fill="#f8c9bb"/>
<circle cx="183.73" cy="406.4" r="0.6" fill="#f8c9bb"/>
<circle cx="194.07" cy="406.4" r="0.9" fill="#f09080"/>
<circle cx="204.41" cy="406.4" r="0.9" fill="#f09080"/>
<circle cx="214.75" cy="406.4" r="1.0" fill="#f06050"/>
<circle cx="225.09" cy="406.4" r="0.6" fill="#f8c9bb"/>
<circle cx="59.65" cy="421.2" r="0.7" fill="#f5b0a0"/>
<circle cx="69.99" cy="421.2" r="0.9" fill="#f8c9bb"/>
<circle cx="80.33" cy="421.2" r="0.9" fill="#f06050"/>
<circle cx="90.67" cy="421.2" r="2.6" fill="#f08060"/>
<circle cx="101.01" cy="421.2" r="2.2" fill="#f07050"/>
<circle cx="111.35" cy="421.2" r="5.0" fill="#ff0000"/>
<circle cx="121.69" cy="421.2" r="1.6" fill="#f06040"/>
<circle cx="132.03" cy="421.2" r="0.7" fill="#f8c9bb"/>
<circle cx="142.37" cy="421.2" r="0.7" fill="#f5a090"/>
<circle cx="152.71" cy="421.2" r="0.7" fill="#f5a090"/>
<circle cx="163.05" cy="421.2" r="0.8" fill="#f5a090"/>
<circle cx="173.39" cy="421.2" r="0.7" fill="#f5a090"/>
<circle cx="183.73" cy="421.2" r="0.7" fill="#f5a090"/>
<circle cx="194.07" cy="421.2" r="0.7" fill="#f5a090"/>
<circle cx="204.41" cy="421.2" r="0.7" fill="#f5a090"/>
<circle cx="214.75" cy="421.2" r="0.8" fill="#f08070"/>
<circle cx="225.09" cy="421.2" r="0.6" fill="#f8c9bb"/>
<circle cx="59.65" cy="436.1" r="5.0" fill="#ff2a0a"/>
<circle cx="69.99" cy="436.1" r="5.2" fill="#f56840"/>
<circle cx="80.33" cy="436.1" r="2.2" fill="#ff3010"/>
<circle cx="90.67" cy="436.1" r="5.2" fill="#f47550"/>
<circle cx="101.01" cy="436.1" r="5.4" fill="#f47050"/>
<circle cx="111.35" cy="436.1" r="3.8" fill="#f8c8b8"/>
<circle cx="121.69" cy="436.1" r="2.2" fill="#f8c0b0"/>
<circle cx="132.03" cy="436.1" r="0.9" fill="#fbe0d8"/>
<circle cx="142.37" cy="436.1" r="0.8" fill="#fbe0d8"/>
<circle cx="152.71" cy="436.1" r="0.8" fill="#f8c9bb"/>
<circle cx="163.05" cy="436.1" r="1.3" fill="#f5a595"/>
<circle cx="173.39" cy="436.1" r="0.6" fill="#f8c9bb"/>
<circle cx="183.73" cy="436.1" r="0.5" fill="#f8c9bb"/>
<circle cx="194.07" cy="436.1" r="2.6" fill="#f8c0b0"/>
<circle cx="204.41" cy="436.1" r="1.9" fill="#f8c0b0"/>
<circle cx="214.75" cy="436.1" r="1.8" fill="#f06545"/>
<circle cx="225.09" cy="436.1" r="0.8" fill="#f5b0a0"/>
<circle cx="59.65" cy="451.0" r="4.2" fill="#f36a45"/>
<circle cx="69.99" cy="451.0" r="4.2" fill="#f5a58a"/>
<circle cx="80.33" cy="451.0" r="2.6" fill="#ff0a10"/>
<circle cx="90.67" cy="451.0" r="4.7" fill="#f6b8a5"/>
<circle cx="101.01" cy="451.0" r="4.2" fill="#f5a890"/>
<circle cx="111.35" cy="451.0" r="3.8" fill="#f8cfc0"/>
<circle cx="121.69" cy="451.0" r="3.3" fill="#f07858"/>
<circle cx="132.03" cy="451.0" r="2.8" fill="#fce5dd"/>
<circle cx="142.37" cy="451.0" r="2.9" fill="#fad5cb"/>
<circle cx="152.71" cy="451.0" r="1.4" fill="#f08a78"/>
<circle cx="163.05" cy="451.0" r="0.7" fill="#f8c9bb"/>
<circle cx="173.39" cy="451.0" r="0.6" fill="#f8c9bb"/>
<circle cx="183.73" cy="451.0" r="0.5" fill="#f8c9bb"/>
<circle cx="194.07" cy="451.0" r="3.8" fill="#f5b5a5"/>
<circle cx="204.41" cy="451.0" r="2.9" fill="#f5b0a0"/>
<circle cx="214.75" cy="451.0" r="2.6" fill="#ff2a10"/>
<circle cx="225.09" cy="451.0" r="1.1" fill="#f07060"/>
<text x="241" y="380.4" font-size="8.4" textLength="65.3" lengthAdjust="spacingAndGlyphs">Percent expressed</text>
<circle cx="243.2" cy="387" r="1.4" fill="#000"/>
<text x="250.5" y="389.9" font-size="8">25</text>
<circle cx="243.2" cy="395.7" r="2.3" fill="#000"/>
<text x="250.5" y="398.6" font-size="8">50</text>
<circle cx="243.2" cy="404" r="3.2" fill="#000"/>
<text x="250.5" y="406.9" font-size="8">75</text>
<text x="241" y="424" font-size="8.4" textLength="69.9" lengthAdjust="spacingAndGlyphs">Average expression</text>
<defs><linearGradient id="ae" x1="0" y1="0" x2="0" y2="1"><stop offset="0" stop-color="#ff1a10"/><stop offset="0.35" stop-color="#f6684a"/><stop offset="0.7" stop-color="#f8c0b0"/><stop offset="1" stop-color="#ffffff"/></linearGradient></defs>
<rect x="238.5" y="427.7" width="8.3" height="41.5" fill="url(#ae)"/>
<text x="250.5" y="436" font-size="7.7">2</text>
<path d="M238.5 433.2h1.6M245.2 433.2h1.6" stroke="#fff" stroke-width=".5"/>
<text x="250.5" y="448.2" font-size="7.7">1</text>
<path d="M238.5 445.4h1.6M245.2 445.4h1.6" stroke="#fff" stroke-width=".5"/>
<text x="250.5" y="460.3" font-size="7.7">0</text>
<path d="M238.5 457.5h1.6M245.2 457.5h1.6" stroke="#fff" stroke-width=".5"/>
<text x="250.5" y="471.4" font-size="7.7">−1</text>
<path d="M238.5 468.6h1.6M245.2 468.6h1.6" stroke="#fff" stroke-width=".5"/>
<g transform="translate(55 540) scale(0.5)" fill="none" stroke-width="1.5">
<path stroke="#8fd5c9" d="M270 108.5h2M262 109.5h11M262 110.5h10M262 111.5h10M263 112.5h15M263 113.5h15M263 114.5h9M274 114.5h5M264 115.5h8M274 115.5h6M266 116.5h14M266 117.5h14M267 118.5h12M269 119.5h3M274 119.5h2M278 119.5h1M92 173.5h1M64 174.5h1M92 174.5h2M96 174.5h2M58 175.5h2M64 175.5h2M68 175.5h1M70 175.5h1M74 175.5h1M88 175.5h2M92 175.5h6M100 175.5h2M53 176.5h3M57 176.5h9M68 176.5h2M84 176.5h2M90 176.5h4M96 176.5h2M100 176.5h3M52 177.5h15M68 177.5h2M84 177.5h2M87 177.5h1M90 177.5h4M96 177.5h8M53 178.5h16M70 178.5h4M78 178.5h2M82 178.5h4M88 178.5h2M92 178.5h14M52 179.5h9M62 179.5h8M71 179.5h9M83 179.5h3M88 179.5h2M92 179.5h14M50 180.5h24M76 180.5h10M87 180.5h3M91 180.5h14M106 180.5h2M50 181.5h24M76 181.5h14M92 181.5h13M106 181.5h2M45 182.5h1M47 182.5h3M52 182.5h56M45 183.5h5M51 183.5h38M90 183.5h2M94 183.5h14M46 184.5h46M94 184.5h14M46 185.5h46M95 185.5h13M45 186.5h3M49 186.5h45M98 186.5h9M108 186.5h2M45 187.5h47M98 187.5h2M101 187.5h6M108 187.5h2M44 188.5h38M84 188.5h5M90 188.5h2M102 188.5h6M44 189.5h38M84 189.5h4M95 189.5h1M102 189.5h2M106 189.5h1M43 190.5h1M47 190.5h39M88 190.5h2M99 190.5h1M102 190.5h2M43 191.5h1M47 191.5h38M102 191.5h2M43 192.5h1M46 192.5h39M43 193.5h1M46 193.5h37M46 194.5h36M46 195.5h3M51 195.5h31M46 196.5h36M46 197.5h36M46 198.5h34M82 198.5h1M46 199.5h34M46 200.5h34M82 200.5h2M46 201.5h34M82 201.5h2M45 202.5h1M48 202.5h33M48 203.5h33M46 204.5h2M52 204.5h29M46 205.5h2M52 205.5h29M50 206.5h30M50 207.5h30M51 208.5h3M55 208.5h26M52 209.5h2M56 209.5h23M54 210.5h26M55 211.5h25M55 212.5h5M62 212.5h18M55 213.5h5M61 213.5h16M78 213.5h2M56 214.5h23M56 215.5h19M76 215.5h1M55 216.5h1M59 216.5h18M60 217.5h17M57 218.5h1M60 218.5h18M60 219.5h18M59 220.5h7M68 220.5h6M76 220.5h2M61 221.5h1M63 221.5h3M68 221.5h6M76 221.5h1M64 222.5h9M65 223.5h1M67 223.5h6M67 224.5h7M68 225.5h6M68 226.5h6M69 227.5h5"/>
<path stroke="#e9951c" d="M180 164.5h2M172 165.5h2M176 165.5h2M180 165.5h3M172 166.5h2M186 166.5h1M188 166.5h4M170 167.5h4M176 167.5h2M186 167.5h6M160 168.5h8M170 168.5h4M175 168.5h1M177 168.5h5M184 168.5h2M188 168.5h2M192 168.5h1M159 169.5h9M170 169.5h13M184 169.5h6M192 169.5h2M160 170.5h14M175 170.5h17M159 171.5h25M187 171.5h5M156 172.5h4M161 172.5h31M152 173.5h2M156 173.5h37M196 173.5h1M154 174.5h43M152 175.5h46M146 176.5h50M140 177.5h2M146 177.5h50M141 178.5h3M146 178.5h56M130 179.5h2M134 179.5h2M140 179.5h4M145 179.5h57M127 180.5h3M134 180.5h3M140 180.5h60M202 180.5h2M126 181.5h4M131 181.5h1M134 181.5h4M140 181.5h40M181 181.5h23M206 181.5h1M128 182.5h8M138 182.5h68M128 183.5h8M138 183.5h68M208 183.5h1M129 184.5h79M128 185.5h80M122 186.5h2M125 186.5h85M122 187.5h2M125 187.5h69M197 187.5h13M122 188.5h2M126 188.5h66M193 188.5h19M122 189.5h2M126 189.5h66M194 189.5h17M127 190.5h1M129 190.5h1M132 190.5h60M194 190.5h14M132 191.5h44M177 191.5h12M194 191.5h13M128 192.5h20M150 192.5h36M190 192.5h18M128 193.5h1M130 193.5h2M134 193.5h14M150 193.5h36M190 193.5h2M193 193.5h15M210 193.5h1M134 194.5h4M141 194.5h1M144 194.5h43M190 194.5h2M194 194.5h6M202 194.5h8M134 195.5h4M144 195.5h39M184 195.5h2M194 195.5h4M202 195.5h8M138 196.5h6M145 196.5h1M150 196.5h12M164 196.5h8M174 196.5h3M178 196.5h8M193 196.5h1M196 196.5h6M204 196.5h8M214 196.5h1M138 197.5h6M151 197.5h1M153 197.5h9M166 197.5h6M174 197.5h2M178 197.5h7M204 197.5h8M146 198.5h2M152 198.5h20M174 198.5h2M178 198.5h1M200 198.5h2M206 198.5h4M146 199.5h2M153 199.5h5M160 199.5h6M170 199.5h2M206 199.5h4M143 200.5h1M158 200.5h4M158 201.5h4M154 202.5h2M162 202.5h2"/>
<path stroke="#c3b4de" d="M57 83.5h3M64 83.5h2M56 84.5h2M60 84.5h2M66 84.5h1M68 84.5h4M56 85.5h8M66 85.5h7M54 86.5h16M54 87.5h16M74 87.5h1M52 88.5h22M52 89.5h22M48 90.5h2M52 90.5h22M48 91.5h2M52 91.5h23M50 92.5h16M67 92.5h7M50 93.5h24M48 94.5h28M48 95.5h29M47 96.5h30M47 97.5h31M49 98.5h26M50 99.5h26M46 100.5h31M46 101.5h2M49 101.5h28M52 102.5h26M53 103.5h25M52 104.5h6M59 104.5h1M62 104.5h16M55 105.5h3M64 105.5h14M58 106.5h2M61 106.5h14M58 107.5h2M62 107.5h2M65 107.5h6M72 107.5h2M64 108.5h8M74 108.5h1M64 109.5h2M67 109.5h5M65 110.5h1M67 110.5h1"/>
<path stroke="#fa8072" d="M84 69.5h6M162 69.5h2M80 70.5h2M88 70.5h2M148 70.5h2M151 70.5h1M160 70.5h9M170 70.5h2M174 70.5h2M180 70.5h4M80 71.5h4M88 71.5h2M147 71.5h9M160 71.5h12M174 71.5h4M180 71.5h4M76 72.5h2M82 72.5h2M86 72.5h2M140 72.5h4M147 72.5h9M158 72.5h14M182 72.5h4M76 73.5h2M82 73.5h2M86 73.5h2M136 73.5h2M140 73.5h32M176 73.5h2M182 73.5h4M78 74.5h6M86 74.5h8M96 74.5h4M134 74.5h2M137 74.5h5M143 74.5h33M178 74.5h2M182 74.5h2M188 74.5h1M78 75.5h6M86 75.5h14M134 75.5h43M178 75.5h6M186 75.5h1M188 75.5h2M78 76.5h17M132 76.5h35M168 76.5h18M188 76.5h3M78 77.5h18M132 77.5h35M168 77.5h18M188 77.5h4M76 78.5h24M102 78.5h1M127 78.5h1M132 78.5h2M136 78.5h56M194 78.5h2M76 79.5h25M102 79.5h2M127 79.5h1M131 79.5h3M136 79.5h57M194 79.5h2M77 80.5h23M102 80.5h3M106 80.5h1M130 80.5h64M77 81.5h24M102 81.5h6M130 81.5h65M75 82.5h1M77 82.5h28M130 82.5h10M142 82.5h55M75 83.5h1M77 83.5h29M130 83.5h10M142 83.5h56M74 84.5h36M129 84.5h1M131 84.5h66M74 85.5h36M129 85.5h1M131 85.5h66M76 86.5h33M110 86.5h1M130 86.5h68M76 87.5h33M110 87.5h1M130 87.5h2M133 87.5h65M75 88.5h37M132 88.5h13M146 88.5h54M75 89.5h37M132 89.5h6M140 89.5h60M75 90.5h35M140 90.5h4M146 90.5h54M75 91.5h35M140 91.5h4M146 91.5h2M149 91.5h51M202 91.5h1M74 92.5h34M142 92.5h2M152 92.5h32M185 92.5h1M188 92.5h12M74 93.5h34M152 93.5h34M188 93.5h13M76 94.5h32M148 94.5h2M152 94.5h28M181 94.5h23M77 95.5h30M148 95.5h2M154 95.5h25M181 95.5h23M78 96.5h28M108 96.5h1M151 96.5h3M156 96.5h21M178 96.5h24M78 97.5h28M152 97.5h2M156 97.5h47M75 98.5h1M82 98.5h24M108 98.5h1M155 98.5h13M170 98.5h3M174 98.5h32M82 99.5h23M108 99.5h1M156 99.5h12M170 99.5h2M174 99.5h32M82 100.5h8M92 100.5h14M155 100.5h1M159 100.5h13M174 100.5h32M82 101.5h18M101 101.5h5M155 101.5h1M159 101.5h48M80 102.5h2M84 102.5h2M92 102.5h2M100 102.5h2M158 102.5h50M81 103.5h1M84 103.5h2M158 103.5h50M158 104.5h36M196 104.5h9M206 104.5h2M157 105.5h1M159 105.5h10M170 105.5h24M196 105.5h9M206 105.5h2M157 106.5h12M170 106.5h4M176 106.5h29M206 106.5h3M157 107.5h17M176 107.5h28M206 107.5h2M157 108.5h14M172 108.5h10M184 108.5h21M208 108.5h1M159 109.5h1M161 109.5h21M184 109.5h20M160 110.5h46M162 111.5h2M165 111.5h37M204 111.5h2M163 112.5h21M189 112.5h11M202 112.5h1M206 112.5h1M164 113.5h12M177 113.5h23M168 114.5h4M174 114.5h24M200 114.5h2M168 115.5h4M175 115.5h20M196 115.5h1M200 115.5h2M167 116.5h5M174 116.5h2M184 116.5h12M198 116.5h1M169 117.5h3M174 117.5h2M184 117.5h6M191 117.5h1M194 117.5h2M175 118.5h1M178 118.5h2M182 118.5h4M190 118.5h6M178 119.5h2M190 119.5h2M174 120.5h2"/>
<path stroke="#78acd8" d="M212 120.5h2M188 121.5h2M202 121.5h4M208 121.5h6M186 122.5h2M200 122.5h2M204 122.5h6M212 122.5h2M183 123.5h1M186 123.5h6M197 123.5h1M200 123.5h3M204 123.5h6M212 123.5h2M218 123.5h1M177 124.5h1M183 124.5h13M197 124.5h21M220 124.5h1M176 125.5h2M182 125.5h37M220 125.5h1M172 126.5h2M176 126.5h2M182 126.5h40M172 127.5h2M176 127.5h2M181 127.5h41M174 128.5h2M177 128.5h43M174 129.5h46M172 130.5h40M214 130.5h5M171 131.5h41M217 131.5h3M174 132.5h40M215 132.5h7M167 133.5h1M169 133.5h1M172 133.5h50M158 134.5h2M166 134.5h56M158 135.5h2M165 135.5h55M154 136.5h2M158 136.5h8M167 136.5h55M154 137.5h2M158 137.5h22M181 137.5h43M154 138.5h2M158 138.5h22M181 138.5h38M220 138.5h2M106 139.5h2M133 139.5h1M142 139.5h2M153 139.5h3M158 139.5h21M182 139.5h34M217 139.5h2M220 139.5h2M102 140.5h2M106 140.5h2M110 140.5h2M136 140.5h4M141 140.5h1M143 140.5h1M148 140.5h4M154 140.5h4M159 140.5h59M99 141.5h5M106 141.5h2M110 141.5h4M130 141.5h2M136 141.5h8M148 141.5h4M154 141.5h64M101 142.5h7M116 142.5h2M126 142.5h12M143 142.5h1M146 142.5h72M100 143.5h8M110 143.5h4M116 143.5h2M120 143.5h2M125 143.5h93M98 144.5h20M120 144.5h2M124 144.5h50M176 144.5h34M214 144.5h2M97 145.5h22M120 145.5h54M176 145.5h34M214 145.5h2M100 146.5h20M122 146.5h86M210 146.5h10M100 147.5h108M210 147.5h10M96 148.5h124M96 149.5h124M94 150.5h4M100 150.5h56M158 150.5h38M198 150.5h22M95 151.5h2M100 151.5h56M158 151.5h38M198 151.5h22M100 152.5h80M182 152.5h35M100 153.5h80M182 153.5h34M96 154.5h2M99 154.5h118M96 155.5h2M99 155.5h19M120 155.5h4M130 155.5h86M94 156.5h4M100 156.5h16M120 156.5h2M124 156.5h10M135 156.5h5M145 156.5h73M95 157.5h3M101 157.5h15M120 157.5h2M124 157.5h10M136 157.5h2M140 157.5h1M143 157.5h75M96 158.5h26M132 158.5h2M138 158.5h3M142 158.5h38M182 158.5h30M213 158.5h2M97 159.5h16M114 159.5h2M132 159.5h2M138 159.5h42M182 159.5h30M213 159.5h3M218 159.5h1M101 160.5h1M108 160.5h2M135 160.5h1M137 160.5h73M212 160.5h6M140 161.5h71M212 161.5h6M220 161.5h1M104 162.5h2M108 162.5h1M142 162.5h80M146 163.5h19M166 163.5h4M172 163.5h48M221 163.5h1M143 164.5h21M166 164.5h4M172 164.5h8M182 164.5h4M188 164.5h34M144 165.5h20M166 165.5h2M174 165.5h2M178 165.5h2M183 165.5h3M188 165.5h34M146 166.5h21M170 166.5h2M174 166.5h2M178 166.5h8M192 166.5h30M146 167.5h4M151 167.5h15M174 167.5h2M178 167.5h2M182 167.5h2M192 167.5h30M149 168.5h1M151 168.5h9M186 168.5h2M190 168.5h2M193 168.5h28M149 169.5h1M151 169.5h8M190 169.5h2M194 169.5h27M146 170.5h2M149 170.5h1M151 170.5h3M192 170.5h30M146 171.5h2M149 171.5h2M152 171.5h2M192 171.5h3M198 171.5h18M217 171.5h5M146 172.5h6M192 172.5h28M146 173.5h6M193 173.5h3M197 173.5h23M148 174.5h1M150 174.5h4M197 174.5h24M198 175.5h23M142 176.5h2M196 176.5h8M206 176.5h14M198 177.5h6M206 177.5h14M202 178.5h15M218 178.5h1M204 179.5h12M204 180.5h2M208 180.5h2M212 180.5h2M216 180.5h3M204 181.5h2M208 181.5h2M212 181.5h2M216 181.5h3M208 182.5h2M212 182.5h2"/>
<path stroke="#fdb366" d="M145 51.5h1M142 52.5h8M142 53.5h8M138 54.5h2M142 54.5h2M146 54.5h6M154 54.5h2M138 55.5h2M141 55.5h11M154 55.5h3M133 56.5h3M138 56.5h11M150 56.5h4M132 57.5h4M138 57.5h16M158 57.5h1M132 58.5h2M136 58.5h17M154 58.5h4M162 58.5h2M166 58.5h2M172 58.5h1M132 59.5h2M136 59.5h22M162 59.5h2M166 59.5h4M172 59.5h2M135 60.5h20M156 60.5h4M162 60.5h2M166 60.5h2M170 60.5h4M176 60.5h2M180 60.5h2M184 60.5h2M136 61.5h24M162 61.5h2M166 61.5h2M170 61.5h18M134 62.5h40M178 62.5h6M186 62.5h2M134 63.5h54M132 64.5h54M132 65.5h54M134 66.5h52M188 66.5h1M134 67.5h52M188 67.5h1M134 68.5h53M134 69.5h28M164 69.5h23M133 70.5h1M135 70.5h1M138 70.5h10M150 70.5h1M152 70.5h8M169 70.5h1M172 70.5h2M176 70.5h4M184 70.5h2M188 70.5h1M135 71.5h1M138 71.5h9M156 71.5h4M172 71.5h2M178 71.5h2M184 71.5h2M135 72.5h3M144 72.5h3M156 72.5h2M172 72.5h2M176 72.5h6M135 73.5h1M172 73.5h2M180 73.5h2M142 74.5h1M119 89.5h1M126 89.5h2M122 90.5h2M128 90.5h2M137 90.5h1M116 91.5h2M122 91.5h4M128 91.5h2M136 91.5h2M115 92.5h9M126 92.5h2M130 92.5h4M138 92.5h2M114 93.5h14M130 93.5h4M138 93.5h2M144 93.5h1M110 94.5h4M116 94.5h16M134 94.5h2M138 94.5h1M140 94.5h2M144 94.5h2M110 95.5h4M116 95.5h26M144 95.5h2M109 96.5h5M116 96.5h24M146 96.5h2M108 97.5h6M116 97.5h28M146 97.5h4M106 98.5h2M109 98.5h41M152 98.5h1M106 99.5h2M109 99.5h41M152 99.5h2M90 100.5h2M107 100.5h43M107 101.5h43M82 102.5h2M86 102.5h6M104 102.5h46M80 103.5h1M82 103.5h2M86 103.5h8M100 103.5h2M103 103.5h47M78 104.5h8M87 104.5h7M96 104.5h13M110 104.5h36M148 104.5h4M78 105.5h74M154 105.5h1M77 106.5h76M154 106.5h2M77 107.5h79M78 108.5h24M106 108.5h51M78 109.5h81M79 110.5h78M79 111.5h78M80 112.5h9M90 112.5h70M80 113.5h2M83 113.5h77M86 114.5h10M98 114.5h63M86 115.5h10M98 115.5h63M84 116.5h2M88 116.5h74M85 117.5h1M88 117.5h74M88 118.5h2M92 118.5h4M98 118.5h62M89 119.5h1M92 119.5h4M98 119.5h62M88 120.5h8M97 120.5h1M100 120.5h5M106 120.5h44M152 120.5h10M89 121.5h7M100 121.5h12M114 121.5h36M152 121.5h10M96 122.5h4M101 122.5h59M97 123.5h1M99 123.5h1M102 123.5h2M106 123.5h1M108 123.5h8M117 123.5h43M98 124.5h6M105 124.5h1M108 124.5h2M112 124.5h48M162 124.5h1M102 125.5h2M108 125.5h1M112 125.5h4M118 125.5h42M162 125.5h1M106 126.5h2M113 126.5h1M122 126.5h37M162 126.5h1M122 127.5h36M162 127.5h1M122 128.5h11M134 128.5h25M160 128.5h2M122 129.5h2M125 129.5h8M134 129.5h23M158 129.5h1M160 129.5h2M123 130.5h1M125 130.5h1M128 130.5h5M134 130.5h24M128 131.5h5M134 131.5h24M125 132.5h32M158 132.5h2M127 133.5h29M158 133.5h1M124 134.5h31M156 134.5h2M125 135.5h1M127 135.5h5M134 135.5h2M138 135.5h16M156 135.5h2M136 136.5h16M156 136.5h1M138 137.5h14M142 138.5h2M146 138.5h2M150 138.5h2M146 139.5h2M146 140.5h2"/>
<path stroke="#b4de6e" d="M150 208.5h2M150 209.5h2M128 210.5h1M138 210.5h4M148 210.5h8M160 210.5h2M128 211.5h3M138 211.5h4M147 211.5h9M160 211.5h2M136 212.5h6M144 212.5h9M154 212.5h4M160 212.5h2M164 212.5h2M198 212.5h1M127 213.5h1M136 213.5h26M164 213.5h3M196 213.5h1M198 213.5h2M125 214.5h3M130 214.5h4M135 214.5h7M143 214.5h12M158 214.5h8M184 214.5h2M190 214.5h4M122 215.5h7M130 215.5h26M158 215.5h10M174 215.5h2M184 215.5h2M188 215.5h6M124 216.5h30M156 216.5h20M181 216.5h1M188 216.5h2M192 216.5h12M121 217.5h1M124 217.5h30M156 217.5h22M180 217.5h24M122 218.5h6M130 218.5h68M200 218.5h5M208 218.5h2M212 218.5h2M216 218.5h1M122 219.5h6M130 219.5h76M208 219.5h6M216 219.5h2M118 220.5h2M122 220.5h46M170 220.5h46M118 221.5h2M122 221.5h46M170 221.5h46M118 222.5h101M118 223.5h101M119 224.5h1M121 224.5h5M128 224.5h72M202 224.5h19M123 225.5h3M128 225.5h72M202 225.5h20M124 226.5h52M178 226.5h44M124 227.5h52M178 227.5h44M224 227.5h1M122 228.5h2M125 228.5h99M122 229.5h2M126 229.5h98M122 230.5h10M133 230.5h11M146 230.5h22M169 230.5h53M122 231.5h10M133 231.5h89M125 232.5h7M133 232.5h37M172 232.5h50M126 233.5h6M134 233.5h36M172 233.5h50M128 234.5h5M134 234.5h54M189 234.5h11M201 234.5h11M214 234.5h8M128 235.5h60M189 235.5h10M201 235.5h12M214 235.5h8M130 236.5h2M134 236.5h65M200 236.5h16M217 236.5h1M220 236.5h1M130 237.5h2M134 237.5h64M200 237.5h16M131 238.5h1M134 238.5h2M138 238.5h12M152 238.5h39M192 238.5h10M205 238.5h11M138 239.5h12M152 239.5h68M138 240.5h64M204 240.5h6M212 240.5h5M138 241.5h8M147 241.5h56M204 241.5h6M212 241.5h5M137 242.5h1M146 242.5h71M146 243.5h71M148 244.5h2M154 244.5h56M212 244.5h2M216 244.5h2M149 245.5h1M156 245.5h54M212 245.5h2M142 246.5h2M152 246.5h8M161 246.5h11M173 246.5h15M190 246.5h24M152 247.5h2M156 247.5h4M164 247.5h50M160 248.5h2M164 248.5h42M208 248.5h4M214 248.5h2M160 249.5h2M165 249.5h41M208 249.5h1M210 249.5h2M214 249.5h1M160 250.5h2M170 250.5h36M208 250.5h2M168 251.5h30M200 251.5h6M208 251.5h2M168 252.5h2M172 252.5h22M196 252.5h4M169 253.5h1M174 253.5h20M198 253.5h2M174 254.5h2M178 254.5h20M174 255.5h2M178 255.5h6M186 255.5h4M192 255.5h3M196 255.5h2M182 256.5h2M188 256.5h4M188 257.5h2M188 258.5h1"/>
<path stroke="#fac0dc" d="M91 20.5h3M90 21.5h5M76 22.5h2M92 22.5h4M98 22.5h1M76 23.5h2M86 23.5h2M92 23.5h8M75 24.5h3M80 24.5h2M84 24.5h2M87 24.5h9M98 24.5h2M102 24.5h2M71 25.5h1M74 25.5h4M80 25.5h2M84 25.5h13M98 25.5h6M74 26.5h2M78 26.5h23M102 26.5h2M74 27.5h30M70 28.5h2M73 28.5h30M70 29.5h34M69 30.5h35M68 31.5h37M68 32.5h37M68 33.5h37M69 34.5h1M71 34.5h37M71 35.5h37M69 36.5h38M69 37.5h38M70 38.5h12M84 38.5h24M70 39.5h12M83 39.5h25M70 40.5h37M70 41.5h37M69 42.5h1M71 42.5h37M69 43.5h1M71 43.5h37M74 44.5h34M74 45.5h34M72 46.5h38M72 47.5h38M72 48.5h36M72 49.5h36M70 50.5h15M86 50.5h21M108 50.5h1M110 50.5h1M71 51.5h14M86 51.5h21M108 51.5h1M110 51.5h1M72 52.5h37M110 52.5h2M72 53.5h40M70 54.5h36M108 54.5h2M71 55.5h35M108 55.5h2M72 56.5h40M114 56.5h1M72 57.5h40M114 57.5h2M74 58.5h39M114 58.5h1M74 59.5h42M74 60.5h38M114 60.5h1M74 61.5h38M114 61.5h2M72 62.5h2M75 62.5h39M72 63.5h2M76 63.5h39M72 64.5h44M118 64.5h1M120 64.5h1M72 65.5h44M118 65.5h4M74 66.5h2M78 66.5h44M74 67.5h2M78 67.5h44M75 68.5h1M77 68.5h1M84 68.5h36M90 69.5h16M108 69.5h12M86 70.5h2M90 70.5h20M111 70.5h7M120 70.5h2M87 71.5h1M92 71.5h16M112 71.5h6M120 71.5h2M90 72.5h2M94 72.5h16M114 72.5h2M122 72.5h1M90 73.5h2M94 73.5h2M98 73.5h9M108 73.5h1M100 75.5h2"/>
<path stroke="#b77dc8" d="M46 116.5h2M58 116.5h2M46 117.5h2M52 117.5h2M58 117.5h2M64 117.5h4M50 118.5h8M60 118.5h2M64 118.5h2M70 118.5h3M48 119.5h14M64 119.5h2M70 119.5h4M40 120.5h8M50 120.5h4M56 120.5h10M68 120.5h2M72 120.5h2M76 120.5h1M80 120.5h2M40 121.5h30M72 121.5h2M76 121.5h2M80 121.5h2M36 122.5h2M39 122.5h33M74 122.5h4M80 122.5h6M36 123.5h36M74 123.5h3M80 123.5h6M38 124.5h22M62 124.5h27M37 125.5h53M34 126.5h54M94 126.5h7M34 127.5h54M94 127.5h8M35 128.5h1M37 128.5h48M88 128.5h4M94 128.5h4M35 129.5h1M37 129.5h49M88 129.5h11M104 129.5h1M36 130.5h68M108 130.5h2M36 131.5h41M78 131.5h26M108 131.5h2M38 132.5h40M79 132.5h26M106 132.5h4M38 133.5h74M38 134.5h64M104 134.5h3M108 134.5h8M39 135.5h63M104 135.5h12M40 136.5h66M108 136.5h2M112 136.5h2M116 136.5h1M41 137.5h1M44 137.5h62M108 137.5h2M112 137.5h2M116 137.5h1M43 138.5h63M110 138.5h6M44 139.5h2M47 139.5h59M112 139.5h2M43 140.5h1M46 140.5h40M88 140.5h14M104 140.5h1M46 141.5h40M88 141.5h11M47 142.5h1M52 142.5h2M55 142.5h46M53 143.5h1M56 143.5h44M56 144.5h4M61 144.5h37M58 145.5h2M62 145.5h23M86 145.5h11M62 146.5h30M94 146.5h4M63 147.5h29M94 147.5h4M62 148.5h23M86 148.5h10M62 149.5h23M86 149.5h7M94 149.5h2M64 150.5h30M64 151.5h2M67 151.5h28M66 152.5h28M66 153.5h28M63 154.5h10M74 154.5h22M63 155.5h10M74 155.5h7M82 155.5h9M92 155.5h2M66 156.5h2M70 156.5h18M90 156.5h3M66 157.5h2M70 157.5h18M90 157.5h1M70 158.5h2M73 158.5h1M76 158.5h4M82 158.5h6M70 159.5h2M76 159.5h4M82 159.5h6M71 160.5h1M74 160.5h2M82 160.5h4M74 161.5h2M82 161.5h4M74 162.5h2M78 162.5h2M82 162.5h1M84 162.5h1M75 163.5h1M78 163.5h2"/>
<path stroke="#007c00" d="M84 212.5h4M89 212.5h4M84 213.5h10M84 214.5h12M81 215.5h15M84 216.5h12M83 217.5h14M80 218.5h16M98 218.5h2M80 219.5h17M98 219.5h2M74 220.5h2M78 220.5h2M81 220.5h17M74 221.5h2M77 221.5h21M73 222.5h1M76 222.5h26M73 223.5h1M76 223.5h26M74 224.5h29M74 225.5h4M79 225.5h26M74 226.5h4M80 226.5h20M74 227.5h4M80 227.5h21M102 227.5h1M76 228.5h2M79 228.5h27M108 228.5h4M114 228.5h1M76 229.5h2M80 229.5h26M108 229.5h4M114 229.5h2M77 230.5h1M81 230.5h31M81 231.5h35M82 232.5h36M82 233.5h36M120 233.5h1M122 233.5h1M80 234.5h42M80 235.5h42M82 236.5h4M87 236.5h35M124 236.5h1M82 237.5h2M85 237.5h1M88 237.5h35M124 237.5h2M85 238.5h1M88 238.5h35M124 238.5h1M126 238.5h2M88 239.5h40M87 240.5h1M91 240.5h35M92 241.5h34M132 241.5h2M92 242.5h2M95 242.5h36M132 242.5h2M92 243.5h2M96 243.5h39M99 244.5h40M100 245.5h40M97 246.5h3M102 246.5h35M140 246.5h2M99 247.5h1M102 247.5h36M140 247.5h2M98 248.5h2M102 248.5h35M144 248.5h2M99 249.5h1M102 249.5h37M144 249.5h2M148 249.5h2M100 250.5h42M146 250.5h1M101 251.5h3M105 251.5h14M120 251.5h31M162 251.5h2M104 252.5h52M108 253.5h48M110 254.5h2M116 254.5h42M160 254.5h8M170 254.5h4M110 255.5h2M118 255.5h40M160 255.5h14M112 256.5h4M124 256.5h38M164 256.5h1M166 256.5h2M170 256.5h2M112 257.5h4M124 257.5h48M122 258.5h49M172 258.5h2M122 259.5h4M127 259.5h47M176 259.5h1M122 260.5h2M126 260.5h48M176 260.5h1M123 261.5h1M126 261.5h2M129 261.5h45M176 261.5h1M124 262.5h2M128 262.5h44M124 263.5h2M129 263.5h3M133 263.5h37M129 264.5h35M168 264.5h3M131 265.5h1M134 265.5h6M142 265.5h22M132 266.5h2M140 266.5h4M148 266.5h4M153 266.5h3M158 266.5h4M164 266.5h2M140 267.5h4M148 267.5h4M154 267.5h2M158 267.5h2M164 267.5h2M142 268.5h2M146 268.5h2M154 268.5h2M162 268.5h3M166 268.5h1M162 269.5h2"/>
<path stroke="#fbb6c6" d="M14 164.5h2M12 165.5h7M10 166.5h9M9 167.5h11M9 168.5h1M11 168.5h9M9 169.5h11M12 170.5h9M12 171.5h1M14 171.5h7M8 172.5h13M7 173.5h13M7 174.5h15M7 175.5h14M10 176.5h11M10 177.5h11M10 178.5h10M11 179.5h7M14 180.5h3M14 181.5h2M129 193.5h1M106 194.5h2M112 194.5h2M116 194.5h4M126 194.5h1M130 194.5h4M106 195.5h3M112 195.5h8M126 195.5h2M130 195.5h4M105 196.5h3M114 196.5h4M122 196.5h6M132 196.5h2M104 197.5h4M110 197.5h2M114 197.5h21M136 197.5h1M98 198.5h2M101 198.5h1M104 198.5h4M110 198.5h28M98 199.5h10M110 199.5h28M100 200.5h8M110 200.5h28M97 201.5h1M100 201.5h8M110 201.5h28M100 202.5h9M110 202.5h29M100 203.5h9M110 203.5h31M100 204.5h39M140 204.5h2M100 205.5h42M102 206.5h38M102 207.5h2M106 207.5h34M109 208.5h31M110 209.5h30M112 210.5h4M117 210.5h11M129 210.5h9M112 211.5h4M118 211.5h10M131 211.5h5M118 212.5h14M134 212.5h2M118 213.5h8M128 213.5h4M134 213.5h2M118 214.5h2M122 214.5h3M128 214.5h2M118 215.5h2"/>
<path stroke="#c4c4c4" d="M112 160.5h2M116 160.5h2M128 160.5h2M112 161.5h2M116 161.5h2M122 161.5h2M128 161.5h6M138 161.5h2M110 162.5h2M113 162.5h9M124 162.5h4M130 162.5h12M110 163.5h12M128 163.5h18M108 164.5h35M108 165.5h36M108 166.5h28M138 166.5h8M108 167.5h28M138 167.5h8M150 167.5h1M108 168.5h41M150 168.5h1M108 169.5h41M150 169.5h1M105 170.5h15M122 170.5h24M148 170.5h1M150 170.5h1M105 171.5h15M122 171.5h3M126 171.5h20M148 171.5h1M106 172.5h40M106 173.5h40M109 174.5h1M112 174.5h36M112 175.5h36M107 176.5h1M113 176.5h3M118 176.5h24M144 176.5h2M118 177.5h16M135 177.5h5M144 177.5h2M114 178.5h10M126 178.5h14M116 179.5h2M119 179.5h5M132 179.5h2M138 179.5h2M122 180.5h5M122 181.5h4M89 188.5h1M88 189.5h4M86 190.5h2M90 190.5h4M85 191.5h9M85 192.5h4M90 192.5h6M83 193.5h6M90 193.5h7M82 194.5h7M90 194.5h8M82 195.5h6M90 195.5h8M82 196.5h17M82 197.5h15M98 197.5h1M83 198.5h14M83 199.5h13M84 200.5h14M84 201.5h13M84 202.5h13M85 203.5h11M83 204.5h13M85 205.5h11M88 206.5h6M90 207.5h3"/>
<path stroke="#ff0000" d="M208 69.5h2M218 69.5h1M208 70.5h2M212 70.5h4M218 70.5h2M222 70.5h1M207 71.5h14M222 71.5h2M204 72.5h2M208 72.5h16M201 73.5h1M203 73.5h3M207 73.5h17M206 74.5h18M205 75.5h19M200 76.5h24M199 77.5h25M201 78.5h23M200 79.5h24M199 80.5h25M199 81.5h25M198 82.5h25M224 82.5h1M198 83.5h25M224 83.5h1M197 84.5h24M197 85.5h1M199 85.5h22M198 86.5h23M222 86.5h2M198 87.5h22M222 87.5h2M200 88.5h24M200 89.5h19M220 89.5h4M200 90.5h24M200 91.5h2M203 91.5h1M205 91.5h19M201 92.5h18M220 92.5h2M201 93.5h17M220 93.5h1M204 94.5h16M204 95.5h13M218 95.5h2M202 96.5h16M203 97.5h15M208 98.5h6M208 99.5h6M206 100.5h2M210 100.5h2M214 100.5h1M210 101.5h2M212 102.5h2M176 201.5h3M175 202.5h4M174 203.5h6M172 204.5h7M172 205.5h9M173 206.5h8M173 207.5h8M173 208.5h9M173 209.5h10M174 210.5h9M174 211.5h9M175 212.5h8M175 213.5h8M176 214.5h8M176 215.5h6M176 216.5h2M180 216.5h1"/>
<path stroke="#14f014" d="M18 142.5h2M18 143.5h2M16 144.5h2M19 144.5h1M22 144.5h4M16 145.5h4M22 145.5h6M16 146.5h14M32 146.5h1M15 147.5h15M32 147.5h2M14 148.5h16M32 148.5h1M14 149.5h16M32 149.5h1M13 150.5h21M38 150.5h1M13 151.5h21M38 151.5h2M12 152.5h21M34 152.5h2M38 152.5h1M12 153.5h24M38 153.5h2M44 153.5h1M14 154.5h2M17 154.5h17M38 154.5h2M14 155.5h2M17 155.5h19M38 155.5h2M46 155.5h1M14 156.5h26M15 157.5h1M17 157.5h24M42 157.5h2M46 157.5h1M52 157.5h1M16 158.5h38M17 159.5h37M18 160.5h36M19 161.5h3M24 161.5h2M28 161.5h2M31 161.5h23M18 162.5h2M24 162.5h4M30 162.5h22M54 162.5h1M56 162.5h2M18 163.5h2M26 163.5h2M30 163.5h23M54 163.5h4M22 164.5h4M32 164.5h2M38 164.5h19M58 164.5h1M32 165.5h2M38 165.5h22M35 166.5h7M44 166.5h15M36 167.5h2M39 167.5h3M44 167.5h15M36 168.5h2M40 168.5h17M36 169.5h2M40 169.5h2M43 169.5h14M44 170.5h14M44 171.5h13M41 172.5h15M42 173.5h6M50 173.5h6M44 174.5h8M54 174.5h2M45 175.5h3M50 175.5h2"/>
<path stroke="#ffa31a" d="M236 115.5h4M226 116.5h2M230 116.5h4M240 116.5h1M226 117.5h8M240 117.5h3M225 118.5h1M234 118.5h2M238 118.5h2M244 118.5h2M224 119.5h8M234 119.5h6M244 119.5h2M222 120.5h9M232 120.5h10M245 120.5h5M222 121.5h30M219 122.5h33M254 122.5h1M256 122.5h2M219 123.5h32M254 123.5h2M257 123.5h1M221 124.5h30M256 124.5h3M260 124.5h2M221 125.5h41M223 126.5h1M226 126.5h35M262 126.5h2M223 127.5h1M226 127.5h38M220 128.5h43M220 129.5h43M264 129.5h1M219 130.5h42M262 130.5h1M264 130.5h2M268 130.5h1M220 131.5h41M262 131.5h1M264 131.5h2M268 131.5h1M222 132.5h47M222 133.5h47M222 134.5h40M264 134.5h2M268 134.5h1M223 135.5h1M225 135.5h38M264 135.5h2M268 135.5h1M224 136.5h44M224 137.5h44M226 138.5h40M226 139.5h40M226 140.5h42M226 141.5h42M228 142.5h4M234 142.5h36M228 143.5h4M234 143.5h33M268 143.5h2M236 144.5h2M241 144.5h24M266 144.5h2M236 145.5h2M242 145.5h23M266 145.5h2M244 146.5h8M254 146.5h12M268 146.5h1M244 147.5h8M254 147.5h12M268 147.5h1M244 148.5h2M248 148.5h21M244 149.5h2M248 149.5h21M248 150.5h20M248 151.5h20M250 152.5h16M250 153.5h16M248 154.5h2M252 154.5h12M266 154.5h2M248 155.5h2M252 155.5h12M266 155.5h2M236 156.5h2M246 156.5h2M249 156.5h3M254 156.5h13M236 157.5h2M242 157.5h2M246 157.5h6M254 157.5h13M234 158.5h6M242 158.5h20M264 158.5h2M234 159.5h14M249 159.5h13M264 159.5h2M233 160.5h31M233 161.5h31M232 162.5h2M236 162.5h31M232 163.5h2M237 163.5h30M231 164.5h1M233 164.5h33M231 165.5h1M233 165.5h32M232 166.5h34M232 167.5h34M231 168.5h33M266 168.5h1M231 169.5h33M230 170.5h2M233 170.5h27M262 170.5h1M264 170.5h2M230 171.5h2M233 171.5h27M264 171.5h2M229 172.5h1M231 172.5h35M229 173.5h36M231 174.5h27M260 174.5h2M230 175.5h28M260 175.5h1M227 176.5h1M230 176.5h30M226 177.5h2M229 177.5h31M226 178.5h4M232 178.5h24M226 179.5h10M237 179.5h18M225 180.5h1M228 180.5h8M237 180.5h20M224 181.5h2M228 181.5h8M237 181.5h19M226 182.5h7M237 182.5h1M240 182.5h10M252 182.5h1M226 183.5h6M237 183.5h1M240 183.5h5M246 183.5h1M248 183.5h2M216 184.5h10M228 184.5h22M252 184.5h1M211 185.5h1M216 185.5h10M228 185.5h22M210 186.5h2M214 186.5h2M217 186.5h25M246 186.5h2M210 187.5h2M214 187.5h25M240 187.5h2M246 187.5h2M212 188.5h30M212 189.5h21M234 189.5h6M210 190.5h22M234 190.5h1M210 191.5h22M210 192.5h26M211 193.5h21M234 193.5h1M212 194.5h2M215 194.5h4M220 194.5h1M222 194.5h9M213 195.5h1M224 195.5h6M215 196.5h3M220 196.5h2M228 196.5h2M214 197.5h4M228 197.5h1"/>
<path stroke="#0000ff" d="M120 9.5h2M130 10.5h2M134 10.5h2M118 11.5h2M128 11.5h4M134 11.5h4M118 12.5h18M118 13.5h20M146 13.5h2M116 14.5h26M144 14.5h2M148 14.5h2M110 15.5h2M116 15.5h27M144 15.5h2M148 15.5h2M118 16.5h28M111 17.5h1M118 17.5h19M138 17.5h8M110 18.5h42M154 18.5h2M110 19.5h42M154 19.5h2M106 20.5h2M110 20.5h45M156 20.5h2M106 21.5h2M110 21.5h48M106 22.5h4M111 22.5h46M158 22.5h2M106 23.5h54M164 23.5h2M205 23.5h1M108 24.5h50M160 24.5h4M166 24.5h2M210 24.5h2M216 24.5h2M108 25.5h50M160 25.5h10M196 25.5h2M206 25.5h12M107 26.5h61M170 26.5h2M194 26.5h2M198 26.5h4M206 26.5h2M212 26.5h2M216 26.5h2M220 26.5h2M107 27.5h61M170 27.5h3M193 27.5h9M204 27.5h6M212 27.5h2M216 27.5h3M220 27.5h3M106 28.5h59M166 28.5h2M170 28.5h2M174 28.5h2M190 28.5h2M196 28.5h22M106 29.5h62M170 29.5h2M174 29.5h2M182 29.5h2M187 29.5h5M194 29.5h25M109 30.5h63M178 30.5h2M182 30.5h2M186 30.5h34M222 30.5h1M109 31.5h63M178 31.5h2M182 31.5h2M185 31.5h35M222 31.5h2M106 32.5h100M207 32.5h13M224 32.5h1M106 33.5h4M111 33.5h95M207 33.5h13M224 33.5h1M108 34.5h64M173 34.5h52M108 35.5h117M110 36.5h10M121 36.5h99M222 36.5h3M111 37.5h1M113 37.5h7M122 37.5h77M200 37.5h20M222 37.5h4M109 38.5h1M112 38.5h111M224 38.5h3M112 39.5h111M224 39.5h3M112 40.5h101M216 40.5h8M112 41.5h2M115 41.5h99M215 41.5h9M110 42.5h4M116 42.5h109M110 43.5h4M116 43.5h109M114 44.5h4M122 44.5h2M126 44.5h98M115 45.5h3M122 45.5h2M126 45.5h34M161 45.5h60M222 45.5h2M122 46.5h2M126 46.5h8M136 46.5h86M126 47.5h4M132 47.5h2M136 47.5h8M146 47.5h76M125 48.5h3M132 48.5h2M136 48.5h10M148 48.5h4M154 48.5h62M137 49.5h9M148 49.5h4M154 49.5h10M166 49.5h40M208 49.5h8M126 50.5h4M132 50.5h2M148 50.5h2M152 50.5h2M158 50.5h10M170 50.5h18M190 50.5h11M202 50.5h6M210 50.5h5M216 50.5h3M220 50.5h2M148 51.5h2M152 51.5h2M160 51.5h8M170 51.5h18M190 51.5h10M202 51.5h6M210 51.5h4M216 51.5h1M156 52.5h4M162 52.5h2M166 52.5h2M174 52.5h2M178 52.5h2M182 52.5h2M186 52.5h4M192 52.5h2M196 52.5h2M200 52.5h2M206 52.5h2M212 52.5h2M158 53.5h2M174 53.5h2M178 53.5h2M182 53.5h2M186 53.5h4M200 53.5h2M212 53.5h2M172 54.5h2M180 54.5h4M182 55.5h2"/>
<path stroke="#00007d" d="M238 63.5h1M242 63.5h1M235 64.5h1M235 65.5h1M240 65.5h1M242 65.5h1M240 66.5h6M240 67.5h7M248 67.5h1M239 68.5h9M250 68.5h4M240 69.5h14M240 70.5h2M243 70.5h11M244 71.5h11M244 72.5h2M247 72.5h8M256 72.5h1M244 73.5h2M248 73.5h10M247 74.5h11M247 75.5h11M248 76.5h13M262 76.5h1M249 77.5h15M247 78.5h1M250 78.5h14M250 79.5h14M250 80.5h16M250 81.5h16M249 82.5h19M249 83.5h19M248 84.5h20M248 85.5h20M250 86.5h17M250 87.5h17M250 88.5h18M250 89.5h18M251 90.5h15M251 91.5h14M250 92.5h13M264 92.5h2M250 93.5h2M253 93.5h9M264 93.5h1M252 94.5h12M253 95.5h10M254 96.5h2M260 96.5h3M255 97.5h1"/>
</g>
<path d="M52.8 537V680H201.3" fill="none" stroke="#111" stroke-width="1.4"/>
<text x="46.8" y="544" font-size="8.2" text-anchor="end" textLength="8.57274" lengthAdjust="spacingAndGlyphs">50</text>
<text x="46.8" y="578.45" font-size="8.2" text-anchor="end" textLength="8.57274" lengthAdjust="spacingAndGlyphs">25</text>
<text x="46.8" y="612.9" font-size="8.2" text-anchor="end" textLength="4.28637" lengthAdjust="spacingAndGlyphs">0</text>
<text x="46.8" y="647.35" font-size="8.2" text-anchor="end" textLength="13.0747" lengthAdjust="spacingAndGlyphs">−25</text>
<text x="46.8" y="681.8" font-size="8.2" text-anchor="end" textLength="13.0747" lengthAdjust="spacingAndGlyphs">−50</text>
<text x="89.5" y="692.3" font-size="8.1" text-anchor="middle">−25</text>
<text x="127.5" y="692.3" font-size="8.1" text-anchor="middle">0</text>
<text x="165.5" y="692.3" font-size="8.1" text-anchor="middle">25</text>
<path d="M49 541.1H52.5M49 575.5H52.5M49 610.0H52.5M49 644.5H52.5M49 678.9H52.5M89.5 680.5V683.5M127.5 680.5V683.5M165.5 680.5V683.5" stroke="#111" stroke-width="1.2"/>
<text x="126" y="705.3" font-size="9" text-anchor="middle" textLength="25" lengthAdjust="spacingAndGlyphs">tSNE_1</text>
<text x="27.9" y="610" font-size="9" text-anchor="middle" textLength="25" lengthAdjust="spacingAndGlyphs" transform="rotate(-90 27.9 610)">tSNE_2</text>
<text x="100" y="566.2" font-size="5.4" text-anchor="middle" fill="#2a2a2a">EryB-1</text>
<text x="88.5" y="590" font-size="5.4" text-anchor="middle" fill="#2a2a2a">MkB</text>
<text x="139" y="586.8" font-size="5.4" text-anchor="middle" fill="#2a2a2a">B-cell-P</text>
<text x="122.5" y="598.3" font-size="5.4" text-anchor="middle" fill="#2a2a2a">Pre-GMP</text>
<text x="87.5" y="610.8" font-size="5.4" text-anchor="middle" fill="#2a2a2a">HSC-1</text>
<text x="70.5" y="620.8" font-size="5.4" text-anchor="middle" fill="#2a2a2a">MkP-2</text>
<text x="117.5" y="627.3" font-size="5.4" text-anchor="middle" fill="#2a2a2a">HSC-2</text>
<text x="148.8" y="617.6" font-size="5.4" text-anchor="middle" fill="#2a2a2a">GMP-2</text>
<text x="149.2" y="634.6" font-size="5.4" text-anchor="middle" fill="#2a2a2a">GMP-1</text>
<text x="173.8" y="609.3" font-size="5.4" text-anchor="middle" fill="#2a2a2a">GMP-3</text>
<text x="88" y="636.8" font-size="5.4" text-anchor="middle" fill="#2a2a2a">MkE-P</text>
<text x="112.5" y="643" font-size="5.4" text-anchor="middle" fill="#2a2a2a">MkP-1</text>
<text x="142.5" y="657" font-size="5.4" text-anchor="middle" fill="#2a2a2a">EryP-1</text>
<text x="108" y="662.8" font-size="5.4" text-anchor="middle" fill="#2a2a2a">EryP-2</text>
<text x="166.2" y="586.1" font-size="5.4" text-anchor="middle" fill="#2a2a2a">EryB-2</text>
<text x="130.4" y="546.7" font-size="5.6" font-weight="bold" fill="#2a1fd8" textLength="30.3" lengthAdjust="spacingAndGlyphs">Leukemia-1</text>
<text x="168.7" y="568.7" font-size="5.6" font-weight="bold" fill="#2b1a8f" textLength="30.8" lengthAdjust="spacingAndGlyphs">Leukemia-2</text>
<path d="M106.8 553.5C106.7 551.6 107.2 550.1 108.2 548.7C109.2 547.4 111.0 546.1 112.9 545.4C114.8 544.7 117.2 544.5 119.6 544.7C121.9 544.9 124.4 545.4 127.0 546.5C129.6 547.6 132.9 550.2 135.0 551.4C137.1 552.6 137.9 553.0 139.8 553.5C141.7 554.0 144.2 554.3 146.5 554.1C148.8 553.9 151.1 553.0 153.3 552.1C155.6 551.2 157.8 549.6 160.0 548.7C162.2 547.8 164.4 547.0 166.7 546.7C168.9 546.4 171.2 546.1 173.5 546.7C175.8 547.3 178.2 548.5 180.2 550.1C182.2 551.7 184.1 553.9 185.6 556.2C187.1 558.6 188.0 561.5 188.9 564.2C189.8 566.9 190.7 569.6 191.0 572.3C191.3 575.0 191.2 577.9 191.0 580.4C190.8 582.9 190.2 585.1 189.6 587.1C189.0 589.1 188.4 591.2 187.2 592.5C186.0 593.8 183.9 594.9 182.5 595.0C181.1 595.1 179.7 594.2 178.8 593.0C177.9 591.8 177.6 589.8 177.3 587.5C177.0 585.2 177.7 581.4 177.2 579.0C176.7 576.6 176.1 574.3 174.5 573.0C172.9 571.7 169.7 571.5 167.5 571.0C165.3 570.5 163.7 570.4 161.3 570.3C158.9 570.2 156.0 570.3 153.3 570.3C150.6 570.3 147.9 570.5 145.2 570.3C142.5 570.1 139.6 569.8 137.1 569.0C134.6 568.2 132.4 566.2 130.4 565.6C128.4 565.0 127.1 565.4 125.0 565.5C122.9 565.6 120.2 566.8 118.0 566.5C115.8 566.2 113.5 565.0 112.0 564.0C110.5 563.0 109.7 562.0 108.8 560.2C107.9 558.5 106.9 555.4 106.8 553.5Z" fill="none" stroke="#e0181c" stroke-width="1.15" stroke-dasharray="4.2 2.8"/>
<circle cx="211" cy="542.0" r="1.7" fill="#8fd5c9"/>
<text x="215.8" y="544.9" font-size="8.1" textLength="22.2345" lengthAdjust="spacingAndGlyphs">MkE-P</text>
<circle cx="211" cy="550.3" r="1.7" fill="#e9951c"/>
<text x="215.8" y="553.23" font-size="8.1" textLength="23.4713" lengthAdjust="spacingAndGlyphs">GMP-1</text>
<circle cx="211" cy="558.7" r="1.7" fill="#c3b4de"/>
<text x="215.8" y="561.56" font-size="8.1" textLength="14.823" lengthAdjust="spacingAndGlyphs">MkB</text>
<circle cx="211" cy="567.0" r="1.7" fill="#fa8072"/>
<text x="215.8" y="569.89" font-size="8.1" textLength="25.9437" lengthAdjust="spacingAndGlyphs">B-cell-P</text>
<circle cx="211" cy="575.3" r="1.7" fill="#78acd8"/>
<text x="215.8" y="578.22" font-size="8.1" textLength="23.4713" lengthAdjust="spacingAndGlyphs">GMP-2</text>
<circle cx="211" cy="583.6" r="1.7" fill="#fdb366"/>
<text x="215.8" y="586.55" font-size="8.1" textLength="30.8828" lengthAdjust="spacingAndGlyphs">Pre-GMP</text>
<circle cx="211" cy="592.0" r="1.7" fill="#b4de6e"/>
<text x="215.8" y="594.88" font-size="8.1" textLength="22.6502" lengthAdjust="spacingAndGlyphs">EryP-1</text>
<circle cx="211" cy="600.3" r="1.7" fill="#fac0dc"/>
<text x="215.8" y="603.21" font-size="8.1" textLength="22.6502" lengthAdjust="spacingAndGlyphs">EryB-1</text>
<circle cx="211" cy="608.6" r="1.7" fill="#b77dc8"/>
<text x="215.8" y="611.54" font-size="8.1" textLength="22.238" lengthAdjust="spacingAndGlyphs">HSC-1</text>
<circle cx="211" cy="617.0" r="1.7" fill="#007c00"/>
<text x="215.8" y="619.87" font-size="8.1" textLength="22.6502" lengthAdjust="spacingAndGlyphs">EryP-2</text>
<circle cx="211" cy="625.3" r="1.7" fill="#fbb6c6"/>
<text x="215.8" y="628.2" font-size="8.1" textLength="21.4123" lengthAdjust="spacingAndGlyphs">MkP-1</text>
<circle cx="211" cy="633.6" r="1.7" fill="#c4c4c4"/>
<text x="215.8" y="636.53" font-size="8.1" textLength="22.238" lengthAdjust="spacingAndGlyphs">HSC-2</text>
<circle cx="211" cy="642.0" r="1.7" fill="#ff0000"/>
<text x="215.8" y="644.86" font-size="8.1" textLength="22.6502" lengthAdjust="spacingAndGlyphs">EryB-2</text>
<circle cx="211" cy="650.3" r="1.7" fill="#14f014"/>
<text x="215.8" y="653.19" font-size="8.1" textLength="21.4123" lengthAdjust="spacingAndGlyphs">MkP-2</text>
<circle cx="211" cy="658.6" r="1.7" fill="#ffa31a"/>
<text x="215.8" y="661.52" font-size="8.1" textLength="23.4713" lengthAdjust="spacingAndGlyphs">GMP-3</text>
<circle cx="211" cy="667.0" r="1.7" fill="#0000ff"/>
<text x="215.8" y="669.85" font-size="8.1" textLength="38.7228" lengthAdjust="spacingAndGlyphs">Leukemia-1</text>
<circle cx="211" cy="675.3" r="1.7" fill="#00007d"/>
<text x="215.8" y="678.18" font-size="8.1" textLength="38.7228" lengthAdjust="spacingAndGlyphs">Leukemia-2</text>
<g transform="translate(311 517) scale(0.5)" fill="none" stroke-width="1.5">
<path stroke="#8fd5c9" d="M164 64.5h1M160 65.5h7M160 66.5h8M160 67.5h10M161 68.5h9M163 69.5h7M164 70.5h6M39 99.5h5M46 99.5h1M60 99.5h6M36 100.5h11M58 100.5h8M36 101.5h20M57 101.5h11M35 102.5h35M34 103.5h36M35 104.5h35M34 105.5h28M64 105.5h6M33 106.5h26M60 106.5h1M66 106.5h5M33 107.5h24M33 108.5h21M32 109.5h22M32 110.5h22M32 111.5h22M32 112.5h23M33 113.5h22M34 114.5h20M35 115.5h19M36 116.5h18M36 117.5h18M37 118.5h17M39 119.5h15M40 120.5h14M40 121.5h13M43 122.5h8M45 123.5h5M45 124.5h5M46 125.5h4M47 126.5h1"/>
<path stroke="#e9951c" d="M114 94.5h3M104 95.5h4M110 95.5h2M114 95.5h5M102 96.5h17M96 97.5h2M99 97.5h21M94 98.5h25M120 98.5h1M94 99.5h22M118 99.5h3M92 100.5h29M122 100.5h1M84 101.5h2M90 101.5h34M80 102.5h47M80 103.5h20M102 103.5h24M81 104.5h49M79 105.5h51M79 106.5h25M105 106.5h25M80 107.5h49M82 108.5h2M87 108.5h1M89 108.5h26M116 108.5h14M90 109.5h24M119 109.5h12M92 110.5h16M110 110.5h1M122 110.5h10M94 111.5h6M104 111.5h1M126 111.5h2M130 111.5h1M92 112.5h2M98 112.5h2"/>
<path stroke="#c3b4de" d="M40 53.5h7M38 54.5h10M37 55.5h13M35 56.5h15M34 57.5h17M34 58.5h17M34 59.5h18M34 60.5h19M34 61.5h18M36 62.5h5M42 62.5h10M38 63.5h3M42 63.5h9M45 64.5h4M46 65.5h1"/>
<path stroke="#fa8072" d="M57 45.5h1M110 45.5h2M54 46.5h7M101 46.5h13M51 47.5h12M101 47.5h14M51 48.5h13M101 48.5h19M51 49.5h16M101 49.5h20M50 50.5h18M100 50.5h21M49 51.5h21M100 51.5h22M49 52.5h22M100 52.5h15M116 52.5h6M49 53.5h23M99 53.5h24M49 54.5h23M99 54.5h1M101 54.5h22M50 55.5h22M99 55.5h1M101 55.5h22M50 56.5h21M101 56.5h25M51 57.5h20M100 57.5h26M51 58.5h19M99 58.5h25M126 58.5h1M52 59.5h17M99 59.5h25M126 59.5h1M54 60.5h6M66 60.5h2M100 60.5h28M55 61.5h1M57 61.5h3M62 61.5h6M100 61.5h28M61 62.5h1M100 62.5h27M100 63.5h23M124 63.5h3M100 64.5h4M106 64.5h18M100 65.5h4M106 65.5h20M100 66.5h2M103 66.5h22M104 67.5h20M103 68.5h1M106 68.5h16M108 69.5h8M110 70.5h2"/>
<path stroke="#78acd8" d="M120 71.5h3M124 71.5h4M132 71.5h2M116 72.5h16M116 73.5h19M110 74.5h25M108 75.5h27M104 76.5h32M104 77.5h32M103 78.5h12M116 78.5h20M98 79.5h38M87 80.5h1M98 80.5h39M72 81.5h1M83 81.5h1M86 81.5h6M93 81.5h42M136 81.5h1M68 82.5h3M76 82.5h2M80 82.5h2M84 82.5h40M126 82.5h9M63 83.5h3M67 83.5h57M126 83.5h9M63 84.5h61M129 84.5h6M62 85.5h62M129 85.5h6M62 86.5h22M85 86.5h41M128 86.5h8M62 87.5h22M86 87.5h40M128 87.5h7M64 88.5h70M65 89.5h10M76 89.5h2M80 89.5h2M83 89.5h51M64 90.5h9M74 90.5h2M78 90.5h1M84 90.5h48M134 90.5h1M65 91.5h7M74 91.5h2M84 91.5h2M87 91.5h8M97 91.5h10M108 91.5h24M134 91.5h2M67 92.5h5M89 92.5h46M91 93.5h45M93 94.5h11M106 94.5h6M117 94.5h19M93 95.5h11M108 95.5h2M119 95.5h17M93 96.5h5M120 96.5h17M120 97.5h17M119 98.5h1M121 98.5h17M121 99.5h16M123 100.5h13M126 101.5h2M130 101.5h3M134 101.5h1M130 102.5h2M131 103.5h1"/>
<path stroke="#fdb366" d="M88 40.5h2M100 40.5h2M88 41.5h2M100 41.5h2M92 42.5h2M102 42.5h2M92 43.5h2M102 43.5h2M104 44.5h2M104 45.5h2M75 55.5h1M74 56.5h2M77 56.5h3M73 57.5h8M82 57.5h6M74 58.5h14M69 59.5h22M92 59.5h1M94 59.5h1M70 60.5h24M68 61.5h26M96 61.5h1M54 62.5h6M64 62.5h36M54 63.5h9M64 63.5h36M51 64.5h48M51 65.5h49M52 66.5h48M53 67.5h48M55 68.5h13M70 68.5h6M78 68.5h23M56 69.5h20M78 69.5h23M58 70.5h42M62 71.5h2M65 71.5h7M73 71.5h27M66 72.5h6M73 72.5h27M67 73.5h1M70 73.5h30M70 74.5h1M75 74.5h27M76 75.5h26M79 76.5h21M82 77.5h15M98 77.5h2M83 78.5h16M86 79.5h11M90 80.5h2M94 80.5h4"/>
<path stroke="#b4de6e" d="M86 118.5h2M90 118.5h9M100 118.5h2M84 119.5h18M118 119.5h3M78 120.5h2M81 120.5h24M106 120.5h1M111 120.5h3M116 120.5h5M122 120.5h3M78 121.5h30M110 121.5h18M130 121.5h1M77 122.5h5M84 122.5h38M124 122.5h9M77 123.5h5M84 123.5h50M76 124.5h59M76 125.5h60M78 126.5h59M79 127.5h59M80 128.5h57M80 129.5h56M82 130.5h53M83 131.5h52M84 132.5h50M88 133.5h46M90 134.5h2M94 134.5h40M94 135.5h39M98 136.5h2M101 136.5h28M102 137.5h26M105 138.5h21M105 139.5h1M108 139.5h16M108 140.5h2M111 140.5h5M118 140.5h5M112 141.5h4M118 141.5h2"/>
<path stroke="#fac0dc" d="M59 20.5h3M58 21.5h5M51 22.5h1M54 22.5h15M49 23.5h20M48 24.5h8M58 24.5h10M48 25.5h8M58 25.5h11M46 26.5h23M46 27.5h23M47 28.5h23M47 29.5h23M48 30.5h21M48 31.5h21M47 32.5h23M49 33.5h21M49 34.5h20M49 35.5h20M49 36.5h20M49 37.5h20M48 38.5h21M48 39.5h20M49 40.5h20M50 41.5h19M49 42.5h19M51 43.5h17M53 44.5h1M58 44.5h6M65 44.5h3M58 45.5h6M65 45.5h3M64 46.5h4"/>
<path stroke="#b77dc8" d="M31 70.5h3M36 70.5h2M40 70.5h9M30 71.5h21M28 72.5h12M42 72.5h8M52 72.5h6M27 73.5h13M42 73.5h16M27 74.5h39M28 75.5h39M29 76.5h12M42 76.5h28M29 77.5h43M29 78.5h45M30 79.5h2M33 79.5h7M41 79.5h15M58 79.5h17M33 80.5h23M58 80.5h15M35 81.5h37M38 82.5h30M40 83.5h23M39 84.5h1M42 84.5h21M43 85.5h19M44 86.5h18M45 87.5h17M46 88.5h15M47 89.5h12M48 90.5h9M58 90.5h1M50 91.5h6M52 92.5h2"/>
<path stroke="#007c00" d="M59 116.5h1M58 117.5h2M58 118.5h4M58 119.5h5M56 120.5h7M54 121.5h10M51 122.5h14M50 123.5h17M50 124.5h17M50 125.5h17M51 126.5h16M68 126.5h1M52 127.5h16M69 127.5h1M53 128.5h17M72 128.5h2M54 129.5h21M57 130.5h20M78 130.5h1M59 131.5h23M60 132.5h21M82 132.5h1M61 133.5h24M63 134.5h24M64 135.5h24M66 136.5h22M66 137.5h2M69 137.5h19M92 137.5h2M68 138.5h27M96 138.5h3M71 139.5h29M73 140.5h3M77 140.5h25M78 141.5h26M79 142.5h27M80 143.5h29M80 144.5h29M81 145.5h1M83 145.5h1M85 145.5h23M82 146.5h2M88 146.5h2M94 146.5h2M98 146.5h4M104 146.5h3M88 147.5h2M99 147.5h1M104 147.5h1"/>
<path stroke="#fbb6c6" d="M16 93.5h1M14 94.5h4M12 95.5h7M12 96.5h8M12 97.5h8M11 98.5h9M11 99.5h8M12 100.5h7M13 101.5h6M14 102.5h1M77 109.5h1M69 110.5h3M73 110.5h13M66 111.5h6M73 111.5h14M63 112.5h9M73 112.5h15M64 113.5h8M73 113.5h16M64 114.5h25M65 115.5h24M68 116.5h21M71 117.5h18M74 118.5h10M78 119.5h6"/>
<path stroke="#c4c4c4" d="M72 92.5h17M71 93.5h20M69 94.5h24M68 95.5h25M68 96.5h25M69 97.5h25M69 98.5h25M71 99.5h21M72 100.5h16M90 100.5h1M74 101.5h10M86 101.5h2M59 106.5h1M57 107.5h3M54 108.5h9M54 109.5h10M54 110.5h6M62 110.5h2M55 111.5h5M62 111.5h2M55 112.5h8M55 113.5h9M55 114.5h9M58 115.5h4M60 116.5h1"/>
<path stroke="#ff0000" d="M129 45.5h1M132 45.5h2M126 46.5h1M125 47.5h2M124 48.5h3M123 49.5h4M122 50.5h5M136 50.5h2M122 51.5h5M136 51.5h2M122 52.5h5M123 53.5h4M123 54.5h4M136 54.5h1M123 55.5h4M136 55.5h1M130 58.5h2M130 59.5h2M110 112.5h1M109 113.5h3M107 114.5h5M107 115.5h6M108 116.5h6M108 117.5h6M109 118.5h5M109 119.5h5M110 120.5h1"/>
<path stroke="#14f014" d="M17 83.5h3M15 84.5h8M14 85.5h11M14 86.5h12M15 87.5h12M28 87.5h1M15 88.5h15M15 89.5h18M15 90.5h24M18 91.5h22M19 92.5h22M24 93.5h17M25 94.5h17M28 95.5h13M30 96.5h10M32 97.5h8M33 98.5h6M34 99.5h1"/>
<path stroke="#ffa31a" d="M138 69.5h2M142 69.5h1M138 70.5h10M150 70.5h2M136 71.5h16M135 72.5h11M148 72.5h6M155 72.5h1M135 73.5h11M148 73.5h6M155 73.5h5M135 74.5h25M135 75.5h27M136 76.5h28M136 77.5h28M136 78.5h22M160 78.5h2M136 79.5h22M160 79.5h2M137 80.5h1M139 80.5h25M141 81.5h23M141 82.5h3M145 82.5h3M150 82.5h13M142 83.5h2M146 83.5h2M150 83.5h13M145 84.5h3M149 84.5h15M150 85.5h14M150 86.5h14M150 87.5h14M152 88.5h11M146 89.5h1M152 89.5h11M142 90.5h22M142 91.5h20M142 92.5h20M142 93.5h20M141 94.5h20M143 95.5h17M142 96.5h17M142 97.5h16M142 98.5h12M155 98.5h3M142 99.5h12M155 99.5h2M142 100.5h14M142 101.5h13M140 102.5h15M132 103.5h2M140 103.5h12M132 104.5h20M131 105.5h6M138 105.5h11M150 105.5h1M130 106.5h8M140 106.5h7M148 106.5h2M130 107.5h8M140 107.5h6M130 108.5h13M131 109.5h9M136 110.5h2"/>
</g>
<path d="M342.9 526.9C343.6 526.0 346.2 523.2 348.4 522.3C350.5 521.4 353.2 521.1 355.7 521.4C358.1 521.7 360.5 523.5 363.0 524.1C365.4 524.7 367.8 525.3 370.3 525.1C372.7 525.0 375.1 523.5 377.6 523.2C380.0 522.9 382.8 522.4 385.0 523.2C387.1 524.0 389.2 525.8 390.4 527.8C391.6 529.8 392.1 532.7 392.3 535.1C392.4 537.5 392.0 540.1 391.4 542.4C390.8 544.7 389.5 547.7 388.6 548.8C387.7 549.8 386.7 549.8 385.9 548.8C385.2 547.7 384.8 544.2 384.0 542.4C383.2 540.6 383.0 539.0 381.3 537.9C379.7 536.9 376.8 536.3 374.0 536.0C371.3 535.7 367.8 536.5 364.8 536.0C361.7 535.6 358.4 534.2 355.7 533.3C353.0 532.4 350.4 531.4 348.4 530.5C346.4 529.6 344.7 528.4 343.8 527.8C342.8 527.2 342.1 527.8 342.9 526.9Z" fill="none" stroke="#dc1c20" stroke-width="1.6" stroke-linecap="round" stroke-dasharray=".1 2.4"/>
<g transform="translate(402 517) scale(0.5)" fill="none" stroke-width="1.5">
<path stroke="#8fd5c9" d="M164 64.5h1M160 65.5h7M160 66.5h8M160 67.5h10M161 68.5h9M163 69.5h7M164 70.5h6M41 98.5h1M44 98.5h1M39 99.5h7M58 99.5h2M62 99.5h1M64 99.5h1M36 100.5h12M54 100.5h2M57 100.5h10M36 101.5h16M54 101.5h14M34 102.5h18M54 102.5h16M34 103.5h18M53 103.5h18M34 104.5h36M33 105.5h37M34 106.5h25M60 106.5h1M66 106.5h4M33 107.5h24M67 107.5h1M33 108.5h21M33 109.5h21M32 110.5h22M32 111.5h22M34 112.5h21M34 113.5h21M34 114.5h20M35 115.5h19M35 116.5h19M37 117.5h17M38 118.5h16M39 119.5h15M40 120.5h14M41 121.5h12M42 122.5h10M43 123.5h9M44 124.5h8M48 125.5h3"/>
<path stroke="#e9951c" d="M112 94.5h2M118 94.5h1M102 95.5h2M106 95.5h2M110 95.5h6M102 96.5h13M118 96.5h1M101 97.5h14M116 97.5h3M94 98.5h2M97 98.5h18M116 98.5h5M94 99.5h28M91 100.5h30M89 101.5h35M82 102.5h44M128 102.5h1M81 103.5h49M79 104.5h51M79 105.5h51M80 106.5h50M80 107.5h3M84 107.5h11M96 107.5h34M81 108.5h3M87 108.5h17M106 108.5h14M121 108.5h8M89 109.5h15M106 109.5h4M112 109.5h2M122 109.5h9M90 110.5h20M123 110.5h7M132 110.5h1M92 111.5h8M102 111.5h4M127 111.5h3M100 112.5h2M129 112.5h1"/>
<path stroke="#c3b4de" d="M42 52.5h1M42 53.5h2M38 54.5h2M46 54.5h2M38 55.5h2M46 55.5h2M40 56.5h2M44 56.5h4M50 56.5h1M40 57.5h2M44 57.5h4M50 57.5h1M34 58.5h4M46 58.5h6M34 59.5h4M46 59.5h6M34 60.5h2M44 60.5h2M52 60.5h1M34 61.5h2M44 61.5h2M38 62.5h2M42 62.5h2M48 62.5h2M38 63.5h2M42 63.5h2M48 63.5h2M46 64.5h2M46 65.5h1"/>
<path stroke="#fa8072" d="M94 44.5h2M100 44.5h4M91 45.5h1M94 45.5h4M99 45.5h6M108 45.5h2M88 46.5h27M85 47.5h1M88 47.5h28M62 48.5h2M84 48.5h32M118 48.5h1M62 49.5h2M84 49.5h36M52 50.5h2M56 50.5h2M85 50.5h37M52 51.5h2M56 51.5h2M85 51.5h37M58 52.5h2M84 52.5h39M58 53.5h2M84 53.5h39M84 54.5h40M85 55.5h1M92 55.5h32M54 56.5h2M68 56.5h2M90 56.5h2M93 56.5h1M96 56.5h28M126 56.5h1M54 57.5h2M68 57.5h2M96 57.5h29M126 57.5h1M66 58.5h2M99 58.5h26M126 58.5h1M66 59.5h2M99 59.5h28M68 60.5h1M98 60.5h28M68 61.5h1M99 61.5h29M100 62.5h28M100 63.5h28M99 64.5h28M100 65.5h2M103 65.5h24M105 66.5h1M110 66.5h4M116 66.5h8M126 66.5h1M112 67.5h2M122 67.5h2"/>
<path stroke="#78acd8" d="M118 71.5h2M132 71.5h4M116 72.5h3M120 72.5h3M124 72.5h11M111 73.5h1M115 73.5h20M110 74.5h26M105 75.5h2M109 75.5h22M132 75.5h4M106 76.5h2M110 76.5h4M115 76.5h17M134 76.5h2M103 77.5h1M106 77.5h3M110 77.5h26M103 78.5h7M112 78.5h25M99 79.5h1M102 79.5h8M112 79.5h25M94 80.5h2M100 80.5h28M130 80.5h6M70 81.5h1M85 81.5h43M130 81.5h6M66 82.5h4M82 82.5h2M86 82.5h14M102 82.5h33M63 83.5h1M66 83.5h6M80 83.5h20M102 83.5h33M62 84.5h73M62 85.5h73M62 86.5h50M114 86.5h10M126 86.5h9M63 87.5h49M114 87.5h10M126 87.5h8M64 88.5h71M65 89.5h70M65 90.5h10M78 90.5h2M84 90.5h7M92 90.5h41M134 90.5h1M66 91.5h5M72 91.5h1M86 91.5h4M92 91.5h43M70 92.5h2M89 92.5h1M93 92.5h42M93 93.5h43M93 94.5h14M108 94.5h1M114 94.5h2M119 94.5h17M93 95.5h9M104 95.5h2M118 95.5h1M120 95.5h16M93 96.5h9M120 96.5h16M94 97.5h3M119 97.5h17M121 98.5h17M92 99.5h2M122 99.5h15M122 100.5h15M124 101.5h6M134 101.5h1M132 102.5h1"/>
<path stroke="#fdb366" d="M93 35.5h1M92 36.5h2M92 37.5h2M102 40.5h2M106 40.5h4M112 40.5h1M102 41.5h2M106 41.5h4M112 41.5h2M98 44.5h2M98 45.5h1M75 55.5h1M74 56.5h8M86 56.5h2M70 57.5h18M69 58.5h1M72 58.5h20M68 59.5h26M66 60.5h2M69 60.5h7M77 60.5h18M96 60.5h1M53 61.5h1M60 61.5h2M66 61.5h2M69 61.5h29M54 62.5h5M60 62.5h1M62 62.5h1M64 62.5h32M51 63.5h1M53 63.5h44M98 63.5h1M51 64.5h1M53 64.5h46M53 65.5h47M52 66.5h49M52 67.5h49M54 68.5h48M55 69.5h47M58 70.5h2M62 70.5h38M64 71.5h36M66 72.5h35M67 73.5h5M74 73.5h27M67 74.5h5M75 74.5h27M76 75.5h26M79 76.5h23M80 77.5h21M84 78.5h13M84 79.5h12M86 80.5h8"/>
<path stroke="#b4de6e" d="M84 118.5h2M90 118.5h7M98 118.5h2M118 118.5h2M82 119.5h18M116 119.5h4M124 119.5h1M77 120.5h1M80 120.5h2M83 120.5h19M108 120.5h2M112 120.5h2M116 120.5h8M76 121.5h38M115 121.5h12M128 121.5h1M78 122.5h37M116 122.5h13M130 122.5h2M78 123.5h37M116 123.5h18M78 124.5h56M78 125.5h57M78 126.5h22M104 126.5h33M79 127.5h58M79 128.5h57M80 129.5h56M85 130.5h17M104 130.5h31M86 131.5h16M104 131.5h32M86 132.5h48M89 133.5h3M93 133.5h41M90 134.5h2M96 134.5h31M128 134.5h5M96 135.5h36M97 136.5h3M101 136.5h29M102 137.5h28M104 138.5h24M106 139.5h21M110 140.5h6M118 140.5h7M111 141.5h3M118 141.5h5"/>
<path stroke="#fac0dc" d="M59 20.5h6M56 21.5h10M50 22.5h18M49 23.5h19M48 24.5h20M48 25.5h21M46 26.5h23M45 27.5h24M46 28.5h23M46 29.5h24M48 30.5h21M48 31.5h22M47 32.5h23M47 33.5h23M48 34.5h22M48 35.5h22M48 36.5h24M48 37.5h24M49 38.5h25M49 39.5h25M50 40.5h26M50 41.5h26M49 42.5h28M50 43.5h28M51 44.5h27M52 45.5h2M57 45.5h1M59 45.5h12M72 45.5h6M64 46.5h4"/>
<path stroke="#b77dc8" d="M44 69.5h2M30 70.5h2M34 70.5h2M38 70.5h6M46 70.5h4M29 71.5h25M28 72.5h1M30 72.5h25M28 73.5h32M28 74.5h38M28 75.5h40M28 76.5h40M28 77.5h40M29 78.5h46M30 79.5h46M32 80.5h38M74 80.5h1M32 81.5h38M34 82.5h4M39 82.5h27M40 83.5h23M64 83.5h2M42 84.5h20M43 85.5h19M44 86.5h18M44 87.5h16M62 87.5h1M46 88.5h13M60 88.5h1M46 89.5h12M48 90.5h8M49 91.5h3M54 91.5h1M52 92.5h2"/>
<path stroke="#007c00" d="M60 117.5h1M60 118.5h2M58 119.5h4M55 120.5h7M53 121.5h10M54 122.5h11M53 123.5h13M52 124.5h15M52 125.5h16M52 126.5h15M68 126.5h1M53 127.5h18M53 128.5h19M74 128.5h1M54 129.5h22M56 130.5h24M57 131.5h25M58 132.5h24M61 133.5h25M61 134.5h26M63 135.5h25M66 136.5h23M66 137.5h24M67 138.5h22M90 138.5h5M69 139.5h28M98 139.5h1M76 140.5h24M102 140.5h2M77 141.5h29M79 142.5h26M108 142.5h1M80 143.5h27M108 143.5h2M82 144.5h26M84 145.5h24M84 146.5h2M89 146.5h3M94 146.5h12M90 147.5h2M96 147.5h2M100 147.5h2"/>
<path stroke="#fbb6c6" d="M16 93.5h1M14 94.5h4M12 95.5h7M12 96.5h8M12 97.5h8M11 98.5h9M11 99.5h8M12 100.5h7M13 101.5h6M14 102.5h1M77 109.5h1M69 110.5h14M85 110.5h1M66 111.5h17M85 111.5h2M64 112.5h24M64 113.5h25M64 114.5h20M86 114.5h3M65 115.5h19M86 115.5h3M68 116.5h21M71 117.5h18M74 118.5h10M77 119.5h5"/>
<path stroke="#c4c4c4" d="M72 92.5h17M71 93.5h20M69 94.5h24M68 95.5h7M77 95.5h16M68 96.5h25M69 97.5h25M69 98.5h25M71 99.5h21M73 100.5h18M74 101.5h15M59 106.5h1M57 107.5h4M54 108.5h9M54 109.5h10M54 110.5h10M55 111.5h9M55 112.5h9M55 113.5h9M55 114.5h9M58 115.5h4M60 116.5h1"/>
<path stroke="#ff0000" d="M130 46.5h2M136 46.5h1M130 47.5h2M136 47.5h1M130 48.5h2M130 49.5h2M122 50.5h4M138 50.5h1M122 51.5h4M138 51.5h1M123 52.5h3M130 52.5h2M123 53.5h3M130 53.5h2M128 54.5h2M134 54.5h2M128 55.5h2M134 55.5h2M124 56.5h2M136 56.5h1M125 57.5h1M125 58.5h1M130 58.5h2M134 58.5h1M130 59.5h2M134 59.5h1M126 60.5h2M130 60.5h2M131 61.5h1M110 112.5h1M109 113.5h3M107 114.5h5M107 115.5h6M108 116.5h6M108 117.5h6M109 118.5h5M109 119.5h5M110 120.5h1"/>
<path stroke="#14f014" d="M17 83.5h4M15 84.5h9M14 85.5h11M14 86.5h12M14 87.5h13M15 88.5h16M15 89.5h18M16 90.5h24M17 91.5h23M19 92.5h21M24 93.5h17M27 94.5h15M29 95.5h12M30 96.5h10M31 97.5h9M33 98.5h6"/>
<path stroke="#ffa31a" d="M148 69.5h1M137 70.5h11M136 71.5h13M150 71.5h2M154 71.5h2M135 72.5h7M144 72.5h15M135 73.5h26M136 74.5h26M136 75.5h27M136 76.5h26M136 77.5h26M137 78.5h26M137 79.5h1M139 79.5h24M138 80.5h16M156 80.5h6M142 81.5h12M156 81.5h6M144 82.5h20M145 83.5h19M146 84.5h18M146 85.5h2M149 85.5h1M151 85.5h13M148 86.5h2M152 86.5h11M152 87.5h11M152 88.5h12M145 89.5h1M148 89.5h2M152 89.5h11M144 90.5h20M143 91.5h21M142 92.5h20M142 93.5h20M142 94.5h20M142 95.5h16M142 96.5h20M142 97.5h17M160 97.5h1M142 98.5h8M152 98.5h8M142 99.5h8M152 99.5h8M142 100.5h16M142 101.5h14M134 102.5h2M140 102.5h14M134 103.5h4M140 103.5h14M132 104.5h20M131 105.5h16M148 105.5h1M150 105.5h2M130 106.5h16M130 107.5h14M129 108.5h15M132 109.5h11M134 110.5h6"/>
<path stroke="#0000ff" d="M69 26.5h1M72 26.5h2M72 27.5h2M134 34.5h2M134 35.5h1"/>
</g>
<path d="M433.9 526.9C434.6 526.0 437.2 523.2 439.4 522.3C441.5 521.4 444.2 521.1 446.7 521.4C449.1 521.7 451.5 523.5 454.0 524.1C456.4 524.7 458.8 525.3 461.3 525.1C463.7 525.0 466.1 523.5 468.6 523.2C471.0 522.9 473.8 522.4 476.0 523.2C478.1 524.0 480.2 525.8 481.4 527.8C482.6 529.8 483.1 532.7 483.3 535.1C483.4 537.5 483.0 540.1 482.4 542.4C481.8 544.7 480.5 547.7 479.6 548.8C478.7 549.8 477.7 549.8 476.9 548.8C476.2 547.7 475.8 544.2 475.0 542.4C474.2 540.6 474.0 539.0 472.3 537.9C470.7 536.9 467.8 536.3 465.0 536.0C462.3 535.7 458.8 536.5 455.8 536.0C452.7 535.6 449.4 534.2 446.7 533.3C444.0 532.4 441.4 531.4 439.4 530.5C437.4 529.6 435.7 528.4 434.8 527.8C433.8 527.2 433.1 527.8 433.9 526.9Z" fill="none" stroke="#dc1c20" stroke-width="1.6" stroke-linecap="round" stroke-dasharray=".1 2.4"/>
<g transform="translate(311 604) scale(0.5)" fill="none" stroke-width="1.5">
<path stroke="#8fd5c9" d="M160 63.5h5M160 64.5h7M160 65.5h8M160 66.5h10M161 67.5h9M163 68.5h7M164 69.5h6M61 97.5h1M38 98.5h6M62 98.5h4M36 99.5h11M48 99.5h3M56 99.5h11M35 100.5h19M55 100.5h13M69 100.5h1M35 101.5h33M70 101.5h1M35 102.5h37M33 103.5h38M34 104.5h37M34 105.5h25M64 105.5h2M68 105.5h3M33 106.5h24M33 107.5h21M33 108.5h21M33 109.5h21M32 110.5h6M39 110.5h15M32 111.5h1M36 111.5h2M41 111.5h13M33 112.5h20M35 113.5h18M35 114.5h6M44 114.5h4M49 114.5h5M36 115.5h5M44 115.5h10M38 116.5h3M42 116.5h12M38 117.5h16M40 118.5h13M41 119.5h12M42 120.5h11M42 121.5h9M44 122.5h6M44 123.5h6M46 124.5h4"/>
<path stroke="#e9951c" d="M110 93.5h2M104 94.5h8M101 95.5h17M99 96.5h8M108 96.5h12M94 97.5h27M92 98.5h29M92 99.5h11M105 99.5h17M82 100.5h2M90 100.5h32M82 101.5h2M86 101.5h2M89 101.5h37M128 101.5h1M81 102.5h47M80 103.5h39M120 103.5h9M80 104.5h39M120 104.5h10M80 105.5h39M120 105.5h9M80 106.5h39M120 106.5h8M83 107.5h33M118 107.5h1M120 107.5h9M83 108.5h1M88 108.5h26M123 108.5h7M89 109.5h22M124 109.5h4M94 110.5h10M128 110.5h2M98 111.5h4"/>
<path stroke="#c3b4de" d="M36 54.5h2M36 55.5h2M34 58.5h2M48 58.5h2M34 59.5h2M48 59.5h2M48 60.5h2M48 61.5h2M50 62.5h1"/>
<path stroke="#fa8072" d="M98 46.5h4M98 47.5h4M56 48.5h2M96 48.5h2M116 48.5h2M56 49.5h2M96 49.5h2M116 49.5h2M52 50.5h2M60 50.5h2M118 50.5h2M52 51.5h2M60 51.5h2M118 51.5h2M50 52.5h2M50 53.5h2M94 54.5h2M108 54.5h2M122 54.5h2M95 55.5h1M108 55.5h2M122 55.5h2M54 56.5h2M100 56.5h2M118 56.5h2M54 57.5h2M100 57.5h2M118 57.5h2M64 58.5h2M112 58.5h2M64 59.5h2M112 59.5h2M58 60.5h2M108 62.5h2M108 63.5h2M99 64.5h1"/>
<path stroke="#78acd8" d="M118 70.5h2M124 70.5h2M128 70.5h2M118 71.5h12M110 72.5h2M116 72.5h20M106 73.5h2M110 73.5h2M113 73.5h23M104 74.5h2M108 74.5h27M103 75.5h32M102 76.5h33M97 77.5h1M99 77.5h37M95 78.5h1M97 78.5h39M94 79.5h42M86 80.5h25M112 80.5h24M66 81.5h5M72 81.5h2M78 81.5h2M86 81.5h25M112 81.5h24M63 82.5h72M61 83.5h30M92 83.5h43M62 84.5h56M120 84.5h14M63 85.5h55M120 85.5h14M62 86.5h71M63 87.5h70M65 88.5h17M83 88.5h52M66 89.5h8M85 89.5h50M65 90.5h8M87 90.5h12M100 90.5h34M68 91.5h4M89 91.5h10M100 91.5h11M112 91.5h2M116 91.5h18M91 92.5h21M114 92.5h21M93 93.5h14M118 93.5h17M87 94.5h1M93 94.5h11M113 94.5h1M118 94.5h18M87 95.5h1M93 95.5h5M100 95.5h1M118 95.5h18M90 96.5h2M94 96.5h4M121 96.5h16M121 97.5h16M121 98.5h16M122 99.5h2M126 99.5h9M136 99.5h1M125 100.5h1M128 100.5h4M134 100.5h2M130 101.5h2"/>
<path stroke="#fdb366" d="M93 34.5h1M91 35.5h4M88 36.5h9M86 37.5h12M83 38.5h21M83 39.5h21M84 40.5h4M89 40.5h15M84 41.5h20M85 42.5h19M85 43.5h19M86 44.5h18M86 45.5h17M94 46.5h1M76 56.5h2M80 56.5h2M84 56.5h2M76 57.5h2M80 57.5h2M84 57.5h2M86 58.5h1M86 59.5h1M94 59.5h1M62 60.5h2M66 60.5h4M76 60.5h2M82 60.5h2M94 60.5h2M62 61.5h2M66 61.5h4M76 61.5h2M82 61.5h2M94 61.5h2M58 62.5h12M72 62.5h4M78 62.5h2M86 62.5h1M58 63.5h12M72 63.5h4M78 63.5h2M86 63.5h1M52 64.5h2M56 64.5h6M68 64.5h4M74 64.5h4M52 65.5h2M56 65.5h6M68 65.5h4M74 65.5h4M55 66.5h1M58 66.5h2M62 66.5h2M66 66.5h2M72 66.5h2M76 66.5h2M82 66.5h4M55 67.5h1M58 67.5h2M62 67.5h2M66 67.5h2M72 67.5h2M76 67.5h2M82 67.5h4M58 68.5h4M64 68.5h2M68 68.5h2M72 68.5h2M76 68.5h2M82 68.5h2M94 68.5h2M60 69.5h2M64 69.5h2M68 69.5h2M72 69.5h2M76 69.5h2M82 69.5h2M94 69.5h2M64 70.5h2M72 70.5h2M76 70.5h4M82 70.5h2M65 71.5h1M72 71.5h2M76 71.5h4M82 71.5h2M68 72.5h2M78 72.5h2M82 72.5h2M96 72.5h2M68 73.5h2M78 73.5h2M82 73.5h2M96 73.5h2M78 74.5h2M84 74.5h2M79 75.5h1M84 75.5h2M81 76.5h1M94 78.5h1"/>
<path stroke="#b4de6e" d="M90 116.5h6M86 117.5h10M99 117.5h4M84 118.5h22M124 118.5h4M76 119.5h2M79 119.5h28M108 119.5h2M117 119.5h2M124 119.5h4M75 120.5h35M111 120.5h22M75 121.5h59M76 122.5h57M134 122.5h1M76 123.5h60M77 124.5h37M116 124.5h21M79 125.5h35M116 125.5h21M77 126.5h43M123 126.5h14M78 127.5h59M82 128.5h54M82 129.5h54M82 130.5h54M83 131.5h53M87 132.5h1M89 132.5h45M90 133.5h44M94 134.5h40M100 135.5h33M100 136.5h28M102 137.5h25M104 138.5h11M116 138.5h7M124 138.5h2M107 139.5h12M120 139.5h1M114 140.5h2M120 140.5h1"/>
<path stroke="#fac0dc" d="M56 19.5h2M62 19.5h2M58 20.5h2M66 20.5h1M50 21.5h2M58 21.5h2M66 21.5h2M48 22.5h2M52 22.5h4M48 23.5h2M52 23.5h4M48 24.5h4M58 24.5h2M64 24.5h2M48 25.5h4M58 25.5h2M64 25.5h2M60 26.5h4M66 26.5h2M60 27.5h4M66 27.5h2M48 28.5h4M56 28.5h2M66 28.5h4M48 29.5h4M56 29.5h2M66 29.5h4M54 30.5h2M62 30.5h2M54 31.5h2M62 31.5h2M49 34.5h1M60 34.5h4M49 35.5h1M60 35.5h4M49 36.5h1M56 36.5h2M60 36.5h2M64 36.5h2M72 36.5h1M49 37.5h1M56 37.5h2M60 37.5h2M64 37.5h2M72 37.5h2M49 38.5h1M58 38.5h2M70 38.5h2M49 39.5h1M58 39.5h2M70 39.5h2M56 40.5h2M60 40.5h2M66 40.5h2M76 40.5h2M56 41.5h2M60 41.5h2M66 41.5h2M76 41.5h2M52 42.5h6M70 42.5h2M76 42.5h3M52 43.5h6M70 43.5h2M76 43.5h3M59 44.5h1M62 44.5h2M66 44.5h2M72 44.5h2M73 45.5h1"/>
<path stroke="#b77dc8" d="M32 68.5h2M38 68.5h2M29 69.5h1M32 69.5h12M46 69.5h2M50 69.5h2M28 70.5h25M28 71.5h28M58 71.5h2M27 72.5h35M64 72.5h1M27 73.5h39M27 74.5h40M28 75.5h42M27 76.5h1M29 76.5h4M34 76.5h40M30 77.5h44M31 78.5h31M64 78.5h8M32 79.5h30M64 79.5h5M70 79.5h1M37 80.5h27M66 80.5h3M40 81.5h24M41 82.5h1M43 82.5h20M44 83.5h17M44 84.5h18M45 85.5h18M45 86.5h17M45 87.5h16M46 88.5h14M48 89.5h11M51 90.5h3"/>
<path stroke="#007c00" d="M56 118.5h7M54 119.5h9M54 120.5h9M51 121.5h1M53 121.5h12M50 122.5h16M50 123.5h17M50 124.5h18M51 125.5h19M52 126.5h19M52 127.5h20M53 128.5h23M55 129.5h24M58 130.5h22M59 131.5h21M82 131.5h1M62 132.5h18M82 132.5h1M62 133.5h22M64 134.5h22M65 135.5h22M65 136.5h1M67 136.5h23M68 137.5h26M96 137.5h4M69 138.5h27M98 138.5h6M74 139.5h33M73 140.5h1M79 140.5h29M81 141.5h28M80 142.5h29M81 143.5h28M82 144.5h26M88 145.5h16M106 145.5h1M89 146.5h7M98 146.5h1"/>
<path stroke="#fbb6c6" d="M16 92.5h1M14 93.5h4M12 94.5h7M12 95.5h8M12 96.5h8M11 97.5h8M11 98.5h8M12 99.5h7M13 100.5h4M14 101.5h1M68 108.5h10M66 109.5h20M65 110.5h22M63 111.5h25M64 112.5h25M64 113.5h25M65 114.5h24M71 115.5h18M74 116.5h15M77 117.5h9"/>
<path stroke="#c4c4c4" d="M73 91.5h16M71 92.5h20M69 93.5h24M68 94.5h18M88 94.5h5M68 95.5h18M88 95.5h5M69 96.5h21M92 96.5h2M69 97.5h21M92 97.5h2M72 98.5h14M88 98.5h3M74 99.5h1M76 99.5h10M88 99.5h1M59 105.5h1M57 106.5h4M54 107.5h9M54 108.5h10M54 109.5h10M55 110.5h9M55 111.5h8M55 112.5h9M55 113.5h9M58 114.5h4M60 115.5h1"/>
<path stroke="#ff0000" d="M125 46.5h1M124 47.5h2M130 48.5h2M136 48.5h3M130 49.5h2M136 49.5h3M138 50.5h1M138 51.5h1M126 52.5h2M136 52.5h2M126 53.5h2M136 53.5h2M126 58.5h2M132 58.5h1M126 59.5h2M110 111.5h1M109 112.5h3M107 113.5h5M107 114.5h6M108 115.5h6M108 116.5h6M109 117.5h5M109 118.5h5M110 119.5h1"/>
<path stroke="#14f014" d="M18 81.5h2M17 82.5h4M15 83.5h8M14 84.5h10M14 85.5h12M15 86.5h13M15 87.5h15M16 88.5h17M17 89.5h22M18 90.5h22M19 91.5h22M24 92.5h18M25 93.5h16M28 94.5h13M30 95.5h10M31 96.5h8M33 97.5h5M34 98.5h1"/>
<path stroke="#ffa31a" d="M137 68.5h1M139 68.5h10M150 68.5h2M136 69.5h18M136 70.5h21M135 71.5h25M136 72.5h24M136 73.5h25M135 74.5h29M135 75.5h29M135 76.5h28M136 77.5h27M138 78.5h26M138 79.5h26M141 80.5h22M142 81.5h22M144 82.5h19M164 82.5h1M147 83.5h16M164 83.5h1M148 84.5h16M149 85.5h1M151 85.5h13M152 86.5h12M151 87.5h13M142 88.5h6M150 88.5h12M141 89.5h21M141 90.5h1M143 90.5h19M141 91.5h1M143 91.5h19M142 92.5h20M142 93.5h20M141 94.5h1M143 94.5h19M141 95.5h1M143 95.5h19M143 96.5h16M143 97.5h16M141 98.5h17M141 99.5h17M142 100.5h14M138 101.5h2M141 101.5h14M136 102.5h16M132 103.5h20M131 104.5h17M129 105.5h16M146 105.5h2M129 106.5h16M130 107.5h12M130 108.5h8M140 108.5h1M130 109.5h2"/>
<path stroke="#0000ff" d="M80 13.5h4M76 14.5h2M80 14.5h9M75 15.5h15M71 16.5h1M73 16.5h20M70 17.5h23M70 18.5h23M69 19.5h24M68 20.5h25M94 20.5h2M68 21.5h25M94 21.5h2M122 21.5h2M68 22.5h25M128 22.5h2M68 23.5h25M114 23.5h2M128 23.5h2M69 24.5h24M110 24.5h2M116 24.5h2M69 25.5h24M110 25.5h2M116 25.5h2M70 26.5h23M128 26.5h4M72 27.5h21M128 27.5h4M72 28.5h21M96 28.5h4M134 28.5h2M73 29.5h20M96 29.5h4M134 29.5h2M75 30.5h18M96 30.5h2M124 30.5h2M77 31.5h16M96 31.5h2M124 31.5h2M79 32.5h11M91 32.5h2M82 33.5h2M92 33.5h1M114 34.5h2M114 35.5h1"/>
<path stroke="#00007d" d="M152 46.5h2M152 47.5h2M158 50.5h2M158 51.5h2"/>
</g>
<path d="M342.9 613.3C343.6 612.4 346.2 609.6 348.4 608.7C350.5 607.8 353.2 607.5 355.7 607.8C358.1 608.1 360.5 609.9 363.0 610.5C365.4 611.1 367.8 611.7 370.3 611.5C372.7 611.4 375.1 609.9 377.6 609.6C380.0 609.3 382.8 608.8 385.0 609.6C387.1 610.4 389.2 612.2 390.4 614.2C391.6 616.2 392.1 619.1 392.3 621.5C392.4 623.9 392.0 626.5 391.4 628.8C390.8 631.1 389.5 634.1 388.6 635.2C387.7 636.2 386.7 636.2 385.9 635.2C385.2 634.1 384.8 630.6 384.0 628.8C383.2 627.0 383.0 625.4 381.3 624.3C379.7 623.3 376.8 622.7 374.0 622.4C371.3 622.1 367.8 622.9 364.8 622.4C361.7 622.0 358.4 620.6 355.7 619.7C353.0 618.8 350.4 617.8 348.4 616.9C346.4 616.0 344.7 614.8 343.8 614.2C342.8 613.6 342.1 614.2 342.9 613.3Z" fill="none" stroke="#dc1c20" stroke-width="1.6" stroke-linecap="round" stroke-dasharray=".1 2.4"/>
<g transform="translate(402 604) scale(0.5)" fill="none" stroke-width="1.5">
<path stroke="#8fd5c9" d="M160 63.5h5M160 64.5h7M160 65.5h8M160 66.5h10M161 67.5h9M163 68.5h7M164 69.5h6M62 97.5h1M40 98.5h4M60 98.5h2M64 98.5h4M35 99.5h3M39 99.5h15M58 99.5h2M61 99.5h7M35 100.5h33M69 100.5h1M34 101.5h37M33 102.5h27M62 102.5h9M32 103.5h28M62 103.5h9M32 104.5h38M32 105.5h27M65 105.5h3M33 106.5h24M33 107.5h21M32 108.5h22M33 109.5h21M34 110.5h14M50 110.5h4M34 111.5h14M50 111.5h4M35 112.5h19M35 113.5h19M36 114.5h17M36 115.5h17M37 116.5h17M38 117.5h16M39 118.5h14M40 119.5h13M42 120.5h10M43 121.5h8M43 122.5h8M44 123.5h7M47 124.5h3"/>
<path stroke="#e9951c" d="M110 93.5h3M114 93.5h2M103 94.5h1M105 94.5h11M118 94.5h2M100 95.5h20M95 96.5h3M99 96.5h20M94 97.5h26M92 98.5h29M92 99.5h26M120 99.5h3M90 100.5h34M81 101.5h5M88 101.5h38M81 102.5h21M104 102.5h24M80 103.5h22M104 103.5h25M79 104.5h51M80 105.5h49M83 106.5h47M86 107.5h29M116 107.5h14M88 108.5h24M114 108.5h1M118 108.5h4M124 108.5h7M89 109.5h17M108 109.5h3M124 109.5h7M132 109.5h1M91 110.5h1M98 110.5h7M127 110.5h1"/>
<path stroke="#c3b4de" d="M44 51.5h2M44 52.5h2M44 53.5h2M50 54.5h1M50 55.5h1M40 56.5h2M40 57.5h2M42 60.5h2M42 61.5h2M48 62.5h2M48 63.5h1"/>
<path stroke="#fa8072" d="M93 43.5h1M54 46.5h2M94 46.5h2M54 47.5h2M94 47.5h2M96 48.5h6M112 48.5h2M96 49.5h6M112 49.5h2M88 50.5h2M92 50.5h2M112 50.5h2M49 51.5h1M88 51.5h2M92 51.5h2M112 51.5h2M122 51.5h1M92 52.5h2M92 53.5h2M85 54.5h5M106 54.5h2M112 54.5h2M106 55.5h2M112 55.5h2M118 56.5h2M122 56.5h2M118 57.5h2M122 57.5h2M112 58.5h2M112 59.5h2M112 60.5h2M112 61.5h2M106 62.5h2M106 63.5h2M100 64.5h2M104 64.5h2M101 65.5h1M104 65.5h2M120 66.5h2M120 67.5h2M116 68.5h2"/>
<path stroke="#78acd8" d="M121 70.5h1M126 70.5h2M130 70.5h2M118 71.5h18M113 72.5h3M117 72.5h11M130 72.5h6M107 73.5h29M110 74.5h26M101 75.5h1M104 75.5h32M100 76.5h11M112 76.5h16M130 76.5h7M100 77.5h28M130 77.5h7M98 78.5h38M88 79.5h2M94 79.5h2M97 79.5h39M85 80.5h3M89 80.5h47M64 81.5h2M68 81.5h4M80 81.5h2M84 81.5h52M62 82.5h74M62 83.5h73M60 84.5h75M60 85.5h74M61 86.5h1M63 86.5h71M61 87.5h1M63 87.5h71M65 88.5h10M76 88.5h46M124 88.5h10M66 89.5h8M78 89.5h2M84 89.5h38M124 89.5h10M64 90.5h2M70 90.5h2M87 90.5h49M65 91.5h1M89 91.5h14M104 91.5h32M91 92.5h46M93 93.5h15M113 93.5h1M116 93.5h21M93 94.5h9M104 94.5h1M116 94.5h2M120 94.5h16M93 95.5h5M120 95.5h16M94 96.5h1M119 96.5h18M120 97.5h17M121 98.5h15M123 99.5h13M124 100.5h2M127 100.5h8M128 101.5h2M131 101.5h1"/>
<path stroke="#fdb366" d="M92 36.5h2M92 37.5h2M112 38.5h1M112 39.5h2M92 40.5h2M102 40.5h2M92 41.5h2M102 41.5h2M98 42.5h2M106 42.5h2M110 42.5h2M98 43.5h2M106 43.5h2M110 43.5h2M88 44.5h4M98 44.5h2M116 44.5h1M88 45.5h4M98 45.5h2M78 56.5h4M78 57.5h4M92 58.5h2M92 59.5h2M76 60.5h2M90 60.5h2M76 61.5h2M90 61.5h2M52 62.5h2M96 62.5h2M52 63.5h2M96 63.5h2M68 64.5h2M82 64.5h2M68 65.5h2M82 65.5h2M58 66.5h2M72 66.5h2M82 66.5h2M92 66.5h4M58 67.5h2M72 67.5h2M82 67.5h2M92 67.5h4M76 68.5h2M80 68.5h2M76 69.5h2M80 69.5h2M66 70.5h2M84 70.5h2M66 71.5h2M84 71.5h2M67 72.5h1M82 74.5h2M90 74.5h2M82 75.5h2M90 75.5h2M90 76.5h4M90 77.5h4M90 78.5h4M96 78.5h1"/>
<path stroke="#b4de6e" d="M86 115.5h1M94 116.5h2M101 116.5h1M82 117.5h6M90 117.5h2M93 117.5h3M100 117.5h2M79 118.5h1M83 118.5h23M118 118.5h2M78 119.5h31M115 119.5h5M122 119.5h3M76 120.5h32M110 120.5h20M75 121.5h55M76 122.5h56M77 123.5h58M136 123.5h1M78 124.5h59M78 125.5h59M80 126.5h41M124 126.5h12M80 127.5h41M124 127.5h12M80 128.5h55M136 128.5h1M81 129.5h54M136 129.5h1M85 130.5h51M86 131.5h50M87 132.5h1M90 132.5h45M93 133.5h40M96 134.5h2M100 134.5h31M102 135.5h28M105 136.5h25M108 137.5h18M128 137.5h1M109 138.5h13M124 138.5h3M112 139.5h8M124 139.5h1M118 140.5h2"/>
<path stroke="#fac0dc" d="M60 18.5h2M52 19.5h2M60 19.5h2M58 20.5h2M64 20.5h2M58 21.5h2M64 21.5h2M52 24.5h6M60 24.5h2M52 25.5h6M60 25.5h2M54 26.5h2M66 26.5h2M54 27.5h2M66 27.5h2M50 28.5h2M62 28.5h4M50 29.5h2M62 29.5h4M47 30.5h3M47 31.5h3M50 34.5h2M54 34.5h4M60 34.5h2M50 35.5h2M54 35.5h4M60 35.5h2M50 36.5h2M60 36.5h2M50 37.5h2M60 37.5h2M50 40.5h2M54 40.5h2M72 40.5h2M50 41.5h2M54 41.5h2M72 41.5h2M54 42.5h2M64 42.5h2M76 42.5h2M54 43.5h2M64 43.5h2M76 43.5h2M60 44.5h2M76 44.5h2"/>
<path stroke="#b77dc8" d="M36 68.5h2M42 68.5h4M31 69.5h1M34 69.5h4M40 69.5h6M48 69.5h2M30 70.5h22M27 71.5h1M29 71.5h25M56 71.5h2M28 72.5h36M28 73.5h38M28 74.5h42M29 75.5h41M30 76.5h44M30 77.5h45M32 78.5h40M32 79.5h37M33 80.5h1M37 80.5h31M38 81.5h26M39 82.5h23M41 83.5h21M44 84.5h16M44 85.5h16M45 86.5h15M46 87.5h14M48 88.5h8M58 88.5h2M49 89.5h1M51 89.5h5M58 89.5h1M50 90.5h2M54 90.5h2"/>
<path stroke="#007c00" d="M59 116.5h2M58 117.5h4M56 118.5h7M55 119.5h8M52 120.5h11M52 121.5h12M51 122.5h15M51 123.5h15M51 124.5h17M51 125.5h18M51 126.5h20M53 127.5h20M54 128.5h19M54 129.5h21M76 129.5h2M56 130.5h23M57 131.5h25M62 132.5h21M63 133.5h22M62 134.5h25M63 135.5h26M66 136.5h24M68 137.5h4M73 137.5h17M92 137.5h8M70 138.5h26M98 138.5h2M75 139.5h29M78 140.5h32M78 141.5h32M79 142.5h30M81 143.5h1M83 143.5h25M82 144.5h2M85 144.5h1M88 144.5h20M89 145.5h1M94 145.5h11M106 145.5h2M94 146.5h2M98 146.5h4"/>
<path stroke="#fbb6c6" d="M16 92.5h1M14 93.5h4M12 94.5h7M12 95.5h8M12 96.5h8M11 97.5h8M11 98.5h5M18 98.5h1M12 99.5h4M18 99.5h1M13 100.5h4M14 101.5h1M69 108.5h9M67 109.5h11M80 109.5h6M65 110.5h22M64 111.5h24M64 112.5h25M64 113.5h25M65 114.5h24M70 115.5h16M87 115.5h2M74 116.5h15M77 117.5h5"/>
<path stroke="#c4c4c4" d="M80 90.5h1M72 91.5h17M71 92.5h20M69 93.5h24M68 94.5h25M68 95.5h25M69 96.5h25M69 97.5h25M72 98.5h20M74 99.5h15M82 100.5h1M59 105.5h1M57 106.5h4M54 107.5h9M54 108.5h10M54 109.5h10M55 110.5h9M55 111.5h9M55 112.5h9M55 113.5h9M58 114.5h4"/>
<path stroke="#ff0000" d="M131 43.5h1M130 44.5h4M126 45.5h11M126 46.5h11M125 47.5h13M123 48.5h15M122 49.5h17M122 50.5h17M123 51.5h15M123 52.5h15M124 53.5h13M124 54.5h13M124 55.5h12M125 56.5h11M125 57.5h10M126 58.5h7M127 59.5h5M110 111.5h1M109 112.5h3M107 113.5h5M107 114.5h6M108 115.5h6M108 116.5h6M109 117.5h5M109 118.5h5M110 119.5h1"/>
<path stroke="#14f014" d="M17 82.5h4M16 83.5h7M14 84.5h11M14 85.5h12M15 86.5h12M15 87.5h6M24 87.5h6M15 88.5h9M26 88.5h6M16 89.5h23M18 90.5h22M19 91.5h22M24 92.5h17M26 93.5h15M28 94.5h13M30 95.5h10M31 96.5h9M33 97.5h6M34 98.5h1"/>
<path stroke="#ffa31a" d="M142 67.5h2M148 67.5h1M138 68.5h11M150 68.5h2M138 69.5h16M136 70.5h20M158 70.5h1M136 71.5h21M158 71.5h2M136 72.5h22M136 73.5h25M136 74.5h3M140 74.5h21M136 75.5h3M140 75.5h22M137 76.5h26M137 77.5h26M137 78.5h26M139 79.5h24M139 80.5h25M140 81.5h2M144 81.5h20M142 82.5h2M147 82.5h16M149 83.5h14M149 84.5h7M158 84.5h5M150 85.5h6M158 85.5h5M153 86.5h10M153 87.5h10M146 88.5h2M152 88.5h10M143 89.5h5M151 89.5h11M141 90.5h1M143 90.5h19M141 91.5h21M142 92.5h20M142 93.5h20M142 94.5h19M142 95.5h19M141 96.5h18M160 96.5h1M141 97.5h1M143 97.5h16M160 97.5h1M142 98.5h17M142 99.5h15M141 100.5h15M140 101.5h16M138 102.5h16M129 103.5h1M131 103.5h5M137 103.5h15M130 104.5h16M148 104.5h2M129 105.5h16M130 106.5h13M130 107.5h12M131 108.5h10M138 109.5h2"/>
<path stroke="#0000ff" d="M80 13.5h2M74 14.5h2M77 14.5h1M80 14.5h4M86 14.5h3M74 15.5h16M72 16.5h19M92 16.5h2M71 17.5h24M96 17.5h1M70 18.5h25M96 18.5h2M70 19.5h28M69 20.5h35M126 20.5h4M69 21.5h37M114 21.5h2M118 21.5h4M124 21.5h6M132 21.5h1M68 22.5h39M120 22.5h16M69 23.5h67M69 24.5h69M70 25.5h68M72 26.5h67M72 27.5h67M73 28.5h66M74 29.5h63M76 30.5h62M76 31.5h62M80 32.5h2M86 32.5h2M90 32.5h45M136 32.5h1M86 33.5h2M95 33.5h38M98 34.5h2M102 34.5h6M110 34.5h22M98 35.5h2M102 35.5h1M112 35.5h6M122 35.5h4M130 35.5h1"/>
<path stroke="#00007d" d="M144 40.5h1M145 41.5h5M145 42.5h7M146 43.5h8M148 44.5h8M150 45.5h8M151 46.5h8M151 47.5h9M152 48.5h9M152 49.5h10M152 50.5h10M152 51.5h10M153 52.5h10M153 53.5h10M153 54.5h9M154 55.5h8M154 56.5h7M155 57.5h6"/>
</g>
<path d="M433.9 613.3C434.6 612.4 437.2 609.6 439.4 608.7C441.5 607.8 444.2 607.5 446.7 607.8C449.1 608.1 451.5 609.9 454.0 610.5C456.4 611.1 458.8 611.7 461.3 611.5C463.7 611.4 466.1 609.9 468.6 609.6C471.0 609.3 473.8 608.8 476.0 609.6C478.1 610.4 480.2 612.2 481.4 614.2C482.6 616.2 483.1 619.1 483.3 621.5C483.4 623.9 483.0 626.5 482.4 628.8C481.8 631.1 480.5 634.1 479.6 635.2C478.7 636.2 477.7 636.2 476.9 635.2C476.2 634.1 475.8 630.6 475.0 628.8C474.2 627.0 474.0 625.4 472.3 624.3C470.7 623.3 467.8 622.7 465.0 622.4C462.3 622.1 458.8 622.9 455.8 622.4C452.7 622.0 449.4 620.6 446.7 619.7C444.0 618.8 441.4 617.8 439.4 616.9C437.4 616.0 435.7 614.8 434.8 614.2C433.8 613.6 433.1 614.2 433.9 613.3Z" fill="none" stroke="#dc1c20" stroke-width="1.6" stroke-linecap="round" stroke-dasharray=".1 2.4"/>
<path d="M312.7 519.5V597.7M312.7 604.6V680H400M404.3 680H491.3" fill="none" stroke="#111" stroke-width="1.4"/>
<text x="306.9" y="524.875" font-size="8.2" text-anchor="end" textLength="8.57274" lengthAdjust="spacingAndGlyphs">50</text>
<text x="306.9" y="542.688" font-size="8.2" text-anchor="end" textLength="8.57274" lengthAdjust="spacingAndGlyphs">25</text>
<text x="306.9" y="560.5" font-size="8.2" text-anchor="end" textLength="4.28637" lengthAdjust="spacingAndGlyphs">0</text>
<text x="306.9" y="578.312" font-size="8.2" text-anchor="end" textLength="13.0747" lengthAdjust="spacingAndGlyphs">−25</text>
<text x="306.9" y="596.125" font-size="8.2" text-anchor="end" textLength="13.0747" lengthAdjust="spacingAndGlyphs">−50</text>
<text x="306.9" y="611.275" font-size="8.2" text-anchor="end" textLength="8.57274" lengthAdjust="spacingAndGlyphs">50</text>
<text x="306.9" y="629.087" font-size="8.2" text-anchor="end" textLength="8.57274" lengthAdjust="spacingAndGlyphs">25</text>
<text x="306.9" y="646.9" font-size="8.2" text-anchor="end" textLength="4.28637" lengthAdjust="spacingAndGlyphs">0</text>
<text x="306.9" y="664.712" font-size="8.2" text-anchor="end" textLength="13.0747" lengthAdjust="spacingAndGlyphs">−25</text>
<text x="306.9" y="682.525" font-size="8.2" text-anchor="end" textLength="13.0747" lengthAdjust="spacingAndGlyphs">−50</text>
<text x="334.5" y="692.4" font-size="8.1" text-anchor="middle">−25</text>
<text x="356.75" y="692.4" font-size="8.1" text-anchor="middle">0</text>
<text x="379" y="692.4" font-size="8.1" text-anchor="middle">25</text>
<text x="425.5" y="692.4" font-size="8.1" text-anchor="middle">−25</text>
<text x="447.75" y="692.4" font-size="8.1" text-anchor="middle">0</text>
<text x="470" y="692.4" font-size="8.1" text-anchor="middle">25</text>
<path d="M309 522.0H312.4M309 539.8H312.4M309 557.6H312.4M309 575.4H312.4M309 593.2H312.4M309 608.4H312.4M309 626.2H312.4M309 644.0H312.4M309 661.8H312.4M309 679.6H312.4M334.5 680.5V683.5M356.8 680.5V683.5M379.0 680.5V683.5M425.5 680.5V683.5M447.8 680.5V683.5M470.0 680.5V683.5" stroke="#111" stroke-width="1.2"/>
<text x="389.5" y="705.6" font-size="9" textLength="23.8" lengthAdjust="spacingAndGlyphs">tSNE_1</text>
<text x="286.6" y="601" font-size="9" text-anchor="middle" textLength="23.8" lengthAdjust="spacingAndGlyphs" transform="rotate(-90 286.6 601)">tSNE_2</text>
<text x="365.4" y="516.9" font-size="9.3" text-anchor="middle" textLength="13.2" lengthAdjust="spacingAndGlyphs">WT</text>
<text x="452.4" y="516.9" font-size="9.5" textLength="3.3" lengthAdjust="spacingAndGlyphs">J</text>
<text x="456.4" y="514.4" font-size="6.3" textLength="8.4" lengthAdjust="spacingAndGlyphs">VF</text>
<text x="336.3" y="605.2" font-size="9.5" textLength="3.3" lengthAdjust="spacingAndGlyphs">J</text>
<text x="340" y="602.7" font-size="6.3" textLength="7.8" lengthAdjust="spacingAndGlyphs">VF</text>
<text x="348.6" y="605.2" font-size="9.5" textLength="5.6" lengthAdjust="spacingAndGlyphs">P</text>
<text x="354.7" y="602.7" font-size="6.3" textLength="10.8" lengthAdjust="spacingAndGlyphs">−/−</text>
<text x="368.4" y="605.2" font-size="9.5" textLength="32.6" lengthAdjust="spacingAndGlyphs">Pre-PEL</text>
<text x="424" y="605.2" font-size="9.5" textLength="3.3" lengthAdjust="spacingAndGlyphs">J</text>
<text x="427.7" y="602.7" font-size="6.3" textLength="7.8" lengthAdjust="spacingAndGlyphs">VF</text>
<text x="436.3" y="605.2" font-size="9.5" textLength="5.6" lengthAdjust="spacingAndGlyphs">P</text>
<text x="442.4" y="602.7" font-size="6.3" textLength="10.8" lengthAdjust="spacingAndGlyphs">−/−</text>
<text x="456" y="605.2" font-size="9.5" textLength="15.6" lengthAdjust="spacingAndGlyphs">PEL</text>
<text x="473" y="616.8" font-size="9.5" fill="#2f6aa8" textLength="38.4" lengthAdjust="spacingAndGlyphs">Leukemia</text>
</g>
</svg>
</body></html>
